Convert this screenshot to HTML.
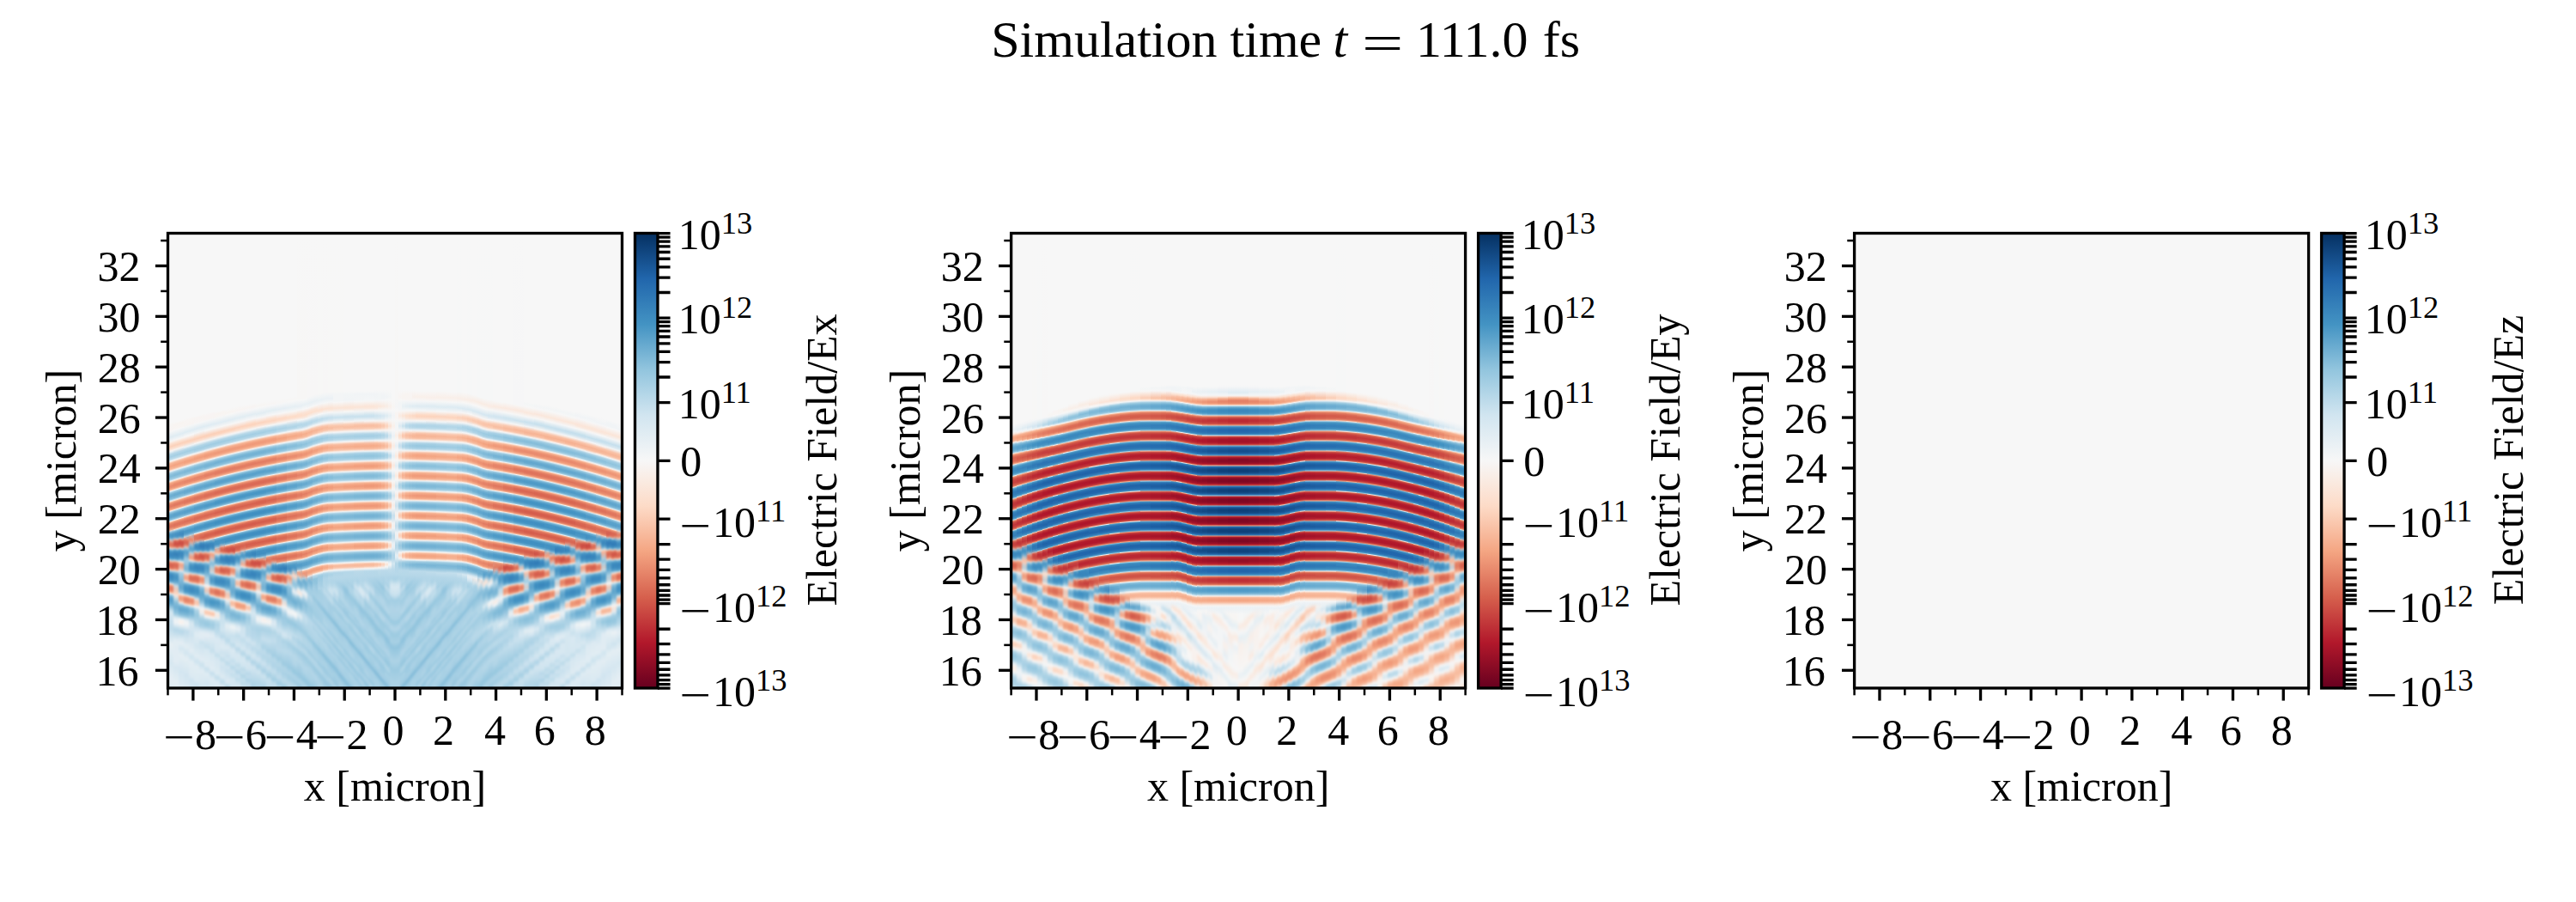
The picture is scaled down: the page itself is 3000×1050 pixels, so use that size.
<!DOCTYPE html>
<html lang="en"><head><meta charset="utf-8"><title>Simulation time t = 111.0 fs</title>
<style>
html,body{margin:0;padding:0;background:#fff;overflow:hidden}
#fig{position:relative;width:3000px;height:1050px;background:#fff;overflow:hidden;font-family:"Liberation Serif","Times New Roman",Times,serif}
.hm{position:absolute;top:271px;height:531px;width:530px;background:#f7f7f7;overflow:hidden}
.hm i{position:absolute;top:-8px;height:546px;display:block}
.lo{position:absolute;left:0;top:0;width:530px;height:531px;filter:blur(1.2px)}
.hm b{position:absolute;display:block}
svg{position:absolute;left:0;top:0}
text{font-family:"Liberation Serif","Times New Roman",Times,serif;fill:#000}
</style></head><body>
<div id="fig">
<div class="hm" style="left:195px"><div class="lo"><b style="left:-6px;top:332px;width:7px;height:206px;transform:skewY(11.31deg);background:linear-gradient(#3580b9,#3a87bd 3px,#519cc8 5px,#72b1d3 6px,#b3d6e7 7px,#f9c2a7 8px,#ec9374 9px,#e37e64 10px,#de735b 12px,#e68469 14px,#f19d7c 15px,#fcd7c2 16px,#b2d5e7 17px,#7cb7d7 18px,#529cc8 20px,#4997c5 22px,#559ec9 24px,#79b5d5 26px,#9ccae1 27px,#e2edf3 28px,#fbcfb8 29px,#f5ad8d 30px,#f09c7b 32px,#f6b394 34px,#fbe2d4 35px,#c6dfed 36px,#8ec2dc 37px,#6dadd1 38px,#4a98c5 40px,#3f8ec1 43px,#4393c3 45px,#5ea4cc 47px,#7ab6d6 48px,#aed3e6 49px,#fcdecb 50px,#f19f7d 51px,#e58368 52px,#db6d57 54px,#db6b56 56px,#e37f64 58px,#ee9777 59px,#fac7ad 60px,#bad9e9 61px,#7cb7d6 62px,#5ca3cb 63px,#408fc1 65px,#3986bc 68px,#3f8ec0 71px,#58a0ca 73px,#74b2d4 74px,#a5cee3 75px,#fae7dc 76px,#f4a683 77px,#e17960 79px,#dc6d57 81px,#de725b 83px,#e98c6f 85px,#f5a886 86px,#fbe4d7 87px,#b2d5e7 88px,#83bcd9 89px,#68aad0 90px,#4d99c6 92px,#4494c3 94px,#4c98c6 97px,#6bacd1 100px,#a6cfe4 103px,#e7eff4 105px,#f9ece4 107px,#faeae1 109px,#f7f7f7 111px,#b8d8e9 116px,#add3e6 120px,#d1e5f0 132px,#d4e6f1 139px,#e6eff4 145px,#d7e8f1 166px,#e4eef3 177px,#dbeaf2 193px,#e5eef4 205px)"></b><b style="left:1px;top:333px;width:6px;height:205px;transform:skewY(11.31deg);background:linear-gradient(#4893c3,#569dc9 1px,#8fb5cb 3px,#e3b1a0 6px,#ee9d81 7px,#ea8d70 8px,#e98c6f 9px,#ed9a7d 10px,#e4ad9c 11px,#b2b7be 13px,#78b1d2 15px,#4b95c4 17px,#408ec0 19px,#4695c4 21px,#579fca 22px,#76b3d4 23px,#adc5d2 24px,#cfb9b4 25px,#e0a697 26px,#e17b63 28px,#dc6f59 30px,#e37e64 32px,#ed9576 33px,#f9cbb4 34px,#bad9e9 35px,#78b4d5 36px,#57a0ca 37px,#3e8cbf 39px,#3884bc 42px,#4190c2 45px,#509bc7 46px,#6dadd1 47px,#a6cfe4 48px,#f6d4c3 49px,#ee9778 50px,#db6b56 52px,#d6604d 54px,#d86651 56px,#e58368 58px,#f4a684 59px,#f3efed 60px,#93c5de 61px,#68aacf 62px,#4291c2 64px,#3a87bd 67px,#4392c2 71px,#63a7ce 73px,#82bbd9 74px,#b8d8e9 75px,#fbdece 76px,#f4aa89 77px,#eb9173 78px,#e27b62 81px,#e58368 83px,#f2a180 85px,#f8bea1 86px,#f7f5f3 87px,#b5d7e8 88px,#78b4d5 90px,#5fa5cd 92px,#579fca 95px,#68abd0 99px,#c7e0ec 107px,#d4e6f0 110px,#c0dceb 128px,#e6eff4 146px,#d7e8f1 168px,#e5eef4 186px,#ddebf2 204px)"></b><b style="left:7px;top:334px;width:6px;height:204px;transform:skewY(11.31deg);background:linear-gradient(#d5a499,#e07a64 2px,#d86552 4px,#dc6d57 6px,#e37e64 7px,#f1a78b 8px,#cfc8c6 9px,#90bfd9 10px,#5ca2cb 11px,#3a86bd 13px,#317bb7 16px,#4391c2 20px,#64a8ce 21px,#b5cad6 22px,#e9b09d 23px,#e27b62 24px,#d66150 25px,#cb4b43 28px,#d7634f 31px,#e17a61 32px,#f4b093 33px,#bfd9e6 34px,#6cadd1 35px,#4a97c5 36px,#337eb8 40px,#4594c3 45px,#5ca3cc 46px,#87beda 47px,#e4ebef 48px,#f5ab89 49px,#e6866a 50px,#df745c 51px,#d86652 54px,#e48166 57px,#ee997a 58px,#f9c7af 59px,#d3e6f0 60px,#8fc3dd 61px,#6eaed2 62px,#4f9ac7 64px,#4592c3 67px,#4b98c6 70px,#69abd0 73px,#abd1e5 76px,#c9dce4 77px,#d7d4d3 78px,#e9c7b8 81px,#fbd6c2 86px,#f5e6de 88px,#c0d8e3 92px,#82bbd8 97px,#70b0d3 102px,#8cc1dc 108px,#abd2e5 111px,#dbeaf2 114px,#eff3f5 117px,#eaf1f5 121px,#bcdaea 127px,#b8d8e9 129px,#e2edf3 141px,#e1ecf3 166px,#d6e7f1 172px,#e4eef3 189px,#ddebf2 203px)"></b><b style="left:13px;top:335px;width:6px;height:203px;transform:skewY(11.31deg);background:linear-gradient(#cc4c43,#c94641 3px,#d55e4c 5px,#e17a61 6px,#e9bbaa 7px,#9cc6dc 8px,#549dc9 9px,#3480b9 11px,#2c74b3 14px,#327db8 17px,#4894c4 19px,#78b4d5 20px,#d6c9c4 21px,#e98d71 22px,#d96853 23px,#d15648 24px,#ca4942 27px,#d96753 30px,#e58368 31px,#f0baa4 32px,#bcd6e3 33px,#71b0d3 34px,#509bc8 35px,#4190c2 36px,#3986bc 39px,#4592c3 43px,#63a7ce 45px,#a6cfe4 47px,#eff3f5 48px,#f8ccb6 49px,#f4b398 50px,#f0a78c 51px,#eea58c 53px,#eebdaa 56px,#dbe8ee 59px,#bad9e9 60px,#9fcbe2 62px,#63a7ce 77px,#6bacd1 80px,#8dc1dc 83px,#a6cfe4 84px,#f8f1ec 86px,#fac9b0 87px,#f6b292 88px,#f3a585 89px,#ef9d7e 91px,#f3aa8b 93px,#f7d2bf 95px,#ebe8e6 96px,#c3deec 97px,#9ccae1 98px,#86bdda 99px,#6cadd1 101px,#62a6cd 104px,#81bad8 109px,#add3e6 112px,#deebf2 114px,#f7f6f5 116px,#f9f0ea 118px,#f7f5f4 120px,#bfdceb 127px,#b8d8e9 130px,#d8e8f1 137px,#e4eef4 143px,#d5e7f1 149px,#e4eef3 157px,#d4e6f1 176px,#e3edf3 202px)"></b><b style="left:19px;top:337px;width:6px;height:201px;transform:skewY(11.31deg);background:linear-gradient(#c53f3d,#d86652 3px,#e99278 4px,#cfc5c2 5px,#75b2d4 6px,#4895c4 7px,#347fb9 9px,#2f78b5 12px,#4793c3 16px,#66a9cf 17px,#aecad9 18px,#ecbeab 19px,#e7886c 20px,#dd7059 21px,#d66150 24px,#de745d 26px,#e68a71 27px,#e7a591 28px,#c1ccd2 30px,#92c3dd 31px,#70afd2 32px,#549ec9 35px,#63a7ce 38px,#95c4dd 42px,#a1cce2 44px,#98c6df 48px,#7cb6d6 52px,#7cb7d6 55px,#a9d1e5 58px,#d7e8f1 59px,#f1dfd6 60px,#f3b59c 62px,#efa286 64px,#f0a78b 66px,#f4c9b5 68px,#e7e3e0 69px,#b1d5e7 70px,#87beda 71px,#6cadd1 72px,#4d99c6 74px,#408fc1 77px,#4594c4 80px,#5ca3cc 82px,#96c7df 84px,#dfecf3 85px,#f9c6ac 86px,#f3a280 87px,#ea8e70 88px,#e48065 90px,#e6856a 92px,#f2a17f 94px,#f8bc9f 95px,#f9efe9 96px,#c0dceb 97px,#97c8e0 98px,#80bad8 99px,#68abd0 101px,#62a7ce 103px,#7fb9d7 108px,#a9d1e5 111px,#d7e8f1 113px,#f2f4f5 116px,#ebf1f5 120px,#c0dceb 127px,#e2edf3 144px,#d3e6f0 152px,#e3eef3 159px,#d2e5f0 179px,#e1ecf3 200px)"></b><b style="left:25px;top:338px;width:6px;height:200px;transform:skewY(11.31deg);background:linear-gradient(#d76352,#e17b64 1px,#e2a18f 2px,#cabcb9 3px,#94c2da 4px,#5da3cc 5px,#4594c3 6px,#3a87bd 9px,#4994c4 12px,#5ba0ca 13px,#7db4d5 14px,#c7c0bf 16px,#e8b8a6 17px,#ee9a7b 18px,#e8896d 19px,#e88a6d 20px,#e5aa97 22px,#91b9d0 26px,#65a8ce 28px,#5aa2cb 30px,#69abd0 32px,#7db7d7 33px,#a3cbe0 34px,#d5bfb8 36px,#e7a995 38px,#ec9d84 40px,#f3ad91 42px,#f9cab3 43px,#e8f0f4 44px,#9dcbe1 45px,#5fa5cd 47px,#4694c3 49px,#3f8dc0 52px,#4392c2 54px,#5ca3cc 56px,#77b4d5 57px,#a6cfe4 58px,#f8e5da 59px,#f3a686 60px,#e17860 62px,#db6c56 64px,#dd715a 66px,#ea8e71 68px,#f6b191 69px,#f0f4f6 70px,#96c7df 71px,#6dadd1 72px,#559ec9 73px,#408fc1 75px,#3c89be 78px,#4393c3 81px,#62a7ce 83px,#7fb9d8 84px,#add3e6 85px,#f7ebe4 86px,#f7b698 87px,#f09d7c 88px,#e8896d 90px,#e98c6f 92px,#f3a483 94px,#f7ba9c 95px,#fbe4d7 96px,#dfecf3 97px,#add3e6 98px,#96c7df 99px,#7cb7d6 101px,#74b2d4 103px,#82bbd8 107px,#c9e1ee 114px,#d8e8f1 117px,#cee3ef 129px,#e2edf3 149px,#d0e5f0 156px,#e2edf3 162px,#dceaf2 178px,#d0e4f0 183px,#dae9f2 199px)"></b><b style="left:31px;top:339px;width:6px;height:199px;transform:skewY(11.31deg);background:linear-gradient(#a0b7c6,#80b6d5 1px,#5fa4cc 2px,#4f9ac7 3px,#4896c4 6px,#67a9cf 8px,#8eb9d1 9px,#aeb7bf 10px,#e49480 13px,#df755d 15px,#e17a61 17px,#e98d6f 18px,#f1b8a1 19px,#c5c9cd 20px,#8cbeda 21px,#5fa4cc 22px,#3f8cbf 24px,#3985bc 27px,#4996c5 30px,#63a7ce 31px,#99c7df 32px,#e3cfc6 33px,#eea084 34px,#e27c62 35px,#d45c4c 38px,#d7634f 40px,#e58368 42px,#f5ad8d 43px,#d5e7f0 44px,#7eb8d7 45px,#58a0ca 46px,#3d8bbf 48px,#3783bb 51px,#4393c3 55px,#579fca 56px,#76b3d5 57px,#b1d5e7 58px,#fbcdb6 59px,#ee9878 60px,#e37f65 61px,#db6b55 63px,#dd7059 66px,#ea8d70 68px,#f5ad8d 69px,#f8f1ed 70px,#a3cee3 71px,#7ab6d6 72px,#61a6cd 73px,#4896c5 75px,#4190c1 78px,#4997c5 81px,#60a5cd 83px,#88bfdb 85px,#d1e2ea 87px,#e6dbd5 88px,#f4c9b5 90px,#f7c5ad 92px,#f9d1bd 94px,#f8efea 96px,#ecf2f5 97px,#c2ddeb 99px,#aad1e5 101px,#99c9e0 106px,#b4d6e8 117px,#d0e4f0 122px,#dfecf3 128px,#d3e6f0 142px,#e1edf3 154px,#cee3ef 160px,#e1edf3 166px,#dbeaf2 182px,#cde3ef 187px,#d3e6f0 198px)"></b><b style="left:37px;top:341px;width:6px;height:197px;transform:skewY(11.31deg);background:linear-gradient(#3884bb,#4291c2 3px,#57a0ca 4px,#8cbfdb 5px,#ccc0bd 6px,#e6a08c 7px,#df765f 8px,#d55f4f 9px,#cc4c44 11px,#d25749 14px,#da6954 15px,#e98c70 16px,#dbcac3 17px,#82b9d8 18px,#4e98c6 19px,#3c89be 20px,#2f78b5 24px,#408fc1 28px,#59a1cb 29px,#97c6df 30px,#f2ccba 31px,#e8886c 32px,#d45c4b 34px,#ce5146 36px,#d25849 38px,#df745c 40px,#ec9375 41px,#f5d6c7 42px,#9ccae1 43px,#68aad0 44px,#4190c1 46px,#3986bc 49px,#3e8cc0 52px,#4f9bc7 54px,#7fb9d7 56px,#abd2e5 57px,#f3ebe6 58px,#f7bea3 59px,#f1a384 60px,#ec9577 61px,#e98c70 63px,#ec9678 65px,#f6b395 67px,#faceb8 68px,#f7f4f2 69px,#a6cfe4 71px,#82bad8 73px,#6aacd0 76px,#61a6cd 80px,#6aacd0 84px,#85bcd9 88px,#e4eef4 95px,#f5f3f1 97px,#f4ece7 99px,#eaedee 102px,#a9d1e4 108px,#9ccae1 112px,#a9d1e5 117px,#d6e7f1 122px,#e2edf3 125px,#dfebf3 131px,#cbe2ee 136px,#e1ecf3 156px,#cbe2ee 162px,#e0ecf3 169px,#cfe4ef 196px)"></b><b style="left:43px;top:342px;width:6px;height:196px;transform:skewY(11.31deg);background:linear-gradient(#327cb7,#418fc1 2px,#62a6cd 3px,#bbccd5 4px,#eda48c 5px,#db6c57 6px,#d05448 7px,#c43d3c 10px,#cf5246 13px,#d96853 14px,#ec997e 15px,#c5ccd0 16px,#67aacf 17px,#4290c2 18px,#2e77b5 22px,#4491c2 27px,#5da4cc 28px,#96c6df 29px,#f0d7cb 30px,#ee9777 31px,#db6b55 33px,#d7624f 35px,#db6c56 37px,#e88c70 39px,#f2af95 40px,#e9d5cb 41px,#b4d6e7 42px,#82bbd9 43px,#6aabd0 44px,#539dc9 46px,#4f9ac7 48px,#65a9cf 53px,#add0e2 60px,#c7dbe5 66px,#f7f6f6 69px,#f8e8de 70px,#f0caba 73px,#e7c8bb 75px,#dad3d0 77px,#afd3e6 79px,#8fc2dd 80px,#6bacd1 82px,#529cc8 86px,#59a1ca 89px,#78b4d5 92px,#a0cce2 94px,#eaf1f5 96px,#fcdac6 98px,#facbb3 99px,#fac9b0 101px,#f9ece4 104px,#f2f5f6 105px,#a8d0e4 109px,#97c8e0 113px,#9fcce2 116px,#d6e7f1 122px,#e5eef4 126px,#c7e0ed 140px,#d7e8f1 144px,#dfecf3 157px,#deebf2 162px,#c9e1ee 166px,#dfecf3 172px,#d4e6f1 183px,#d9e9f2 195px)"></b><b style="left:49px;top:344px;width:6px;height:194px;transform:skewY(11.31deg);background:linear-gradient(#4794c3,#72b0d3 1px,#d2cdcb 2px,#ea9074 3px,#da6853 4px,#d05548 5px,#c94641 8px,#d86653 11px,#e68970 12px,#ddb9ae 13px,#a1c7dc 14px,#5ca3cc 15px,#4291c2 16px,#3580b9 19px,#3c89be 22px,#529bc7 24px,#69abd0 25px,#c3d8e2 27px,#f3dbce 28px,#f7b596 29px,#f2a585 30px,#f0a386 31px,#dfb3a5 34px,#afccdb 38px,#8cc0dc 40px,#87beda 41px,#91c3dd 43px,#a1cce1 44px,#c4c9cc 47px,#cfcac8 49px,#cfd6da 51px,#c3dce9 52px,#8cc1dc 54px,#6aabd0 56px,#569fc9 58px,#4e99c6 61px,#5fa4cc 64px,#85bdda 66px,#abd1e5 67px,#f6f5f5 68px,#f8bca0 69px,#f19e7e 70px,#e58267 72px,#e37e64 74px,#ea8d70 76px,#f1a181 77px,#f9c8b0 78px,#e1ecf1 79px,#9ac9e0 80px,#77b4d5 81px,#549ec9 83px,#4494c3 86px,#4f9bc7 89px,#65a8cf 91px,#a7d0e4 94px,#f6f3f1 96px,#fce0d0 97px,#fbceb6 98px,#fac6ac 100px,#fbcdb5 101px,#f7f5f3 104px,#afd4e6 108px,#a0cce2 112px,#a8d0e4 116px,#d4e6f0 121px,#e0ecf3 125px,#c7e0ed 143px,#d7e8f1 147px,#dfebf3 162px,#ddebf2 165px,#c6dfed 169px,#deebf2 175px,#d4e6f1 193px)"></b><b style="left:55px;top:346px;width:6px;height:192px;transform:skewY(11.31deg);background:linear-gradient(#e8c5b6,#eb9173 1px,#e0765e 2px,#d86652 4px,#dd715b 6px,#df9d8c 8px,#b4bcc3 10px,#8bbdd8 11px,#61a6cd 12px,#4d99c6 13px,#4291c2 15px,#4b97c5 17px,#76b1d3 19px,#c8b7b4 22px,#f2ae93 25px,#f6af8f 26px,#f9c4a9 27px,#e8dcd6 28px,#bfd5e0 29px,#78b4d5 31px,#63a7ce 32px,#509ac7 34px,#4c98c6 36px,#69abd0 39px,#86bdda 40px,#bfdbea 41px,#edd2c5 42px,#f2ae93 43px,#ea9174 44px,#e17a61 46px,#e68469 49px,#ed9677 50px,#f8ba9d 51px,#e6eff4 52px,#92c5de 53px,#6bacd1 54px,#4594c4 56px,#3b89be 59px,#3f8ec0 62px,#549ec9 64px,#6cadd1 65px,#94c6df 66px,#ecf2f5 67px,#f6b394 68px,#eb9172 69px,#e37e64 70px,#dc6e58 72px,#dd715a 74px,#e7886c 76px,#f3a380 77px,#fcd7c2 78px,#c4dfec 79px,#8cc1dc 80px,#6fafd2 81px,#539dc8 83px,#4a97c5 85px,#64a8ce 90px,#97c8df 93px,#e8eff2 96px,#f8eae1 99px,#e7f0f4 103px,#c1ddeb 106px,#b1d5e7 110px,#bedceb 119px,#dae9f2 127px,#d6e7f1 141px,#c4dfec 146px,#d6e7f1 150px,#ddebf2 167px,#c3deec 172px,#dceaf2 177px,#dceaf2 191px)"></b><b style="left:61px;top:347px;width:6px;height:191px;transform:skewY(11.31deg);background:linear-gradient(#e98b6e,#ed9a7d 2px,#e6b1a0 3px,#8eb6ce 6px,#549cc8 8px,#3e8cc0 11px,#4f9bc7 14px,#6bacd1 15px,#a4c3d4 16px,#ccb8b4 17px,#e0a190 18px,#e3826b 19px,#db6c57 20px,#d55f4e 22px,#db6d57 24px,#e48066 25px,#f4aa8a 26px,#d3dee4 27px,#7eb8d7 28px,#579fca 29px,#3c89be 31px,#3682ba 34px,#4c99c6 38px,#69abd0 39px,#a4cee3 40px,#f8d0bd 41px,#ec9273 42px,#d96753 44px,#d45c4b 46px,#d86450 48px,#e58267 50px,#f4a684 51px,#f2f2f2 52px,#8fc3dd 53px,#65a8cf 54px,#4190c2 56px,#3a87bd 59px,#4392c3 63px,#65a8cf 65px,#85bdd9 66px,#bedbeb 67px,#fadbcb 68px,#f4aa8a 69px,#ec9274 70px,#e37d63 73px,#e7876b 75px,#f4a886 77px,#fac9b0 78px,#eff3f6 79px,#b2d5e7 80px,#91c4dd 81px,#71b0d3 83px,#63a7ce 86px,#70b0d3 90px,#bcdaea 98px,#c9e1ed 101px,#d1e5f0 115px,#bcdaea 123px,#d6e7f1 128px,#dceaf2 135px,#cee3ef 142px,#d3e6f0 145px,#c1ddeb 150px,#d4e6f0 154px,#cee3ef 159px,#dceaf2 170px,#bfdceb 176px,#dae9f2 181px,#dbeaf2 190px)"></b><b style="left:67px;top:349px;width:6px;height:189px;transform:skewY(11.31deg);background:linear-gradient(#e1cac0,#9fc6dc 1px,#63a7ce 2px,#4994c4 3px,#317cb7 7px,#3f8ec0 11px,#569fc9 12px,#9ac7df 13px,#e3bbad 14px,#e48167 15px,#ce4f45 17px,#c7433f 20px,#d05548 22px,#da6954 23px,#eb9173 24px,#dbd8d6 25px,#76b3d4 26px,#4b98c6 27px,#3d8abf 28px,#317cb7 31px,#3a87bd 35px,#569fc9 37px,#7fb9d8 38px,#dfeaf0 39px,#f5a987 40px,#e58368 41px,#dd7059 42px,#d6614f 45px,#e27b62 48px,#ec9374 49px,#f8bea2 50px,#ddeaf2 51px,#90c4dd 52px,#6daed1 53px,#4d99c6 55px,#4391c2 58px,#4997c5 61px,#67aacf 64px,#8dc2dc 66px,#cbdde6 68px,#dbd6d3 69px,#e9c9ba 71px,#f2c6b2 73px,#f8ccb7 75px,#fbdfce 77px,#f0eeed 79px,#97c7df 86px,#84bcd9 91px,#94c6de 98px,#dae9f2 106px,#e4eef3 109px,#bbdaea 126px,#dceaf2 133px,#cae1ee 144px,#d0e5f0 148px,#bddbea 152px,#d1e5f0 157px,#c9e1ee 161px,#dae9f2 172px,#d7e8f1 175px,#bbdaea 179px,#c2ddec 188px)"></b><b style="left:73px;top:350px;width:6px;height:188px;transform:skewY(11.31deg);background:linear-gradient(#6cadd1,#4592c3 1px,#327cb7 3px,#2c74b3 6px,#3581ba 9px,#3e8cbf 10px,#58a0ca 11px,#adcedf 12px,#f0ac93 13px,#dd6f59 14px,#ca4842 16px,#c53e3d 18px,#c94741 20px,#da6a55 22px,#eb9579 23px,#d7d0cd 24px,#7bb6d6 25px,#4f9bc7 26px,#3a86bd 28px,#3783bb 32px,#3e8cc0 34px,#59a1cb 36px,#77b4d5 37px,#a4cee3 38px,#f7f3f0 39px,#f7b79a 40px,#f09e7f 41px,#e98d70 43px,#eb9377 45px,#f1ad94 47px,#efd4c7 49px,#e2e7e9 50px,#a0cce2 52px,#88beda 54px,#69abd0 67px,#6eaed2 70px,#86bcd9 73px,#aad1e5 75px,#ebf1f3 77px,#fae7dc 78px,#fbcfb8 79px,#f9c1a5 80px,#f7ba9d 82px,#f8c8b0 84px,#f2e4dc 86px,#e2eaef 87px,#a7d0e4 89px,#97c7df 90px,#82bbd8 92px,#79b5d5 95px,#99c9e0 101px,#ddebf2 106px,#eef3f5 109px,#c9e1ee 119px,#cce3ef 126px,#bddbea 130px,#dae9f2 136px,#d5e7f1 144px,#c5dfed 148px,#cde3ef 152px,#b9d9e9 156px,#cee3ef 161px,#c4dfec 165px,#d5e7f1 170px,#d1e5f0 187px)"></b><b style="left:79px;top:352px;width:6px;height:186px;transform:skewY(11.31deg);background:linear-gradient(#3784bb,#2e77b4 4px,#4693c3 8px,#68aad0 9px,#bdd1db 10px,#f2ab8f 11px,#e0775e 12px,#d6614e 13px,#ce5146 15px,#d15649 17px,#df765f 19px,#e89d88 20px,#d7beb6 21px,#aacbdc 22px,#6fafd2 23px,#559ec9 24px,#4290c2 27px,#5aa1cb 31px,#b6d7e8 36px,#cee3ee 38px,#b5cfdc 41px,#90c1dc 45px,#8bbfdb 47px,#9bc9e0 49px,#add3e6 50px,#d3e6ef 51px,#e8e0dc 52px,#f0c2ae 54px,#f0b8a1 57px,#eecbbc 59px,#e3dcd8 60px,#c2ddeb 61px,#94c5de 62px,#64a8ce 64px,#4c99c6 66px,#4392c3 69px,#519cc8 72px,#70b0d2 74px,#b5d7e8 76px,#f7f3f1 77px,#f9c3a8 78px,#f5ab89 79px,#f19e7d 80px,#f09c7b 83px,#f7b495 85px,#fbd0ba 86px,#f6f2ef 87px,#a9d1e4 89px,#96c7df 90px,#78b5d5 94px,#87beda 98px,#d4e6f1 105px,#e6eff4 109px,#c3deec 117px,#d4e6f0 128px,#bad9e9 133px,#d7e8f1 139px,#d3e6f0 147px,#c1ddeb 151px,#c8e1ed 155px,#b6d7e8 159px,#cae1ee 164px,#c0ddeb 168px,#d3e6f0 173px,#d6e7f1 185px)"></b><b style="left:85px;top:354px;width:6px;height:184px;transform:skewY(11.31deg);background:linear-gradient(#3682ba,#3c89be 3px,#589fc9 5px,#b0c7d4 7px,#e2c6ba 8px,#f0a082 9px,#e6856a 10px,#e17a61 12px,#e48167 13px,#dea799 15px,#92bad0 18px,#6babd0 19px,#579fca 20px,#4c99c6 22px,#5aa1cb 24px,#8ec0db 26px,#c5bfbf 28px,#f0ad95 32px,#f3b399 33px,#f8c7af 34px,#f6f2ef 35px,#b2d5e7 36px,#6cadd1 38px,#4e99c6 40px,#4391c2 43px,#4896c5 45px,#63a7ce 47px,#7fb9d7 48px,#b0d4e7 49px,#f9e0d2 50px,#f3a787 51px,#e98b6e 52px,#df745c 54px,#de725b 56px,#e6856a 58px,#f09d7c 59px,#faccb5 60px,#c5dfed 61px,#85bcd9 62px,#64a8ce 63px,#4393c3 65px,#3c8abf 68px,#4292c2 71px,#5ca3cc 73px,#95c6df 75px,#cfe4ef 76px,#fbe2d4 77px,#f7b799 78px,#f3a684 79px,#ef9a79 81px,#f6b191 84px,#f9c5ab 85px,#fae8de 86px,#e6eff4 87px,#bcdaea 88px,#a4cee3 89px,#85bdda 93px,#91c4de 97px,#d0e4ef 106px,#d0e4f0 115px,#c2deec 120px,#d5e7f1 130px,#b6d7e8 136px,#d4e7f1 141px,#d5e7f1 145px,#d0e5f0 150px,#bddbea 154px,#c4deec 158px,#b3d6e7 162px,#c6e0ed 167px,#bddbea 171px,#cfe4ef 175px,#cfe4ef 183px)"></b><b style="left:91px;top:356px;width:6px;height:182px;transform:skewY(11.31deg);background:linear-gradient(#73b0d3,#b4b9c0 2px,#e1a999 4px,#e6866b 6px,#e7886b 8px,#ef9b7c 9px,#eabfad 10px,#97bfd5 12px,#6babd0 13px,#4490c1 15px,#3a87bd 19px,#4a97c5 21px,#68abd0 22px,#accee0 23px,#e2c1b4 24px,#eb987e 25px,#e0785f 26px,#d55f4d 29px,#db6b55 31px,#e27c63 32px,#f19e7d 33px,#f3ede9 34px,#8cc1dc 35px,#5fa5cd 36px,#4895c4 37px,#3783bb 42px,#4392c3 45px,#569fca 46px,#77b4d5 47px,#b7d8e9 48px,#f9c3a9 49px,#ec9273 50px,#e17a61 51px,#d86450 54px,#db6c57 56px,#e98b6e 58px,#f6ae8e 59px,#f3f5f6 60px,#98c8e0 61px,#6fafd2 62px,#4a97c5 64px,#3f8dc0 67px,#4594c3 70px,#5aa1cb 72px,#80bad8 74px,#c9e0ed 76px,#ede9e6 77px,#f8ccb6 79px,#f8c5ac 80px,#f9c9b1 82px,#f5f1ef 85px,#b9d9e9 88px,#9ecbe1 92px,#b9d9e9 103px,#bcdaea 112px,#d1e5f0 118px,#c2ddec 123px,#d3e6f0 133px,#b3d6e7 139px,#d4e6f0 145px,#cfe4ef 152px,#bad9ea 157px,#c0dceb 161px,#b0d4e7 165px,#c3deec 170px,#bcdaea 181px)"></b><b style="left:97px;top:358px;width:6px;height:180px;transform:skewY(11.31deg);background:linear-gradient(#dd705a,#d3594b 2px,#d45b4b 4px,#e17960 6px,#f2a789 7px,#c7d2d8 8px,#73b1d3 9px,#4c97c5 10px,#3581ba 12px,#2f78b5 15px,#4190c1 19px,#63a7ce 20px,#c1d4de 21px,#f0a589 22px,#de725b 23px,#d45c4c 24px,#cb4942 27px,#d7634f 30px,#e27b62 31px,#f4ac8d 32px,#c1ddeb 33px,#6fafd2 34px,#4d99c6 35px,#3f8ec0 36px,#3681ba 39px,#3e8cbf 43px,#5aa1cb 45px,#7ab6d6 46px,#b3d6e7 47px,#fbd6c2 48px,#f2a180 49px,#e27c62 51px,#df745c 53px,#e37d63 55px,#ef9b7b 57px,#f7b89a 58px,#f9f0eb 59px,#b6d7e8 60px,#77b4d5 62px,#5da4cc 64px,#549dc9 67px,#6bacd1 72px,#c7dfec 80px,#d7e8f1 85px,#b0d4e7 102px,#bad9ea 114px,#cfe4ef 120px,#bcdaea 126px,#d2e6f0 134px,#cee3ef 137px,#b0d4e7 142px,#d2e5f0 148px,#aed3e6 168px,#b9d9e9 179px)"></b><b style="left:103px;top:360px;width:6px;height:178px;transform:skewY(11.31deg);background:linear-gradient(#c6403e,#ca4842 2px,#db6b55 4px,#ee9b7e 5px,#c0d4de 6px,#61a6cd 7px,#408ec1 8px,#317bb7 10px,#2c74b3 13px,#408ec0 17px,#5fa5cd 18px,#bdd5e0 19px,#f1a386 20px,#de715a 21px,#ce5146 23px,#cc4b43 25px,#d15749 27px,#e17a61 29px,#f0a285 30px,#e3ddda 31px,#8bc0dc 32px,#62a7ce 33px,#4291c2 35px,#3c8abf 38px,#4593c3 41px,#5aa2cb 43px,#83bbd9 45px,#a0cce2 46px,#cfe4ee 47px,#e7ddd8 48px,#eccec0 49px,#edbfac 52px,#f1cebd 55px,#f5f4f3 58px,#cbdfe9 61px,#87beda 68px,#6eaed2 74px,#8abfdb 80px,#acd2e5 83px,#e0ecf3 86px,#f0f3f4 89px,#eaf1f5 92px,#b6d7e8 98px,#abd2e5 102px,#c4dfec 123px,#b8d8e9 129px,#d0e4f0 137px,#add3e6 145px,#cfe4ef 151px,#b5d7e8 163px,#b0d4e7 177px)"></b><b style="left:109px;top:361px;width:6px;height:177px;transform:skewY(11.31deg);background:linear-gradient(#c6403e,#d05448 2px,#db6c56 3px,#ee9f84 4px,#c2d2da 5px,#64a8ce 6px,#4291c2 7px,#2f78b5 11px,#3581ba 14px,#4b97c5 16px,#70afd2 17px,#c4d3da 18px,#f3ac8e 19px,#e27d63 20px,#db6b56 21px,#d86451 24px,#e17b62 26px,#eab09d 28px,#dbc8c0 29px,#bcd5e1 30px,#8bc0db 31px,#72b1d3 32px,#5da4cc 35px,#8ec1dc 43px,#74b2d4 51px,#7db7d7 54px,#97c7df 56px,#b0d4e6 57px,#dceaf2 58px,#faeae1 59px,#f9c8af 60px,#f6b496 61px,#f1a485 63px,#f3ad90 65px,#f5cfbd 67px,#e9e3df 68px,#c6dfec 69px,#9dcbe1 70px,#74b2d4 72px,#5da3cc 76px,#7bb6d6 81px,#a9d1e5 84px,#eff3f6 87px,#f9efe9 89px,#f7f5f4 92px,#b6d7e8 98px,#acd2e5 101px,#c6dfed 112px,#add3e6 121px,#bedbeb 127px,#b5d7e8 133px,#cce2ef 141px,#aad1e5 149px,#cbe2ee 155px,#b2d5e7 167px,#b4d6e8 176px)"></b><b style="left:115px;top:363px;width:6px;height:175px;transform:skewY(11.31deg);background:linear-gradient(#dc6e59,#e9947b 1px,#dcbdb3 2px,#a4cade 3px,#63a7ce 4px,#4795c4 5px,#3986bc 8px,#4f98c6 12px,#66a8ce 13px,#91bed7 14px,#e8c2b2 16px,#f09e80 17px,#e8896d 18px,#e7876b 20px,#e4b2a2 22px,#9dbfd2 25px,#6cadd1 27px,#60a5cd 29px,#6cadd1 31px,#9dc9e1 33px,#c2d2da 34px,#d7cac4 35px,#eab4a1 37px,#f0ae96 39px,#f5c3ad 41px,#f1dfd6 42px,#c4dfec 43px,#91c4de 44px,#72b1d3 45px,#509bc8 47px,#4290c2 50px,#4997c5 53px,#65a9cf 55px,#81bad8 56px,#b0d4e6 57px,#fae8dd 58px,#f5ad8c 59px,#e68469 61px,#e27b62 63px,#e7866a 65px,#f5ac8b 67px,#fbd9c7 68px,#d7e7f1 69px,#9dcbe1 70px,#81bad8 71px,#64a8ce 73px,#5ba2cb 75px,#74b2d4 80px,#9fcce2 83px,#e1edf3 86px,#f7f3f0 89px,#eef3f5 92px,#b7d8e8 97px,#add3e6 101px,#c5dfed 112px,#a8d0e4 124px,#bad9e9 129px,#b3d6e7 136px,#c8e0ed 144px,#a7d0e4 152px,#c7e0ed 158px,#bbdaea 174px)"></b><b style="left:121px;top:365px;width:6px;height:173px;transform:skewY(11.31deg);background:linear-gradient(#83b9d8,#5fa5cd 1px,#4e9ac7 2px,#4694c4 5px,#5fa4cc 7px,#81b8d7 8px,#a6bdcb 9px,#daaca0 11px,#e89d88 12px,#e6866c 13px,#e27c62 14px,#e48166 16px,#ed9576 17px,#f1c0ac 18px,#c3ccd1 19px,#8abdda 20px,#5ea4cc 21px,#418ec0 23px,#3c8abe 26px,#4594c4 28px,#58a0ca 29px,#7ab6d6 30px,#c3ddea 31px,#f4c4ae 32px,#eb9375 33px,#dc6e58 35px,#d96752 37px,#df755d 39px,#e7876b 40px,#f5aa88 41px,#f4f5f6 42px,#91c4de 43px,#66a9cf 44px,#4291c2 46px,#3a87bd 49px,#4493c3 53px,#539dc9 54px,#6cadd1 55px,#94c6df 56px,#eaf1f5 57px,#f7b99b 58px,#ee9878 59px,#e7866a 60px,#e17a61 62px,#e58267 64px,#f2a07e 66px,#f8bc9f 67px,#f8f0ec 68px,#bfdceb 69px,#98c8e0 70px,#82bbd9 71px,#6cadd1 73px,#66a9cf 75px,#79b5d5 79px,#d1e5f0 86px,#ddeaf2 89px,#d5e7f1 93px,#b3d6e7 100px,#c2ddec 110px,#a4cee3 127px,#b7d8e9 132px,#b0d4e7 139px,#c3deec 146px,#a5cfe3 155px,#c2ddec 160px,#bfdceb 172px)"></b><b style="left:127px;top:368px;width:6px;height:170px;transform:skewY(11.57deg);background:linear-gradient(#3d8cbf,#529cc8 2px,#74b2d4 3px,#b9cad3 4px,#e1b4a5 5px,#e88e75 6px,#dc6e59 7px,#d55e4e 8px,#d05448 11px,#db6b56 13px,#e88a6d 14px,#e9cfc2 15px,#8cc0db 16px,#539dc8 17px,#3e8cbf 18px,#307ab6 21px,#3580b9 24px,#4291c2 26px,#5ea4cc 27px,#98c8e0 28px,#f8d0bc 29px,#e98c6e 30px,#dd7059 31px,#d35a4a 33px,#d65f4d 36px,#e37d63 38px,#f19f7e 39px,#f9eee8 40px,#96c7df 41px,#69abd0 42px,#4392c3 44px,#3b88bd 47px,#4393c3 51px,#61a6cd 53px,#a3cee3 55px,#e4e9eb 56px,#f8cfba 57px,#f5b193 58px,#f1a081 59px,#ee9879 61px,#f6b090 64px,#f9c4aa 65px,#fbe6db 66px,#e8f0f4 67px,#c0dceb 68px,#97c7df 70px,#81bad8 74px,#b4d6e8 85px,#cde3ef 95px,#b5d7e8 102px,#bad9ea 118px,#a2cde2 128px,#b5d7e8 134px,#add3e6 141px,#c0dceb 149px,#a2cde3 157px,#bbdaea 161px,#bcdaea 169px)"></b><b style="left:133px;top:370px;width:6px;height:168px;transform:skewY(19.32deg);background:linear-gradient(#509bc7,#89bdd9 1px,#d0beb8 2px,#e9947c 3px,#da6955 4px,#c8433f 7px,#cd4f45 10px,#e38066 12px,#ddb8ac 13px,#98c2d8 14px,#539cc8 15px,#3d8abe 16px,#2e77b5 19px,#3783bb 23px,#519bc8 25px,#79b5d5 26px,#c9d8df 27px,#f5b79b 28px,#e7886c 29px,#df745c 30px,#d86652 33px,#e48066 36px,#ec9679 37px,#f5bea5 38px,#e4e1df 39px,#a3cee3 40px,#7db8d7 41px,#67aacf 42px,#4a97c5 46px,#4e9ac7 49px,#63a7ce 52px,#8dc2dc 55px,#bad9e9 57px,#dadfe1 59px,#e8ded9 61px,#f3eae5 64px,#f1f4f5 66px,#add2e6 73px,#9bc9e1 78px,#a5cfe4 86px,#d4e6f1 97px,#cfe4ef 100px,#add3e6 105px,#bbdaea 117px,#9ecbe1 132px,#b2d5e7 137px,#aad1e5 144px,#bddbea 152px,#9fcce2 159px,#a1cde2 167px)"></b><b style="left:139px;top:372px;width:6px;height:166px;transform:skewY(26.4deg);background:linear-gradient(#c0b6b5,#e49c88 1px,#dd7059 2px,#cd4e45 4px,#ca4942 6px,#d2584b 8px,#db6c58 9px,#e1927f 10px,#cbafaa 11px,#9fb9c9 12px,#62a6cd 13px,#4591c2 14px,#337eb8 18px,#3884bc 20px,#4e97c5 22px,#63a7ce 23px,#b9d1de 25px,#e3d4cd 26px,#f7bfa4 27px,#f3a684 28px,#ee9a7d 30px,#ebbdac 34px,#c0dbe9 38px,#9ac9e0 40px,#8cc1dc 42px,#72b1d3 53px,#89bfdb 59px,#a6cfe4 62px,#e6eff4 66px,#f4f5f5 69px,#e6eff4 72px,#a1cce2 78px,#96c7df 81px,#c3deec 93px,#cce2ee 99px,#a7d0e4 107px,#bad9ea 117px,#9bcae1 134px,#b0d4e7 140px,#a5cfe3 146px,#bad9e9 153px,#b6d7e8 165px)"></b><b style="left:145px;top:374px;width:6px;height:164px;transform:skewY(32.71deg);background:linear-gradient(#e6876e,#d86551 2px,#d86552 4px,#dc6f5a 5px,#d99b8e 7px,#8bb2ca 10px,#62a6cd 11px,#4b97c5 12px,#3e8cc0 14px,#418ec1 16px,#569dc9 18px,#8eb9d1 20px,#dacbc4 23px,#fad8c6 25px,#f6d8c8 26px,#a1cbe1 32px,#90c3dd 35px,#a2cde2 38px,#dbe7ed 42px,#e3edf3 45px,#86bdda 51px,#6daed1 56px,#8cc1dc 61px,#b1d5e7 64px,#e9f0f4 67px,#f5f6f6 69px,#ecf2f5 72px,#aed3e6 77px,#95c7df 82px,#c1ddeb 95px,#b4d6e8 98px,#bddbea 105px,#a3cee3 110px,#b7d8e8 119px,#b2d5e7 128px,#97c8df 137px,#aed3e6 143px,#a3cde3 149px,#b5d7e8 153px,#b8d8e9 163px)"></b><b style="left:151px;top:377px;width:6px;height:161px;transform:skewY(38.24deg);background:linear-gradient(#e99177,#c6aeab 3px,#80b2ce 6px,#529dc8 8px,#4896c4 10px,#539dc8 12px,#7fb4d3 14px,#c8b2ae 17px,#f1a485 20px,#f3a888 21px,#f5bca2 22px,#bad2dd 25px,#7ab6d6 28px,#6dadd1 31px,#8ec2dc 35px,#e4ecf0 39px,#fae9df 42px,#ebeeef 45px,#a9d0e4 48px,#8dc2dc 50px,#79b5d5 54px,#87beda 59px,#d2e6f0 66px,#e1edf3 69px,#acd2e6 77px,#9bcae1 84px,#b5d7e8 90px,#bbdaea 95px,#abd2e5 100px,#b8d8e9 107px,#a0cce2 112px,#b6d7e8 122px,#97c7df 139px,#add3e6 145px,#a0cce2 151px,#a5cee3 160px)"></b><b style="left:157px;top:381px;width:6px;height:157px;transform:skewY(43.04deg);background:linear-gradient(#80b2cf,#4e9ac7 3px,#529dc8 6px,#7bb3d3 8px,#94b6cb 9px,#d0a9a0 12px,#ea9981 14px,#e88a6e 15px,#e88b6f 16px,#eb9c84 17px,#d4b6ad 19px,#98c4db 22px,#74b2d4 24px,#6daed1 26px,#8cc1dc 32px,#a5cfe3 34px,#e0ecf3 37px,#ecf1f4 39px,#d9e7ef 42px,#9fcbe2 47px,#8bc0db 51px,#9ccae1 59px,#c2ddec 65px,#c3deec 70px,#9ecbe1 85px,#b3d6e7 92px,#b3d6e7 98px,#a6cfe4 101px,#bad9e9 107px,#9ecbe1 113px,#b4d6e8 125px,#add3e6 132px,#94c6df 140px,#abd2e5 146px,#add3e6 156px)"></b><b style="left:163px;top:385px;width:6px;height:153px;transform:skewY(47.19deg);background:linear-gradient(#549ec9,#77b2d3 2px,#8db4cc 3px,#c9b3ae 6px,#ee9f83 9px,#ec9678 10px,#e29f8b 12px,#90c1dc 18px,#78b4d5 20px,#a6cfe4 31px,#a3cee3 35px,#b6d7e8 39px,#9ac9e0 52px,#a5cfe4 62px,#bad9ea 67px,#afd4e6 83px,#99c9e0 88px,#b1d5e7 94px,#b0d4e7 100px,#a2cde2 104px,#b5d7e8 110px,#9ecbe1 116px,#b2d5e7 124px,#abd2e5 134px,#96c7df 142px,#9ccae1 152px)"></b><b style="left:169px;top:389px;width:6px;height:149px;transform:skewY(50.19deg);background:linear-gradient(#bfc5c9,#f7bea4 4px,#deb8a9 7px,#92c4dd 13px,#84bcd9 15px,#a4cee3 27px,#a8d0e4 34px,#97c7df 38px,#a8d0e4 43px,#a1cde2 56px,#b1d5e7 61px,#a6cfe4 65px,#b8d8e9 69px,#acd2e5 73px,#b5d7e8 76px,#b0d4e7 86px,#92c5de 91px,#aad1e5 97px,#aed3e6 104px,#a2cde2 107px,#b4d6e8 111px,#b0d4e6 115px,#9ac9e0 119px,#b4d6e8 128px,#9ccae1 141px,#9dcbe1 148px)"></b><b style="left:175px;top:391px;width:6px;height:147px;transform:skewY(50.19deg);background:linear-gradient(#e7eaec,#dcd7d4 3px,#95c5de 9px,#89bfdb 11px,#aed3e6 23px,#a5cfe3 27px,#aad1e5 38px,#91c4de 44px,#a8d0e4 48px,#a3cee3 61px,#b4d6e8 65px,#a4cee3 70px,#b8d8e9 75px,#a9d1e5 78px,#b3d6e7 82px,#abd2e5 91px,#8fc3dd 96px,#a8d0e4 102px,#aad1e5 109px,#9dcbe1 112px,#b5d7e8 118px,#9bc9e0 124px,#afd4e6 133px,#add3e6 146px)"></b><b style="left:181px;top:391px;width:6px;height:147px;transform:skewY(50.19deg);background:linear-gradient(#bfdceb,#8ec2dd 9px,#bbdaea 20px,#b3d6e7 23px,#c0dceb 28px,#aad1e5 34px,#acd2e6 45px,#8bc1dc 51px,#a5cfe4 55px,#b1d5e7 65px,#a5cfe4 68px,#b4d6e8 72px,#9ecbe1 77px,#b2d5e7 82px,#a4cee3 85px,#b2d5e7 88px,#b1d5e7 92px,#a5cfe3 99px,#89bfdb 103px,#a7d0e4 109px,#acd2e5 113px,#9ccae1 119px,#afd4e6 126px,#99c8e0 131px,#acd2e6 146px)"></b><b style="left:187px;top:390px;width:6px;height:148px;transform:skewY(50.19deg);background:linear-gradient(#a5cfe4,#92c4de 10px,#cbe2ee 22px,#cfe4ef 28px,#b6d7e8 32px,#c1ddeb 38px,#a5cee3 43px,#a6cfe4 54px,#8ac0db 59px,#aad1e5 64px,#acd2e6 73px,#a0cce2 76px,#b4d6e8 81px,#9ecbe1 85px,#afd4e6 90px,#a0cce2 93px,#add2e6 97px,#aad1e5 106px,#89c0db 111px,#a2cde3 117px,#a8d0e4 124px,#9ecbe1 127px,#b2d5e7 132px,#98c8e0 139px,#99c9e0 147px)"></b><b style="left:193px;top:389px;width:6px;height:149px;transform:skewY(50.19deg);background:linear-gradient(#9ac9e0,#9ac9e0 16px,#c0ddeb 23px,#cfe4ef 29px,#b8d8e9 34px,#bcdaea 36px,#a2cde3 40px,#b3d6e8 45px,#a1cde2 51px,#afd4e6 56px,#a2cde2 63px,#85bdda 67px,#a3cee3 71px,#afd4e6 79px,#9ecbe1 85px,#afd4e6 89px,#98c8e0 94px,#b1d5e7 98px,#a2cde2 102px,#add3e6 105px,#a5cee3 114px,#89bfdb 119px,#a7d0e4 126px,#9bc9e0 136px,#aad1e5 139px,#b0d4e7 148px)"></b><b style="left:199px;top:389px;width:6px;height:149px;transform:skewY(50.19deg);background:linear-gradient(#97c8e0,#a1cde2 16px,#98c8e0 20px,#b4d6e8 28px,#b3d6e7 37px,#a3cee3 41px,#acd2e5 44px,#9ecbe1 47px,#b3d6e8 52px,#9dcbe1 58px,#aad1e5 61px,#a9d1e5 69px,#87beda 75px,#a4cee3 79px,#acd2e5 89px,#a1cde2 92px,#b3d6e7 96px,#97c7df 101px,#abd2e5 105px,#9dcae1 109px,#aed3e6 113px,#abd1e5 119px,#a1cce2 123px,#86bdda 127px,#a0cce2 132px,#aad1e5 137px,#a4cee3 148px)"></b><b style="left:205px;top:388px;width:6px;height:150px;transform:skewY(50.19deg);background:linear-gradient(#97c8e0,#9ccae1 15px,#abd2e5 21px,#91c4de 28px,#b3d6e7 44px,#99c8e0 55px,#b5d7e8 62px,#a1cde2 66px,#abd2e5 69px,#a2cde3 78px,#86bdda 82px,#a4cee3 86px,#abd2e5 89px,#a9d1e5 97px,#9ccae1 100px,#add3e6 105px,#9bc9e0 109px,#afd4e6 113px,#9dcae1 117px,#a9d1e5 120px,#a7d0e4 130px,#89bfdb 135px,#a0cce2 141px,#a3cde3 149px)"></b><b style="left:211px;top:388px;width:6px;height:150px;transform:skewY(50.19deg);background:linear-gradient(#97c8e0,#99c8e0 10px,#add3e6 19px,#a3cde3 22px,#b1d5e7 26px,#b0d4e6 31px,#99c9e0 36px,#b0d4e7 53px,#a4cee3 56px,#add3e6 59px,#9ac9e0 62px,#afd4e6 67px,#9dcbe1 73px,#aed3e6 79px,#a4cee3 85px,#83bcd9 90px,#a2cde3 94px,#aed3e6 101px,#afd4e6 104px,#9fcbe2 107px,#acd2e6 112px,#96c7df 116px,#add3e6 121px,#a0cce2 124px,#afd4e6 128px,#a1cde2 138px,#8dc1dc 142px,#8ec2dc 149px)"></b><b style="left:217px;top:387px;width:6px;height:151px;transform:skewY(50.19deg);background:linear-gradient(#97c8e0,#9ccae1 16px,#bfdceb 21px,#d0e4ef 26px,#bcdaea 30px,#c2deec 33px,#b5d7e8 38px,#96c7df 44px,#afd4e6 53px,#add3e6 61px,#9fcce2 64px,#a8d0e4 67px,#9ccae1 71px,#b6d7e8 76px,#9dcbe1 81px,#a8d0e4 85px,#a6cfe4 93px,#86beda 98px,#a4cee3 102px,#a9d1e5 112px,#9dcbe1 115px,#b3d6e7 119px,#98c8e0 125px,#abd1e5 129px,#9ccae1 132px,#a9d1e5 136px,#aed3e6 150px)"></b><b style="left:223px;top:387px;width:6px;height:151px;transform:skewY(50.19deg);background:linear-gradient(#97c8e0,#9dcbe1 12px,#b9d9e9 18px,#b9d9e9 23px,#dbeaf2 29px,#d4e7f1 34px,#b4d6e8 38px,#bcdaea 41px,#afd4e6 46px,#91c4de 51px,#b3d6e8 67px,#98c8e0 78px,#afd4e6 83px,#a1cce2 89px,#add3e6 93px,#a0cce2 101px,#83bbd9 105px,#a4cee3 109px,#abd2e5 112px,#9ccae1 123px,#acd2e6 127px,#98c8e0 131px,#b1d4e7 136px,#9fcce2 140px,#a5cee3 150px)"></b><b style="left:229px;top:386px;width:6px;height:152px;transform:skewY(50.19deg);background:linear-gradient(#97c8e0,#99c9e0 12px,#cde3ef 25px,#bad9e9 31px,#d2e5f0 37px,#a2cde2 46px,#a8d0e4 53px,#93c5de 59px,#a7d0e4 66px,#add2e6 75px,#a1cde2 80px,#abd2e5 83px,#9bcae1 86px,#afd4e6 91px,#9ccae1 97px,#abd2e5 105px,#a5cfe3 109px,#83bbd9 113px,#a3cde3 118px,#aed3e6 127px,#a0cce2 131px,#aed3e6 135px,#95c6df 140px,#a3cee3 144px,#a0cce2 151px)"></b><b style="left:235px;top:386px;width:6px;height:152px;transform:skewY(50.19deg);background:linear-gradient(#97c8e0,#9dcbe1 19px,#c6dfed 31px,#a1cde2 38px,#b5d7e8 44px,#b3d6e7 49px,#a1cce2 53px,#acd2e6 56px,#a5cfe3 61px,#8fc3dd 66px,#afd4e6 77px,#acd2e5 84px,#9ecbe1 87px,#a6cfe4 90px,#97c7df 93px,#b1d5e7 97px,#b5d7e8 100px,#9dcbe1 104px,#a8d0e4 108px,#a1cde2 116px,#86bdda 121px,#a6cfe4 125px,#a8d0e4 134px,#9bc9e1 138px,#b0d4e6 142px,#a8d0e4 151px)"></b><b style="left:241px;top:386px;width:6px;height:152px;transform:skewY(50.19deg);background:linear-gradient(#97c8e0,#a0cce2 15px,#95c6df 19px,#a7d0e4 23px,#9ecbe1 26px,#b2d5e7 39px,#9ccae1 46px,#b2d5e7 51px,#acd2e5 57px,#9bcae1 60px,#abd1e5 68px,#91c4dd 74px,#b2d5e7 90px,#a2cde3 94px,#a8d0e4 97px,#97c7df 100px,#add3e6 105px,#9ecbe1 111px,#acd2e6 117px,#a1cde2 123px,#81bad8 128px,#9dcae1 131px,#a9d1e5 135px,#aad1e5 151px)"></b><b style="left:247px;top:385px;width:6px;height:153px;transform:skewY(50.19deg);background:linear-gradient(#97c8e0,#9ecbe1 17px,#abd2e5 21px,#96c7df 28px,#a5cfe3 31px,#9ecbe1 34px,#b4d6e8 42px,#b0d4e6 48px,#97c8df 54px,#b6d7e8 61px,#b2d5e7 65px,#9dcbe1 68px,#a4cee3 77px,#90c4dd 81px,#aad1e5 89px,#acd2e5 99px,#9ecbe1 102px,#aad1e5 105px,#9bcae1 109px,#b0d4e7 113px,#9bcae1 119px,#a7cfe4 131px,#83bbd9 136px,#a3cee3 141px,#9ecbe1 152px)"></b><b style="left:253px;top:385px;width:6px;height:153px;transform:skewY(50.19deg);background:linear-gradient(#97c8e0,#99c9e0 10px,#b4d6e8 21px,#abd2e5 25px,#c0dceb 29px,#a8d0e4 34px,#aed3e6 39px,#a1cde2 42px,#b6d7e8 55px,#98c8e0 61px,#b0d4e7 67px,#9fcbe2 76px,#add3e6 80px,#8ec2dd 89px,#b1d4e7 103px,#96c7df 116px,#b3d6e7 122px,#9fcce2 127px,#a9d1e5 130px,#a2cde3 138px,#86bdda 143px,#93c5de 146px,#95c6df 152px)"></b><b style="left:259px;top:386px;width:6px;height:152px;transform:skewY(26.1deg);background:linear-gradient(#97c8e0,#99c9e0 15px,#cfe4ef 21px,#d7e8f1 26px,#c9e1ee 35px,#a3cee3 41px,#b1d4e7 52px,#abd2e5 62px,#9bcae1 67px,#b4d6e8 74px,#9dcbe1 81px,#a8d0e4 90px,#93c5de 96px,#aed3e6 112px,#9dcbe1 122px,#acd2e5 137px,#a4cee3 151px)"></b><b style="left:265px;top:386px;width:6px;height:152px;transform:skewY(-26.1deg);background:linear-gradient(#97c8e0,#99c9e0 15px,#cfe4ef 21px,#d7e8f1 26px,#c9e1ee 35px,#a3cee3 41px,#b1d4e7 52px,#abd2e5 62px,#9bcae1 67px,#b4d6e8 74px,#9dcbe1 81px,#a8d0e4 90px,#93c5de 96px,#aed3e6 112px,#9dcbe1 122px,#acd2e5 137px,#a4cee3 151px)"></b><b style="left:271px;top:385px;width:6px;height:153px;transform:skewY(-50.19deg);background:linear-gradient(#97c8e0,#99c9e0 10px,#b4d6e8 21px,#abd2e5 25px,#c0dceb 29px,#a8d0e4 34px,#aed3e6 39px,#a1cde2 42px,#b6d7e8 55px,#98c8e0 61px,#b0d4e7 67px,#9fcbe2 76px,#add3e6 80px,#8ec2dd 89px,#b1d4e7 103px,#96c7df 116px,#b3d6e7 122px,#9fcce2 127px,#a9d1e5 130px,#a2cde3 138px,#86bdda 143px,#93c5de 146px,#95c6df 152px)"></b><b style="left:277px;top:385px;width:6px;height:153px;transform:skewY(-50.19deg);background:linear-gradient(#97c8e0,#9ecbe1 17px,#abd2e5 21px,#96c7df 28px,#a5cfe3 31px,#9ecbe1 34px,#b4d6e8 42px,#b0d4e6 48px,#97c8df 54px,#b6d7e8 61px,#b2d5e7 65px,#9dcbe1 68px,#a4cee3 77px,#90c4dd 81px,#aad1e5 89px,#acd2e5 99px,#9ecbe1 102px,#aad1e5 105px,#9bcae1 109px,#b0d4e7 113px,#9bcae1 119px,#a7cfe4 131px,#83bbd9 136px,#a3cee3 141px,#9ecbe1 152px)"></b><b style="left:283px;top:386px;width:6px;height:152px;transform:skewY(-50.19deg);background:linear-gradient(#97c8e0,#a0cce2 15px,#95c6df 19px,#a7d0e4 23px,#9ecbe1 26px,#b2d5e7 39px,#9ccae1 46px,#b2d5e7 51px,#acd2e5 57px,#9bcae1 60px,#abd1e5 68px,#91c4dd 74px,#b2d5e7 90px,#a2cde3 94px,#a8d0e4 97px,#97c7df 100px,#add3e6 105px,#9ecbe1 111px,#acd2e6 117px,#a1cde2 123px,#81bad8 128px,#9dcae1 131px,#a9d1e5 135px,#aad1e5 151px)"></b><b style="left:289px;top:386px;width:6px;height:152px;transform:skewY(-50.19deg);background:linear-gradient(#97c8e0,#9dcbe1 19px,#c6dfed 31px,#a1cde2 38px,#b5d7e8 44px,#b3d6e7 49px,#a1cce2 53px,#acd2e6 56px,#a5cfe3 61px,#8fc3dd 66px,#afd4e6 77px,#acd2e5 84px,#9ecbe1 87px,#a6cfe4 90px,#97c7df 93px,#b1d5e7 97px,#b5d7e8 100px,#9dcbe1 104px,#a8d0e4 108px,#a1cde2 116px,#86bdda 121px,#a6cfe4 125px,#a8d0e4 134px,#9bc9e1 138px,#b0d4e6 142px,#a8d0e4 151px)"></b><b style="left:295px;top:386px;width:6px;height:152px;transform:skewY(-50.19deg);background:linear-gradient(#97c8e0,#99c9e0 12px,#cde3ef 25px,#bad9e9 31px,#d2e5f0 37px,#a2cde2 46px,#a8d0e4 53px,#93c5de 59px,#a7d0e4 66px,#add2e6 75px,#a1cde2 80px,#abd2e5 83px,#9bcae1 86px,#afd4e6 91px,#9ccae1 97px,#abd2e5 105px,#a5cfe3 109px,#83bbd9 113px,#a3cde3 118px,#aed3e6 127px,#a0cce2 131px,#aed3e6 135px,#95c6df 140px,#a3cee3 144px,#a0cce2 151px)"></b><b style="left:301px;top:387px;width:6px;height:151px;transform:skewY(-50.19deg);background:linear-gradient(#97c8e0,#9dcbe1 12px,#b9d9e9 18px,#b9d9e9 23px,#dbeaf2 29px,#d4e7f1 34px,#b4d6e8 38px,#bcdaea 41px,#afd4e6 46px,#91c4de 51px,#b3d6e8 67px,#98c8e0 78px,#afd4e6 83px,#a1cce2 89px,#add3e6 93px,#a0cce2 101px,#83bbd9 105px,#a4cee3 109px,#abd2e5 112px,#9ccae1 123px,#acd2e6 127px,#98c8e0 131px,#b1d4e7 136px,#9fcce2 140px,#a5cee3 150px)"></b><b style="left:307px;top:387px;width:6px;height:151px;transform:skewY(-50.19deg);background:linear-gradient(#97c8e0,#9ccae1 16px,#bfdceb 21px,#d0e4ef 26px,#bcdaea 30px,#c2deec 33px,#b5d7e8 38px,#96c7df 44px,#afd4e6 53px,#add3e6 61px,#9fcce2 64px,#a8d0e4 67px,#9ccae1 71px,#b6d7e8 76px,#9dcbe1 81px,#a8d0e4 85px,#a6cfe4 93px,#86beda 98px,#a4cee3 102px,#a9d1e5 112px,#9dcbe1 115px,#b3d6e7 119px,#98c8e0 125px,#abd1e5 129px,#9ccae1 132px,#a9d1e5 136px,#aed3e6 150px)"></b><b style="left:313px;top:388px;width:6px;height:150px;transform:skewY(-50.19deg);background:linear-gradient(#97c8e0,#99c8e0 10px,#add3e6 19px,#a3cde3 22px,#b1d5e7 26px,#b0d4e6 31px,#99c9e0 36px,#b0d4e7 53px,#a4cee3 56px,#add3e6 59px,#9ac9e0 62px,#afd4e6 67px,#9dcbe1 73px,#aed3e6 79px,#a4cee3 85px,#83bcd9 90px,#a2cde3 94px,#aed3e6 101px,#afd4e6 104px,#9fcbe2 107px,#acd2e6 112px,#96c7df 116px,#add3e6 121px,#a0cce2 124px,#afd4e6 128px,#a1cde2 138px,#8dc1dc 142px,#8ec2dc 149px)"></b><b style="left:319px;top:388px;width:6px;height:150px;transform:skewY(-50.19deg);background:linear-gradient(#97c8e0,#9ccae1 15px,#abd2e5 21px,#91c4de 28px,#b3d6e7 44px,#99c8e0 55px,#b5d7e8 62px,#a1cde2 66px,#abd2e5 69px,#a2cde3 78px,#86bdda 82px,#a4cee3 86px,#abd2e5 89px,#a9d1e5 97px,#9ccae1 100px,#add3e6 105px,#9bc9e0 109px,#afd4e6 113px,#9dcae1 117px,#a9d1e5 120px,#a7d0e4 130px,#89bfdb 135px,#a0cce2 141px,#a3cde3 149px)"></b><b style="left:325px;top:389px;width:6px;height:149px;transform:skewY(-50.19deg);background:linear-gradient(#97c8e0,#a1cde2 16px,#98c8e0 20px,#b4d6e8 28px,#b3d6e7 37px,#a3cee3 41px,#acd2e5 44px,#9ecbe1 47px,#b3d6e8 52px,#9dcbe1 58px,#aad1e5 61px,#a9d1e5 69px,#87beda 75px,#a4cee3 79px,#acd2e5 89px,#a1cde2 92px,#b3d6e7 96px,#97c7df 101px,#abd2e5 105px,#9dcae1 109px,#aed3e6 113px,#abd1e5 119px,#a1cce2 123px,#86bdda 127px,#a0cce2 132px,#aad1e5 137px,#a4cee3 148px)"></b><b style="left:331px;top:389px;width:6px;height:149px;transform:skewY(-50.19deg);background:linear-gradient(#95c6df,#9bc9e0 16px,#c0dceb 23px,#cfe4ef 29px,#b8d8e9 34px,#bcdaea 36px,#a2cde3 40px,#b3d6e8 45px,#a1cde2 51px,#afd4e6 56px,#a2cde2 63px,#85bdda 67px,#a3cee3 71px,#afd4e6 79px,#9ecbe1 85px,#afd4e6 89px,#98c8e0 94px,#b1d5e7 98px,#a2cde2 102px,#add3e6 105px,#a5cee3 114px,#89bfdb 119px,#a7d0e4 126px,#9bc9e0 136px,#aad1e5 139px,#b0d4e7 148px)"></b><b style="left:337px;top:390px;width:6px;height:148px;transform:skewY(-50.19deg);background:linear-gradient(#8bc1dc,#a5cfe3 14px,#cae1ee 22px,#cfe4ef 28px,#b7d8e9 32px,#c5dfec 37px,#a4cee3 43px,#a5cfe4 54px,#8ac0db 59px,#aad1e5 64px,#acd2e6 73px,#a0cce2 76px,#b4d6e8 81px,#9ecbe1 85px,#afd4e6 90px,#a0cce2 93px,#add3e6 97px,#aad1e5 106px,#89c0db 111px,#a2cde3 117px,#a8d0e4 124px,#9ecbe1 127px,#b2d5e7 132px,#98c8e0 139px,#99c9e0 147px)"></b><b style="left:343px;top:391px;width:6px;height:147px;transform:skewY(-50.19deg);background:linear-gradient(#7fb9d8,#a6cfe4 9px,#a7d0e4 17px,#b8d9e9 20px,#b3d6e8 23px,#c5dfec 28px,#acd2e5 34px,#a8d0e4 46px,#8bc1dc 51px,#a7cfe4 55px,#b1d5e7 64px,#a5cfe3 68px,#b3d6e7 72px,#9ecbe1 77px,#b0d4e7 81px,#a5cfe3 85px,#b4d6e8 90px,#a5cfe3 99px,#89bfdb 103px,#a7d0e4 109px,#acd2e5 113px,#9ccae1 119px,#afd4e6 126px,#99c8e0 131px,#acd2e6 146px)"></b><b style="left:349px;top:391px;width:6px;height:147px;transform:skewY(-50.19deg);background:linear-gradient(#70b0d2,#72b1d3 3px,#a6cfe3 9px,#b2d5e7 12px,#a2cde3 16px,#b5d7e8 23px,#aad1e5 27px,#b0d4e7 31px,#8ec2dd 44px,#a8d0e4 48px,#b1d5e7 55px,#a4cee3 61px,#b2d5e7 65px,#a1cde2 70px,#b5d7e8 74px,#a9d1e5 78px,#b4d6e8 84px,#a9d0e4 92px,#8fc3dd 96px,#a8d0e4 102px,#aad1e5 109px,#9dcbe1 112px,#b5d7e8 118px,#9bc9e0 124px,#afd4e6 133px,#add3e6 146px)"></b><b style="left:355px;top:389px;width:6px;height:149px;transform:skewY(-50.19deg);background:linear-gradient(#8fbad1,#5ea4cc 3px,#5ca3cb 6px,#bbdaea 14px,#cae1ed 17px,#acd2e5 22px,#9ecbe2 34px,#8dc2dc 38px,#b1d5e7 52px,#a9d1e5 56px,#b4d6e8 60px,#a1cde2 65px,#b9d9e9 80px,#b2d5e7 86px,#92c5de 91px,#aad1e5 97px,#aed3e6 104px,#a2cde2 107px,#b4d6e8 111px,#b0d4e6 115px,#9ac9e0 119px,#b4d6e8 128px,#9ccae1 141px,#9dcbe1 148px)"></b><b style="left:361px;top:385px;width:6px;height:153px;transform:skewY(-47.19deg);background:linear-gradient(#e5a590,#cbb1ab 2px,#7cb1d0 6px,#549ec9 8px,#4a97c5 10px,#5ea3cc 13px,#c6deeb 18px,#eceded 21px,#e5e7e7 23px,#a3cee3 30px,#85bcd9 35px,#b4d7e8 50px,#b3d6e7 57px,#a1cde2 62px,#b9d9e9 80px,#b3d6e7 84px,#9bcae1 88px,#b0d4e7 94px,#a2cde2 104px,#b5d7e8 110px,#9ecbe1 116px,#b2d5e7 124px,#abd2e5 134px,#96c7df 142px,#9ccae1 152px)"></b><b style="left:367px;top:381px;width:6px;height:157px;transform:skewY(-43.04deg);background:linear-gradient(#c3b2af,#eea289 3px,#ed9879 4px,#e7a58f 6px,#cab3af 8px,#84b2cd 11px,#559ec9 13px,#4593c3 15px,#589fca 18px,#a1c8de 21px,#d5dbdd 23px,#fbe4d7 26px,#e6e4e3 29px,#c2ddea 31px,#91c4dd 34px,#7eb8d7 39px,#8ac0db 43px,#d5e7f0 53px,#a5cfe3 60px,#9ac9e0 67px,#bedceb 80px,#a5cfe3 86px,#b2d5e7 93px,#a5cfe3 101px,#b9d9e9 108px,#9ecbe1 113px,#b4d6e8 122px,#b3d6e7 127px,#94c6df 140px,#abd2e5 146px,#add3e6 156px)"></b><b style="left:373px;top:377px;width:6px;height:161px;transform:skewY(-38.24deg);background:linear-gradient(#4894c4,#5fa3cc 2px,#95b8cc 4px,#d9aea1 7px,#ed987a 9px,#ec9273 10px,#e6a590 12px,#aeb6be 15px,#7bb2d2 17px,#60a4cc 18px,#4f9bc7 20px,#68aad0 23px,#b0d1e2 26px,#dbdedf 28px,#f3f1ef 31px,#deebf2 33px,#85bdda 38px,#70afd2 42px,#8cc1dc 47px,#a5cfe4 49px,#e6eff4 52px,#f5f3f1 54px,#e7eef1 57px,#a0cce2 63px,#8dc2dc 67px,#99c9e0 72px,#c9e1ee 80px,#b0d4e6 85px,#b4d6e8 97px,#a7d0e4 100px,#b9d9e9 106px,#a0cce2 112px,#b7d8e9 121px,#97c7df 139px,#add3e6 145px,#a0cce2 151px,#a5cee3 160px)"></b><b style="left:379px;top:374px;width:6px;height:164px;transform:skewY(-32.71deg);background:linear-gradient(#4592c2,#3884bc 3px,#4590c2 6px,#559cc8 7px,#76b0d2 8px,#99b7c9 9px,#d9ada0 11px,#eb9c84 12px,#e48065 13px,#df755d 15px,#e27d64 16px,#db9f91 18px,#8bbad4 22px,#72b0d3 23px,#64a8ce 25px,#74b2d4 28px,#a6cee3 32px,#b2d5e7 34px,#7bb6d6 42px,#7cb7d6 46px,#9ac9e0 49px,#dfecf3 52px,#f1f2f3 53px,#f9ebe3 55px,#eff3f6 59px,#a1cce2 63px,#88bfda 66px,#81bad8 69px,#95c6df 74px,#cae2ee 80px,#cbe2ee 86px,#a9d0e4 98px,#bcdbea 104px,#a4cee3 111px,#b7d8e8 119px,#b2d5e7 128px,#97c8df 137px,#aed3e6 143px,#a3cde3 149px,#b5d7e8 153px,#b8d8e9 163px)"></b><b style="left:385px;top:372px;width:6px;height:166px;transform:skewY(-26.4deg);background:linear-gradient(#84b6d2,#4f99c6 1px,#3c8abe 2px,#307ab6 5px,#3580b9 8px,#4b95c4 10px,#73afd2 11px,#acbac4 12px,#d8ada1 13px,#e5866d 14px,#d96853 15px,#cf5246 18px,#d76352 20px,#e07862 21px,#e49985 22px,#bdc1c6 24px,#96c3db 25px,#6daed1 26px,#5aa2cb 27px,#4e99c7 31px,#66a9cf 35px,#bad9e9 43px,#cbdce4 47px,#edf2f5 53px,#dbe9f1 57px,#90c4dd 63px,#7db8d7 68px,#87beda 72px,#cfe4f0 81px,#ddebf2 84px,#a9d1e5 95px,#badaea 102px,#aad1e5 108px,#bbdaea 117px,#9bcae1 135px,#b0d4e7 140px,#a5cfe3 146px,#bad9e9 153px,#b6d7e8 165px)"></b><b style="left:391px;top:370px;width:6px;height:168px;transform:skewY(-19.32deg);background:linear-gradient(#eea78f,#c1c7cb 1px,#71b0d3 2px,#4995c4 3px,#3a87bd 4px,#2e77b5 7px,#327cb7 10px,#428fc1 12px,#63a7ce 13px,#b4c5ce 14px,#e9a995 15px,#dd715a 16px,#cb4942 18px,#c7433f 20px,#d55f4e 23px,#e0775f 24px,#efaa92 25px,#cdcfd0 26px,#7fb9d7 27px,#57a0ca 28px,#4393c3 29px,#3986bc 32px,#4290c1 36px,#59a1cb 38px,#8fc3dd 40px,#c4deec 41px,#fae6db 42px,#f7bc9f 43px,#f2a687 44px,#ec9678 46px,#ed997b 48px,#f3ac8e 50px,#f7bea3 51px,#f2f2f2 53px,#a8d0e4 55px,#95c6df 56px,#78b5d5 59px,#70b0d2 62px,#7cb7d7 67px,#d3e6f0 83px,#aed3e6 93px,#b8d8e9 100px,#aed3e6 105px,#bfdceb 114px,#9ecbe1 132px,#b2d5e7 137px,#aad1e5 144px,#bddbea 152px,#9fcce2 159px,#a1cde2 167px)"></b><b style="left:397px;top:368px;width:6px;height:170px;transform:skewY(-11.57deg);background:linear-gradient(#df745c,#e68469 1px,#f3aa8c 2px,#d5d0cf 3px,#91c1dc 4px,#5ea4cc 5px,#4793c3 6px,#337eb8 10px,#4593c3 14px,#66a9cf 15px,#bbd1dd 16px,#eeae98 17px,#e0765e 18px,#d45d4d 19px,#cb4a43 21px,#cd4e44 23px,#d96753 25px,#e68469 26px,#f9c9b2 27px,#99c8e0 28px,#60a5cd 29px,#4594c3 30px,#3c8abf 31px,#3580b9 34px,#3b88bd 37px,#4e9ac7 39px,#69abd0 40px,#99c9e0 41px,#f9eee7 42px,#f4a583 43px,#e0775f 45px,#db6b55 47px,#dd7059 49px,#e8886c 51px,#f3a381 52px,#fcd6c1 53px,#c8e1ed 54px,#8fc3dd 55px,#72b1d3 56px,#569fc9 58px,#4d99c6 60px,#62a6cd 65px,#8ac0db 68px,#d7e7ef 72px,#e8ecee 75px,#e5eef3 77px,#b7d8e9 83px,#afd4e6 89px,#b8d9e9 97px,#b1d5e7 102px,#c6dfed 111px,#a1cde2 129px,#b5d7e8 134px,#add3e6 141px,#c0dceb 149px,#a2cde3 157px,#bbdaea 161px,#bcdaea 169px)"></b><b style="left:403px;top:365px;width:6px;height:173px;transform:skewY(-11.31deg);background:linear-gradient(#c4c1c2,#e4bbab 1px,#f0a285 2px,#ea8e70 3px,#ea8e71 5px,#efa489 6px,#c4bdbc 8px,#82b7d6 10px,#5fa4cc 11px,#4e98c6 12px,#3f8ec0 15px,#4997c5 17px,#5ca3cc 18px,#85bbd9 19px,#bfc5c9 20px,#dfb2a4 21px,#e99781 22px,#e27c63 23px,#db6c57 25px,#e17960 27px,#ea8d70 28px,#f7b799 29px,#cfe3ee 30px,#80bad8 31px,#5ca3cc 32px,#408ec0 34px,#3a87bd 37px,#4392c3 40px,#6daed2 42px,#9ecbe1 43px,#fae7dc 44px,#f2a180 45px,#de735c 47px,#d96752 49px,#dc6d57 51px,#e88a6d 53px,#f5ab8a 54px,#f6f2ef 55px,#9bcae1 56px,#71b0d3 57px,#4b98c6 59px,#408fc1 62px,#4796c5 65px,#5ea4cc 67px,#87beda 69px,#a5cfe3 70px,#d5e7f0 71px,#f4ece6 72px,#fad8c6 73px,#f9c9b1 74px,#f9c4aa 76px,#fbd8c5 78px,#f4f4f5 80px,#b3d6e8 83px,#9bc9e0 87px,#b8d8e9 96px,#c9e1ee 109px,#a4cee3 127px,#b7d8e9 132px,#b0d4e7 139px,#c3deec 146px,#a5cfe3 155px,#c2ddec 160px,#bfdceb 172px)"></b><b style="left:409px;top:363px;width:6px;height:175px;transform:skewY(-11.31deg);background:linear-gradient(#3c89be,#66a9cf 2px,#a7cbdf 3px,#eccabb 4px,#eb9173 5px,#e0765e 6px,#d86551 8px,#dc6e59 10px,#e38068 11px,#e59c88 12px,#b9c0c6 14px,#8bbeda 15px,#61a6cd 16px,#4d99c6 17px,#4291c2 19px,#5aa1cb 22px,#94bed5 24px,#c4c1c2 26px,#e6c4b6 28px,#f9dac9 30px,#f4f3f3 31px,#a0cbe1 33px,#6fafd2 35px,#59a0ca 37px,#539dc8 39px,#5ca3cc 41px,#7db8d7 43px,#9ecbe1 44px,#e2ecf1 45px,#f8cbb5 46px,#f2a687 47px,#e7866a 49px,#e58267 51px,#ed9576 53px,#f5ae8f 54px,#f7ddd0 55px,#bad9e9 56px,#84bcd9 57px,#67aacf 58px,#4896c5 60px,#408fc1 62px,#4493c3 65px,#66a9cf 68px,#9ccae1 70px,#d2e5f0 71px,#faeae1 72px,#f9c4a9 73px,#f6b293 74px,#f5a987 76px,#f9c3a9 79px,#f7f6f5 81px,#b8d8e9 83px,#a5cfe3 84px,#8dc2dc 88px,#9ecbe1 93px,#cde3ef 100px,#d5e7f1 105px,#a7d0e4 124px,#bad9e9 129px,#b3d6e7 136px,#c8e0ed 144px,#a7d0e4 152px,#c7e0ed 158px,#bbdaea 174px)"></b><b style="left:415px;top:361px;width:6px;height:177px;transform:skewY(-11.31deg);background:linear-gradient(#2d75b4,#3b88be 3px,#4d99c6 4px,#83bbd9 5px,#eacbbd 6px,#e58267 7px,#cf5246 9px,#c94641 11px,#cd4d44 13px,#dc6e58 15px,#eb9980 16px,#d5c8c3 17px,#83bad8 18px,#529dc8 19px,#408fc1 20px,#3884bb 23px,#408dc0 26px,#569fc9 28px,#88beda 30px,#e5eef3 32px,#fbe4d7 33px,#f7ccb8 34px,#f2c4b0 35px,#d9c4bc 38px,#b7d3e2 42px,#a5cfe3 44px,#acd2e5 46px,#bcdae9 47px,#cdd5d9 49px,#d3cecc 51px,#d1d2d3 53px,#bad7e6 55px,#87beda 57px,#68aacf 59px,#509bc7 63px,#5aa1cb 66px,#70b0d2 68px,#9bc9e0 70px,#f2f5f6 72px,#fcdecd 73px,#f9c1a6 74px,#f6b192 76px,#f7b89a 78px,#f9c5ab 79px,#f6efeb 81px,#e1edf3 82px,#bfdceb 83px,#9bcae1 85px,#87beda 89px,#99c8e0 94px,#d5e7f1 100px,#e2edf3 103px,#b3d6e7 115px,#abd2e5 121px,#bddbea 126px,#b5d7e8 133px,#cce2ef 141px,#aad1e5 149px,#cbe2ee 155px,#b2d5e7 167px,#b4d6e8 176px)"></b><b style="left:421px;top:360px;width:6px;height:178px;transform:skewY(-11.31deg);background:linear-gradient(#2d76b4,#347fb9 3px,#4c98c6 5px,#86bcd9 6px,#e9c4b4 7px,#e27c63 8px,#cc4b43 10px,#c43d3c 12px,#c7413e 14px,#d45c4c 16px,#e27b62 17px,#ebc2b2 18px,#89beda 19px,#4f9ac7 20px,#3d8bbf 21px,#317bb7 24px,#3985bc 28px,#4f9ac7 30px,#6fafd2 31px,#aad1e5 32px,#fbd7c4 33px,#f09c7b 34px,#e0775f 36px,#dd715a 38px,#e37d63 40px,#ef9f81 42px,#f7c1a9 43px,#eee6e2 44px,#b4d6e8 45px,#7ab6d6 47px,#64a8ce 49px,#5ca3cc 52px,#83bbd9 62px,#bedae8 68px,#eef2f4 71px,#f9ece5 73px,#f6e3d8 75px,#e9e7e5 78px,#d3e5ef 80px,#a3cde3 83px,#8bc1dc 88px,#9ecbe2 94px,#d4e6f1 99px,#e3eef3 103px,#d4e6f1 108px,#b6d7e8 112px,#acd2e6 117px,#c2ddec 123px,#b9d9e9 129px,#d0e4f0 137px,#add3e6 145px,#cfe4ef 151px,#b5d7e8 163px,#b0d4e7 177px)"></b><b style="left:427px;top:358px;width:6px;height:180px;transform:skewY(-11.31deg);background:linear-gradient(#3d89be,#3580b9 3px,#3f8dc0 6px,#509bc8 7px,#80b9d7 8px,#d2c7c4 9px,#eb9b83 10px,#dc6f59 11px,#d2594b 12px,#c94741 14px,#ca4842 16px,#d6614e 18px,#e48065 19px,#ecccbd 20px,#84bbd9 21px,#4f9ac7 22px,#3682ba 24px,#307ab6 27px,#3f8ec1 31px,#539dc9 32px,#80b9d8 33px,#e8e8e8 34px,#f19e7d 35px,#e17a61 36px,#d96853 37px,#d35a4a 40px,#df755d 43px,#ea8e70 44px,#f8bda0 45px,#cce2ee 46px,#82bbd9 47px,#62a6cd 48px,#4493c3 50px,#3d8cbf 53px,#4493c3 56px,#59a1ca 58px,#81bbd8 60px,#a3cee3 61px,#d6e4eb 62px,#edd7cc 63px,#f4c5b0 64px,#f3b095 66px,#f4af92 68px,#f8c0a6 70px,#faeae1 72px,#edf2f5 73px,#b9d9e9 75px,#9dcae1 77px,#8ac0db 82px,#a2cde3 92px,#dae9f2 103px,#b1d5e7 114px,#c4deec 122px,#bddbea 126px,#d2e6f0 134px,#cee3ef 137px,#b0d4e7 142px,#d2e5f0 148px,#aed3e6 168px,#b9d9e9 179px)"></b><b style="left:433px;top:356px;width:6px;height:182px;transform:skewY(-11.31deg);background:linear-gradient(#ceb5b0,#95b9ce 2px,#589fca 4px,#4492c2 6px,#4393c3 8px,#5ea4cc 10px,#86bbd9 11px,#b4bfc7 12px,#e19e8c 14px,#dd705a 16px,#d86451 18px,#e0785f 20px,#ee9777 21px,#e9d4ca 22px,#9ac7df 23px,#63a7ce 24px,#3f8cc0 26px,#3783bb 29px,#408fc1 32px,#4d9ac7 33px,#6badd1 34px,#a9d1e5 35px,#f7cdb9 36px,#eb9173 37px,#d96853 39px,#d55d4c 41px,#d86651 43px,#e7876b 45px,#f6b192 46px,#d7e8f1 47px,#81bad8 48px,#5da3cc 49px,#3f8ec0 51px,#3986bc 54px,#3f8dc0 57px,#559ec9 59px,#6eaed2 60px,#97c8df 61px,#edf1f3 62px,#f7b799 63px,#ee9677 64px,#e68569 65px,#e17860 67px,#e37f65 69px,#f09b7a 71px,#f7b597 72px,#fae9df 73px,#c8e0ed 74px,#9ac9e0 75px,#83bbd9 76px,#6aacd0 78px,#63a7ce 80px,#72b1d3 84px,#cbe2ee 92px,#d4e6f0 94px,#b7d8e9 111px,#c5dfed 118px,#bfdceb 123px,#d5e7f1 131px,#d1e5f0 134px,#b3d6e7 139px,#d4e6f0 145px,#cfe4ef 152px,#bad9ea 157px,#c0dceb 161px,#b0d4e7 165px,#c3deec 170px,#bcdaea 181px)"></b><b style="left:439px;top:354px;width:6px;height:184px;transform:skewY(-11.31deg);background:linear-gradient(#d45c4c,#dc6f5a 3px,#e0a899 5px,#c8bdbb 6px,#9cc4d9 7px,#67aacf 8px,#4e9ac7 9px,#3f8dc0 12px,#599fca 15px,#97bace 17px,#d4b8b0 19px,#f0a386 21px,#f09c7c 22px,#f3a483 23px,#f6c0a7 24px,#bdc9d0 26px,#68aacf 29px,#529dc8 32px,#6bacd1 35px,#84bcd9 36px,#b5d7e8 37px,#e2d5ce 38px,#f0bba6 39px,#e98f73 41px,#e58469 43px,#ec9375 45px,#f3a98a 46px,#fadac9 47px,#bcdaea 48px,#84bcd9 49px,#65a8cf 50px,#4594c3 52px,#3c8abf 55px,#4392c2 58px,#5fa5cd 60px,#7cb7d6 61px,#afd4e6 62px,#fce0d0 63px,#f3a381 64px,#e17a61 66px,#dd7059 68px,#e17960 70px,#ef9a7a 72px,#f8bda1 73px,#ebf1f5 74px,#a0cce2 75px,#7eb8d7 76px,#5ca3cc 78px,#509bc7 81px,#74b2d4 86px,#a9d1e5 89px,#e1edf3 91px,#f8eee8 94px,#f2f3f4 97px,#b4d6e8 103px,#acd2e5 107px,#cbe2ee 116px,#c6dfed 120px,#d5e7f1 126px,#d4e6f0 131px,#b6d7e8 136px,#d5e7f1 142px,#d0e5f0 150px,#bddbea 154px,#c4deec 158px,#b3d6e7 162px,#c6e0ed 167px,#bddbea 171px,#cfe4ef 175px,#cfe4ef 183px)"></b><b style="left:445px;top:352px;width:6px;height:186px;transform:skewY(-11.31deg);background:linear-gradient(#d6604d,#c94640 2px,#ca4842 5px,#d86552 7px,#e78a70 8px,#dcc2b9 9px,#8bbfdb 10px,#529cc8 11px,#3e8dc0 12px,#327db8 15px,#3884bb 18px,#4e98c6 20px,#6aabd0 21px,#a1c9df 22px,#ddd4cf 23px,#f5b091 24px,#ec9273 25px,#e6856a 26px,#e6866b 28px,#e9a28c 30px,#d8bcb3 32px,#b7cfdc 34px,#9bc8e0 35px,#85bdda 36px,#7ab6d6 38px,#85bcd9 40px,#acc9d8 43px,#bcd2dd 46px,#a8d0e4 48px,#6cadd1 52px,#579fca 56px,#62a7ce 59px,#80bad8 61px,#9ccae1 62px,#d5e7f1 63px,#fcdfcf 64px,#f6b292 65px,#ef9c7c 66px,#e7886b 68px,#ec9475 71px,#f2a586 72px,#f8c6ae 73px,#ebeae9 74px,#abd2e5 75px,#6fafd2 77px,#569fca 79px,#4e9ac7 81px,#569fca 84px,#69abd0 86px,#a0cce2 89px,#e3eef3 91px,#f8f3f0 92px,#fcdfce 94px,#fcdfce 96px,#f4f5f6 99px,#b3d6e7 103px,#a2cde3 107px,#dae9f2 122px,#d6e8f1 128px,#b9d9e9 133px,#d7e8f1 140px,#d3e6f0 147px,#c1ddeb 151px,#c8e1ed 155px,#b6d7e8 159px,#cae1ee 164px,#c0ddeb 168px,#d3e6f0 173px,#d6e7f1 185px)"></b><b style="left:451px;top:350px;width:6px;height:188px;transform:skewY(-11.31deg);background:linear-gradient(#dbc7bf,#e7886d 1px,#d76250 2px,#c53e3d 5px,#c6413e 7px,#d2594a 9px,#df755d 10px,#efb8a3 11px,#9bc8df 12px,#529cc8 13px,#347fb9 15px,#2c74b3 18px,#347fb9 21px,#4a96c5 23px,#72b0d3 24px,#cdd9df 25px,#f2a484 26px,#e17961 27px,#d96752 28px,#d2594a 31px,#e0765e 34px,#ea9073 35px,#f4bea7 36px,#d5e0e4 37px,#8ec2dc 38px,#6bacd1 39px,#4d99c6 41px,#4694c4 43px,#5ba2cb 48px,#80b9d8 51px,#b8d8e8 54px,#c4d8e2 55px,#ccd1d3 59px,#f1f3f4 64px,#f5f1ee 65px,#e8d5cc 68px,#ddd0cb 70px,#c0d8e5 73px,#8fc3dd 75px,#72b1d3 77px,#5ca3cc 81px,#63a7ce 84px,#7eb8d7 87px,#b4d6e8 90px,#eef3f5 92px,#fae8dd 94px,#fbe4d6 96px,#f5f3f2 99px,#b8d8e9 103px,#a1cde2 108px,#aed3e6 113px,#d6e8f1 118px,#e0ecf3 122px,#dae9f2 126px,#bedbea 130px,#d8e8f1 137px,#d5e7f1 144px,#c5dfed 148px,#cde3ef 152px,#b9d9e9 156px,#cee3ef 161px,#c4dfec 165px,#d5e7f1 170px,#d1e5f0 187px)"></b><b style="left:457px;top:349px;width:6px;height:189px;transform:skewY(-11.31deg);background:linear-gradient(#69abd0,#adc8d7 1px,#dab6ab 2px,#e7927b 3px,#dc6e59 4px,#cf5247 6px,#cd4f45 8px,#d7614e 10px,#e17961 11px,#f3b69e 12px,#afcede 13px,#60a5cd 14px,#4390c1 15px,#2f78b5 18px,#347fb9 22px,#4895c4 24px,#72b1d3 25px,#d5d8da 26px,#ee9a7c 27px,#dd715a 28px,#cf5347 30px,#cd4d44 32px,#d35a4a 34px,#e48166 36px,#f6b497 37px,#c2ddeb 38px,#73b2d4 39px,#529dc8 40px,#4191c2 41px,#3884bb 45px,#408ec1 48px,#5aa1cb 50px,#9fcce2 52px,#f1f1f0 53px,#f8bda1 54px,#f09e7f 55px,#ea8e71 56px,#e68468 58px,#e98b6e 60px,#f2a585 62px,#f8bea2 63px,#fae9de 64px,#d5e7f0 65px,#a5cfe4 66px,#8dc1dc 67px,#69abd0 70px,#5ea4cc 73px,#76b4d5 80px,#dae9f1 90px,#e9f0f4 93px,#deebf2 97px,#b2d5e7 103px,#a5cfe3 108px,#a9d1e5 111px,#d5e7f1 117px,#e0ecf3 121px,#cae1ee 127px,#d8e8f1 131px,#d7e8f1 140px,#cae1ee 144px,#d0e5f0 148px,#bddbea 152px,#d1e5f0 157px,#c9e1ee 161px,#dae9f2 172px,#d7e8f1 175px,#bbdaea 179px,#c2ddec 188px)"></b><b style="left:463px;top:347px;width:6px;height:191px;transform:skewY(-11.31deg);background:linear-gradient(#4494c3,#59a1ca 3px,#9cbbce 5px,#dfa08f 8px,#e27d63 10px,#e0775f 11px,#e6866a 13px,#f1a587 14px,#dcc7bf 15px,#a9c6d5 16px,#75b1d3 17px,#539cc8 18px,#3b88bd 20px,#3783bb 22px,#4190c1 25px,#529dc8 26px,#78b5d5 27px,#c7d4da 28px,#efb59f 29px,#e6866b 30px,#d76250 32px,#d35b4b 34px,#da6854 36px,#e17a61 37px,#f09b7a 38px,#f5eae3 39px,#8fc2dd 40px,#60a6cd 41px,#3e8cc0 43px,#3682ba 46px,#4191c2 50px,#519cc8 51px,#6daed1 52px,#a0cce2 53px,#fbe3d4 54px,#f19e7d 55px,#de725b 57px,#d96752 59px,#dc6d57 61px,#e7876b 63px,#f3a482 64px,#fbe3d4 65px,#afd4e6 66px,#7fb9d7 67px,#63a7ce 68px,#4896c5 70px,#408fc1 73px,#4996c5 76px,#5fa5cd 78px,#88bfdb 80px,#d0e3ec 82px,#f2d6c8 84px,#f7cab4 86px,#f9cfba 88px,#f4f3f2 91px,#afd4e6 95px,#9ecbe1 99px,#b2d5e7 109px,#d7e8f1 119px,#d3e6f0 145px,#c1ddeb 150px,#d4e6f0 154px,#cee3ef 159px,#dceaf2 170px,#bfdceb 176px,#dae9f2 181px,#dbeaf2 190px)"></b><b style="left:469px;top:346px;width:6px;height:192px;transform:skewY(-11.31deg);background:linear-gradient(#63a7ce,#4795c4 1px,#3e8dc0 2px,#3a87bd 5px,#4590c2 7px,#6dacd1 9px,#bfc3c7 11px,#e4beaf 12px,#ef9f81 13px,#e88a6d 14px,#e7876c 16px,#dfa99a 18px,#b3b8bf 20px,#7cb5d5 22px,#63a7ce 23px,#539dc8 25px,#6cadd1 28px,#b2cad7 30px,#dbb7ac 32px,#eaa38c 34px,#ed9c81 36px,#f1a588 37px,#f7bb9f 38px,#f8eee8 39px,#aed3e6 40px,#81bad8 41px,#65a9cf 42px,#4895c4 44px,#3f8dc0 47px,#4a97c5 50px,#72b0d3 52px,#9dcae1 53px,#f4ede9 54px,#f5ad8d 55px,#e98c6f 56px,#dd715a 58px,#db6c56 60px,#e17a61 62px,#f5ad8c 64px,#f6f2f0 65px,#9bcae1 66px,#70afd2 67px,#57a0ca 68px,#408fc1 70px,#3c89be 73px,#4393c3 76px,#62a7ce 78px,#a8d0e4 80px,#f1efee 81px,#f9c1a7 82px,#f3a685 83px,#ee9878 84px,#ed9676 87px,#f5ae8d 89px,#f9c5ab 90px,#f9ece4 91px,#dbeaf2 92px,#afd4e6 93px,#9ac9e0 94px,#7db8d7 98px,#8bc1dc 102px,#cee4ef 109px,#dbeaf2 112px,#cbe2ee 120px,#d9e9f2 126px,#d5e7f1 141px,#c5dfec 146px,#d6e7f1 150px,#deebf2 166px,#c3deec 172px,#dceaf2 177px,#dceaf2 191px)"></b><b style="left:475px;top:344px;width:6px;height:194px;transform:skewY(-11.31deg);background:linear-gradient(#e88d72,#d3c7c3 1px,#76b3d4 2px,#4895c4 3px,#2f78b5 7px,#347fb9 10px,#4692c3 12px,#63a7ce 13px,#abcbdc 14px,#efbeab 15px,#e58368 16px,#da6a54 17px,#d35a4b 20px,#dc6d58 22px,#e4846c 23px,#e6a390 24px,#b8cbd5 26px,#84bbd9 27px,#66a9cf 28px,#4e9ac7 31px,#5fa4cc 34px,#add3e6 40px,#a7cfe4 43px,#7cb6d6 48px,#7ab5d6 51px,#a5cee3 54px,#d0e4ef 55px,#f0e2db 56px,#f4b69d 58px,#efa286 60px,#f0a68b 62px,#f4c8b4 64px,#e7e2df 65px,#b3d6e7 66px,#88beda 67px,#6cadd1 68px,#4d9ac7 70px,#408fc1 73px,#4694c4 76px,#5ea4cc 78px,#96c7df 80px,#dae9f2 81px,#fbd1ba 82px,#f5a987 83px,#ed9677 84px,#e8896d 87px,#f5ac8b 90px,#facab1 91px,#f5f4f3 92px,#bedbeb 93px,#87beda 95px,#72b1d3 97px,#6cadd1 99px,#7fb9d8 103px,#b0d4e7 107px,#d7e8f1 109px,#eef3f5 112px,#cfe4f0 123px,#d7e8f1 138px,#c8e0ed 143px,#d7e8f1 147px,#dfebf3 162px,#ddebf2 165px,#c6dfed 169px,#deebf2 175px,#d4e6f1 193px)"></b><b style="left:481px;top:342px;width:6px;height:196px;transform:skewY(-11.31deg);background:linear-gradient(#ce4f45,#e37e64 2px,#e6c2b3 3px,#8dc0db 4px,#4f9ac7 5px,#3b88be 6px,#2b74b3 10px,#3a87bd 14px,#4b97c5 15px,#81b9d8 16px,#e1c5b9 17px,#e58167 18px,#d65f4e 19px,#cd4f45 20px,#c84340 22px,#cb4b43 24px,#d96753 26px,#e6866b 27px,#edc1af 28px,#abd1e4 29px,#66a9cf 30px,#4a97c5 31px,#3884bc 35px,#3f8dc0 38px,#539dc8 40px,#87beda 42px,#b4d6e8 43px,#f7ede7 44px,#f8c3aa 45px,#f0a68a 47px,#eea78e 49px,#edc2b0 52px,#e4dfdd 54px,#d3e6ef 55px,#b4d6e8 56px,#9fcbe1 58px,#61a6cd 73px,#69abd0 76px,#7cb7d6 78px,#a7d0e4 80px,#f8f1ed 82px,#fbcdb5 83px,#f7b597 84px,#f4aa89 85px,#f2a384 87px,#f6b395 89px,#f7dbcc 91px,#e7ebed 92px,#9ecbe2 94px,#8bc1dc 95px,#6cadd1 99px,#80bad8 104px,#a4cee3 107px,#dceaf2 110px,#f4f6f6 114px,#c2deec 126px,#d7e8f1 135px,#cee4ef 140px,#dfecf3 157px,#deebf2 162px,#c9e1ee 166px,#dfecf3 172px,#d4e6f1 183px,#d9e9f2 195px)"></b><b style="left:487px;top:341px;width:6px;height:197px;transform:skewY(-11.31deg);background:linear-gradient(#d6614f,#dc6e58 2px,#e58368 3px,#f2b79f 4px,#becbd3 5px,#78b3d4 6px,#509ac7 7px,#3783bb 9px,#307ab6 12px,#4694c3 16px,#6daed1 17px,#c5c9cb 18px,#eca089 19px,#dc6e58 20px,#d2584a 21px,#c94641 23px,#cb4942 25px,#d7624f 27px,#e37d63 28px,#f6bea6 29px,#a8cfe4 30px,#61a6cd 31px,#4493c3 32px,#337db8 36px,#4896c5 41px,#63a8ce 42px,#95c6df 43px,#f8e8df 44px,#f19f7d 45px,#dd715a 47px,#d86651 49px,#db6c56 51px,#e7866b 53px,#f1a282 54px,#f9d8c7 55px,#bddbea 56px,#87beda 57px,#5aa1cb 59px,#4694c4 63px,#4e9ac7 66px,#6badd1 69px,#a8d0e4 72px,#d2d7d8 74px,#ebcbbd 78px,#fcddcb 82px,#f5e7df 84px,#b8d7e6 89px,#88bfdb 93px,#78b4d5 97px,#8bc0dc 103px,#add3e6 107px,#e0ecf3 111px,#eff3f6 114px,#bbdaea 127px,#dceaf2 140px,#e0ecf3 154px,#dfecf3 158px,#cbe2ee 162px,#e0ecf3 169px,#cfe4ef 196px)"></b><b style="left:493px;top:339px;width:6px;height:199px;transform:skewY(-11.31deg);background:linear-gradient(#a7b6c1,#ddb0a2 2px,#eda38b 3px,#ea8e71 4px,#eb9274 6px,#eeab93 7px,#9bbacc 10px,#7bb3d3 11px,#5ba0ca 12px,#428fc1 14px,#3f8ec0 17px,#58a0ca 19px,#85bbd9 20px,#bdc1c6 21px,#dbaea0 22px,#e79580 23px,#e07760 24px,#d86451 27px,#e17860 29px,#ed9475 30px,#f6d4c3 31px,#a4cde3 32px,#69abd0 33px,#4d99c6 34px,#3a88bd 36px,#3783bb 39px,#4291c2 42px,#549ec9 43px,#77b4d5 44px,#c6dfec 45px,#f7ba9e 46px,#e8896d 47px,#d96651 49px,#d55d4c 51px,#d96752 53px,#e8896d 55px,#f6b394 56px,#d7e8f1 57px,#84bcd9 58px,#5fa5cd 59px,#4090c1 61px,#3a87bd 64px,#3f8ec1 67px,#549ec9 69px,#8dc2dc 71px,#cde3ee 72px,#fad3c0 73px,#f3a888 74px,#ec9274 75px,#e47f65 78px,#e8896d 80px,#f5aa89 82px,#fbcdb5 83px,#ebf1f5 84px,#afd4e6 85px,#8fc2dd 86px,#6eaed2 88px,#5fa5cd 91px,#71b0d3 96px,#bedbea 104px,#d0e5f0 111px,#d0e5ef 119px,#bedceb 125px,#c7e0ed 133px,#dceaf2 138px,#e1edf3 152px,#cee4ef 159px,#e1edf3 166px,#dbeaf2 182px,#cde3ef 187px,#d3e6f0 198px)"></b><b style="left:499px;top:338px;width:6px;height:200px;transform:skewY(-11.31deg);background:linear-gradient(#3885bc,#529bc7 2px,#79b4d5 3px,#b8c9d2 4px,#ecbeab 5px,#e98c6f 6px,#df755d 7px,#d96854 9px,#e07962 11px,#d8a396 13px,#a8bbc7 15px,#80b8d7 16px,#5ba2cb 17px,#4393c3 19px,#559ec9 22px,#87b7d2 24px,#b8bbc1 26px,#f5c0a8 30px,#f9cab3 31px,#f6e9e1 32px,#ccdee8 33px,#6cadd1 36px,#549dc8 38px,#4c98c6 40px,#539dc8 42px,#71b0d3 44px,#93c5de 45px,#d3e1e8 46px,#f3cab7 47px,#f0a588 48px,#e98c70 49px,#e17860 51px,#e7866a 54px,#ef9a7b 55px,#f9c3a8 56px,#d7e8f1 57px,#8bc0dc 58px,#67aacf 59px,#4493c3 61px,#3b88be 64px,#408ec1 67px,#569fc9 69px,#6fafd2 70px,#99c9e0 71px,#f6f6f6 72px,#f6af8e 73px,#ea8e70 74px,#e27c63 75px,#dc6e58 77px,#dd715a 79px,#e7886c 81px,#f3a380 82px,#fcdac6 83px,#bddbea 84px,#87beda 85px,#6aacd0 86px,#4e9ac7 88px,#4594c3 90px,#4c99c6 93px,#6cadd1 96px,#add3e6 99px,#d3e6f0 100px,#eceded 101px,#f8e1d4 103px,#f9e1d4 105px,#eff2f4 108px,#b7d8e8 112px,#abd2e5 115px,#cae2ee 126px,#e0ecf3 143px,#e1edf3 151px,#d0e5f0 156px,#e2edf3 162px,#dceaf2 178px,#d0e4f0 183px,#dae9f2 199px)"></b><b style="left:505px;top:337px;width:6px;height:201px;transform:skewY(-11.31deg);background:linear-gradient(#2c75b4,#3986bc 3px,#4894c4 4px,#75b2d4 5px,#d1c9c7 6px,#ea9074 7px,#d96853 8px,#d05548 9px,#c94641 11px,#d05549 14px,#d96854 15px,#e78e76 16px,#d8b8ae 17px,#9fc5da 18px,#5da3cc 19px,#4492c3 20px,#3884bb 23px,#3e8bbf 26px,#529bc8 28px,#86bcd9 30px,#e6e7e7 32px,#fbceb7 33px,#f7b89b 34px,#f3b299 35px,#dcb7ab 38px,#a4cde2 43px,#8fc3dd 45px,#abd0e3 48px,#cac7c7 52px,#cbd6db 55px,#bedbe9 56px,#89bfdb 58px,#68abd0 60px,#559fc9 62px,#4e99c6 65px,#5fa5cc 68px,#86bdda 70px,#abd2e5 71px,#f6f4f2 72px,#f8bca0 73px,#f09e7e 74px,#e58267 76px,#e37d63 78px,#e98c6f 80px,#f19f80 81px,#f8c4ab 82px,#e4edf2 83px,#99c9e0 84px,#75b2d4 85px,#509bc7 87px,#4190c2 90px,#4996c5 93px,#6fafd2 96px,#a5cfe4 98px,#dbeaf2 99px,#faebe2 100px,#faccb4 101px,#f8bb9e 102px,#f7b596 104px,#f9c4aa 106px,#f9ede6 108px,#ecf2f5 109px,#b7d8e9 111px,#a9d1e5 112px,#97c8df 116px,#e0ecf3 130px,#e1ecf3 147px,#d2e6f0 152px,#e3edf3 161px,#d2e5f0 179px,#e1ecf3 200px)"></b><b style="left:511px;top:335px;width:6px;height:203px;transform:skewY(-11.31deg);background:linear-gradient(#317bb7,#2f78b5 3px,#408ec0 6px,#5ca3cc 7px,#b0c9d7 8px,#eaac97 9px,#de715b 10px,#ca4842 12px,#c53d3d 14px,#ce5045 17px,#d86552 18px,#e99075 19px,#cdc8c7 20px,#71afd2 21px,#4794c4 22px,#3079b6 26px,#3a86bd 30px,#58a1ca 32px,#86bdda 33px,#e0e0df 34px,#f3a584 35px,#e48166 36px,#dd7059 37px,#d86652 40px,#e7886d 43px,#f0a78c 44px,#efcfc0 45px,#c5deea 46px,#8bc0dc 47px,#6fafd2 48px,#559ec9 50px,#4f9ac7 52px,#62a7ce 57px,#b0d1e1 64px,#baced8 67px,#c9dae2 70px,#f6f6f6 73px,#f7e9e2 74px,#eccbbc 77px,#e5c9bd 79px,#d8d2d0 81px,#b0d4e6 83px,#8fc3dd 84px,#6aacd0 86px,#569fca 88px,#4e9ac7 91px,#5ba2cb 94px,#72b1d3 96px,#9dcbe1 98px,#f2f4f6 100px,#fce1d1 101px,#fac6ad 102px,#f7b799 104px,#f8bea2 106px,#f6f2ef 109px,#aed3e6 112px,#a1cde2 113px,#90c4dd 117px,#a2cde3 122px,#dae9f2 127px,#e6eff4 130px,#d3e6f0 148px,#e4eef3 155px,#d4e6f1 176px,#e3edf3 202px)"></b><b style="left:517px;top:334px;width:6px;height:204px;transform:skewY(-11.31deg);background:linear-gradient(#5fa3cc,#418dc0 2px,#3b89be 6px,#509bc7 8px,#78b3d5 9px,#bac1c7 10px,#ddab9d 11px,#e58871 12px,#d96855 13px,#cc4d44 16px,#d86551 19px,#e68469 20px,#e5c5b7 21px,#95c4dd 22px,#579fca 23px,#408ec0 24px,#317bb7 27px,#347fb9 30px,#3f8ec0 32px,#549ec9 33px,#84bcd9 34px,#e3d6d0 35px,#ed9779 36px,#de745c 37px,#d25849 39px,#d05447 41px,#d6614e 43px,#e98c6e 45px,#f8c6ae 46px,#b4d6e7 47px,#71b0d3 48px,#4292c2 50px,#3986bc 53px,#3d8bbf 56px,#4b98c6 58px,#77b4d5 60px,#a1cce2 61px,#eff0f1 62px,#f8c1a7 63px,#f1a283 64px,#e7886c 67px,#ea9073 69px,#f3ab8c 71px,#f9c5ac 72px,#f9eee7 73px,#cfe4ef 74px,#a5cfe3 75px,#7eb8d7 77px,#66a9cf 80px,#5fa5cc 84px,#7eb8d7 91px,#ecf1f3 99px,#f9eee8 101px,#f6e5dc 103px,#ebe8e7 106px,#d7e7f0 108px,#a2cde3 112px,#94c6de 117px,#a0cce2 121px,#d8e8f1 127px,#ebf1f5 131px,#cfe4ef 145px,#e4eef4 153px,#d6e7f1 172px,#e4eef3 189px,#ddebf2 203px)"></b><b style="left:523px;top:333px;width:6px;height:205px;transform:skewY(-11.31deg);background:linear-gradient(#e6917d,#b5b2b7 3px,#7ab3d4 5px,#5aa1cb 6px,#4c98c6 7px,#4594c4 9px,#58a0ca 11px,#74b0d3 12px,#97b8cc 13px,#d9a295 16px,#e48269 18px,#e27b62 19px,#ea8f71 21px,#f5b79d 22px,#d2ccca 23px,#9fc5d9 24px,#70afd2 25px,#569ec9 26px,#418dc0 28px,#3c89be 30px,#408fc1 32px,#5fa4cc 34px,#86bdda 35px,#d0d6d8 36px,#f0b7a0 37px,#e88b70 38px,#df755d 39px,#d76350 41px,#d96652 43px,#e48166 45px,#f3a482 46px,#f0ecea 47px,#8ec2dd 48px,#62a7ce 49px,#3f8ec0 51px,#3784bb 54px,#4191c2 58px,#519cc8 59px,#6cadd1 60px,#9ccae1 61px,#f9eae0 62px,#f3a381 63px,#df745c 65px,#d96853 67px,#dc6d57 69px,#e6866a 71px,#f2a280 72px,#fbddcb 73px,#b3d6e7 74px,#80bad8 75px,#64a8ce 76px,#4796c4 78px,#408ec1 81px,#4695c4 84px,#5ba2cb 86px,#83bcd9 88px,#d6e3e9 90px,#ebd7cd 91px,#f5bda4 93px,#f4b296 95px,#f7bca0 97px,#f9c9b1 98px,#f8f3f1 100px,#c4deec 102px,#a4cee3 104px,#8fc2dd 109px,#b7d8e8 122px,#d8e8f1 127px,#e5eef4 132px,#d2e6f0 141px,#e4eef3 152px,#d7e8f1 168px,#e5eef4 186px,#ddebf2 204px)"></b><b style="left:529px;top:332px;width:7px;height:206px;transform:skewY(-11.31deg);background:linear-gradient(#d25749,#d55d4c 2px,#e37d63 4px,#f4a683 5px,#e5eef4 6px,#82bbd9 7px,#5ca3cc 8px,#408fc1 10px,#3d8bbf 12px,#4291c2 14px,#61a6cd 16px,#83bbd9 17px,#c2ddec 18px,#fbd0b8 19px,#f5a886 20px,#ed9576 22px,#f5ae8d 24px,#fdddca 25px,#d1e5f0 26px,#93c5de 27px,#73b1d3 28px,#549ec9 30px,#4d99c6 32px,#57a0ca 34px,#7bb7d6 36px,#a2cde3 37px,#f6f6f7 38px,#f7b698 39px,#ee9777 40px,#e7866a 41px,#e27b62 43px,#e8896c 45px,#f19e7d 46px,#fac8af 47px,#cae2ee 48px,#85bdda 49px,#63a7ce 50px,#4291c2 52px,#3a88bd 55px,#4090c1 58px,#5ea4cc 60px,#7fb9d8 61px,#c3deec 62px,#f9c0a5 63px,#ec9374 64px,#e27c62 65px,#d96652 68px,#e17a61 71px,#eb8f71 72px,#f7b698 73px,#deebf2 74px,#8bc1dc 75px,#66a9cf 76px,#4393c3 78px,#3c89be 81px,#4594c4 85px,#65a9cf 87px,#83bbd9 88px,#b2d5e7 89px,#faebe2 90px,#f6b394 91px,#f09c7b 92px,#e8896d 94px,#ea8d70 96px,#f4a683 98px,#f8bb9e 99px,#fbe5d9 100px,#dfecf3 101px,#aed3e6 102px,#96c7df 103px,#7db8d7 105px,#74b2d4 107px,#80bad8 111px,#c5dfed 120px,#dceaf2 131px,#d3e6f0 139px,#e3edf3 151px,#d7e8f1 166px,#e4eef3 177px,#dbeaf2 193px,#e5eef4 205px)"></b></div><i style="left:0px;width:7px;transform:skewY(-17.93deg);background:linear-gradient(#f7f7f7,#f7f7f7 229px,#f7f5f3 232px,#f8f4f3 238px,#f7f7f7 239px,#dfebf2 246px,#f1f4f6 250px,#f7f5f3 251px,#fce0cf 254px,#fbd1ba 257px,#fce1d1 260px,#f8f3f1 262px,#ecf2f5 263px,#b5d7e8 266px,#a6cfe4 269px,#bfdceb 272px,#f7f6f6 274px,#f9c5aa 276px,#f7b596 277px,#f4a482 280px,#f7b596 283px,#fac6ad 284px,#fae7db 285px,#e9f0f4 286px,#bddbea 287px,#a3cde3 288px,#89bfdb 290px,#82bbd8 292px,#9dcbe1 295px,#b8d8e9 296px,#ebf1f5 297px,#fcddcb 298px,#f7b697 299px,#f3a380 300px,#e98b6e 303px,#eb9173 305px,#f5ad8c 307px,#facbb3 308px,#f2f5f6 309px,#b5d7e8 310px,#95c6df 311px,#73b2d3 313px,#6bacd1 315px,#85bdd9 318px,#9dcbe1 319px,#d4e6f0 320px,#fbe2d4 321px,#f6b191 322px,#ef9878 323px,#e48065 325px,#e27b62 327px,#ef9a79 330px,#f7b596 331px,#f9eee7 332px,#b6d7e8 333px,#8ec2dd 334px,#67aacf 336px,#5ca3cb 338px,#64a8ce 340px,#87beda 342px,#acd2e6 343px,#f8f4f1 344px,#f7b698 345px,#ee9878 346px,#e6856a 347px,#df755d 349px,#e0775ff6 351px,#f4a886cc 354px,#fcdfceb8 355px,#bedbeba2 356px,#8cc1dc8b 357px,#5fa5cd5d 359px,#569fca13 363px,#94c6df01 366px,#0000 545px)"></i><i style="left:7px;width:12px;transform:skewY(-17.39deg);background:linear-gradient(#f7f7f7,#f7f7f7 227px,#f8f4f1 230px,#f8f5f3 235px,#f7f7f7 236px,#dfecf3 243px,#f1f4f6 247px,#f8f5f3 248px,#fce0cf 251px,#fbd1ba 254px,#fce0d0 257px,#f8f4f1 259px,#b4d6e8 263px,#a4cee3 266px,#bedceb 269px,#f7f6f5 271px,#f9c2a8 273px,#f6b394 274px,#f3a280 277px,#f6b394 280px,#f9c5ab 281px,#fae7db 282px,#e7f0f4 283px,#bad9e9 284px,#a0cce2 285px,#86bdda 287px,#7fb9d7 289px,#9ccae1 292px,#b6d7e8 293px,#ebf1f5 294px,#fddbc8 295px,#f6b394 296px,#f2a07e 297px,#e98b6e 299px,#e8896c 301px,#ef9979 303px,#f5ab8a 304px,#facab1 305px,#f1f4f6 306px,#b1d5e7 307px,#92c5de 308px,#70afd2 310px,#67aacf 312px,#82bbd8 315px,#9bcae1 316px,#d3e6f0 317px,#fce0d0 318px,#f5ae8d 319px,#ed9576 320px,#e27c63 322px,#e0785f 324px,#ee9777 327px,#f6b394 328px,#f9eee8 329px,#b2d5e7 330px,#89c0db 331px,#63a7ce 333px,#58a0ca 335px,#61a6cd 337px,#84bcd9 339px,#abd2e5 340px,#f8f2ef 341px,#f6b394 342px,#ed9475 343px,#e58267 344px,#de725b 346px,#df745c 348px,#e98b6e 350px,#f4a683fc 351px,#fcdecdf8 352px,#bad9e9f2 353px,#88bedae8 354px,#6badd1db 355px,#529cc8b7 357px,#539dc875 360px,#dceaf225 364px,#ee96770e 366px,#db6c5701 369px,#0000 545px)"></i><i style="left:19px;width:12px;transform:skewY(-16.71deg);background:linear-gradient(#f7f7f7,#f7f7f7 223px,#f8f5f3 226px,#f8f4f2 231px,#f4f6f6 233px,#dfecf3 239px,#f7f7f7 244px,#fbd1ba 250px,#fcd7c2 252px,#f0f4f6 256px,#b6d8e8 259px,#a3cee3 262px,#b7d8e8 265px,#eff3f6 267px,#fbe6da 268px,#fac7ae 269px,#f7b597 270px,#f2a07e 273px,#f4a582 275px,#f8bc9f 277px,#f3f5f6 279px,#a4cee3 281px,#85bdda 283px,#7bb6d6 285px,#93c6de 288px,#a9d0e4 289px,#dae9f2 290px,#fbe6da 291px,#f7b99b 292px,#f3a280 293px,#e68569 296px,#e8886c 298px,#f3a27f 300px,#f8ba9d 301px,#f9ede6 302px,#bfdceb 303px,#96c7df 304px,#6fafd2 306px,#63a7ce 308px,#6bacd1 310px,#8ec3dd 312px,#b4d6e8 313px,#f9f0ea 314px,#f7b596 315px,#ee9878 316px,#e27b61 318px,#de745c 320px,#e37e64 322px,#f4a683 324px,#fddac5 325px,#cae1ee 326px,#90c4dd 327px,#73b1d3 328px,#549ec9 331px,#59a1cb 333px,#77b4d5 335px,#98c8e0 336px,#e3edf3 337px,#f8bea2 338px,#ee9878 339px,#e58267 340px,#db6c56 343px,#e48166 346px,#ee9777 347px,#f8bea3 348px,#dceaf2 349px,#91c4de 350px,#6eaed2 351px,#4a97c5fb 354px,#4c99c6ef 356px,#65a8cfd6 358px,#b5d7e8b1 360px,#fcd7c29c 361px,#f19d7c85 362px,#de735c59 364px,#dc6d5715 368px,#0000 372px,#0000 545px)"></i><i style="left:31px;width:12px;transform:skewY(-16.02deg);background:linear-gradient(#f7f7f7,#f7f7f7 220px,#f8f4f2 223px,#f7f5f4 228px,#f6f7f7 229px,#dfecf3 235px,#f3f5f6 240px,#fcd8c3 245px,#fbd0b9 247px,#fce1d2 250px,#f7f6f5 252px,#afd4e6 256px,#a2cde2 259px,#aed3e6 261px,#c0dceb 262px,#e1ecf3 263px,#f8f1ec 264px,#f8ba9d 266px,#f4a481 268px,#f09d7c 270px,#f6b192 273px,#fac6ac 274px,#faebe2 275px,#ddebf2 276px,#aed3e6 277px,#97c7df 278px,#7db8d7 280px,#78b5d5 282px,#9ac9e0 285px,#b9d9e9 286px,#f5f6f7 287px,#fac8ae 288px,#f5a987 289px,#e58368 292px,#e8896c 295px,#f5aa88 297px,#fbd1ba 298px,#e2edf3 299px,#a2cde3 300px,#84bcd9 301px,#65a9cf 303px,#5fa4cc 305px,#6cadd1 307px,#7db8d7 308px,#9bcae1 309px,#ddebf2 310px,#fac9b1 311px,#f2a17f 312px,#e27b62 314px,#dd7059 316px,#df765e 318px,#ec9475 320px,#f7b596 321px,#f3f5f6 322px,#a0cce2 323px,#7ab6d6 324px,#57a0ca 326px,#4f9ac7 328px,#59a1cb 330px,#82bbd8 332px,#b0d4e7 333px,#fbe2d4 334px,#f4a482 335px,#e7876b 336px,#dc6d57 338px,#da6853 340px,#df765e 342px,#e7866a 343px,#f4a582 344px,#fae8de 345px,#a5cee3 346px,#77b4d5 347px,#4f9bc7 349px,#4493c3 351px,#4b98c6 353px,#6dadd1 355px,#94c6dffe 356px,#f1f4f6fb 357px,#f5ad8cf6 358px,#e8886cee 359px,#df755de3 360px,#d9665299 364px,#ee977756 367px,#fbceb641 368px,#7cb7d620 370px,#4e9ac70b 372px,#0000 375px,#0000 545px)"></i><i style="left:43px;width:12px;transform:skewY(-15.33deg);background:linear-gradient(#f7f7f7,#f7f7f7 217px,#f8f4f3 220px,#f8f4f2 224px,#f5f6f7 226px,#dfecf3 232px,#f6f7f7 237px,#fbd0b9 243px,#fcd5bf 245px,#f2f5f6 249px,#b6d7e8 252px,#a0cce2 255px,#b2d5e7 258px,#ebf1f5 260px,#fae7dc 261px,#fac6ac 262px,#f6b293 263px,#f19f7d 265px,#ef9a7a 267px,#f4a785 269px,#f7b597 270px,#fcd3bc 271px,#f7f6f6 272px,#a1cde2 274px,#7fb9d8 276px,#74b2d4 278px,#7cb7d7 280px,#a0cce2 282px,#d0e5f0 283px,#fae9de 284px,#f7b799 285px,#f19e7d 286px,#e58368 288px,#e37d63 290px,#ee9878 293px,#f6b191 294px,#fbe6da 295px,#c0dceb 296px,#92c5de 297px,#77b4d5 298px,#5aa2cb 301px,#61a6cd 303px,#82bbd9 305px,#a7d0e4 306px,#f7f5f4 307px,#f6b394 308px,#ec9374 309px,#e47f65 310px,#dc6d57 312px,#dc6e57 314px,#e58267 316px,#ef9a7a 317px,#fac6ac 318px,#d0e5f0 319px,#8cc1dc 320px,#6cadd1 321px,#4b98c6 324px,#4f9bc7 326px,#6bacd1 328px,#8cc1dc 329px,#d6e7f1 330px,#f8bea1 331px,#ec9374 332px,#e27b62 333px,#d86450 336px,#e0765e 339px,#e98b6e 340px,#f6b191 341px,#e5eef4 342px,#8dc2dc 343px,#68aad0 344px,#539dc8 345px,#4292c2 347px,#4a97c5 350px,#74b2d4 352px,#a6cfe4 353px,#fddcc9 354px,#ee9878 355px,#e27b62 356px,#d7634f 358px,#d6604dfb 360px,#dc6f58ee 362px,#f3a380d5 364px,#f8f0ebc3 365px,#97c8dfaf 366px,#6bacd199 367px,#549ec983 368px,#4190c256 370px,#4494c320 373px,#66a9cf0b 375px,#0000 378px,#0000 545px)"></i><i style="left:55px;width:12px;transform:skewY(-14.63deg);background:linear-gradient(#f7f7f7,#f7f7f7 215px,#f8f4f1 218px,#f8f5f3 221px,#f4f6f6 223px,#e0ecf3 229px,#f7f6f5 234px,#fbd0b9 240px,#fcd6c1 242px,#f8f1ec 245px,#eef3f5 246px,#b2d5e7 249px,#9fcce2 252px,#b4d6e8 255px,#f2f4f6 257px,#fce1d2 258px,#f8bfa4 259px,#f5ae8d 260px,#ee9878 263px,#f19e7d 265px,#f7b89a 267px,#fddcc9 268px,#eef3f5 269px,#b8d8e9 270px,#9ac9e0 271px,#7ab6d6 273px,#71b0d3 275px,#8bc1dc 278px,#a3cee3 279px,#dbeaf2 280px,#fcdecd 281px,#f6af8e 282px,#e7876b 284px,#e27b61 286px,#e37f65 288px,#ef9a79 290px,#f7b698 291px,#f8f1ed 292px,#afd4e6 293px,#88bfdb 294px,#62a6cd 296px,#579fca 298px,#5fa5cd 300px,#85bdda 302px,#b0d4e7 303px,#fae7dc 304px,#f5a987 305px,#e88b6e 306px,#dc6f58 308px,#da6853 310px,#df745c 312px,#f19e7d 314px,#fddac6 315px,#b3d6e8 316px,#7fb9d8 317px,#539dc9 319px,#4695c4 321px,#4d99c6 323px,#6cadd1 325px,#92c5de 326px,#eaf1f5 327px,#f6af8f 328px,#e8896d 329px,#df745d 330px,#d6604d 333px,#e0765e 336px,#ea8d70 337px,#f8ba9d 338px,#c8e0ed 339px,#7fb9d8 340px,#5fa4cc 341px,#4292c2 343px,#408fc1 345px,#4997c5 347px,#78b5d5 349px,#b7d8e8 350px,#f8bfa3 351px,#e98d6f 352px,#df745c 353px,#d55e4c 355px,#d45c4b 357px,#dc6e58 359px,#e58267 360px,#f5a987 361px,#e8f0f4 362px,#88bfdbfc 363px,#62a6cdf7 364px,#4292c2e5 366px,#4493c39e 370px,#9ac9e05a 373px,#fae7db46 374px,#f09b7a33 375px,#d6614d0c 378px,#d6614e01 381px,#0000 545px)"></i><i style="left:67px;width:12px;transform:skewY(-13.93deg);background:linear-gradient(#f7f7f7,#f7f7f7 212px,#f8f4f1 217px,#f7f7f6 219px,#e0ecf3 226px,#f7f6f5 231px,#fbd1ba 237px,#fcd8c3 239px,#f8f1ee 242px,#eef3f5 243px,#b2d5e7 246px,#a0cce2 249px,#b6d7e8 252px,#f3f5f6 254px,#f8bea2 256px,#f5ad8d 257px,#ee9878 260px,#f19f7d 262px,#f7b99c 264px,#fcdecc 265px,#ecf2f5 266px,#b6d7e8 267px,#99c9e0 268px,#7ab6d6 270px,#71b0d3 272px,#8cc1dc 275px,#a5cfe3 276px,#deebf2 277px,#fddcc9 278px,#f5ad8c 279px,#e7876b 281px,#e17a61 283px,#e47f65 285px,#f09b7a 287px,#f7b89a 288px,#f8f4f2 289px,#acd2e6 290px,#86beda 291px,#61a6cd 293px,#569fca 295px,#60a5cd 297px,#87beda 299px,#b4d6e8 300px,#fbe4d6 301px,#f4a784 302px,#e8896d 303px,#dc6e58 305px,#da6853 307px,#df745d 309px,#f2a07e 311px,#fcdfcd 312px,#afd4e6 313px,#7db8d7 314px,#539dc8 316px,#4695c4 318px,#4d99c6 320px,#6eaed2 322px,#95c6df 323px,#f0f4f6 324px,#f5ac8b 325px,#e7876b 326px,#d96853 328px,#d6604d 330px,#da6954 332px,#ea8f71 334px,#f8bea2 335px,#bedbeb 336px,#7db7d7 337px,#5da3cc 338px,#4292c2 340px,#408ec1 342px,#4997c5 344px,#5ba2cb 345px,#7ab6d6 346px,#bddbea 347px,#f8ba9d 348px,#e98b6e 349px,#de735b 350px,#d35b4b 353px,#dc6e58 356px,#e58368 357px,#f5ac8b 358px,#e1edf3 359px,#85bdda 360px,#60a5cd 361px,#4291c2 363px,#408fc1fd 366px,#4494c3f9 367px,#6cadd1e9 369px,#9dcbe1dd 370px,#fce2d3cd 371px,#ee9878ba 372px,#da69548f 374px,#db6b5628 379px,#f2a07e0f 381px,#67aacf01 384px,#0000 545px)"></i><i style="left:79px;width:12px;transform:skewY(-13.22deg);background:linear-gradient(#f7f7f7,#f7f7f7 209px,#f8f4f2 214px,#f7f6f6 216px,#e1edf3 223px,#f7f6f6 228px,#fcd2bc 234px,#fcdfcd 237px,#f8f0ec 239px,#f0f3f6 240px,#b4d7e8 243px,#a1cde2 246px,#b5d7e8 249px,#f0f4f6 251px,#fbe3d5 252px,#f9c1a6 253px,#f6af8f 254px,#ef9979 257px,#f19e7d 259px,#f7b799 261px,#fddac6 262px,#f1f4f6 263px,#bbdaea 264px,#9ccae1 265px,#7bb7d6 267px,#72b0d3 269px,#8bc0db 272px,#a2cde3 273px,#d8e8f1 274px,#fce1d1 275px,#f6b090 276px,#ee9878 277px,#e27b61 280px,#e37f65 282px,#ef9979 284px,#f7b495 285px,#f9eee8 286px,#b2d5e7 287px,#8ac0db 288px,#62a7ce 290px,#579fca 292px,#5fa5cc 294px,#83bcd9 296px,#add3e6 297px,#faebe2 298px,#f5aa89 299px,#e98c6e 300px,#dd6f59 302px,#da6853 304px,#de735c 306px,#f09c7b 308px,#fcd3bd 309px,#b7d8e9 310px,#81bad8 311px,#549ec9 313px,#4695c4 315px,#4c99c6 317px,#6bacd1 319px,#90c3dd 320px,#e5eff4 321px,#f6b192 322px,#e88a6d 323px,#df755d 324px,#d6604d 327px,#df755d 330px,#e98b6e 331px,#f7b799 332px,#d1e5f0 333px,#81bad8 334px,#5fa5cd 335px,#4292c3 337px,#3f8ec1 339px,#4896c5 341px,#76b3d4 343px,#b1d5e7 344px,#f9c3a8 345px,#ea8e70 346px,#d96652 348px,#d35b4b 350px,#d7624e 352px,#e48166 354px,#f4a784 355px,#eef3f5 356px,#8bc0db 357px,#63a7ce 358px,#4292c2 360px,#3f8dc0 362px,#4393c3 364px,#69abd0 366px,#97c7df 367px,#faebe3 368px,#f09d7cfe 369px,#e27c63fb 370px,#db6b55f6 371px,#d45c4be4 373px,#da6a55b0 376px,#f09b7a84 378px,#fae7dc6d 379px,#99c9e057 380px,#6aacd043 381px,#3f8ec114 384px,#0000 388px,#0000 545px)"></i><i style="left:91px;width:12px;transform:skewY(-12.51deg);background:linear-gradient(#f7f7f7,#f7f7f7 207px,#f8f4f2 211px,#f6f6f7 214px,#e2edf3 220px,#f6f6f7 225px,#fdd9c4 230px,#fcd3bd 232px,#fcdecc 234px,#f4f6f6 237px,#b9d9e9 240px,#a2cde3 243px,#b2d5e7 246px,#e8f0f4 248px,#faeae1 249px,#fac9b0 250px,#f6b394 251px,#f19e7d 253px,#ef9979 255px,#f4a683 257px,#f6b293 258px,#faccb3 259px,#f8f3f0 260px,#a2cde3 262px,#7eb9d7 264px,#72b1d3 266px,#79b5d6 268px,#9bcae1 270px,#c5dfec 271px,#f9ede5 272px,#f7b99b 273px,#f19e7d 274px,#e48166 276px,#e17a61 278px,#ec9375 281px,#f5ac8b 282px,#fce0d0 283px,#c8e0ed 284px,#93c5de 285px,#76b3d4 286px,#57a0ca 289px,#5da3cc 291px,#7cb7d6 293px,#9fcce2 294px,#f1f4f6 295px,#f7b597 296px,#ec9274 297px,#de715a 299px,#da6853 301px,#dd705a 303px,#ec9475 305px,#f8bda0 306px,#d8e8f1 307px,#8cc1dc 308px,#6aacd0 309px,#4c99c6 311px,#4695c4 313px,#65a8cf 316px,#83bcd9 317px,#c4deec 318px,#f9c1a6 319px,#ec9274 320px,#e17960 321px,#d6604d 324px,#dd715a 327px,#e68469 328px,#f5a987 329px,#f0f4f6 330px,#8fc3dd 331px,#66a9cf 332px,#4493c3 334px,#3f8ec1 336px,#4594c4 338px,#6cadd1 340px,#9dcae1 341px,#fbe2d4 342px,#ee9878 343px,#e17a61 344px,#da6954 345px,#d45b4b 347px,#d6604d 349px,#e17a61 351px,#ef9a79 352px,#fbe6da 353px,#9ac9e0 354px,#6bacd1 355px,#4493c3 357px,#3f8dc0 359px,#4292c2 361px,#61a6cd 363px,#88beda 364px,#e7eff4 365px,#f5aa88 366px,#e58368 367px,#dc6e58 368px,#d55d4c 370px,#d96752fd 373px,#eb9072f4 375px,#fac8afeb 376px,#acd2e5df 377px,#73b1d3cf 378px,#4695c4a8 380px,#3e8dc065 383px,#75b3d41c 387px,#f9c4a909 389px,#0000 392px,#0000 545px)"></i><i style="left:103px;width:12px;transform:skewY(-11.79deg);background:linear-gradient(#f7f7f7,#f7f7f7 205px,#f7f5f3 209px,#f7f7f7 211px,#e2edf3 218px,#f2f5f6 222px,#f8f4f3 223px,#fcd4be 229px,#fce2d3 232px,#f8f4f2 234px,#b2d6e7 238px,#a3cee3 241px,#bddbea 244px,#f8f4f2 246px,#f8bb9e 248px,#f5ac8a 249px,#f09b7b 251px,#f09b7a 253px,#f5ac8b 255px,#f8bfa3 256px,#fbe5d9 257px,#e2edf3 258px,#afd4e6 259px,#96c7df 260px,#79b5d5 262px,#72b1d3 264px,#80bad8 266px,#92c5de 267px,#aed3e6 268px,#ecf2f5 269px,#facbb2 270px,#f5a886 271px,#ec9374 272px,#e27a61 275px,#e98d6f 278px,#f2a17f 279px,#f9c2a7 280px,#ebf1f5 281px,#a2cde3 282px,#80bad8 283px,#5fa5cd 285px,#57a0ca 287px,#72b1d3 290px,#8fc3dd 291px,#cae1ee 292px,#fbd1ba 293px,#f19f7d 294px,#e68569 295px,#dc6d57 297px,#da6954 299px,#e0775f 301px,#e8896c 302px,#f5a987 303px,#f9efe9 304px,#a1cce2 305px,#76b3d4 306px,#509bc7 308px,#4695c4 310px,#4f9bc7 312px,#74b2d4 314px,#a0cce2 315px,#faeae1 316px,#f3a380 317px,#e58267 318px,#d96652 320px,#d6604d 322px,#db6c56 324px,#ee9677 326px,#fcd6c1 327px,#a9d0e4 328px,#74b2d4 329px,#4896c5 331px,#408ec1 333px,#4292c2 335px,#60a5cd 337px,#85bdd9 338px,#dfecf3 339px,#f5ad8c 340px,#e68469 341px,#dc6f58 342px,#d35b4b 345px,#de725b 348px,#e88a6d 349px,#f7b99c 350px,#bedceb 351px,#7ab6d6 352px,#5ba2cb 353px,#4190c2 355px,#3f8dc0 357px,#4795c4 359px,#74b2d4 361px,#aed3e6 362px,#f9c6ac 363px,#eb9071 364px,#df755d 365px,#d45c4b 368px,#dc6f58 371px,#e58368 372px,#f5ab89 373px,#e4eef3 374px,#86bdda 375px,#60a6cd 376px,#4291c2f9 378px,#4392c3cc 382px,#67aacfa4 384px,#93c6de8e 385px,#f8f1ed78 386px,#f2a07f61 387px,#e37e644c 388px,#d55e4c19 391px,#e37f6501 395px,#0000 545px)"></i><i style="left:115px;width:12px;transform:skewY(-11.07deg);background:linear-gradient(#f7f7f7,#f7f7f7 203px,#f7f5f4 207px,#f6f6f7 209px,#e3eef3 215px,#f6f6f7 220px,#fce0cf 224px,#fcd6c1 227px,#fcdfce 229px,#f4f6f6 232px,#bcdaea 235px,#a5cfe4 238px,#b5d7e8 241px,#eaf1f5 243px,#faebe2 244px,#facbb3 245px,#f7b596 246px,#f2a07f 248px,#f09b7b 250px,#f4a785 252px,#f7b496 253px,#fbcfb7 254px,#f8f3f1 255px,#a4cee3 257px,#81bad8 259px,#75b3d4 261px,#7cb7d7 263px,#9ecbe1 265px,#c9e1ee 266px,#f9ede5 267px,#f8ba9d 268px,#f2a07e 269px,#e58368 271px,#e27d63 273px,#ed9676 276px,#f5ae8d 277px,#fce2d2 278px,#c9e1ee 279px,#94c6df 280px,#78b5d5 281px,#5aa1cb 284px,#5fa5cd 286px,#7fb9d7 288px,#a2cde3 289px,#f2f5f6 290px,#f7b698 291px,#ed9475 292px,#de735c 294px,#db6a55 296px,#de735b 298px,#ed9677 300px,#f8bfa3 301px,#d8e8f1 302px,#8ec3dd 303px,#6dadd1 304px,#4f9ac7 306px,#4997c5 308px,#67aacf 311px,#86beda 312px,#c8e1ee 313px,#f9c2a8 314px,#ed9475 315px,#e27b62 316px,#d7624f 319px,#de735c 322px,#e7876b 323px,#f5ab8a 324px,#eef3f5 325px,#90c4dd 326px,#68abd0 327px,#4695c4 329px,#4090c1 331px,#4796c5 333px,#6fafd2 335px,#9fcce2 336px,#fbe3d4 337px,#ef9a7a 338px,#e27c62 339px,#d7624f 341px,#d55e4c 343px,#db6c56 345px,#e37d63 346px,#f09d7c 347px,#fae8dd 348px,#9bcae1 349px,#6dadd1 350px,#4695c4 352px,#408fc1 354px,#4493c3 356px,#64a8ce 358px,#8ac0db 359px,#e8f0f4 360px,#f5ab8a 361px,#e68569 362px,#dd715a 363px,#d65f4d 365px,#d7614e 367px,#e17860 369px,#ec9374 370px,#faccb4 371px,#acd2e6 372px,#75b3d4 373px,#4896c5 375px,#3f8ec0 377px,#4191c2 379px,#5aa2cbfd 381px,#78b5d5f9 382px,#b3d6e7f2 383px,#f9c5abe9 384px,#ec9273dc 385px,#e17860cc 386px,#d7634fa4 388px,#f8bea227 394px,#7eb8d70f 396px,#4393c301 399px,#0000 545px)"></i><i style="left:127px;width:12px;transform:skewY(-10.35deg);background:linear-gradient(#f7f7f7,#f7f7f7 201px,#f7f6f5 205px,#f5f6f7 207px,#e5eef4 213px,#f7f6f6 218px,#fdd9c5 224px,#fdddca 226px,#f8f2ee 229px,#f0f4f6 230px,#bddbea 233px,#aad1e5 236px,#bfdceb 239px,#f2f5f6 241px,#fbe6da 242px,#fac9b0 243px,#f7b697 244px,#f2a17f 247px,#f4a784 249px,#f8bea2 251px,#fcdfcf 252px,#f1f4f6 253px,#a3cee3 255px,#85bdda 257px,#7cb7d6 259px,#95c6df 262px,#abd2e5 263px,#deebf2 264px,#fbe3d5 265px,#f7b799 266px,#f2a17f 267px,#e68468 270px,#e7886c 272px,#f3a280 274px,#f8bc9f 275px,#f8f1ec 276px,#b9d9e9 277px,#93c6de 278px,#6cadd1 280px,#61a6cd 282px,#6aacd0 284px,#8fc3dd 286px,#b7d8e9 287px,#f9ebe3 288px,#f6b192 289px,#ed9575 290px,#e17860 292px,#de725b 294px,#e37d63 296px,#f4a684 298px,#fcdecb 299px,#bedbeb 300px,#8bc1dc 301px,#5fa4cc 303px,#519cc8 305px,#57a0ca 307px,#76b3d5 309px,#99c9e0 310px,#e9f0f4 311px,#f7b89b 312px,#ed9475 313px,#e37f65 314px,#da6a55 317px,#e48065 320px,#ee9777 321px,#f9c1a6 322px,#d4e6f0 323px,#8bc0dc 324px,#6aacd0 325px,#4c99c6 327px,#4695c4 329px,#539dc9 331px,#81bad8 333px,#bbdaea 334px,#facbb3 335px,#ef9878 336px,#e37f65 337px,#d86651 340px,#e0785f 343px,#e98c6f 344px,#f6b191 345px,#eaf1f5 346px,#93c6de 347px,#6daed1 348px,#4c99c6 350px,#4494c3 352px,#4e9ac7 354px,#74b2d4 356px,#9fcce2 357px,#f9eee8 358px,#f4a785 359px,#e7876b 360px,#df755d 361px,#d96752 363px,#db6b56 365px,#e7876b 367px,#f4a785 368px,#f9eee8 369px,#9fcbe2 370px,#73b2d4 371px,#4d9ac7 373px,#4393c3 375px,#4a97c5 377px,#69abd0 379px,#8bc1dc 380px,#d9e9f1 381px,#f8bb9e 382px,#ec9273 383px,#e27c63 384px,#da6954f3 387px,#e68469ce 390px,#f3a280bb 391px,#fbe3d5a6 392px,#a9d1e490 393px,#79b5d67a 394px,#5fa5cd63 395px,#4594c31b 399px,#7db8d701 403px,#0000 545px)"></i><i style="left:139px;width:12px;transform:skewY(-9.63deg);background:linear-gradient(#f7f7f7,#f7f7f7 199px,#f7f6f5 202px,#f7f7f7 204px,#e6eff4 211px,#f2f5f6 215px,#f7f6f5 216px,#fddcc8 222px,#fcdfce 224px,#f8f3f0 227px,#c1ddeb 231px,#afd4e6 234px,#b8d8e9 236px,#f5f6f7 239px,#facbb3 241px,#f7b99b 242px,#f4a784 245px,#f7b597 248px,#f9c6ac 249px,#fbe5d8 250px,#edf2f5 251px,#a7d0e4 253px,#8cc1dc 255px,#84bcd9 257px,#9dcae1 260px,#b5d7e8 261px,#e6eff4 262px,#fce2d3 263px,#f7b99c 264px,#f4a683 265px,#e88b6e 268px,#eb9072 270px,#f5ab89 272px,#fac6ac 273px,#f7f6f5 274px,#bad9e9 275px,#97c8df 276px,#74b2d4 278px,#6aabd0 280px,#73b2d4 282px,#99c9e0 284px,#c8e1ee 285px,#fae7dc 286px,#f6b394 287px,#ef9a79 288px,#e47f65 290px,#e17a61 292px,#ed9676 295px,#f6b090 296px,#fae7dc 297px,#bcdaea 298px,#90c3dd 299px,#66a9cf 301px,#5aa1cb 303px,#61a6cd 305px,#82bbd9 307px,#a5cfe3 308px,#f3f5f6 309px,#f7ba9c 310px,#ef9979 311px,#e17a61 313px,#de725b 315px,#e27c63 317px,#f3a380 319px,#fcd3bd 320px,#cbe2ee 321px,#8ec3dd 322px,#70b0d2 323px,#549ec9 325px,#4f9bc7 327px,#5ea4cc 329px,#6fafd2 330px,#8fc3dd 331px,#d1e5f0 332px,#facab1 333px,#f19d7c 334px,#e6856a 335px,#dc6e58 338px,#e58267 341px,#ee9878 342px,#f8bfa3 343px,#e0ecf3 344px,#95c6df 345px,#73b1d3 346px,#549ec9 348px,#4d99c6 350px,#58a0ca 352px,#80bad8 354px,#acd2e5 355px,#faeae1 356px,#f5ab89 357px,#ea8d70 358px,#de745c 360px,#dd7059 362px,#e48065 364px,#ec9374 365px,#f6b495 366px,#f4f5f6 367px,#9ecbe2 368px,#78b5d5 369px,#62a7ce 370px,#4e9ac7 372px,#539dc9 375px,#74b2d4 377px,#97c7df 378px,#e3eef3 379px,#f8bda1 380px,#ef9978 381px,#e68468 382px,#de735b 384px,#df765e 386px,#eb9072 388px,#f6af8efe 389px,#f8f1edfb 390px,#a5cfe3f5 391px,#7cb7d7ed 392px,#64a8cee2 393px,#4e9ac7c1 395px,#519cc881 398px,#fae9de1f 403px,#ed96760b 405px,#0000 408px,#0000 545px)"></i><i style="left:151px;width:6px;transform:skewY(-9.08deg);background:linear-gradient(#f7f7f7,#f7f6f5 201px,#f6f7f7 203px,#f1f4f6 205px,#e7eff4 210px,#f5f6f7 214px,#fce0cf 219px,#fdddca 221px,#fce2d3 223px,#f6f7f7 226px,#bedceb 230px,#b3d6e7 232px,#c3deec 235px,#eaf1f5 237px,#f8f0eb 238px,#f9c5ab 240px,#f7b798 241px,#f5ab8a 243px,#f5ad8c 245px,#f8c0a4 247px,#f8f1ed 249px,#deebf2 250px,#b7d8e9 251px,#a2cde3 252px,#89c0db 255px,#90c4dd 257px,#abd2e5 259px,#f8f4f1 261px,#fbcfb7 262px,#f6b293 263px,#f3a380 264px,#eb9173 266px,#ec9273 268px,#f4a684 270px,#f7b99c 271px,#fbe3d5 272px,#e0ecf3 273px,#aad1e5 274px,#92c5de 275px,#76b3d4 277px,#70b0d3 279px,#80b9d8 281px,#92c5de 282px,#afd4e6 283px,#ecf2f5 284px,#fbcdb5 285px,#f5ab89 286px,#ee9677 287px,#e47f65 290px,#ec9274 293px,#f4a784 294px,#fac9af 295px,#eaf1f5 296px,#a7cfe4 297px,#87beda 298px,#68aacf 300px,#60a6cd 302px,#7cb7d7 305px,#97c8df 306px,#cde3ef 307px,#fce1d1 308px,#f5ad8c 309px,#ed9475 310px,#e27c63 312px,#e17960 314px,#e7886c 316px,#ef9a7a 317px,#f7b99b 318px,#f7f6f6 319px,#a9d1e5 320px,#84bcd9 321px,#60a5cd 323px,#569fc9 325px,#5ea4cc 327px,#83bbd9 329px,#a9d1e4 330px,#f8f4f2 331px,#f7b596 332px,#ee9677 333px,#e68469 334px,#df755d 336px,#e17960 338px,#ec9273 340px,#f5ae8d 341px,#fae9df 342px,#b3d6e7 343px,#88bfdb 344px,#6eaed2 345px,#57a0ca 347px,#549ec9 349px,#78b4d5 352px,#98c8e0 353px,#dceaf2 354px,#fac9b0 355px,#f2a17f 356px,#e37e64 358px,#df765e 360px,#e48066 362px,#f4a885 364px,#fdddca 365px,#c6dfed 366px,#8fc3dd 367px,#72b1d3 368px,#57a0ca 370px,#529cc8 372px,#5fa5cc 374px,#88bfdb 376px,#b3d6e7 377px,#faeae1 378px,#f6af8f 379px,#ed9475 380px,#e27c62 382px,#e17a61 384px,#ea8d70 386px,#f4a582 387px,#fcd2bc 388px,#d3e6f0 389px,#93c6de 390px,#74b2d4 391px,#529cc8fd 394px,#539dc9f3 396px,#68aad0da 398px,#9ccae1b4 400px,#dfebf39e 401px,#fbd2bb88 402px,#f5aa8970 403px,#e98c6f44 405px,#eb907213 408px,#fce2d201 411px,#0000 545px)"></i><i style="left:157px;width:6px;transform:skewY(-15.26deg);background:linear-gradient(#f7f7f7,#f7f6f5 200px,#f6f7f7 202px,#e8f0f4 208px,#f7f7f7 213px,#fbe3d6 217px,#fcdecc 220px,#fbe4d6 222px,#f4f5f6 225px,#bfdceb 229px,#b5d7e8 231px,#bcdaea 233px,#eff3f6 236px,#f9ede6 237px,#f9c4a9 239px,#f5ad8c 242px,#f7b89a 245px,#f9c6ac 246px,#f7f6f6 248px,#b5d7e8 250px,#a2cde3 251px,#8dc2dc 254px,#a0cce2 257px,#b4d6e8 258px,#ddebf2 259px,#f9eee7 260px,#fac9b0 261px,#f6b192 262px,#f3a381 263px,#ed9475 265px,#ee9777 267px,#f5ac8b 269px,#f9c2a8 270px,#f9ece4 271px,#d7e8f1 272px,#a7d0e4 273px,#81bad8 275px,#74b2d4 277px,#7bb6d6 279px,#9ac9e0 281px,#bcdaea 282px,#f7f6f5 283px,#f9c6ac 284px,#f5a987 285px,#e98b6e 287px,#e58368 289px,#e98c6f 291px,#f6af8f 293px,#fddcca 294px,#ddebf2 295px,#a2cde3 296px,#86beda 297px,#6aacd0 299px,#65a9cf 301px,#85bdda 304px,#a1cde2 305px,#dfecf3 306px,#fcd6c0 307px,#f5aa89 308px,#ed9475 309px,#e27c63 312px,#eb8f71 315px,#f4a482 316px,#fac6ad 317px,#e8f0f4 318px,#a3cde3 319px,#82bbd9 320px,#62a7ce 322px,#5aa2cb 324px,#65a9cf 326px,#8ec2dd 328px,#b8d9e9 329px,#fae9e0 330px,#f6b191 331px,#ee9677 332px,#e37d63 334px,#e17a61 336px,#e8896c 338px,#f09c7b 339px,#f7ba9d 340px,#f6f6f5 341px,#aad1e5 342px,#85bdda 343px,#61a6cd 345px,#58a0ca 347px,#60a5cd 349px,#81bad8 351px,#a3cee3 352px,#ecf2f5 353px,#f9c1a6 354px,#f2a07e 355px,#e98c6f 356px,#e27b62 358px,#e37e64 360px,#ee9777 362px,#f6b293 363px,#f9ece3 364px,#b5d7e8 365px,#8bc1dc 366px,#63a7ce 368px,#569fca 370px,#5ba2cb 372px,#76b3d5 374px,#93c5de 375px,#c7e0ed 376px,#fce1d1 377px,#f5ad8c 378px,#ed9576 379px,#e37d63 382px,#ee9677 385px,#f6af8f 386px,#fbe6da 387px,#bcdaea 388px,#8ec3dd 389px,#73b2d3 390px,#5aa1cb 392px,#58a0ca 395px,#85bddafd 398px,#a7d0e4f9 399px,#eaf1f5f2 400px,#fbcfb8e8 401px,#f6ae8edb 402px,#ee9777b6 404px,#f2a17f73 407px,#f6f4f234 410px,#c0dceb23 411px,#86beda0c 413px,#0000 416px,#0000 545px)"></i><i style="left:163px;width:6px;transform:skewY(-21.45deg);background:linear-gradient(#f7f7f7,#f7f6f6 198px,#f1f4f6 202px,#e8f0f4 206px,#f1f4f6 210px,#f7f7f7 211px,#fbe4d7 215px,#fcdfcd 218px,#f4f5f6 223px,#c2deec 227px,#b8d8e9 229px,#bfdceb 231px,#f0f4f6 234px,#f9ede6 235px,#fac6ad 237px,#f6b090 240px,#f8bb9e 243px,#fac9b0 244px,#f7f7f7 246px,#b8d8e9 248px,#a5cfe4 249px,#92c5de 252px,#a4cee3 255px,#b8d8e9 256px,#e0ecf3 257px,#f9eee7 258px,#faccb3 259px,#f7b496 260px,#f4a785 261px,#ee9878 263px,#f09b7b 265px,#f6b090 267px,#fac6ad 268px,#f9ede6 269px,#d9e9f1 270px,#abd2e5 271px,#95c7df 272px,#7ab6d6 275px,#81bad8 277px,#9fcce2 279px,#c2ddec 280px,#f7f5f4 281px,#fac9af 282px,#f5ac8b 283px,#eb9072 285px,#e7886c 287px,#f19f7d 290px,#f6b394 291px,#fce0cf 292px,#deebf2 293px,#a6cfe4 294px,#8cc1dc 295px,#70afd2 297px,#6bacd1 299px,#79b5d6 301px,#8bc1dc 302px,#a6cfe4 303px,#e2edf3 304px,#fddac6 305px,#f6ae8e 306px,#ef9979 307px,#e58167 310px,#ed9576 313px,#f5a987 314px,#fbccb4 315px,#e7f0f4 316px,#a6cfe4 317px,#87beda 318px,#67aacf 320px,#60a5cd 322px,#6bacd1 324px,#93c6de 326px,#bddbea 327px,#faebe2 328px,#f7b596 329px,#f09b7b 330px,#e58267 332px,#e47f65 334px,#ea8f71 336px,#f3a280 337px,#f8c0a4 338px,#f4f6f7 339px,#acd2e6 340px,#8ac0db 341px,#67aacf 343px,#5da4cc 345px,#66a9cf 347px,#87beda 349px,#a7d0e4 350px,#edf2f5 351px,#f9c6ac 352px,#f4a583 353px,#ec9173 354px,#e48166 356px,#e68469 358px,#f19e7c 360px,#f7b89a 361px,#f9efe9 362px,#b7d8e9 363px,#90c3dd 364px,#68aad0 366px,#5ba2cb 368px,#61a6cd 370px,#7cb7d6 372px,#97c7df 373px,#cbe2ee 374px,#fbe4d7 375px,#f6b292 376px,#f09b7a 377px,#e58368 380px,#f19d7c 383px,#f7b698 384px,#faebe3 385px,#bcdaea 386px,#92c5de 387px,#78b4d5 388px,#5ea4cc 390px,#59a1cb 392px,#65a8cf 394px,#89bfdb 396px,#a9d1e5 397px,#e9f0f4 398px,#fcd6c1 399px,#f6b394 400px,#f19f7efc 402px,#f4a582f2 404px,#f9c2a7da 406px,#fbe4d7ca 407px,#eaf1f5b6 408px,#bddbeaa1 409px,#a2cde38b 410px,#86bdda5e 412px,#7cb7d617 416px,#a4cee301 420px,#0000 545px)"></i><i style="left:169px;width:6px;transform:skewY(-16.28deg);background:linear-gradient(#f7f7f7,#f7f6f6 196px,#f1f4f6 200px,#e9f0f4 204px,#f2f4f6 208px,#f7f7f7 209px,#fbe5d8 213px,#fce0cf 216px,#f3f5f6 221px,#c6dfed 225px,#bbdaea 227px,#c4dfec 229px,#f2f4f6 232px,#f9ede6 233px,#fac9b0 235px,#f6b394 238px,#f8bfa3 241px,#fbceb7 242px,#f6f6f7 244px,#bbdaea 246px,#a9d1e4 247px,#96c7df 250px,#a9d1e5 253px,#bedbeb 254px,#e3eef3 255px,#f9ede6 256px,#fbceb7 257px,#f7b799 258px,#f19d7c 261px,#f2a17f 263px,#f7b596 265px,#fbcdb5 266px,#f9f0ea 267px,#d9e9f1 268px,#aed3e6 269px,#99c9e0 270px,#80b9d8 273px,#87beda 275px,#a5cfe3 277px,#f8f4f1 279px,#facab2 280px,#f6af8f 281px,#f2a07e 282px,#ea8f71 284px,#eb9072 286px,#f4a583 288px,#f7b99c 289px,#fbe4d7 290px,#ddebf2 291px,#a9d0e4 292px,#90c4dd 293px,#75b3d4 295px,#71b0d3 297px,#92c5de 300px,#add3e6 301px,#e6eff4 302px,#fddbc8 303px,#f6b192 304px,#eb9173 306px,#e7876b 308px,#f09c7b 311px,#f6af8f 312px,#fdd9c4 313px,#e5eef4 314px,#a8d0e4 315px,#8cc1dc 316px,#6daed1 318px,#66a9cf 320px,#72b1d3 322px,#9ac9e0 324px,#c8e0ed 325px,#faeae1 326px,#f7b89b 327px,#f2a17f 328px,#e7886c 330px,#e6856a 332px,#ed9676 334px,#f5a987 335px,#fac8af 336px,#f0f3f6 337px,#aed3e6 338px,#8ec2dd 339px,#6cadd1 341px,#63a7ce 343px,#6cadd1 345px,#8ec3dd 347px,#aed3e6 348px,#eff3f6 349px,#fac9b0 350px,#f5aa88 351px,#e98c6f 353px,#e7876b 355px,#f4a683 358px,#f9c0a5 359px,#f8f4f2 360px,#b7d8e9 361px,#93c5de 362px,#6daed1 364px,#61a6cd 366px,#67aacf 368px,#82bbd9 370px,#9ccae1 371px,#d2e5f0 372px,#fbe6da 373px,#f7b798 374px,#f2a17f 375px,#e88a6d 378px,#f4a683 381px,#f8bfa3 382px,#f8f2ee 383px,#bad9e9 384px,#94c6df 385px,#6dadd1 387px,#5fa5cd 389px,#63a7ce 391px,#78b5d5 393px,#add3e6 395px,#ebf1f5 396px,#fcd6c1 397px,#f6b394 398px,#f4a684 399px,#f2a17f 401px,#f7b495 403px,#facbb2 404px,#f9ede6 405px,#e1edf3fd 406px,#bbdaeaf9 407px,#90c4ddcc 411px,#b7d8e827 419px,#d8e9f10e 421px,#e8f0f401 424px,#0000 545px)"></i><i style="left:175px;width:6px;transform:skewY(-14.43deg);background:linear-gradient(#f7f7f7,#f7f7f6 195px,#eaf1f5 203px,#f5f6f7 207px,#fce1d1 214px,#fbe5d8 216px,#f7f7f7 219px,#bfdceb 225px,#c6dfed 227px,#ecf2f5 230px,#f8f2ef 231px,#f9c3a9 234px,#f7b698 237px,#facbb3 240px,#f8f2ee 242px,#e5eff4 243px,#b2d5e7 245px,#9ac9e0 248px,#a9d1e4 251px,#bad9e9 252px,#f7f5f4 254px,#f9c1a6 256px,#f5a987 258px,#f2a17f 260px,#f6b495 263px,#fac7ad 264px,#fae8dd 265px,#e8f0f4 266px,#bddbea 267px,#a3cee3 268px,#8bc1dc 270px,#86bdda 272px,#a3cee3 275px,#bedceb 276px,#edf2f5 277px,#fcdfce 278px,#f8bb9e 279px,#f5a987 280px,#ec9374 283px,#f4a583 286px,#f7b697 287px,#fddbc7 288px,#eff3f5 289px,#bad9e9 290px,#9ccae1 291px,#7eb8d7 293px,#77b4d5 295px,#82bbd9 297px,#a7d0e4 299px,#d7e8f1 300px,#faeae1 301px,#f8bfa4 302px,#f5a987 303px,#ea8e70 306px,#ec9374 308px,#f5ad8c 310px,#fac9b0 311px,#f7f7f6 312px,#bbdaea 313px,#99c9e0 314px,#77b4d5 316px,#6cadd1 318px,#75b2d4 320px,#96c7df 322px,#b6d7e8 323px,#f3f5f6 324px,#facbb2 325px,#f5ad8c 326px,#f09b7b 327px,#e98c6e 329px,#ea8f71 331px,#f4a886 333px,#f9c0a5 334px,#f9f0ea 335px,#9bcae1 337px,#76b3d4 339px,#6aacd0 341px,#70afd2 343px,#8cc1dc 345px,#a5cfe3 346px,#dceaf2 347px,#fbe3d5 348px,#f7b799 349px,#f3a381 350px,#e98d6f 353px,#f4a683 356px,#f8bb9e 357px,#fae9df 358px,#d3e6f0 359px,#a0cce2 360px,#87beda 361px,#6dadd1 363px,#67aacf 365px,#73b1d3 367px,#97c8df 369px,#bad9e9 370px,#f7f6f6 371px,#fac9b0 372px,#f5ad8c 373px,#f19e7c 374px,#eb9173 376px,#f4a684 379px,#f8bb9e 380px,#fae8dd 381px,#d5e7f1 382px,#a0cce2 383px,#87beda 384px,#66a9cf 387px,#6dadd1 390px,#8ac0db 392px,#a3cee3 393px,#d6e8f1 394px,#faeae0 395px,#f9c0a5 396px,#f5ac8b 397px,#f2a07e 399px,#f6ae8e 401px,#f9c1a6 402px,#fbe4d7 403px,#ebf2f5 404px,#add3e6 406px,#9dcbe1 408px,#9fcbe2fa 411px,#a2cde3e6 413px,#a8d0e4c3 415px,#cde3ef29 422px,#c7e0ed0d 424px,#b9d9e901 426px,#0000 545px)"></i><i style="left:181px;width:6px;transform:skewY(-8.1deg);background:linear-gradient(#f7f7f7,#f7f6f6 193px,#f2f5f6 197px,#ebf1f5 201px,#f2f5f6 205px,#f6f7f7 206px,#fce2d2 213px,#f4f6f7 218px,#c2ddec 224px,#cde3ef 226px,#f1f4f6 229px,#f9f0eb 230px,#f9c4aa 233px,#f7ba9c 235px,#f9c5aa 238px,#f7f6f6 241px,#b2d5e7 244px,#9ecbe2 247px,#b0d4e7 250px,#e4eef3 252px,#f8f1ec 253px,#f9c1a5 255px,#f5ab8a 257px,#f4a684 259px,#f8bb9e 262px,#f9eee8 264px,#e1edf3 265px,#bad9e9 266px,#a4cee3 267px,#8cc1dc 270px,#92c5de 272px,#acd2e6 274px,#f7f7f7 276px,#f7ba9d 278px,#f2a07e 280px,#ee9878 282px,#f5ad8c 285px,#f8c0a4 286px,#fbe5d8 287px,#e6eff4 288px,#b6d7e8 289px,#9ccae1 290px,#83bbd9 292px,#7db8d7 294px,#9ac9e0 297px,#b3d6e7 298px,#e4eef3 299px,#fbe5d7 300px,#f8bea1 301px,#f5aa89 302px,#ec9374 305px,#f4a684 308px,#f7b799 309px,#fcddca 310px,#ebf1f5 311px,#b5d7e8 312px,#99c8e0 313px,#7bb6d6 315px,#73b1d3 317px,#7db8d7 319px,#a0cce2 321px,#f8f2ef 323px,#fac7ad 324px,#f5ae8d 325px,#eb9173 328px,#ee9777 330px,#f6b192 332px,#fbd1bb 333px,#f3f5f6 334px,#bad9e9 335px,#9ac9e0 336px,#79b5d6 338px,#70afd2 340px,#78b4d5 342px,#96c7df 344px,#b1d5e7 345px,#e8f0f4 346px,#fcdecd 347px,#f7b799 348px,#f4a683 349px,#ec9475 352px,#f2a17f 354px,#f6af8f 355px,#fac9b0 356px,#f8f4f2 357px,#c3deec 358px,#9ecbe1 359px,#7ab6d6 361px,#6daed1 363px,#72b1d3 365px,#8bc0dc 367px,#a1cce2 368px,#cce3ef 369px,#f8f1ed 370px,#fac7ae 371px,#f6af8f 372px,#f3a280 373px,#ee9878 375px,#f3a381 377px,#f6b090 378px,#facab1 379px,#f8f4f2 380px,#c3deec 381px,#9dcbe1 382px,#87beda 383px,#6fafd2 385px,#6aacd0 387px,#74b2d4 389px,#93c6de 391px,#add2e6 392px,#e0ecf3 393px,#fae7dc 394px,#f9c2a7 395px,#f6b091 396px,#f5a987 398px,#f8bda0 400px,#f8f4f2 402px,#bcdbea 404px,#aed3e6 405px,#a7d0e4 407px,#b0d4e7fe 411px,#b1d5e7ee 413px,#b3d6e7b8 416px,#b4d6e831 422px,#b2d5e710 424px,#aed3e601 426px,#0000 545px)"></i><i style="left:187px;width:6px;transform:skewY(-3.34deg);background:linear-gradient(#f7f7f7,#f7f7f6 193px,#f1f4f6 197px,#ebf1f5 201px,#f5f6f7 205px,#fbe3d4 212px,#fbe6d9 214px,#f7f6f6 217px,#c6dfed 223px,#cde3ef 225px,#f8f4f3 229px,#faccb3 232px,#f8bca0 235px,#f9c5aa 237px,#f8f1ec 240px,#ebf1f5 241px,#bcdaea 243px,#a3cee3 246px,#b0d4e6 249px,#c0dceb 250px,#f5f6f7 252px,#faccb3 254px,#f8bb9e 255px,#f5aa88 258px,#f7ba9d 261px,#facbb3 262px,#fae7dc 263px,#eef3f5 264px,#afd4e6 266px,#97c7df 268px,#91c5de 270px,#aad1e5 273px,#eaf1f5 275px,#fae7dc 276px,#fac6ad 277px,#f6b394 278px,#f19e7d 281px,#f3a481 283px,#f8bc9f 285px,#f5f6f7 287px,#a9d1e5 289px,#8cc1dc 291px,#83bcd9 293px,#8dc2dc 295px,#add3e6 297px,#d6e7f1 298px,#f8f2ee 299px,#fbcfb7 300px,#f7b596 301px,#f19e7d 303px,#ef9a79 305px,#f4a784 307px,#f7b496 308px,#fbd0b8 309px,#f8f4f2 310px,#a6cfe4 312px,#84bcd9 314px,#79b5d5 316px,#80bad8 318px,#9ccae1 320px,#b8d8e9 321px,#ebf1f5 322px,#fcdfce 323px,#f8ba9d 324px,#f5a988 325px,#ef9979 327px,#f09b7a 329px,#f6b090 331px,#fac7ae 332px,#f9efe9 333px,#d5e7f1 334px,#a8d0e4 335px,#83bcd9 337px,#76b3d4 339px,#7bb6d6 341px,#93c6de 343px,#a9d1e5 344px,#d7e8f1 345px,#f9eee8 346px,#fac7ae 347px,#f6b191 348px,#f4a582 349px,#ef9a7a 351px,#f6af8e 354px,#f9c3a9 355px,#faeae1 356px,#dceaf2 357px,#acd2e5 358px,#94c6df 359px,#79b5d6 361px,#73b1d3 363px,#7db8d7 365px,#9ccae1 367px,#b8d8e9 368px,#ebf1f5 369px,#fce0d0 370px,#f8bda0 371px,#f5ad8c 372px,#f2a07e 375px,#f6b191 377px,#f9c5ab 378px,#f9ebe3 379px,#dae9f2 380px,#aad1e5 381px,#93c6de 382px,#77b4d5 384px,#6fafd2 386px,#76b3d4 388px,#90c3dd 390px,#a4cee3 391px,#f7f6f6 393px,#f8bda1 395px,#f6b191 397px,#f9c1a6 399px,#f8f3f0 401px,#b3d6e8 404px,#abd2e5 406px,#b5d7e8 410px,#b4d6e8f5 412px,#b3d6e7c6 415px,#afd4e62a 422px,#aed3e60c 424px,#0000 426px,#0000 545px)"></i><i style="left:193px;width:12px;transform:skewY(-2.94deg);background:linear-gradient(#f7f7f7,#f7f7f6 192px,#f3f5f6 196px,#f3f5f6 204px,#f7f7f7 205px,#fbe4d6 212px,#f3f5f6 217px,#c8e1ee 223px,#f3f5f6 228px,#facab1 232px,#f8c0a4 234px,#fbcdb5 237px,#f6f6f7 240px,#b9d9e9 243px,#a6cfe4 246px,#badaea 249px,#eaf1f5 251px,#f9f0ea 252px,#f9c6ac 254px,#f7b99c 255px,#f5ae8d 258px,#f9c5ab 261px,#f8f2ef 263px,#e1edf3 264px,#abd2e5 266px,#96c7df 269px,#a7cfe4 272px,#b9d9e9 273px,#f8f4f2 275px,#f8c0a4 277px,#f4a482 280px,#f4a683 282px,#f7b799 284px,#faccb3 285px,#f9ebe3 286px,#e4eef3 287px,#bbdaea 288px,#a4cee3 289px,#89c0db 292px,#8fc3dd 294px,#a6cfe4 296px,#c1ddeb 297px,#ebf1f5 298px,#fbe5d9 299px,#f9c4aa 300px,#f6b292 301px,#f19f7d 304px,#f6b192 307px,#f9c4a9 308px,#fbe6db 309px,#e7eff4 310px,#b9d9e9 311px,#9fcce2 312px,#86bdda 314px,#7fb9d8 316px,#8bc0db 318px,#acd2e5 320px,#d7e8f1 321px,#f8f1ed 322px,#fbcfb7 323px,#f7b697 324px,#f5a987 325px,#f19e7c 327px,#f5ae8d 330px,#f8bfa3 331px,#fce2d3 332px,#ebf2f5 333px,#bcdaea 334px,#a0cce2 335px,#84bcd9 337px,#7bb7d6 339px,#84bcd9 341px,#a1cce2 343px,#bddbea 344px,#ecf2f5 345px,#fbe2d3 346px,#f8c0a4 347px,#f6af8f 348px,#f2a17f 351px,#f5ae8d 353px,#f8bda1 354px,#fcdfcd 355px,#f1f4f6 356px,#c2ddec 357px,#a2cde3 358px,#83bcd9 360px,#78b5d5 362px,#7eb8d7 364px,#96c7df 366px,#aad1e5 367px,#f8f3f0 369px,#fcd5bf 370px,#f7ba9c 371px,#f5ae8d 372px,#f4a684 374px,#f6b191 376px,#f8c0a4 377px,#fce1d1 378px,#eef3f5 379px,#bedbeb 380px,#a0cce2 381px,#81bad8 383px,#74b2d4 385px,#7fb9d7 388px,#9bcae1 390px,#b4d6e8 391px,#e0ecf3 392px,#f9ede6 393px,#fcd2bc 394px,#f8bfa3 395px,#f7b99c 396px,#f9c5ab 398px,#f9efea 400px,#e8f0f4 401px,#bad9e9 403px,#b1d5e7 404px,#b6d7e8 409px,#b5d7e8f6 411px,#b4d6e8db 413px,#afd4e62b 421px,#aed3e60d 423px,#0000 425px,#0000 545px)"></i><i style="left:205px;width:12px;transform:skewY(-2.41deg);background:linear-gradient(#f7f7f7,#f7f7f7 192px,#f2f5f6 196px,#f1f4f6 203px,#f5f6f7 204px,#fbe4d6 211px,#fae7db 213px,#f7f7f6 216px,#c8e0ed 222px,#d7e8f1 225px,#f8f4f2 228px,#fbceb6 231px,#f8bea2 234px,#fac7ad 236px,#f8f2ee 239px,#eaf1f5 240px,#bedbea 242px,#a5cfe3 245px,#b2d5e7 248px,#f7f7f7 251px,#fbcdb5 253px,#f8bca0 254px,#f5ac8b 257px,#f8bda0 260px,#fbd0b8 261px,#fae9df 262px,#edf2f5 263px,#b1d5e7 265px,#a2cde2 266px,#94c6df 269px,#add3e6 272px,#edf2f5 274px,#fbe6db 275px,#fac7ad 276px,#f7b596 277px,#f2a07f 280px,#f4a784 282px,#f8bfa3 284px,#f3f5f6 286px,#aad1e5 288px,#8ec3dd 290px,#86bdda 292px,#9ccae1 295px,#b0d4e7 296px,#dae9f2 297px,#f8f1ec 298px,#fbcfb8 299px,#f7b698 300px,#f5a987 301px,#f09c7b 303px,#f2a17f 305px,#f7b89a 307px,#f7f6f5 309px,#a7cfe4 311px,#87beda 313px,#7cb7d6 315px,#83bcd9 317px,#a0cce2 319px,#bcdbea 320px,#edf2f5 321px,#fcdfce 322px,#f8bc9f 323px,#f5ab8a 324px,#f09b7b 326px,#f19e7d 328px,#f6b394 330px,#fbccb4 331px,#f8f1ed 332px,#d4e6f0 333px,#a8d0e4 334px,#85bdda 336px,#79b5d5 338px,#7eb8d7 340px,#96c7df 342px,#acd2e5 343px,#dae9f2 344px,#f9eee7 345px,#fac8af 346px,#f6b293 347px,#f4a784 348px,#f19d7c 350px,#f4a784 352px,#f6b293 353px,#fac8af 354px,#f9ede6 355px,#d9e9f2 356px,#acd2e5 357px,#95c7df 358px,#7cb7d6 360px,#76b3d4 362px,#80bad8 364px,#9ecbe2 366px,#bbdaea 367px,#ecf2f5 368px,#fce1d1 369px,#f8bfa3 370px,#f6af8f 371px,#f4a481 374px,#f7b596 376px,#facbb2 377px,#f9efe9 378px,#d7e8f1 379px,#aad1e5 380px,#94c6de 381px,#79b5d5 383px,#71b0d3 385px,#79b5d5 387px,#92c5de 389px,#a6cfe4 390px,#f7f6f6 392px,#f9c2a7 394px,#f7b99c 395px,#f8c0a4 397px,#f0f4f6 400px,#c0dceb 402px,#b5d7e8 403px,#b6d7e8 408px,#b5d7e8f5 410px,#b3d6e7c6 413px,#b0d4e62a 420px,#afd4e60c 422px,#0000 424px,#0000 545px)"></i><i style="left:217px;width:12px;transform:skewY(-1.87deg);background:linear-gradient(#f7f7f7,#f7f7f7 192px,#f1f4f6 196px,#f3f5f6 203px,#f7f7f7 204px,#fbe4d6 211px,#f3f5f6 216px,#c7e0ed 222px,#f3f5f6 227px,#fac7ae 231px,#f8bda0 233px,#fac9b1 236px,#f5f6f7 239px,#b5d7e8 242px,#a2cde3 245px,#b6d7e8 248px,#e9f0f4 250px,#f9efe9 251px,#f9c2a7 253px,#f7b597 254px,#f5aa88 257px,#f9c1a6 260px,#f8f2ef 262px,#dfecf3 263px,#bad9ea 264px,#a6cfe4 265px,#91c4de 268px,#a2cde2 271px,#b4d6e8 272px,#f8f4f1 274px,#f8bb9e 276px,#f4a481 278px,#f19d7c 280px,#f6b293 283px,#fac7ad 284px,#faeae1 285px,#e2edf3 286px,#b5d7e8 287px,#9ecbe1 288px,#87beda 290px,#83bbd9 292px,#a1cde2 295px,#bbdaea 296px,#eaf1f5 297px,#fbe2d4 298px,#f8bea2 299px,#f5ac8b 300px,#ee9878 303px,#f5ac8b 306px,#f8bea2 307px,#fbe4d6 308px,#e5eff4 309px,#b4d6e8 310px,#9ac9e0 311px,#7fb9d7 313px,#78b5d5 315px,#84bcd9 317px,#a7d0e4 319px,#d5e7f1 320px,#f9efe9 321px,#fac7ad 322px,#f6b090 323px,#f3a380 324px,#ee9677 326px,#f5a886 329px,#f7b99b 330px,#fcdecc 331px,#ecf2f5 332px,#b7d8e9 333px,#9bcae1 334px,#7db8d7 336px,#75b2d4 338px,#7eb8d7 340px,#9ccae1 342px,#b9d9e9 343px,#edf2f5 344px,#fcddcb 345px,#f7b99c 346px,#f19f7d 348px,#ef9979 350px,#f4a785 352px,#f7b698 353px,#fdd8c4 354px,#f2f5f6 355px,#bedbea 356px,#9ecbe1 357px,#7db8d7 359px,#72b1d3 361px,#78b4d5 363px,#92c5de 365px,#a7d0e4 366px,#d5e7f1 367px,#f9efea 368px,#fac9b0 369px,#f6b293 370px,#f4a784 371px,#f19e7d 373px,#f5aa88 375px,#f7b89b 376px,#fddbc7 377px,#f1f4f6 378px,#bcdaea 379px,#9ccae1 380px,#7bb6d6 382px,#6fafd2 384px,#72b1d3 386px,#86bdda 388px,#b2d5e7 390px,#e3eef3 391px,#fae8dd 392px,#fac9af 393px,#f7b698 395px,#f9c5ab 397px,#f8f3f0 399px,#bad9e9 402px,#b6d7e8fd 408px,#b5d7e8e9 410px,#b4d6e8c6 412px,#b0d4e72a 419px,#afd4e60c 421px,#0000 423px,#0000 545px)"></i><i style="left:229px;width:12px;transform:skewY(-1.34deg);background:linear-gradient(#f7f7f7,#f7f7f7 192px,#f1f4f6 196px,#f4f6f7 203px,#f7f6f5 204px,#fbe4d7 210px,#fbe7db 212px,#f7f5f4 215px,#cee4ef 220px,#c9e1ee 222px,#f7f6f6 227px,#f9c4aa 231px,#f8bca0 233px,#fbceb6 236px,#f9eee8 238px,#eef3f5 239px,#b0d4e6 242px,#a2cde3 245px,#bbdaea 248px,#f1f4f6 250px,#f8bca0 253px,#f5a987 256px,#f7b799 259px,#fac6ac 260px,#f3f5f6 262px,#b1d5e7 264px,#a0cce2 265px,#8fc3dd 268px,#a5cfe3 271px,#bcdaea 272px,#e4eef4 273px,#faebe2 274px,#fac9b0 275px,#f6b495 276px,#f09c7b 279px,#f2a07e 281px,#f7b798 283px,#fcd3bc 284px,#f8f4f1 285px,#aad1e5 287px,#8bc0db 289px,#80bad8 291px,#89bfdb 293px,#a6cfe4 295px,#f7f6f6 297px,#fcd4be 298px,#f7b597 299px,#f4a784 300px,#ee9777 302px,#ef9a79 304px,#f6af8f 306px,#fac6ac 307px,#f9eee8 308px,#d6e7f1 309px,#a8d0e4 310px,#83bcd9 312px,#76b3d4 314px,#7cb7d6 316px,#97c7df 318px,#b0d4e7 319px,#e4eef3 320px,#fbe3d4 321px,#f8bb9f 322px,#f5a987 323px,#ed9475 326px,#f5ab89 329px,#f8bfa4 330px,#fae8dd 331px,#dceaf2 332px,#aad1e5 333px,#93c6de 334px,#78b5d5 336px,#73b1d3 338px,#7fb9d8 340px,#a2cde3 342px,#f8f2ef 344px,#fac9b1 345px,#f6b091 346px,#f3a381 347px,#ee9777 349px,#f5aa88 352px,#f8bc9f 353px,#fbe3d5 354px,#e3eef3 355px,#afd4e6 356px,#95c7df 357px,#78b4d5 359px,#70afd2 361px,#79b5d5 363px,#96c7df 365px,#b1d5e7 366px,#e5eef4 367px,#fbe3d5 368px,#f8bda1 369px,#f5ab8a 370px,#f09c7b 373px,#f5ac8a 375px,#f8bda1 376px,#fbe4d6 377px,#e2edf3 378px,#aed3e6 379px,#94c6df 380px,#76b3d4 382px,#6cadd1 384px,#72b1d3 386px,#8ac0db 388px,#c0dceb 390px,#f3f5f6 391px,#f9c2a7 393px,#f7b99b 394px,#f8bfa3 396px,#fae9df 398px,#f0f4f6 399px,#c2deec 401px,#b7d8e9 402px,#b6d7e8f6 408px,#b4d6e8c8 411px,#b0d4e72c 418px,#afd4e60d 420px,#0000 422px,#0000 545px)"></i><i style="left:241px;width:4px;transform:skewY(-0.98deg);background:linear-gradient(#f7f7f7,#f7f7f7 191px,#f1f4f6 196px,#f2f5f6 202px,#f5f6f7 203px,#fbe6d9 210px,#fae8dd 212px,#f7f6f6 215px,#cde3ef 221px,#d9e9f1 224px,#f8f5f3 227px,#f9c6ac 231px,#f8bfa3 233px,#fac7ad 235px,#f8f1ed 238px,#ebf1f5 239px,#bedbeb 241px,#a5cee3 244px,#b1d5e7 247px,#f5f6f7 250px,#fbcdb5 252px,#f8bc9f 253px,#f5ab89 256px,#f8bb9e 259px,#faccb4 260px,#fae7dc 261px,#eef3f5 262px,#b0d4e6 264px,#a0cce2 265px,#92c5de 268px,#aad1e5 271px,#ebf1f5 273px,#fae7db 274px,#fac6ad 275px,#f6b394 276px,#f19e7d 279px,#f3a481 281px,#f8bc9f 283px,#f5f6f7 285px,#a8d0e4 287px,#8bc1dc 289px,#83bbd9 291px,#8dc2dc 293px,#acd2e6 295px,#d6e7f1 296px,#f8f1ed 297px,#fbceb6 298px,#f7b496 299px,#f19e7c 301px,#ef9979 303px,#f4a684 305px,#f6b495 306px,#fbcfb8 307px,#f8f4f2 308px,#a5cfe3 310px,#84bcd9 312px,#78b5d5 314px,#7fb9d8 316px,#9ccae1 318px,#b8d8e9 319px,#ebf2f5 320px,#fcdfcd 321px,#f7b99c 322px,#f5a987 323px,#ee9878 325px,#ef9a7a 327px,#f6af8f 329px,#fac7ad 330px,#f9efe9 331px,#d5e7f1 332px,#a7d0e4 333px,#83bbd9 335px,#75b3d4 337px,#7ab6d6 339px,#93c6de 341px,#a9d0e4 342px,#d7e8f1 343px,#f9eee7 344px,#fac6ac 345px,#f6b090 346px,#f3a481 347px,#ef9979 349px,#f6ae8e 352px,#f9c3a8 353px,#faeae1 354px,#dbeaf2 355px,#abd2e5 356px,#94c6df 357px,#79b5d5 359px,#72b1d3 361px,#7cb7d7 363px,#9bcae1 365px,#b8d8e9 366px,#ebf2f5 367px,#fce0cf 368px,#f8bc9f 369px,#f5ac8b 370px,#f29f7e 373px,#f6b090 375px,#f9c5aa 376px,#faebe3 377px,#dae9f2 378px,#aad1e5 379px,#92c5de 380px,#76b3d5 382px,#6eaed2 384px,#75b3d4 386px,#8fc3dd 388px,#a4cee3 389px,#f7f7f7 391px,#f9c5aa 393px,#f8bda1 394px,#fac8af 396px,#f8f1ed 398px,#e7f0f4 399px,#bedbeb 401px,#b7d8e8 402px,#b6d7e8fa 407px,#b4d6e8d1 410px,#b0d4e722 418px,#afd4e601 421px,#0000 545px)"></i><i style="left:245px;width:4px;transform:skewY(-0.8deg);background:linear-gradient(#f7f7f7,#f7f7f7 191px,#f2f5f6 196px,#f2f5f6 202px,#f6f6f7 203px,#fae7db 210px,#f7f7f6 215px,#d1e5f0 221px,#dbeaf2 224px,#f8f4f2 227px,#fac8af 231px,#f9c2a7 233px,#facab1 235px,#f8f2ef 238px,#ebf1f5 239px,#b3d6e8 242px,#a8d0e4 244px,#b5d7e8 247px,#f7f7f7 250px,#f8bea2 253px,#f5ae8d 256px,#f8bea2 259px,#faeae0 261px,#edf2f5 262px,#b2d5e7 264px,#a3cee3 265px,#95c7df 268px,#afd4e6 271px,#edf2f5 273px,#fbe6db 274px,#fac8ae 275px,#f7b597 276px,#f3a27f 279px,#f6b090 282px,#f8c0a4 283px,#f3f5f6 285px,#aad1e5 287px,#8fc3dd 289px,#87beda 291px,#9dcbe1 294px,#b1d5e7 295px,#dae9f2 296px,#f8f0ec 297px,#fbcfb8 298px,#f7b698 299px,#f5a988 300px,#f09d7c 302px,#f3a27f 304px,#f7b89b 306px,#f7f6f6 308px,#a6cfe4 310px,#87beda 312px,#7cb7d7 314px,#84bcd9 316px,#a0cce2 318px,#bddbea 319px,#eef3f5 320px,#fcdfce 321px,#f8bb9f 322px,#f5ab8a 323px,#f09c7b 325px,#f19e7d 327px,#f6b495 329px,#fbcdb5 330px,#f8f2ee 331px,#d3e6f0 332px,#a8d0e4 333px,#85bdda 335px,#79b5d5 337px,#7eb8d7 339px,#97c7df 341px,#add3e6 342px,#dae9f2 343px,#f9ede6 344px,#fac8af 345px,#f6b293 346px,#f4a784 347px,#f19d7c 349px,#f4a784 351px,#f6b393 352px,#fac9b0 353px,#f9eee7 354px,#d9e9f1 355px,#abd2e5 356px,#95c7df 357px,#7cb7d6 359px,#76b3d4 361px,#80bad8 363px,#9fcce2 365px,#bcdaea 366px,#edf2f5 367px,#fce1d1 368px,#f8bfa3 369px,#f4a784 371px,#f5aa88 374px,#f7b597 375px,#faccb4 376px,#f9f0ea 377px,#d7e8f1 378px,#a9d1e5 379px,#94c6de 380px,#79b5d5 382px,#72b0d3 384px,#79b5d5 386px,#93c5de 388px,#a7d0e4 389px,#f6f6f7 391px,#facbb2 393px,#f9c4a9 394px,#fac6ac 395px,#fcd4bf 396px,#f7f6f5 398px,#bddbea 401px,#b7d8e8 406px,#b5d7e8ee 408px,#b4d6e8b8 411px,#b1d5e730 417px,#b0d4e610 419px,#afd4e601 421px,#0000 545px)"></i><i style="left:249px;width:4px;transform:skewY(-0.62deg);background:linear-gradient(#f7f7f7,#f7f7f7 191px,#f1f4f6 197px,#f1f4f6 201px,#f6f6f7 203px,#fae9df 210px,#f7f7f7 215px,#d6e7f1 221px,#dfecf3 224px,#f8f4f2 227px,#fbcfb7 231px,#fac7ae 233px,#fcd2bc 235px,#f8f3f1 238px,#b9d9e9 242px,#aed3e6 244px,#bcdbea 247px,#f7f6f6 250px,#f9c3a8 253px,#f6b394 256px,#f9c4aa 259px,#f9ece4 261px,#edf2f5 262px,#b7d8e9 264px,#a9d1e4 265px,#9ccae1 268px,#b6d7e8 271px,#f0f4f6 273px,#fae7dc 274px,#fbccb4 275px,#f7ba9d 276px,#f4a885 279px,#f7b698 282px,#fac6ad 283px,#f1f4f6 285px,#afd4e6 287px,#95c7df 289px,#8ec3dd 291px,#a4cee3 294px,#b8d8e9 295px,#dfebf2 296px,#f8f0ec 297px,#f8bb9e 299px,#f3a481 302px,#f5a886 304px,#f8bfa4 306px,#f5f6f7 308px,#abd2e5 310px,#8dc2dc 312px,#83bcd9 314px,#8bc1dc 316px,#a6cfe4 318px,#eff3f6 320px,#fce1d2 321px,#f9c1a5 322px,#f6b191 323px,#f3a280 326px,#f5ad8d 328px,#f8bb9e 329px,#f7f5f4 331px,#abd2e5 333px,#8cc1dc 335px,#80b9d8 337px,#85bdda 339px,#9dcae1 341px,#b3d6e7 342px,#ddebf2 343px,#f9efe9 344px,#fbd0b8 345px,#f7b89b 346px,#f4a583 349px,#f5ae8d 351px,#f8ba9d 352px,#f8f2ef 354px,#aed3e6 356px,#99c9e0 357px,#82bbd8 359px,#7cb7d7 361px,#87beda 363px,#a4cee3 365px,#c1ddeb 366px,#ecf2f5 367px,#fbe5d8 368px,#f9c6ac 369px,#f7b697 370px,#f5ac8b 373px,#f8bea2 375px,#f7f5f3 377px,#abd2e5 379px,#97c7df 380px,#7fb9d7 382px,#78b4d5 384px,#7fb9d8 386px,#97c8df 388px,#aad1e5 389px,#f2f5f6 391px,#fcd9c5 393px,#fbd1bb 394px,#fcd6c1 395px,#eff3f6 398px,#bcdaea 401px,#b6d7e8f6 407px,#b4d6e8c8 410px,#b1d5e72c 417px,#b0d4e60d 419px,#0000 421px,#0000 545px)"></i><i style="left:253px;width:4px;transform:skewY(-0.45deg);background:linear-gradient(#f7f7f7,#f7f7f7 191px,#f1f4f6 199px,#f6f7f7 203px,#f9ece4 210px,#f7f7f7 215px,#ddebf2 221px,#f2f5f6 226px,#f8f4f3 227px,#fcdac7 231px,#fcd3bd 233px,#fcddca 235px,#f8f4f3 238px,#c7e0ed 242px,#bad9e9 244px,#c0dceb 246px,#f7f6f5 250px,#fbcdb6 253px,#f8bda0 256px,#f9c4aa 258px,#fce1d1 260px,#eef3f5 262px,#b4d6e8 265px,#a7d0e4 267px,#b3d6e7 270px,#f2f5f6 273px,#f9c3a9 276px,#f6b192 279px,#f9c1a5 282px,#f1f4f6 285px,#b9d9e9 287px,#a9d1e5 288px,#9ac9e0 291px,#afd4e6 294px,#e3eef3 296px,#f8f2ee 297px,#f9c5ab 299px,#f6af8e 302px,#f8bc9f 305px,#fbccb4 306px,#f2f5f6 308px,#b3d6e8 310px,#a2cde3 311px,#90c4dd 314px,#a0cce2 317px,#b0d4e7 318px,#eff3f6 320px,#fae7db 321px,#fbcdb5 322px,#f8bc9f 323px,#f5ae8d 326px,#f7b99c 328px,#fac8af 329px,#f5f6f7 331px,#b3d6e7 333px,#a1cde2 334px,#8cc1dc 337px,#91c4de 339px,#a6cfe4 341px,#bbdaea 342px,#dfecf3 343px,#f8f2ef 344px,#f9c5aa 346px,#f6b191 349px,#f8ba9d 351px,#fac9af 352px,#f6f6f6 354px,#b4d6e8 356px,#a1cde2 357px,#8dc2dc 359px,#88bfdb 361px,#92c5de 363px,#acd2e5 365px,#e9f1f4 367px,#f9ece5 368px,#f9c4a9 370px,#f7b89a 372px,#f9c0a5 374px,#fae7db 376px,#f1f4f6 377px,#afd4e6 379px,#9dcbe1 380px,#88bfdb 382px,#82bbd9 384px,#9ecbe1 388px,#afd4e6 389px,#eaf1f5 391px,#f8f1ed 392px,#fbe5d7 394px,#f3f5f5 397px,#bbdaea 401px,#b7d8e9 405px,#b6d7e8f4 407px,#b4d6e8c4 410px,#b1d5e728 417px,#b0d4e60b 419px,#0000 421px,#0000 545px)"></i><i style="left:257px;width:4px;transform:skewY(-0.27deg);background:linear-gradient(#f7f7f7,#f7f7f7 191px,#f3f5f6 199px,#f7f7f7 203px,#f9f0eb 210px,#f8f5f3 214px,#f7f7f7 215px,#e6eff4 221px,#f4f5f6 226px,#f7f5f4 227px,#fbe2d3 233px,#f7f5f4 238px,#d2e5f0 244px,#dceaf2 247px,#f7f6f5 250px,#fcd8c4 254px,#fbd1bb 256px,#fcd9c5 258px,#f1f4f6 262px,#bedceb 267px,#c3deec 269px,#f4f6f6 273px,#fbcdb5 277px,#f9c5ab 279px,#faccb4 281px,#f2f5f6 285px,#bfdceb 288px,#afd4e6 291px,#b8d8e9 293px,#f7f5f3 297px,#fbcfb8 300px,#f9c4a9 302px,#fac9b0 304px,#f0f4f6 308px,#b5d7e8 311px,#a4cee3 314px,#b3d6e7 317px,#eef3f5 320px,#f9efea 321px,#fbd4bf 323px,#f9c6ac 325px,#facab1 327px,#fce1d2 329px,#eff3f6 331px,#b1d5e7 334px,#9fcce2 337px,#a3cee3 339px,#b6d7e8 341px,#f4f5f6 344px,#fbd4be 347px,#facbb3 349px,#fbd6c2 351px,#eef3f5 354px,#afd4e6 357px,#9bc9e0 361px,#aad1e5 364px,#f5f4f4 368px,#fbe2d3 370px,#fbd7c4 372px,#fbe0d1 374px,#f5f3f2 376px,#a8d0e4 380px,#93c5de 384px,#a8d0e4 388px,#deebf2 391px,#f2f3f4 393px,#f1f3f4 395px,#c0dceb 400px,#b7d8e9 405px,#b6d7e8f2 407px,#b4d6e8bf 410px,#b1d5e724 417px,#b0d4e609 419px,#0000 421px,#0000 545px)"></i><i style="left:261px;width:4px;transform:skewY(-0.09deg);background:linear-gradient(#f7f7f7,#f7f7f7 203px,#f8f5f3 211px,#f7f7f7 215px,#f1f4f6 221px,#f6f6f7 226px,#f7f5f3 228px,#f9f0ea 233px,#f8f4f3 237px,#f7f6f6 238px,#f2f4f6 240px,#ebf1f5 245px,#f7f7f6 250px,#faebe3 256px,#f5f6f7 262px,#e5eef4 268px,#f6f7f7 273px,#fae8de 279px,#f7f5f3 284px,#f3f5f6 285px,#dbeaf2 291px,#f4f6f6 297px,#f7f4f2 298px,#f9ebe2 302px,#f4f5f5 307px,#cfe4ef 314px,#f2f4f6 321px,#f4f2f1 322px,#f7ece6 325px,#f4f2f1 329px,#c7e0ed 337px,#cee3ef 340px,#f2f2f2 346px,#f4efec 349px,#f0f2f3 352px,#bfdceb 360px,#c2ddeb 363px,#e7eff4 369px,#ecf0f2 372px,#e5eff4 375px,#bcdaea 380px,#b0d4e7 383px,#b4d6e8 387px,#d4e7f0 393px,#bcdaea 400px,#b7d8e9 405px,#b5d7e8e1 408px,#b1d5e733 416px,#b0d4e712 418px,#afd4e601 420px,#0000 545px)"></i><i style="left:265px;width:4px;transform:skewY(0.09deg);background:linear-gradient(#f7f7f7,#f7f6f5 200px,#f4f5f6 210px,#f7f7f7 215px,#f8f4f2 218px,#f8f4f2 224px,#f6f7f7 227px,#f2f5f6 229px,#f3f5f6 237px,#f7f5f4 239px,#f9eee7 244px,#f8f5f3 249px,#f7f7f7 250px,#e7eff4 256px,#f5f6f7 261px,#faeae0 268px,#f7f6f6 273px,#e1edf3 279px,#f5f6f7 285px,#f7f4f2 286px,#faeae0 291px,#f7f4f2 295px,#f4f6f6 296px,#d5e7f0 303px,#f3f5f6 309px,#f6f3f2 310px,#f8ebe3 314px,#f4f3f3 318px,#d3e6f0 323px,#cbe2ee 326px,#f3f2f1 334px,#f6eee9 337px,#f0f3f4 341px,#cde3ee 346px,#c3deec 349px,#cce2ee 352px,#edf2f5 357px,#f1efee 360px,#e9f0f4 364px,#c1ddeb 369px,#b6d8e8 372px,#bad9e9 375px,#e5eef3 383px,#e0ecf3 386px,#b1d5e7 393px,#b7d8e9 405px,#b5d7e8e1 408px,#b1d5e733 416px,#b0d4e712 418px,#afd4e601 420px,#0000 545px)"></i><i style="left:269px;width:4px;transform:skewY(0.27deg);background:linear-gradient(#f7f7f7,#f7f7f7 191px,#f8f4f2 199px,#f7f7f6 203px,#f2f5f6 206px,#f4f5f6 214px,#f7f7f7 215px,#faeae1 221px,#f8f5f3 226px,#f5f6f7 227px,#dbeaf2 233px,#f5f6f7 238px,#fcdcc9 244px,#fbe3d5 247px,#f6f6f7 250px,#cee3ef 254px,#c6dfed 256px,#cfe4ef 258px,#f0f4f6 261px,#fbcfb8 266px,#facbb3 268px,#fcd6c1 270px,#f7f5f3 273px,#c0ddeb 277px,#b6d7e8 279px,#bcdaea 281px,#f7f7f7 285px,#fbd2bc 288px,#f9c4aa 291px,#fbcfb8 293px,#f7f5f3 296px,#b4d6e8 300px,#a9d1e5 302px,#b5d7e8 305px,#ebf1f5 308px,#f8f2ef 309px,#facbb3 312px,#f9c3a8 314px,#faccb4 316px,#f7f5f3 319px,#add3e6 323px,#a1cde2 326px,#b4d6e8 329px,#f1f4f6 332px,#fbd4be 335px,#fac8af 337px,#fbd0b9 339px,#f7f5f4 342px,#b7d8e9 345px,#a3cee3 347px,#9dcbe1 349px,#a3cee3 351px,#b8d8e9 353px,#f6f5f4 356px,#fbdfce 358px,#fbd0ba 360px,#fbd6c2 362px,#f3f5f5 365px,#b2d5e7 368px,#97c7df 372px,#a9d1e4 376px,#f3f4f5 380px,#fae7db 382px,#fbe0d1 384px,#f5f2f1 387px,#acd2e6 391px,#9ecbe1 393px,#a0cce2 396px,#b9d9e9 401px,#b6d8e8fb 406px,#b5d7e8d3 409px,#b1d5e724 417px,#b0d4e609 419px,#0000 421px,#0000 545px)"></i><i style="left:273px;width:4px;transform:skewY(0.45deg);background:linear-gradient(#f7f7f7,#f7f7f7 191px,#f8f4f1 197px,#f8f4f1 201px,#f7f6f6 203px,#f2f5f6 205px,#e8f0f4 210px,#f2f5f6 214px,#f7f7f7 215px,#fbe4d6 221px,#f4f5f6 227px,#c8e1ed 233px,#f4f5f6 238px,#fcd2bc 242px,#fac7ae 244px,#fbccb4 246px,#f6f6f7 250px,#c1ddeb 253px,#aed3e6 256px,#b6d7e8 258px,#ecf2f5 261px,#f8f1ec 262px,#f9c2a7 265px,#f7b799 268px,#f9c1a6 270px,#f8f3f1 273px,#b5d7e8 276px,#a0cce2 279px,#afd4e6 282px,#f7f6f6 285px,#fbcdb5 287px,#f8bda1 288px,#f6b091 290px,#f7b99c 293px,#f9c5ab 294px,#f8f1ed 296px,#e4eef3 297px,#add3e6 299px,#95c7df 302px,#99c9e0 304px,#afd4e6 306px,#e9f0f4 308px,#f9ece5 309px,#f8bfa4 311px,#f5ad8c 314px,#f8bfa4 317px,#f9eee8 319px,#e4eef4 320px,#a9d0e4 322px,#93c5de 324px,#8ec2dc 326px,#a3cee3 329px,#b5d7e8 330px,#f6f6f6 332px,#fac8af 334px,#f7ba9d 335px,#f6af8f 337px,#f8c0a4 340px,#f9ede6 342px,#e6eff4 343px,#a9d1e5 345px,#92c5de 347px,#8ac0db 349px,#92c5de 351px,#aad1e5 353px,#e6eff4 355px,#f9eee7 356px,#f9c2a8 358px,#f7b495 361px,#f9c2a8 363px,#f9eee8 365px,#e5eef4 366px,#a7d0e4 368px,#8ec3dd 370px,#84bcd9 372px,#89bfdb 374px,#9ccae1 376px,#add3e6 377px,#ebf1f5 379px,#f9ece4 380px,#fac8ae 382px,#f8bea2 384px,#fbcfb8 386px,#f7f4f3 388px,#a4cee3 391px,#92c5de 393px,#94c6df 396px,#b8d8e9 401px,#b6d8e8fc 406px,#b5d7e8d7 409px,#b1d5e728 417px,#b0d4e60b 419px,#0000 421px,#0000 545px)"></i><i style="left:277px;width:4px;transform:skewY(0.62deg);background:linear-gradient(#f7f7f7,#f7f7f7 191px,#f8f4f1 196px,#f8f4f2 202px,#f7f6f6 203px,#f1f4f6 205px,#e4eef3 210px,#f7f7f7 215px,#fcdfcd 221px,#fbe5d9 224px,#f3f5f6 227px,#c2deec 231px,#bad9e9 233px,#c7e0ed 235px,#f2f5f6 238px,#fac7ad 242px,#f8bda1 244px,#fac9b0 247px,#f6f7f7 250px,#b5d7e8 253px,#a2cde3 256px,#b7d8e8 259px,#e8f0f4 261px,#f9f0ea 262px,#f9c5ab 264px,#f7b89b 265px,#f5ad8d 268px,#f9c4a9 271px,#f8f2ee 273px,#e2edf3 274px,#aad1e5 276px,#94c6df 279px,#a4cee3 282px,#b5d7e8 283px,#f7f7f6 285px,#f9c2a7 287px,#f5ab89 289px,#f4a583 291px,#f8ba9d 294px,#fbd1ba 295px,#f9eee7 296px,#e2edf3 297px,#b9d9e9 298px,#a3cee3 299px,#8ec2dc 301px,#89bfdb 303px,#a4cee3 306px,#bcdbea 307px,#e6eff4 308px,#fae9df 309px,#fac8af 310px,#f7b596 311px,#f2a17f 314px,#f6b495 317px,#fac7ad 318px,#fae9df 319px,#e4eef4 320px,#b8d8e9 321px,#a0cce2 322px,#87beda 324px,#81bad8 326px,#8dc2dc 328px,#acd2e5 330px,#f7f6f5 332px,#f8bca0 334px,#f6ae8e 335px,#f3a481 337px,#f6b394 340px,#f9c5ab 341px,#fbe6da 342px,#e9f0f4 343px,#bcdaea 344px,#a1cde2 345px,#87beda 347px,#7eb8d7 349px,#86beda 351px,#a1cde2 353px,#bbdaea 354px,#e7eff4 355px,#fae8dd 356px,#fac8ae 357px,#f7b697 358px,#f4a886 360px,#f7b496 363px,#f9c5ab 364px,#fbe6d9 365px,#e9f1f4 366px,#bcdaea 367px,#a1cce2 368px,#84bcd9 370px,#79b5d6 372px,#7eb9d7 374px,#95c6df 376px,#a7cfe4 377px,#f1f4f6 379px,#fbe3d4 380px,#f9c6ac 381px,#f7b79a 382px,#f6af8f 384px,#f8bc9f 386px,#fbcfb8 387px,#f9ebe3 388px,#e4eef3 389px,#b8d8e9 390px,#a0cce2 391px,#85bdda 394px,#8cc1dc 396px,#b7d8e9 401px,#b7d8e8fd 406px,#b5d7e8ea 408px,#b4d6e8c8 410px,#b0d4e71b 418px,#0000 421px,#0000 545px)"></i><i style="left:281px;width:4px;transform:skewY(0.8deg);background:linear-gradient(#f7f7f7,#f7f7f7 191px,#f8f4f3 195px,#f8f4f1 202px,#f5f6f7 204px,#e1edf3 210px,#f7f7f7 215px,#fddbc8 221px,#fbe3d4 224px,#f3f5f6 227px,#bbdaea 231px,#b3d6e8 233px,#bddbea 235px,#f1f4f6 238px,#f9eee8 239px,#fbcdb6 241px,#f7b89a 244px,#f9c3a9 247px,#f7f7f7 250px,#afd4e6 253px,#9ccae1 256px,#b0d4e6 259px,#e5eef4 261px,#f9f0eb 262px,#f9c0a5 264px,#f6b495 265px,#f4a886 268px,#f8bea2 271px,#f9f0eb 273px,#e1ecf3 274px,#badaea 275px,#a5cfe3 276px,#8dc2dc 279px,#94c6de 281px,#aed3e6 283px,#f6f7f7 285px,#f8bea1 287px,#f4a683 289px,#f19f7d 291px,#f6b495 294px,#fac8af 295px,#faebe2 296px,#e2edf3 297px,#b6d7e8 298px,#9ecbe1 299px,#87beda 301px,#82bbd8 303px,#9ecbe1 306px,#b6d7e8 307px,#e3eef3 308px,#fae8dd 309px,#f9c3a9 310px,#f6b090 311px,#ef9a7a 314px,#f5ad8c 317px,#f8bfa4 318px,#fbe4d7 319px,#e6eff4 320px,#b5d7e8 321px,#9bcae1 322px,#81bad8 324px,#7ab6d6 326px,#85bdda 328px,#a6cfe4 330px,#f7f5f4 332px,#fcd4be 333px,#f7b698 334px,#f5a987 335px,#f09c7b 337px,#f5ac8b 340px,#f8bda0 341px,#fce1d1 342px,#ebf2f5 343px,#bad9e9 344px,#9ecbe1 345px,#80bad8 347px,#77b4d5 349px,#7fb9d8 351px,#9bcae1 353px,#b5d7e8 354px,#e6eff4 355px,#fbe5d9 356px,#f9c1a6 357px,#f6af8f 358px,#f2a07e 361px,#f5ad8c 363px,#f8bca0 364px,#fcdfce 365px,#eef3f5 366px,#bbdaea 367px,#9ecbe1 368px,#7eb9d7 370px,#73b2d3 372px,#78b5d5 374px,#8fc3dd 376px,#a2cde3 377px,#f3f5f6 379px,#f8bea2 381px,#f6b090 382px,#f4a886 384px,#f6b393 386px,#f9c3a8 387px,#fbe4d7 388px,#e9f1f4 389px,#b9d9e9 390px,#9ecbe1 391px,#80b9d8 394px,#85bdda 396px,#bbdaea 402px,#b6d7e8f8 407px,#b4d6e8cd 410px,#b0d4e71e 418px,#afd4e601 421px,#0000 545px)"></i><i style="left:285px;width:4px;transform:skewY(0.98deg);background:linear-gradient(#f7f7f7,#f7f7f7 191px,#f8f0eb 199px,#f7f6f5 203px,#f5f6f7 204px,#dfecf3 210px,#f6f7f7 215px,#fcd8c3 221px,#fce1d1 224px,#f4f5f6 227px,#b8d8e9 231px,#b0d4e7 233px,#b9d9e9 235px,#eff3f5 238px,#fce0cf 240px,#f8bfa3 242px,#f7b596 245px,#f8c0a4 247px,#fbceb6 248px,#f7f6f5 250px,#add3e6 253px,#99c8e0 256px,#abd2e5 259px,#bfdceb 260px,#e2edf3 261px,#f8f1ec 262px,#f8bea3 264px,#f5a988 266px,#f4a582 268px,#f7ba9d 271px,#fbd1ba 272px,#f9eee7 273px,#e1edf3 274px,#b9d9e9 275px,#a3cde3 276px,#89bfdb 279px,#8fc3dd 281px,#aad1e5 283px,#f4f6f6 285px,#f8bc9f 287px,#f5ac8b 288px,#f09c7b 290px,#f19d7c 292px,#f6b090 294px,#f9c3a8 295px,#fae8dc 296px,#e3eef3 297px,#b5d7e8 298px,#9ccae1 299px,#83bcd9 301px,#7eb8d7 303px,#9ac9e0 306px,#b1d5e7 307px,#e0ecf3 308px,#fae8de 309px,#f9c2a7 310px,#f5ad8d 311px,#ee9677 314px,#f5a987 317px,#f8ba9d 318px,#fce1d0 319px,#e8f0f4 320px,#b5d7e8 321px,#9ac9e0 322px,#7db8d7 324px,#76b3d4 326px,#81bad8 328px,#a2cde2 330px,#f7f6f6 332px,#fbd2bb 333px,#f7b495 334px,#f4a683 335px,#ee9878 337px,#f19e7c 339px,#f7b89a 341px,#fddcc9 342px,#eff3f6 343px,#bad9ea 344px,#9ccae1 345px,#7db8d7 347px,#74b2d4 349px,#7bb7d6 351px,#98c8e0 353px,#b1d5e7 354px,#e3eef3 355px,#fbe5d8 356px,#f8bfa3 357px,#f5ad8c 358px,#f09b7b 361px,#f5a886 363px,#f7b799 364px,#fdd9c5 365px,#f2f5f6 366px,#bddbea 367px,#9dcbe1 368px,#7cb7d6 370px,#70afd2 372px,#74b2d4 374px,#8bc1dc 376px,#c0dceb 378px,#f3f5f6 379px,#fddcc8 380px,#f8ba9d 381px,#f5ac8c 382px,#f3a381 384px,#f5ae8d 386px,#f8bda0 387px,#fcdfce 388px,#eef3f5 389px,#bbdaea 390px,#9dcbe1 391px,#7cb7d6 394px,#81bad8 396px,#bcdaea 402px,#b6d7e8fa 407px,#b4d6e8d1 410px,#b0d4e722 418px,#afd4e601 421px,#0000 545px)"></i><i style="left:289px;width:12px;transform:skewY(1.34deg);background:linear-gradient(#f7f7f7,#f7f7f7 192px,#f8f4f2 195px,#f9f0ea 199px,#f7f5f4 203px,#f5f6f7 204px,#deebf2 210px,#f4f6f7 215px,#fdd9c4 220px,#fcd4be 222px,#fbe5d8 225px,#f6f7f7 227px,#b7d8e8 231px,#add3e6 233px,#b5d7e8 235px,#ebf1f5 238px,#f8f0ec 239px,#facbb3 241px,#f8bea3 242px,#f6b394 244px,#f8bc9f 247px,#fac8af 248px,#f8f3ef 250px,#e3edf3 251px,#add3e6 253px,#96c7df 256px,#a7cfe4 259px,#b9d9e9 260px,#f8f4f2 262px,#f8bfa4 264px,#f5a886 266px,#f3a280 268px,#f7b597 271px,#fac9b0 272px,#fae9df 273px,#e6eff4 274px,#bcdaea 275px,#a3cee3 276px,#8cc1dc 278px,#87beda 280px,#a4cee3 283px,#c0dceb 284px,#edf2f5 285px,#fce1d1 286px,#f8bea1 287px,#f5ac8b 288px,#ef9878 291px,#f5ac8a 294px,#f8bda1 295px,#fce2d2 296px,#eaf1f5 297px,#b9d9e9 298px,#9dcbe1 299px,#82bbd8 301px,#7bb6d6 303px,#87beda 305px,#aad1e5 307px,#d8e8f1 308px,#f9ede6 309px,#f9c5ab 310px,#f5ae8d 311px,#ed9475 314px,#f4a582 317px,#f7b596 318px,#fdd8c4 319px,#f0f4f6 320px,#bad9e9 321px,#9bcae1 322px,#7db7d7 324px,#74b2d4 326px,#7db8d7 328px,#9ccae1 330px,#bbdaea 331px,#f1f4f6 332px,#fdd9c4 333px,#f7b597 334px,#f09b7a 336px,#ed9676 338px,#f4a481 340px,#f6b293 341px,#fbcfb8 342px,#f7f7f7 343px,#c2ddec 344px,#9ecbe2 345px,#7db8d7 347px,#72b0d3 349px,#78b4d5 351px,#93c5de 353px,#aad1e5 354px,#dbeaf2 355px,#fae9df 356px,#f9c1a6 357px,#f5ad8c 358px,#ef9978 361px,#f4a482 363px,#f6b292 364px,#facbb3 365px,#f8f4f2 366px,#a0cce2 368px,#8ac0db 369px,#73b1d3 371px,#6eaed2 373px,#79b5d5 375px,#9ac9e0 377px,#b8d8e9 378px,#edf2f5 379px,#fcdecd 380px,#f8bb9e 381px,#f3a481 383px,#f3a380 385px,#f7b798 387px,#fcd4be 388px,#f7f7f7 389px,#a0cce2 391px,#79b5d6 394px,#84bcd9 397px,#bbdaea 402px,#b6d7e8f6 408px,#b4d6e8c8 411px,#b0d4e72c 418px,#afd4e60d 420px,#0000 422px,#0000 545px)"></i><i style="left:301px;width:12px;transform:skewY(1.87deg);background:linear-gradient(#f7f7f7,#f7f7f7 192px,#f8f4f2 195px,#f9efea 200px,#f8f4f2 203px,#f7f7f7 204px,#ddebf2 210px,#f1f4f6 215px,#f8f4f2 216px,#fce0cf 219px,#fcd3bc 222px,#fbe2d4 225px,#f8f4f2 227px,#bad9e9 231px,#aed3e6 233px,#bcdbea 236px,#f7f6f5 239px,#f9c3a8 242px,#f6b394 245px,#f9c4aa 248px,#f9ece5 250px,#ecf2f5 251px,#b4d6e8 253px,#a5cfe3 254px,#98c8e0 257px,#b3d6e7 260px,#f0f4f6 262px,#fbe5d9 263px,#fac8ae 264px,#f7b698 265px,#f3a481 268px,#f6b293 271px,#f9c2a7 272px,#f2f5f6 274px,#abd2e5 276px,#90c4dd 278px,#88bfdb 280px,#a0cce2 283px,#b6d7e8 284px,#e1ecf3 285px,#faebe3 286px,#fac8af 287px,#f6b393 288px,#ef9b7a 291px,#f2a07e 293px,#f7b79a 295px,#f7f6f6 297px,#a6cfe4 299px,#87beda 301px,#7db8d7 303px,#85bdda 305px,#a3cee3 307px,#f5f6f7 309px,#f7b697 311px,#f4a784 312px,#ee9777 314px,#ef9a79 316px,#f6b090 318px,#fac9af 319px,#f8f1ed 320px,#d1e5f0 321px,#a5cfe3 322px,#82bbd9 324px,#76b3d4 326px,#7cb7d7 328px,#97c8df 330px,#afd4e6 331px,#e1edf3 332px,#fbe6da 333px,#f8bfa3 334px,#f5ac8b 335px,#ee9878 338px,#f6ae8e 341px,#f9c4aa 342px,#f9ece4 343px,#d8e8f1 344px,#a9d1e4 345px,#93c5de 346px,#79b5d5 348px,#74b2d4 350px,#80bad8 352px,#a2cde3 354px,#f7f5f4 356px,#fbd0b9 357px,#f7b495 358px,#f4a784 359px,#f09b7a 361px,#f6ae8e 364px,#f9c3a8 365px,#faeae1 366px,#dbeaf2 367px,#aad1e5 368px,#93c5de 369px,#77b4d5 371px,#6fafd2 373px,#78b4d5 375px,#94c6df 377px,#acd2e5 378px,#ddebf2 379px,#faeae1 380px,#f9c6ac 381px,#f6b293 382px,#f3a481 384px,#f5a987 386px,#f6b495 387px,#fac9b0 388px,#f9ede7 389px,#d8e9f1 390px,#a9d1e5 391px,#93c6de 392px,#78b4d5 395px,#7fb9d8 397px,#bfdceb 403px,#b6d7e8fd 408px,#b5d7e8e9 410px,#b4d6e8c6 412px,#b0d4e72a 419px,#afd4e60c 421px,#0000 423px,#0000 545px)"></i><i style="left:313px;width:12px;transform:skewY(2.41deg);background:linear-gradient(#f7f7f7,#f7f7f7 192px,#f9efe9 200px,#f7f6f5 204px,#f4f6f6 205px,#ddebf2 211px,#f6f7f7 216px,#fcd3bd 222px,#fce0cf 225px,#f3f5f6 228px,#b6d7e8 232px,#b0d4e6 234px,#b9d9e9 236px,#f0f4f6 239px,#f9eee7 240px,#facab2 242px,#f7b597 245px,#f9c1a6 248px,#fbd0b9 249px,#f7f7f7 251px,#add3e6 254px,#9ac9e0 257px,#aed3e6 260px,#e4eef3 262px,#f9f0eb 263px,#f8bfa3 265px,#f6b293 266px,#f4a784 269px,#f8bca0 272px,#f9efea 274px,#e0ecf3 275px,#bad9e9 276px,#a4cee3 277px,#8cc1dc 280px,#93c5de 282px,#add3e6 284px,#f6f6f7 286px,#f8bda1 288px,#f4a582 290px,#f19e7d 292px,#f6b394 295px,#fac7ad 296px,#faeae1 297px,#e2edf3 298px,#b5d7e8 299px,#9ecbe1 300px,#86bdda 302px,#81bad8 304px,#9dcbe1 307px,#b5d7e8 308px,#e3edf3 309px,#fae8dd 310px,#f9c3a9 311px,#f6b08f 312px,#ef9a79 315px,#f5ac8c 318px,#f8bfa3 319px,#fbe4d6 320px,#e6eff4 321px,#b5d7e8 322px,#9ccae1 323px,#81bad8 325px,#7ab6d6 327px,#85bdda 329px,#a5cfe4 331px,#f7f6f5 333px,#fcd4be 334px,#f7b798 335px,#f5a987 336px,#f09c7b 338px,#f5ac8b 341px,#f8bca0 342px,#fce0d0 343px,#ecf2f5 344px,#bad9ea 345px,#9ecbe1 346px,#80bad8 348px,#77b4d5 350px,#7fb9d8 352px,#9bcae1 354px,#b5d7e8 355px,#e5eef4 356px,#fbe6d9 357px,#f9c1a6 358px,#f6af8f 359px,#f2a07e 362px,#f5ac8b 364px,#f8bc9f 365px,#fcdfcd 366px,#eef3f5 367px,#bcdaea 368px,#9ecbe1 369px,#7eb9d7 371px,#73b1d3 373px,#78b4d5 375px,#8fc3dd 377px,#a2cde2 378px,#f3f5f6 380px,#fcdecc 381px,#f8bea1 382px,#f6b090 383px,#f4a785 385px,#f6b293 387px,#f9c2a7 388px,#fbe3d6 389px,#eaf1f5 390px,#bad9e9 391px,#9dcbe1 392px,#7ab6d6 395px,#84bcd9 398px,#c3deec 404px,#b5d7e8fd 409px,#b4d6e8e9 411px,#b3d6e7c6 413px,#b0d4e62a 420px,#afd4e60c 422px,#0000 424px,#0000 545px)"></i><i style="left:325px;width:12px;transform:skewY(2.94deg);background:linear-gradient(#f7f7f7,#f7f7f7 193px,#f8f4f2 196px,#f9efe9 200px,#f8f4f2 204px,#f7f7f7 205px,#ddebf2 211px,#f1f4f6 216px,#f8f4f3 217px,#fce0cf 220px,#fcd4be 223px,#fdddca 225px,#f8f4f2 228px,#bddbea 232px,#b1d5e7 234px,#c0ddeb 237px,#f7f6f5 240px,#fac6ac 243px,#f7b798 246px,#fac8ae 249px,#f9ede6 251px,#edf2f5 252px,#b8d9e9 254px,#aad1e5 255px,#9ccae1 258px,#b7d8e9 261px,#f1f4f6 263px,#fae7dc 264px,#fbccb4 265px,#f8bb9e 266px,#f5a886 269px,#f7b799 272px,#fac6ad 273px,#f3f5f6 275px,#b1d5e7 277px,#a0cce2 278px,#8fc3dd 281px,#a5cfe3 284px,#bbdaea 285px,#e2edf3 286px,#f9ede6 287px,#fbceb6 288px,#f7b89a 289px,#f2a17f 292px,#f4a683 294px,#f8bda0 296px,#f7f7f6 298px,#acd2e5 300px,#8ec2dd 302px,#84bcd9 304px,#8cc1dc 306px,#a8d0e4 308px,#f4f6f6 310px,#f8bc9f 312px,#f5ac8b 313px,#f19e7d 315px,#f2a17f 317px,#f7b697 319px,#fbd0b9 320px,#f8f2ef 321px,#aad1e5 323px,#89bfdb 325px,#7db8d7 327px,#83bbd9 329px,#9ccae1 331px,#b4d6e8 332px,#e1edf3 333px,#faeae0 334px,#fac6ac 335px,#f6b293 336px,#f19f7d 339px,#f5a987 341px,#f7b596 342px,#facbb3 343px,#f9efe9 344px,#dae9f2 345px,#add3e6 346px,#98c8e0 347px,#80b9d8 349px,#7ab6d6 351px,#86bdda 353px,#a6cfe4 355px,#f6f7f7 357px,#f8bb9e 359px,#f5ad8d 360px,#f3a380 362px,#f7b596 365px,#facab2 366px,#f9eee7 367px,#dbeaf2 368px,#aed3e6 369px,#97c8e0 370px,#7db8d7 372px,#75b3d4 374px,#7eb8d7 376px,#98c8e0 378px,#afd4e6 379px,#dbeaf2 380px,#f9efea 381px,#fbd1ba 382px,#f7ba9d 383px,#f6af8f 384px,#f6b090 387px,#f8bb9f 388px,#f8f2ee 390px,#d7e8f1 391px,#acd2e5 392px,#96c7df 393px,#79b5d6 396px,#87beda 399px,#c3deec 404px,#b5d7e8fd 410px,#b4d6e8ea 412px,#b3d6e7c8 414px,#afd4e61a 422px,#0000 425px,#0000 545px)"></i><i style="left:337px;width:6px;transform:skewY(3.34deg);background:linear-gradient(#f7f7f7,#f6f7f7 193px,#f9eee8 201px,#f7f5f4 205px,#f4f6f6 206px,#dbeaf2 212px,#f6f6f7 217px,#fbd1ba 223px,#fcd7c2 225px,#f4f5f6 229px,#bfdceb 232px,#add3e6 235px,#b7d8e9 237px,#eef3f5 240px,#f9eee8 241px,#fac9b0 243px,#f6b394 246px,#f8bea2 249px,#fbccb4 250px,#f7f6f5 252px,#acd2e5 255px,#98c8e0 258px,#aad1e5 261px,#bfdceb 262px,#e1edf3 263px,#f8f1ec 264px,#f8bea2 266px,#f5a987 268px,#f4a482 270px,#f7b99c 273px,#fbd0b9 274px,#f9eee7 275px,#e1edf3 276px,#b9d9e9 277px,#a3cde3 278px,#89bfdb 281px,#8fc3dd 283px,#aad1e5 285px,#f4f5f6 287px,#f8bca0 289px,#f5ac8c 290px,#f09d7c 292px,#f19e7c 294px,#f6b090 296px,#f9c3a9 297px,#fae7dc 298px,#e3eef3 299px,#b5d7e8 300px,#9dcae1 301px,#84bcd9 303px,#7eb8d7 305px,#9ac9e0 308px,#b1d5e7 309px,#e0ecf3 310px,#fae9df 311px,#f9c3a8 312px,#f6ae8e 313px,#ee9777 316px,#f5a988 319px,#f8bb9e 320px,#fce1d1 321px,#e9f0f4 322px,#b5d7e8 323px,#9ac9e0 324px,#7eb8d7 326px,#77b4d5 328px,#82bbd8 330px,#a2cde3 332px,#f7f7f7 334px,#fcd3bd 335px,#f7b596 336px,#f4a784 337px,#ef9979 339px,#f19f7d 341px,#f7b89b 343px,#fddcc9 344px,#eff3f6 345px,#bbdaea 346px,#9dcbe1 347px,#7eb8d7 349px,#74b2d4 351px,#7cb7d6 353px,#98c8e0 355px,#b1d5e7 356px,#e3edf3 357px,#fbe6d9 358px,#f8c0a4 359px,#f5ad8d 360px,#f09c7b 363px,#f5a987 365px,#f7b89a 366px,#fddac6 367px,#f2f5f6 368px,#bddbea 369px,#9ecbe1 370px,#7cb7d7 372px,#71b0d3 374px,#75b3d4 376px,#8cc1dc 378px,#c0dceb 380px,#f2f5f6 381px,#fddcc9 382px,#f8bb9f 383px,#f5ad8d 384px,#f4a482 386px,#f6ae8e 388px,#f8bda1 389px,#fcdfce 390px,#eef3f5 391px,#bbdaea 392px,#9dcbe1 393px,#75b3d4 396px,#7db7d7 399px,#cbe2ee 405px,#b5d7e8fd 411px,#b4d6e8e9 413px,#b3d6e7c6 415px,#afd4e62a 422px,#aed3e60c 424px,#0000 426px,#0000 545px)"></i><i style="left:343px;width:6px;transform:skewY(8.1deg);background:linear-gradient(#f7f7f7,#f7f7f7 194px,#f8f4f1 197px,#f9eee7 202px,#f7f7f6 206px,#dae9f2 213px,#f7f5f4 218px,#fcd7c2 222px,#fbceb7 224px,#fcd7c2 226px,#f8f2ef 229px,#edf2f5 230px,#b6d7e8 233px,#aad1e5 235px,#b7d8e9 238px,#f6f6f7 241px,#f9c1a5 244px,#f6b08f 247px,#f8bfa3 250px,#fae9df 252px,#eff3f5 253px,#b2d5e7 255px,#a2cde3 256px,#93c6de 259px,#acd2e5 262px,#ebf1f5 264px,#fae7dc 265px,#fac7ae 266px,#f7b496 267px,#f29f7e 270px,#f4a582 272px,#f8bc9f 274px,#f7f7f6 276px,#aad1e5 278px,#8cc1dc 280px,#83bbd9 282px,#99c9e0 285px,#aed3e6 286px,#d9e9f2 287px,#f9eee8 288px,#fac8af 289px,#f6b191 290px,#f3a481 291px,#ed9677 293px,#ef9a7a 295px,#f6b191 297px,#facab1 298px,#f8f1ee 299px,#d1e5f0 300px,#a6cfe4 301px,#83bcd9 303px,#78b4d5 305px,#7fb9d8 307px,#9ccae1 309px,#bad9e9 310px,#f0f4f6 311px,#fdd9c4 312px,#f7b496 313px,#ee9878 315px,#eb9172 317px,#f5aa88 320px,#f8bfa4 321px,#faebe2 322px,#d6e7f1 323px,#a5cfe3 324px,#7fb9d7 326px,#71b0d3 328px,#76b3d4 330px,#90c4dd 332px,#a8d0e4 333px,#dae9f2 334px,#fae8dd 335px,#f8bea2 336px,#f5a988 337px,#ec9274 340px,#f4a886 343px,#f8bb9f 344px,#fbe5d8 345px,#deebf2 346px,#aad1e5 347px,#91c4de 348px,#75b3d4 350px,#6fafd2 352px,#7ab6d6 354px,#9ccae1 356px,#bddbea 357px,#f5f6f7 358px,#fbcfb8 359px,#f6b292 360px,#f3a381 361px,#ed9576 363px,#f4a885 366px,#f7ba9c 367px,#fce2d3 368px,#e2edf3 369px,#acd2e5 370px,#92c5de 371px,#73b2d4 373px,#6bacd1 375px,#72b1d3 377px,#8ec3dd 379px,#a6cfe4 380px,#d7e8f1 381px,#faebe3 382px,#f9c3a8 383px,#f6ae8e 384px,#f19e7c 386px,#f5ac8b 389px,#f8bea2 390px,#fbe5d8 391px,#e0ecf3 392px,#acd2e5 393px,#93c5de 394px,#6eafd2 397px,#7ab6d6 400px,#d4e7f1 406px,#bbdaeafe 411px,#b8d8e9ee 413px,#b4d6e8cd 415px,#abd2e51f 423px,#add3e601 426px,#0000 545px)"></i><i style="left:349px;width:6px;transform:skewY(14.43deg);background:linear-gradient(#f7f7f7,#f6f7f7 195px,#f9ede6 203px,#f7f6f5 207px,#f3f5f6 208px,#d9e9f1 214px,#f7f7f7 219px,#fcd7c2 223px,#faccb3 225px,#fbd1bb 227px,#f0f4f6 231px,#b5d7e8 234px,#a6cfe4 237px,#bedceb 240px,#f0f4f6 242px,#faeae1 243px,#f9c0a5 245px,#f5ac8b 248px,#f7b89b 251px,#fac7ae 252px,#f5f6f7 254px,#b3d6e7 256px,#a1cde2 257px,#8ec2dd 260px,#a3cee3 263px,#b9d9e9 264px,#e2edf3 265px,#f9ece4 266px,#facab1 267px,#f6b495 268px,#ef9b7a 271px,#f19e7d 273px,#f6b394 275px,#facbb3 276px,#f9f0eb 277px,#d7e8f1 278px,#abd2e5 279px,#89bfdb 281px,#7db8d7 283px,#84bcd9 285px,#a3cee3 287px,#f7f5f3 289px,#fbccb4 290px,#f6b091 291px,#f2a17f 292px,#eb9173 294px,#ec9374 296px,#f5a987 298px,#f8bea2 299px,#fae8de 300px,#dae9f2 301px,#a7d0e4 302px,#90c4dd 303px,#76b3d5 305px,#72b1d3 307px,#93c5de 310px,#add3e6 311px,#e4eef3 312px,#fcdecd 313px,#f7b596 314px,#f2a17f 315px,#e88a6e 318px,#f2a07e 321px,#f6b495 322px,#fcdfce 323px,#e0ecf3 324px,#a8d0e4 325px,#8ec2dc 326px,#71b0d3 328px,#6bacd1 330px,#77b4d5 332px,#9dcae1 334px,#c9e1ee 335px,#f9eee8 336px,#f8bfa4 337px,#f4a885 338px,#eb8f71 340px,#e98d6f 342px,#f19e7d 344px,#f6b090 345px,#fcd6c0 346px,#eaf1f5 347px,#aed3e6 348px,#91c4de 349px,#71b0d3 351px,#69abd0 353px,#71b0d3 355px,#92c5de 357px,#b0d4e6 358px,#ebf1f5 359px,#fcd5bf 360px,#f6b191 361px,#f29f7e 362px,#ea8f71 364px,#f19e7c 367px,#f6ae8e 368px,#fbceb7 369px,#f0f4f6 370px,#b2d5e7 371px,#93c5de 372px,#70b0d2 374px,#65a9cf 376px,#6bacd1 378px,#84bcd9 380px,#9ccae1 381px,#c8e1ee 382px,#f9efea 383px,#f9c3a8 384px,#f5ab8a 385px,#ee9777 387px,#ef9979 389px,#f6b293 391px,#fcd3bd 392px,#eff3f6 393px,#b4d6e8 394px,#94c6df 395px,#71b0d3 397px,#68aad0 399px,#7cb7d6 402px,#deebf2 407px,#e6eff4 409px,#dfebf3fa 411px,#d5e7f1e6 413px,#badaeaae 416px,#a3cee351 420px,#9fcce219 423px,#a5cfe401 426px,#0000 545px)"></i><i style="left:355px;width:6px;transform:skewY(16.28deg);background:linear-gradient(#f7f7f7,#f7f7f7 197px,#f9ede5 204px,#f7f7f7 209px,#d7e8f1 216px,#f8f4f2 221px,#fbd2bb 225px,#fac8af 227px,#fbd0b9 229px,#f8f3f0 232px,#eaf1f5 233px,#add3e6 236px,#a2cde3 238px,#b0d4e7 241px,#f7f6f5 244px,#fac8af 246px,#f7b89b 247px,#f5a886 250px,#f7b99b 253px,#facbb2 254px,#fae9de 255px,#eaf1f5 256px,#a7d0e4 258px,#8fc3dd 260px,#89bfdb 262px,#a5cee3 265px,#c0dceb 266px,#edf2f5 267px,#fce1d1 268px,#f8bda0 269px,#f5ab8a 270px,#ed9576 273px,#f09b7b 275px,#f7b597 277px,#fcd8c3 278px,#f2f5f6 279px,#bedbea 280px,#9ecbe1 281px,#7fb9d8 283px,#76b4d5 285px,#91c4de 288px,#a7d0e4 289px,#d9e9f1 290px,#fae8dd 291px,#f8bc9f 292px,#f4a684 293px,#e88a6e 296px,#eb8f71 298px,#f5aa88 300px,#f9c4aa 301px,#f8f3f1 302px,#bedbeb 303px,#9ac9e0 304px,#76b3d4 306px,#6bacd1 308px,#73b2d4 310px,#95c7df 312px,#b6d7e8 313px,#f6f7f7 314px,#f9c5ab 315px,#f5a886 316px,#e6856a 319px,#e7886c 321px,#f2a07e 323px,#f7b89a 324px,#faeae1 325px,#c7e0ed 326px,#99c9e0 327px,#80bad8 328px,#68abd0 330px,#65a9cf 332px,#87beda 335px,#a2cde3 336px,#ddebf2 337px,#fdddcb 338px,#f6b090 339px,#ea8e71 341px,#e6856a 343px,#f19d7c 346px,#f6b394 347px,#fce2d3 348px,#d6e8f1 349px,#9ecbe2 350px,#84bcd9 351px,#68abd0 353px,#63a7ce 355px,#6fafd2 357px,#96c7df 359px,#bddbea 360px,#f9f0eb 361px,#f8bda1 362px,#f4a482 363px,#e7886c 366px,#f09c7b 369px,#f6b090 370px,#fddcc9 371px,#deebf2 372px,#a2cde3 373px,#86bdda 374px,#67aacf 376px,#5fa5cd 378px,#68aad0 380px,#87beda 382px,#a4cee3 383px,#dfecf3 384px,#fcddcb 385px,#f6b293 386px,#ec9475 388px,#ea8f71 390px,#f2a07e 392px,#f6b293 393px,#fcddcb 394px,#e0ecf3 395px,#a5cee3 396px,#89bfdb 397px,#77b4d5 398px,#68aad0 400px,#6cadd1 402px,#81bad8 404px,#d7e8f1f3 408px,#f4f3f3dd 410px,#f8ede7b9 412px,#afd4e627 419px,#9ccae10e 421px,#93c5de01 424px,#0000 545px)"></i><i style="left:361px;width:6px;transform:skewY(21.45deg);background:linear-gradient(#f7f7f7,#f6f7f7 199px,#f9ece4 206px,#f7f7f7 211px,#d6e7f1 218px,#f8f4f3 223px,#fbceb7 227px,#f9c6ac 229px,#faccb3 231px,#f8f2ee 234px,#eaf1f5 235px,#b9d9e9 237px,#9fcbe2 240px,#acd2e5 243px,#bcdaea 244px,#f7f7f7 246px,#f9c6ac 248px,#f7b697 249px,#f4a582 252px,#f7b496 255px,#f9c6ac 256px,#fbe6d9 257px,#eaf1f5 258px,#bfdceb 259px,#a4cee3 260px,#89c0db 262px,#83bbd9 264px,#9fcce2 267px,#b9d9e9 268px,#eaf1f5 269px,#fce1d1 270px,#f8ba9d 271px,#f4a886 272px,#eb9072 275px,#ed9676 277px,#f6b090 279px,#fbceb6 280px,#f5f6f7 281px,#bbdaea 282px,#9bc9e0 283px,#79b5d6 285px,#70b0d2 287px,#7bb6d6 289px,#a0cce2 291px,#d3e6f0 292px,#fae9de 293px,#f7b99c 294px,#f3a280 295px,#e68569 298px,#e8896d 300px,#f3a481 302px,#f8bda1 303px,#f9f0eb 304px,#bddbea 305px,#96c7df 306px,#70b0d2 308px,#65a9cf 310px,#6dadd1 312px,#8ec3dd 314px,#afd4e6 315px,#f3f5f6 316px,#f9c2a8 317px,#f4a482 318px,#eb9172 319px,#e48065 321px,#e58167 323px,#ef9878 325px,#f6b191 326px,#fbe5d8 327px,#c8e0ed 328px,#96c7df 329px,#7cb7d6 330px,#62a7ce 332px,#5fa5cd 334px,#80b9d8 337px,#9ccae1 338px,#d8e8f1 339px,#fddcc8 340px,#f5ac8b 341px,#ed9676 342px,#e37f65 345px,#ed9576 348px,#f5ac8b 349px,#fddbc7 350px,#d9e9f1 351px,#9ccae1 352px,#7fb9d8 353px,#63a7ce 355px,#5da3cc 357px,#68abd0 359px,#90c3dd 361px,#b6d7e8 362px,#f9f0eb 363px,#f7b99c 364px,#f19f7d 365px,#e68569 367px,#e58267 369px,#ed9475 371px,#f5a987 372px,#fbceb6 373px,#e3edf3 374px,#a1cde2 375px,#82bbd8 376px,#62a7ce 378px,#59a1cb 380px,#62a6ce 382px,#80bad8 384px,#9ecbe2 385px,#ddebf2 386px,#fdd9c4 387px,#f5ad8c 388px,#ea8d70 390px,#e7876b 392px,#ee9777 394px,#f5ab89 395px,#fbd0b9 396px,#e5eff4 397px,#a6cfe4 398px,#89bfdb 399px,#6cadd1 401px,#71b0d3e8 405px,#8bc1dcca 407px,#deebf28b 410px,#f7f2ef74 411px,#fbdfcf5e 412px,#f9c6ac35 414px,#fcddcb0d 417px,#cbe2ee01 420px,#0000 545px)"></i><i style="left:367px;width:6px;transform:skewY(15.26deg);background:linear-gradient(#f7f7f7,#f6f7f7 201px,#f9ece4 208px,#f7f7f6 213px,#d5e7f1 220px,#f8f5f3 225px,#facbb3 229px,#f9c3a9 231px,#fac9b0 233px,#f8f1ed 236px,#e9f1f4 237px,#b6d7e8 239px,#9bcae1 242px,#a8d0e4 245px,#b8d8e9 246px,#f6f6f7 248px,#f9c3a8 250px,#f6b394 251px,#f2a17f 254px,#f6b191 257px,#f9c2a7 258px,#fbe4d6 259px,#eaf1f5 260px,#bcdaea 261px,#a0cce2 262px,#84bcd9 264px,#7eb8d7 266px,#9bc9e0 269px,#b4d6e8 270px,#e8f0f4 271px,#fcdfce 272px,#f7b799 273px,#f4a481 274px,#e98b6e 277px,#eb9173 279px,#f5ac8b 281px,#fac9b0 282px,#f5f6f6 283px,#b8d8e9 284px,#97c7df 285px,#74b2d4 287px,#6bacd1 289px,#75b3d4 291px,#9ccae1 293px,#cde3ef 294px,#fae8dd 295px,#f7b697 296px,#f19e7c 297px,#e68469 299px,#e48065 301px,#f19e7d 304px,#f7b89b 305px,#f9eee8 306px,#bad9e9 307px,#92c5de 308px,#6bacd1 310px,#5fa5cd 312px,#67aacf 314px,#88bfdb 316px,#aad1e5 317px,#f3f5f6 318px,#f8bfa3 319px,#f29f7e 320px,#e98b6e 321px,#e17a61 323px,#e27c62 325px,#ec9374 327px,#f5ac8b 328px,#fce1d1 329px,#c5dfed 330px,#92c5de 331px,#76b4d5 332px,#5da3cc 334px,#59a1cb 336px,#7ab6d6 339px,#98c8e0 340px,#d6e7f1 341px,#fcd7c2 342px,#f5a886 343px,#eb9172 344px,#e17961 347px,#eb8f71 350px,#f4a684 351px,#fbd1ba 352px,#d9e9f2 353px,#99c9e0 354px,#7bb6d6 355px,#5da4cc 357px,#57a0ca 359px,#63a7ce 361px,#8ac0db 363px,#b2d5e7 364px,#f9eee8 365px,#f7b496 366px,#ef9979 367px,#e47f65 369px,#e27c63 371px,#ea8e70 373px,#f3a280 374px,#f9c6ac 375px,#e5eff4 376px,#9fcbe2 377px,#7eb8d7 378px,#5da4cc 380px,#549ec9 382px,#5ca3cc 384px,#7bb7d6 386px,#9bcae1 387px,#ddebf2 388px,#fbd0b9 389px,#f4a886 390px,#ec9374 391px,#e58267 393px,#ec9273 396px,#f4a684 397px,#fac8affd 398px,#e8f0f4f9 399px,#a5cfe3f2 400px,#86bedae8 401px,#68aad0ca 403px,#62a7ce8a 406px,#b4d6e823 411px,#fce1d10c 413px,#0000 416px,#0000 545px)"></i><i style="left:373px;width:6px;transform:skewY(9.08deg);background:linear-gradient(#f7f7f7,#f6f7f7 202px,#faebe3 210px,#f7f6f5 214px,#f2f5f6 215px,#d3e6f0 221px,#dae9f2 223px,#f7f6f6 226px,#facbb3 230px,#f9c1a6 232px,#fbcfb7 235px,#f9eee7 237px,#eef3f5 238px,#b7d8e9 240px,#a6cfe4 241px,#98c8e0 244px,#b1d5e7 247px,#eff3f6 249px,#fbe5d8 250px,#f9c5ab 251px,#f6b394 252px,#f19d7c 255px,#f3a380 257px,#f8bb9e 259px,#fdddca 260px,#f2f5f6 261px,#c2deec 262px,#a2cde2 263px,#82bbd9 265px,#79b5d6 267px,#94c6de 270px,#aad1e5 271px,#dceaf2 272px,#fbe6d9 273px,#f7ba9d 274px,#f4a582 275px,#e7886c 278px,#e98c6f 280px,#f4a582 282px,#f8bea1 283px,#f9efe9 284px,#c1ddeb 285px,#98c8e0 286px,#72b1d3 288px,#66a9cf 290px,#6eaed2 292px,#92c5de 294px,#b7d8e9 295px,#f8f1ed 296px,#f7ba9d 297px,#f19e7d 298px,#e58267 300px,#e27c62 302px,#ed9676 305px,#f6ae8e 306px,#fce2d3 307px,#c9e1ee 308px,#95c6df 309px,#79b5d6 310px,#5ba2cb 313px,#61a6cd 315px,#7eb9d7 317px,#9ecbe1 318px,#e3edf3 319px,#f9c6ac 320px,#f2a17f 321px,#e88b6e 322px,#df755d 325px,#e88a6d 328px,#f3a27f 329px,#facbb2 330px,#d9e9f1 331px,#96c7df 332px,#77b4d5 333px,#5aa2cb 335px,#549ec9 337px,#61a6cd 339px,#8dc2dc 341px,#bcdaea 342px,#fbe2d3 343px,#f5aa89 344px,#eb9072 345px,#e17960 347px,#e0765e 349px,#e7876b 351px,#f09c7b 352px,#f8bea2 353px,#eaf1f5 354px,#9ecbe2 355px,#7cb7d6 356px,#5ba2cb 358px,#539dc8 360px,#5ca3cc 362px,#80b9d8 364px,#a4cee3 365px,#f4f6f6 366px,#f7b99b 367px,#ef9979 368px,#e27c63 370px,#e0775f 372px,#e6866a 374px,#ee9878 375px,#f7b799 376px,#f7f7f6 377px,#a6cfe4 378px,#80b9d8 379px,#5ba2cb 381px,#509bc7 383px,#579fca 385px,#73b1d3 387px,#91c4de 388px,#cae2ee 389px,#fddcc9 390px,#f5a987 391px,#eb9173 392px,#e37e64fd 394px,#e48066f3 396px,#f09c7bda 398px,#f7b99bc8 399px,#f8f4f2b4 400px,#add3e69e 401px,#70afd270 403px,#57a0ca20 407px,#89bfdb01 411px,#0000 545px)"></i><i style="left:379px;width:12px;transform:skewY(9.63deg);background:linear-gradient(#f7f7f7,#f7f7f7 204px,#f7f6f5 205px,#faeae1 211px,#f5f6f7 216px,#d2e5f0 222px,#d6e7f1 224px,#f2f4f6 227px,#f8f1ed 228px,#fbcdb5 231px,#f8bea2 234px,#f9c5ab 236px,#f7f6f5 239px,#a9d1e5 242px,#94c6df 245px,#a5cfe3 248px,#b8d8e9 249px,#deebf2 250px,#f9f0eb 251px,#fbd1ba 252px,#f7b799 253px,#f29f7e 255px,#ee9878 257px,#f6ae8e 260px,#f9c3a8 261px,#faeae2 262px,#dae9f2 263px,#aad1e5 264px,#93c5de 265px,#74b2d4 268px,#7ab6d6 270px,#98c8e0 272px,#b9d9e9 273px,#f6f6f7 274px,#fac7ae 275px,#f5a987 276px,#e88a6e 278px,#e58267 280px,#e88a6d 282px,#f5ab8a 284px,#fcd4be 285px,#e2edf3 286px,#a3cde3 287px,#85bdda 288px,#67aacf 290px,#60a5cd 292px,#6eaed2 294px,#7fb9d8 295px,#9ccae1 296px,#ddebf2 297px,#fbcfb7 298px,#f4a583 299px,#ea8e70 300px,#df765e 303px,#e7876b 306px,#f09b7a 307px,#f8bc9f 308px,#eff3f6 309px,#a2cde3 310px,#7fb9d7 311px,#5da3cc 313px,#549ec9 315px,#5fa5cd 317px,#87beda 319px,#b3d6e7 320px,#fbe7db 321px,#f5aa89 322px,#ea8d70 323px,#de735c 325px,#dc6f58 327px,#e27c63 329px,#ea8e70 330px,#f5ad8c 331px,#f9eee8 332px,#a7d0e4 333px,#7eb8d7 334px,#58a0ca 336px,#4d9ac7 338px,#569fc9 340px,#77b4d5 342px,#9bcae1 343px,#edf2f5 344px,#f7b799 345px,#ed9475 346px,#df755d 348px,#dc6f58 350px,#e17a61 352px,#f4a583 354px,#fce0cf 355px,#b6d7e8 356px,#85bdda 357px,#5aa1cb 359px,#4c99c6 361px,#529cc8 363px,#6daed1 365px,#8bc1dc 366px,#c7e0ed 367px,#fbd1ba 368px,#f2a07e 369px,#e17a61 371px,#dd7059 373px,#e7876b 376px,#f19f7e 377px,#fbceb6 378px,#cae1ee 379px,#8cc1dc 380px,#6dadd1 381px,#509bc8 383px,#4a97c5 385px,#559ec9 387px,#7bb6d6fe 389px,#a3cde3fb 390px,#f7f5f3f5 391px,#f6b293ed 392px,#ed9475e2 393px,#e58267d3 394px,#e37d6381 398px,#d7e8f12e 402px,#94c6df1f 403px,#519cc802 407px,#0000 545px)"></i><i style="left:391px;width:12px;transform:skewY(10.35deg);background:linear-gradient(#f7f7f7,#f7f7f7 206px,#fae9e0 213px,#f6f7f7 218px,#cfe4ef 224px,#d4e6f0 226px,#f0f4f6 229px,#f8f2ef 230px,#facab1 233px,#f7ba9c 236px,#f9c0a5 238px,#facbb3 239px,#fce1d1 240px,#f8f3f1 241px,#e0ecf3 242px,#bcdaea 243px,#a5cfe4 244px,#8ec2dd 247px,#9ecbe1 250px,#b0d4e6 251px,#f8f2ef 253px,#fbcfb8 254px,#f6b495 255px,#ef9a79 257px,#ec9273 259px,#f4a785 262px,#f8bb9e 263px,#fbe5d8 264px,#dceaf2 265px,#a7d0e4 266px,#8ec2dc 267px,#71b0d3 269px,#6cadd1 271px,#7cb7d6 273px,#8fc3dd 274px,#add3e6 275px,#eef3f5 276px,#fac7ad 277px,#f4a683 278px,#eb9173 279px,#e27b61 282px,#ea8d70 285px,#f3a280 286px,#f9c5aa 287px,#e7f0f4 288px,#a0cce2 289px,#7fb9d8 290px,#5fa5cd 292px,#57a0ca 294px,#74b2d4 297px,#91c5de 298px,#cfe4ef 299px,#fbd2bb 300px,#f3a27f 301px,#e7886c 302px,#de715a 304px,#dc6f58 306px,#e37e64 308px,#eb9072 309px,#f6b191 310px,#f7f5f4 311px,#a1cce2 312px,#79b5d6 313px,#559ec9 315px,#4b98c6 317px,#559ec9 319px,#7ab6d6 321px,#a5cfe4 322px,#faebe3 323px,#f4a785 324px,#e7876b 325px,#df765e 326px,#d96752 328px,#da6a55 330px,#e58368 332px,#f2a17f 333px,#fbe3d4 334px,#a8d0e4 335px,#79b5d5 336px,#509bc7 338px,#4594c4 340px,#4c98c6 342px,#6bacd1 344px,#90c4dd 345px,#e2edf3 346px,#f7b597 347px,#ea8f71 348px,#e17a61 349px,#d96652 352px,#e37f64 355px,#ee9878 356px,#facab1 357px,#bbdaea 358px,#81bad8 359px,#63a8ce 360px,#4896c5 362px,#4493c3 364px,#529cc8 366px,#7fb9d8 368px,#b6d7e8 369px,#fbd2bb 370px,#f09b7a 371px,#de725b 373px,#d96753 375px,#e27c62 378px,#ec9273 379px,#f8bb9e 380px,#d7e8f1 381px,#89c0db 382px,#67aacf 383px,#4997c5fd 385px,#4392c3f3 387px,#70b0d2bb 391px,#99c8e0a6 392px,#f5f6f790 393px,#f6af8e7a 394px,#ea8d7063 395px,#de725b3a 397px,#dc6f581b 399px,#f8ba9d01 403px,#0000 545px)"></i><i style="left:403px;width:12px;transform:skewY(11.07deg);background:linear-gradient(#f7f7f7,#f6f6f7 208px,#f7f6f5 209px,#fae8de 215px,#f7f6f5 220px,#cbe2ee 227px,#f7f5f3 232px,#fac9b0 235px,#f7b697 238px,#f9c3a8 241px,#f9ede6 243px,#e6eff4 244px,#a5cee3 246px,#8dc2dc 248px,#87beda 250px,#a4cee3 253px,#c3deec 254px,#f2f5f6 255px,#fdd9c4 256px,#f7b596 257px,#ee9677 259px,#e98b6e 261px,#ec9273 263px,#f6af8f 265px,#fcd4be 266px,#e9f0f4 267px,#abd2e5 268px,#8cc1dc 269px,#6bacd1 271px,#64a8ce 273px,#81bad8 276px,#9ccae1 277px,#dae9f2 278px,#fcd4bf 279px,#f4a785 280px,#ea8f71 281px,#e0785f 283px,#df745c 285px,#ed9475 288px,#f6b393 289px,#f8f3f1 290px,#a6cfe4 291px,#7fb9d7 292px,#59a1cb 294px,#4f9ac7 296px,#58a0ca 298px,#7fb9d8 300px,#add3e6 301px,#fbe4d7 302px,#f4a482 303px,#e7866a 304px,#db6b56 306px,#d96652 308px,#de735b 310px,#f29f7e 312px,#fce0cf 313px,#abd2e5 314px,#7ab6d6 315px,#4f9bc7 317px,#4493c3 319px,#4a97c5 321px,#6aacd0 323px,#91c4de 324px,#ecf2f5 325px,#f5ac8b 326px,#e6866a 327px,#d96651 329px,#d55e4c 331px,#d96753 333px,#ea8e70 335px,#f8bfa3 336px,#bad9e9 337px,#7bb6d6 338px,#5ca3cc 339px,#4292c2 341px,#408fc1 343px,#4b98c6 345px,#5ca3cc 346px,#7bb6d6 347px,#badaea 348px,#f8bfa3 349px,#ea8e71 350px,#df765e 351px,#d55e4c 354px,#de715a 357px,#e7876b 358px,#f6af8f 359px,#deebf2 360px,#86bdda 361px,#62a6cd 362px,#4392c3 364px,#3f8ec1 366px,#4695c4 368px,#6eaed2 370px,#9dcae1 371px,#fbe6da 372px,#f09c7b 373px,#e37d63 374px,#d76350 376px,#d6604d 378px,#dc6f58 380px,#e58167fd 381px,#f4a583f9 382px,#f7f6f6f2 383px,#91c5dee9 384px,#67aacfdc 385px,#4493c3b9 387px,#4392c361 391px,#86bdda27 394px,#f7b5960f 396px,#dc6d5701 399px,#0000 545px)"></i><i style="left:415px;width:12px;transform:skewY(11.79deg);background:linear-gradient(#f7f7f7,#f7f7f7 205px,#f4f6f6 208px,#f7f7f7 211px,#fae8dd 218px,#f8f4f1 222px,#f4f5f6 223px,#c9e1ee 229px,#dae9f2 232px,#f3f5f6 234px,#f9c1a6 238px,#f6b395 241px,#f8bca0 243px,#facab1 244px,#f3f5f6 246px,#acd2e5 248px,#8ec3dd 250px,#84bcd9 252px,#9bc9e0 255px,#b0d4e7 256px,#dfecf3 257px,#fae7dc 258px,#f8bea2 259px,#f5a886 260px,#eb8f71 262px,#e8896d 264px,#f4a582 267px,#f8bda1 268px,#f9efe9 269px,#bedbeb 270px,#96c7df 271px,#6daed1 273px,#61a6cd 275px,#69abd0 277px,#8dc2dc 279px,#b4d6e8 280px,#f9eee8 281px,#f6b394 282px,#ed9576 283px,#e17860 285px,#de715a 287px,#e27b62 289px,#f3a280 291px,#fcd5bf 292px,#c5dfed 293px,#8bc1dc 294px,#6daed1 295px,#529cc8 297px,#4d99c6 299px,#5da3cc 301px,#70b0d2 302px,#94c6df 303px,#e7eff4 304px,#f7b496 305px,#ea8e71 306px,#e17960 307px,#d86450 310px,#e17860 313px,#ea8e71 314px,#f7b799 315px,#dae9f2 316px,#89bfdb 317px,#66a9cf 318px,#4796c4 320px,#4292c2 322px,#4d99c6 324px,#7ab6d6 326px,#b4d6e8 327px,#f9c5ab 328px,#eb9172 329px,#d96853 331px,#d45c4b 333px,#d7614e 335px,#e47f65 337px,#f4a481 338px,#f5f6f7 339px,#8ec2dd 340px,#64a8ce 341px,#4f9ac7 342px,#408ec1 344px,#4393c3 347px,#69abd0 349px,#97c8df 350px,#faebe3 351px,#f09d7c 352px,#e27c62 353px,#db6a55 354px,#d45c4b 356px,#d6604d 358px,#e17a61 360px,#ee9878 361px,#fbe2d4 362px,#9ccae1 363px,#6cadd1 364px,#4493c3 366px,#408fc1 367px,#4191c2 370px,#5fa5cc 372px,#83bbd9 373px,#dbeaf2 374px,#f6af8e 375px,#e6856a 376px,#d86450f9 378px,#d45c4be9 380px,#df765eb9 383px,#eb9072a4 384px,#fac7ad8e 385px,#add3e678 386px,#73b1d361 387px,#4595c438 389px,#3e8cbf0f 392px,#559ec901 395px,#0000 545px)"></i><i style="left:427px;width:12px;transform:skewY(12.51deg);background:linear-gradient(#f7f7f7,#f7f7f7 207px,#f3f5f6 211px,#f6f6f7 213px,#f7f6f5 214px,#fae7dc 220px,#f7f6f5 225px,#cee4ef 230px,#c8e0ed 232px,#f7f5f3 237px,#fac7ad 240px,#f6b394 243px,#f9c0a5 246px,#f9ece5 248px,#e5eff4 249px,#bcdaea 250px,#a3cde3 251px,#8ac0db 253px,#84bcd9 255px,#a2cde2 258px,#bfdceb 259px,#f2f4f6 260px,#fcd7c2 261px,#f6b394 262px,#ed9475 264px,#e8896d 266px,#eb8f71 268px,#f5ad8c 270px,#fbd0b9 271px,#e9f0f4 272px,#a9d1e5 273px,#8ac0db 274px,#69abd0 276px,#61a6cd 278px,#7eb8d7 281px,#9ac9e0 282px,#d8e8f1 283px,#fcd3bd 284px,#f4a683 285px,#e37e64 287px,#de725a 289px,#e0765e 291px,#ec9273 293px,#f6b091 294px,#f8f3ef 295px,#a5cfe3 296px,#7cb7d7 297px,#579fca 299px,#4c99c6 301px,#559fc9 303px,#7cb7d7 305px,#aad1e5 306px,#fbe4d7 307px,#f3a380 308px,#e68469 309px,#da6954 311px,#d86450 313px,#dd705a 315px,#f09d7c 317px,#fcdecc 318px,#aad1e5 319px,#78b4d5 320px,#4d99c6 322px,#4292c2 324px,#4796c4 326px,#67aacf 328px,#8ec2dd 329px,#ebf1f5 330px,#f5aa89 331px,#e68469 332px,#d86450 334px,#d45b4b 336px,#d86551 338px,#e98b6e 340px,#f8bc9f 341px,#bad9e9 342px,#79b5d5 343px,#5aa1cb 344px,#4190c2 346px,#3f8ec0 348px,#4896c5 350px,#5aa1cb 351px,#78b5d5 352px,#b8d8e9 353px,#f8bea1 354px,#e98c6f 355px,#de735c 356px,#d45b4b 359px,#dc6f58 362px,#e68469 363px,#f5ad8c 364px,#dfecf3 365px,#84bcd9 366px,#5fa5cd 367px,#4b98c6 368px,#3f8ec0 370px,#4393c3fd 373px,#6bacd1f4 375px,#9ac9e0eb 376px,#fbe6d9df 377px,#ef9a7acf 378px,#da6a55a8 380px,#d55d4c65 383px,#f3a2801c 387px,#90c4dd09 389px,#0000 392px,#0000 545px)"></i><i style="left:439px;width:12px;transform:skewY(13.22deg);background:linear-gradient(#f7f7f7,#f7f7f7 209px,#f3f5f6 213px,#f6f7f7 216px,#fae7db 223px,#f6f7f7 228px,#c7e0ed 234px,#cee4ef 236px,#eef3f5 239px,#f8f1ee 240px,#f9c3a8 243px,#f6b292 246px,#f7b89a 248px,#f9c3a8 249px,#fddcc9 250px,#f8f2ee 251px,#dceaf2 252px,#b3d6e7 253px,#9ecbe1 254px,#84bcd9 257px,#8ac0db 259px,#a7d0e4 261px,#f8f2ef 263px,#fac8af 264px,#f5ad8d 265px,#eb9173 267px,#e8896c 269px,#f19e7d 272px,#f6b394 273px,#fce0d0 274px,#d9e9f1 275px,#9fcce2 276px,#83bcd9 277px,#71b0d3 278px,#62a6cd 280px,#66a9cf 282px,#84bcd9 284px,#a4cee3 285px,#ebf1f5 286px,#f9c1a5 287px,#f19e7c 288px,#e27b62 290px,#dd715a 292px,#e17860 294px,#ee9878 296px,#f8bca0 297px,#e6eff4 298px,#98c8e0 299px,#75b3d4 300px,#60a6cd 301px,#4e9ac7 303px,#4f9bc7 305px,#69abd0 307px,#86bdda 308px,#c0dceb 309px,#fac9b1 310px,#ef9878 311px,#dd7059 313px,#d86450 315px,#da6954 317px,#e6866a 319px,#f4a885 320px,#f8f3f0 321px,#99c9e0 322px,#6fafd2 323px,#58a0ca 324px,#4393c3 326px,#4a97c5 329px,#6fafd2 331px,#9ccae1 332px,#fae9df 333px,#f19e7d 334px,#e37d64 335px,#d7614e 337px,#d45c4b 339px,#d96853 341px,#ed9575 343px,#fddbc7 344px,#a2cde3 345px,#6fafd2 346px,#4594c4 348px,#4291c2 352px,#60a5cd 354px,#84bcd9 355px,#dfecf3 356px,#f5ad8c 357px,#e68469 358px,#d7634f 360px,#d45b4b 362px,#de735c 365px,#e98c6f 366px,#f8bda1 367px,#b8d8e9 368px,#78b5d5fe 369px,#59a1cbfb 370px,#4190c1ee 372px,#4795c4b0 376px,#aed3e66d 379px,#fac6ac57 380px,#eb907243 381px,#df765e30 382px,#d45c4b0b 385px,#0000 388px,#0000 545px)"></i><i style="left:451px;width:12px;transform:skewY(13.93deg);background:linear-gradient(#f7f7f7,#f7f7f7 212px,#f2f5f6 216px,#f7f7f7 219px,#fbe6da 226px,#f5f6f7 231px,#c5dfed 237px,#cde3ef 239px,#f0f3f6 242px,#f8f0eb 243px,#f9c1a5 246px,#f6b191 249px,#f9c4a9 252px,#f8f4f3 254px,#b0d4e6 256px,#9ccae1 257px,#83bcd9 260px,#8bc0db 262px,#a9d1e5 264px,#d5e7f1 265px,#f9efe9 266px,#f9c4aa 267px,#f5ab8a 268px,#eb9072 270px,#e8886c 272px,#f2a07e 275px,#f7b597 276px,#fbe5d8 277px,#d2e6f0 278px,#9ccae1 279px,#81bad8 280px,#61a6cd 283px,#67aacf 285px,#86beda 287px,#a8d0e4 288px,#f3f5f6 289px,#f8bc9f 290px,#f09b7a 291px,#e7866a 292px,#de735c 294px,#e17960 297px,#f09b7a 299px,#f9c2a7 300px,#ddebf2 301px,#94c6df 302px,#72b1d3 303px,#539dc9 305px,#4c99c6 307px,#59a1cb 309px,#6bacd1 310px,#8ac0db 311px,#d1e5f0 312px,#f9c2a6 313px,#ed9576 314px,#dc6f58 316px,#d86450 318px,#da6a55 320px,#e7886c 322px,#f5ac8b 323px,#f2f4f6 324px,#94c6df 325px,#6cadd1 326px,#4997c5 328px,#4291c2 330px,#4b98c6 332px,#72b1d3 334px,#a2cde3 335px,#fce0d0 336px,#ef9979 337px,#da6a55 339px,#d45c4b 341px,#d6604d 343px,#e17a61 345px,#ef9979 346px,#fbe4d7 347px,#9bcae1 348px,#6bacd1 349px,#4494c3 351px,#408fc1 352px,#4292c2 355px,#63a7ce 357px,#8ac0db 358px,#ecf2f5 359px,#f4a885 360px,#e48167 361px,#dc6e57 362px,#d45c4b 364px,#d96752f9 367px,#eb8f71e9 369px,#fac6addd 370px,#add3e6cd 371px,#74b2d4ba 372px,#4695c48f 374px,#4896c528 379px,#78b5d50f 381px,#e98c6f01 384px,#0000 545px)"></i><i style="left:463px;width:12px;transform:skewY(14.63deg);background:linear-gradient(#f7f7f7,#f7f7f7 215px,#f2f5f6 219px,#f6f7f7 222px,#fbe6d9 229px,#f6f6f7 234px,#c4deec 240px,#cbe2ee 242px,#eef3f5 245px,#f8f1ec 246px,#f9c0a5 249px,#f6b090 252px,#f7b799 254px,#f9c2a7 255px,#fddcc9 256px,#f8f3f0 257px,#b1d5e7 259px,#9ccae1 260px,#83bcd9 263px,#8ac0db 265px,#a8d0e4 267px,#d2e6f0 268px,#f8f0ec 269px,#f9c6ac 270px,#f5ac8b 271px,#eb9072 273px,#e8886c 275px,#f19f7d 278px,#f6b495 279px,#fbe2d4 280px,#d6e7f1 281px,#9dcbe1 282px,#82bbd8 283px,#61a6cd 286px,#67a9cf 288px,#85bdda 290px,#a6cfe4 291px,#eff3f5 292px,#f8bea2 293px,#f09c7b 294px,#e7876b 295px,#dd715a 298px,#e68569 301px,#ef9a79 302px,#f8bfa3 303px,#e2edf3 304px,#96c7df 305px,#74b2d4 306px,#549ec9 308px,#4c99c6 310px,#6aacd0 313px,#88bfdb 314px,#c8e1ee 315px,#f9c6ac 316px,#ee9777 317px,#e37e64 318px,#d96853 320px,#d86551 322px,#df755d 324px,#e7876b 325px,#f5aa88 326px,#f7f7f6 327px,#97c8df 328px,#6eaed2 329px,#4a97c5 331px,#4292c2 333px,#4a98c6 335px,#71b0d3 337px,#9fcce2 338px,#fbe5d8 339px,#f09c7b 340px,#e27d63 341px,#db6b56 342px,#d45c4b 344px,#d6604d 346px,#e17960 348px,#ee9777 349px,#fce0cf 350px,#9fcbe2 351px,#6daed1 352px,#4594c4 354px,#3f8ec0 356px,#4292c2 358px,#61a6cd 360px,#87beda 361px,#e5eef4 362px,#f5ab89fc 363px,#e58368f7 364px,#d7634fe5 366px,#d45b4bc6 368px,#df745d87 371px,#f9c1a65a 373px,#b3d6e746 374px,#76b3d433 375px,#4190c10c 378px,#4190c101 381px,#0000 545px)"></i><i style="left:475px;width:12px;transform:skewY(15.33deg);background:linear-gradient(#f7f7f7,#f7f7f7 217px,#f1f4f6 222px,#f6f6f7 225px,#fbe5d9 232px,#fae8dd 234px,#f7f7f6 237px,#c4dfec 243px,#cae1ee 245px,#f8f3f1 249px,#f9c3a9 252px,#f6b192 255px,#f9c0a5 258px,#f9eee8 260px,#e2edf3 261px,#b9d9e9 262px,#a2cde2 263px,#8bc0dc 265px,#86bdda 267px,#a5cfe3 270px,#f6f7f7 272px,#fcd2bc 273px,#f6b293 274px,#f2a17f 275px,#ea8d70 277px,#e98c6f 279px,#f19e7d 281px,#f6b191 282px,#fddac6 283px,#e4eef3 284px,#a7d0e4 285px,#8ac0db 286px,#6bacd1 288px,#64a8ce 290px,#72b1d3 292px,#83bcd9 293px,#a0cce2 294px,#e0ecf3 295px,#fbccb4 296px,#f4a582 297px,#e48065 299px,#df745d 301px,#e17a61 303px,#ee9777 305px,#f7b799 306px,#f5f6f7 307px,#a3cde3 308px,#7db8d7 309px,#59a1cb 311px,#509bc7 313px,#5aa2cb 315px,#84bcd9 317px,#b4d6e8 318px,#fcdfcd 319px,#f3a280 320px,#e6856a 321px,#db6c56 323px,#d96853 325px,#df755d 327px,#e6866a 328px,#f4a482 329px,#fae7dc 330px,#a6cfe4 331px,#78b5d5 332px,#509bc7 334px,#4594c4 336px,#4c99c6 338px,#6eaed2 340px,#96c7df 341px,#f6f7f7 342px,#f5a987 343px,#e6856a 344px,#d96752 346px,#d7624f 349px,#e17860 351px,#ec9374 352px,#fac8af 353px,#b2d5e7 354px,#79b5d5 355px,#5ca3cb 356px,#4392c3 358px,#4e9ac7ee 362px,#80bad8d5 364px,#cae1eec3 365px,#f7ba9caf 366px,#e98d6f99 367px,#df755d83 368px,#d6614e56 370px,#de735c14 374px,#0000 378px,#0000 545px)"></i><i style="left:487px;width:12px;transform:skewY(16.02deg);background:linear-gradient(#f7f7f7,#f7f7f7 220px,#f1f4f6 225px,#f4f6f7 228px,#f7f6f6 229px,#fbe6d9 235px,#fae7db 237px,#f8f4f2 240px,#f2f4f6 241px,#c4dfec 247px,#dae9f2 250px,#f6f6f7 252px,#fac9b0 255px,#f6b394 258px,#f8bda1 261px,#fbccb4 262px,#eff3f5 264px,#abd2e5 266px,#91c4de 268px,#88bfdb 270px,#a1cce2 273px,#b9d9e9 274px,#e7eff4 275px,#fbe4d6 276px,#f8bda1 277px,#f5a987 278px,#ec9374 280px,#ea8e71 282px,#f5ac8a 285px,#fac6ad 286px,#f7f5f4 287px,#bad9ea 288px,#97c7df 289px,#72b1d3 291px,#68abd0 293px,#72b1d3 295px,#98c8e0 297px,#c5dfed 298px,#fae8dd 299px,#f6b393 300px,#ef9978 301px,#e37e64 303px,#e0785f 305px,#e68468 307px,#f5ad8c 309px,#fbe4d6 310px,#bddbea 311px,#8ec2dc 312px,#62a7ce 314px,#559ec9 316px,#5ba2cb 318px,#7db8d7 320px,#a2cde2 321px,#f6f6f7 322px,#f6b394 323px,#ec9273 324px,#e37e64 325px,#dc6d57 327px,#dc6e58 329px,#e58368 331px,#f09b7a 332px,#fac8ae 333px,#cde3ef 334px,#8bc0db 335px,#6bacd1 336px,#4a97c5 339px,#4e9ac7 341px,#69abd0 343px,#89bfdb 344px,#d0e4f0 345px,#f9c1a6 346px,#ed9475 347px,#dc6e58 349px,#d86551 352px,#e0775e 354px,#e98c6e 355px,#f6b293fe 356px,#e3eef3fb 357px,#8ec2ddf6 358px,#69abd0ee 359px,#4997c5d4 361px,#4d9ac782 365px,#fbe2d32f 369px,#f19e7d20 370px,#dd70590b 372px,#0000 375px,#0000 545px)"></i><i style="left:499px;width:12px;transform:skewY(16.71deg);background:linear-gradient(#f7f7f7,#f7f7f7 223px,#f1f4f6 230px,#f6f6f7 232px,#fbe5d9 239px,#fae8dd 241px,#f7f7f7 244px,#c5dfed 250px,#cce3ef 252px,#edf2f5 255px,#f8f2ef 256px,#f9c4aa 259px,#f6b495 262px,#f7ba9d 264px,#f9c4aa 265px,#fdddca 266px,#f8f1ed 267px,#e0ecf3 268px,#bad9e9 269px,#a5cfe3 270px,#8cc1dc 273px,#92c5de 275px,#add3e6 277px,#f8f4f3 279px,#fcd2bc 280px,#f7b496 281px,#f4a582 282px,#ec9374 284px,#ec9374 286px,#f4a683 288px,#f7b89b 289px,#fce2d3 290px,#e0ecf3 291px,#a9d1e5 292px,#8fc3dd 293px,#72b1d3 295px,#6dadd1 297px,#7cb7d6 299px,#8ec3dd 300px,#abd2e5 301px,#eaf1f5 302px,#faccb3 303px,#f5a986 304px,#ec9374 305px,#e27c62 308px,#ea8e70 311px,#f3a27f 312px,#f9c2a7 313px,#edf2f5 314px,#a5cfe3 315px,#83bbd9 316px,#61a6cd 318px,#59a1cb 320px,#75b2d4 323px,#91c4de 324px,#c7e0ed 325px,#fddcc8 326px,#f4a683 327px,#e98c6e 328px,#df745c 330px,#dd705a 332px,#e47f65 334px,#eb9172 335px,#f6af8f 336px,#f8f1ed 337px,#a7cfe4 338px,#7eb8d7 339px,#58a0ca 341px,#4e9ac7 343px,#579fca 345px,#7bb6d6 347px,#a3cee3 348px,#f8f1ed 349px,#f5ac8b 350px,#e98c6e 351px,#e17960 352px,#da6954fb 354px,#df745ce4 357px,#f2a07ec5 359px,#fcdfcdb1 360px,#afd4e69c 361px,#7db8d785 362px,#539dc859 364px,#4c99c615 368px,#0000 372px,#0000 545px)"></i><i style="left:511px;width:12px;transform:skewY(17.39deg);background:linear-gradient(#f7f7f7,#f7f7f7 227px,#f1f4f6 231px,#f1f4f6 234px,#f7f7f7 236px,#f8f4f2 237px,#fbe5d8 243px,#f4f5f6 248px,#c5dfed 254px,#d8e8f1 257px,#f2f5f6 259px,#f9c2a7 263px,#f7b596 266px,#f8bea2 268px,#facbb3 269px,#f5f6f7 271px,#b4d6e8 273px,#a2cde3 274px,#8fc3dd 277px,#a2cde3 280px,#b8d8e9 281px,#e1edf3 282px,#f9ebe3 283px,#fac7ae 284px,#f6b191 285px,#ef9a7a 287px,#ed9475 289px,#f5ad8c 292px,#f9c4aa 293px,#f9eee8 294px,#d1e5f0 295px,#a2cde3 296px,#7db7d7 298px,#70b0d3 300px,#78b5d5 302px,#99c9e0 304px,#bddbea 305px,#f8f2ef 306px,#f8c0a4 307px,#f4a582 308px,#e7876b 310px,#e48065 312px,#e8896d 314px,#f5ad8c 316px,#fddcc9 317px,#d8e8f1 318px,#9ccae1 319px,#7fb9d8 320px,#63a7ce 322px,#5ea4cc 324px,#6eaed2 326px,#81bad8 327px,#a0cce2 328px,#e6eff4 329px,#f9c4aa 330px,#f2a07e 331px,#e37d64 333px,#df745c 335px,#e27c62 337px,#f19d7c 339px,#f9c2a7 340px,#e4eef4 341px,#9bcae1 342px,#7ab5d6 343px,#5aa2cb 345px,#569fca 348px,#6eaed2 350px,#8ac0dbfc 351px,#bcdaeaf8 352px,#fcddcbf2 353px,#f4a482e8 354px,#e8896cdb 355px,#dd715ab7 357px,#ea8f714a 362px,#f7f7f625 364px,#77b4d50e 366px,#4c99c601 369px,#0000 545px)"></i><i style="left:523px;width:7px;transform:skewY(17.93deg);background:linear-gradient(#f7f7f7,#f7f7f7 229px,#f1f4f6 237px,#f7f7f7 239px,#f8f4f2 240px,#fbe5d8 246px,#f4f6f6 251px,#c5dfed 257px,#d9e9f1 260px,#f2f5f6 262px,#f9c3a8 266px,#f7b698 269px,#f8bfa3 271px,#faccb4 272px,#f6f6f7 274px,#b7d8e9 276px,#a5cee3 277px,#91c5de 280px,#a4cee3 283px,#b9d9e9 284px,#e1edf3 285px,#f9ede5 286px,#facab1 287px,#f6b394 288px,#f4a684 289px,#ee9878 291px,#ef9a7a 293px,#f6af8f 295px,#f9c5ab 296px,#f9eee8 297px,#d4e7f1 298px,#a5cfe4 299px,#80bad8 301px,#74b2d4 303px,#7bb6d6 305px,#9bcae1 307px,#bfdceb 308px,#f8f3f1 309px,#f9c3a8 310px,#f4a785 311px,#e88a6d 313px,#e58368 315px,#ef9979 318px,#f6af8e 319px,#fdddca 320px,#dbeaf2 321px,#a0cce2 322px,#84bcd9 323px,#67aacf 325px,#62a6cd 327px,#71b0d3 329px,#84bcd9 330px,#a2cde3 331px,#e5eff4 332px,#fac8af 333px,#f4a481 334px,#ea8e70 335px,#e0775f 338px,#e98b6e 341px,#f2a07e 342px,#f9c3a9 343px,#e6eff4 344px,#9fcbe2 345px,#7eb8d7 346px,#5ea4cc 348px,#579fcafc 350px,#72b0d3de 353px,#bddbeab8 355px,#fce1d1a2 356px,#f5a8868b 357px,#e37d635d 359px,#df755d13 363px,#f6b29201 366px,#0000 545px)"></i></div>
<div class="hm" style="left:1177px"><div class="lo"><b style="left:-6px;top:336px;width:7px;height:202px;transform:skewY(11.31deg);background:linear-gradient(#edf2f5,#f6f7f7 1px,#f9c1a6 5px,#f7b596 7px,#f9c2a7 9px,#fbe3d5 10px,#ddebf2 11px,#9ccae1 12px,#77b4d5 13px,#4c99c6 15px,#408fc1 17px,#4695c4 19px,#59a1cb 20px,#86beda 21px,#fce0cf 22px,#e68469 23px,#d15749 25px,#cd4d44 27px,#d25849 29px,#e27c62 31px,#f4a785 32px,#ddebf2 33px,#80bad8 34px,#5da3cc 35px,#4a97c5 36px,#3f8ec1 38px,#4795c4 41px,#6cadd1 43px,#94c6df 44px,#f0f4f6 45px,#f6ae8e 46px,#e98b6e 47px,#db6c56 49px,#d86450 51px,#de725b 54px,#ed9576 56px,#f7b89b 57px,#eff3f5 58px,#a0cce2 59px,#7db8d7 60px,#5ba2cb 62px,#509bc8 64px,#5aa2cb 67px,#74b2d4 69px,#a9d1e5 71px,#e5eef4 72px,#fdddca 73px,#f7b596 74px,#f3a381 75px,#eb9172 77px,#ea8f71 79px,#ef9979 81px,#f6b192 83px,#f9c6ac 84px,#fae8dd 85px,#e9f1f5 86px,#aad1e5 88px,#9bcae1 89px,#86bdda 93px,#a8d0e4 99px,#f6f7f7 104px,#fbe4d7 107px,#fcdfcd 111px,#f8f4f1 116px,#aad1e5 123px,#99c9e0 128px,#b0d4e7 133px,#f2f4f6 137px,#fdddca 141px,#fce0d0 144px,#f4f5f6 147px,#add3e6 151px,#94c6df 156px,#abd2e5 161px,#ecf2f5 165px,#f9eee8 167px,#fbe5d8 170px,#f7f7f6 174px,#b5d7e8 179px,#a2cde2 183px,#acd2e5 188px,#dae9f2 193px,#dceaf2 201px)"></b><b style="left:1px;top:337px;width:6px;height:201px;transform:skewY(11.31deg);background:linear-gradient(#fbe2d4,#fbcfb8 3px,#fbcfb7 4px,#f7ddd0 6px,#e8e0dc 7px,#afd2e3 9px,#5ba2cb 12px,#4292c2 15px,#4f9ac7 17px,#6bacd1 18px,#a9bcc7 19px,#d0a69d 20px,#e1826f 21px,#d2594c 22px,#c43c3c 24px,#c7423f 27px,#d55f4d 29px,#e37e64 30px,#e9bcaa 31px,#abccdd 32px,#67aacf 33px,#4b97c5 34px,#408ec0 35px,#3a87bd 37px,#4190c1 40px,#62a7ce 42px,#89bfdb 43px,#d9e5ea 44px,#f7b799 45px,#ea8d70 46px,#e17960 47px,#d96652 49px,#d86450 51px,#dd7059 53px,#e98c6f 55px,#f4a785 56px,#fcd9c6 57px,#d3e6f0 58px,#99c8e0 59px,#7eb8d7 60px,#63a7ce 62px,#5ba2cb 64px,#67aacf 67px,#7fb9d8 69px,#abd2e5 71px,#d6e7f0 72px,#f2e8e2 73px,#f8d3c1 74px,#f4ac8d 77px,#f3a787 80px,#f7b89a 83px,#fbd7c4 85px,#ebe8e5 87px,#a9d0e4 92px,#96c7df 96px,#a2cde3 101px,#ebeef0 107px,#fcdfce 110px,#facdb5 112px,#fac9b1 114px,#fad2bd 116px,#f4eeea 119px,#e9f0f3 120px,#abd2e5 123px,#8ec2dc 128px,#a6cfe4 133px,#f4f5f6 137px,#fcd9c4 140px,#fbcfb7 143px,#f6f5f4 147px,#add3e6 151px,#95c7df 155px,#a3cee3 160px,#e7eff4 165px,#f9efe9 168px,#f9ede5 171px,#f4f6f6 174px,#b8d8e9 180px,#abd2e5 183px,#add3e6 188px,#c5dfec 193px,#c5dfec 200px)"></b><b style="left:7px;top:340px;width:6px;height:198px;transform:skewY(11.31deg);background:linear-gradient(#fcd5c0,#f8ede6 2px,#e9eff2 3px,#88bfdb 6px,#63a7ce 8px,#519cc8 10px,#529dc8 12px,#5fa5cd 13px,#7fb8d7 14px,#c1cacf 15px,#eaac97 16px,#de725b 17px,#d05448 18px,#c13639 20px,#be2f36 22px,#c53e3d 24px,#dc6f59 26px,#e3a492 27px,#bbc3c9 28px,#71afd2 29px,#4d99c6 30px,#3a87bd 33px,#418fc1 36px,#5aa1cb 38px,#74b2d4 39px,#9fcae1 40px,#dbe1e4 41px,#f9c5ac 42px,#f2a17f 43px,#ea8e70 44px,#e48066 48px,#f5ad8e 53px,#f8bfa3 54px,#f3ede9 56px,#c8dce6 58px,#b1d2e3 60px,#92c4de 64px,#8dc2dc 67px,#99c8e0 71px,#e2e3e3 77px,#fadbca 79px,#f8ba9d 81px,#f5ac8b 84px,#f7b799 87px,#f9cfbb 89px,#ececeb 91px,#d3e6f0 92px,#b3d6e7 93px,#93c6de 95px,#7cb7d7 99px,#88bfdb 102px,#9fcce2 104px,#b2d5e7 105px,#f2f4f5 107px,#fbe5d8 108px,#facbb2 109px,#f8bb9f 110px,#f5ad8c 113px,#f8bca0 116px,#f4f4f4 119px,#a6cfe4 122px,#87beda 126px,#9bcae1 131px,#b5d7e8 133px,#f4f4f3 136px,#fbe3d5 138px,#fcd6c2 141px,#f8f1ec 145px,#f2f5f6 146px,#b6d7e8 150px,#a1cde2 154px,#a9d1e5 159px,#e5eef4 167px,#f1f4f6 172px,#e5eef4 177px,#aed3e6 186px,#aad1e5 197px)"></b><b style="left:13px;top:343px;width:6px;height:195px;transform:skewY(11.31deg);background:linear-gradient(#e9f0f4,#9dcbe1 3px,#82bbd8 5px,#77b4d5 7px,#84bbd9 9px,#9fcae1 10px,#ccd9df 11px,#f2c6b2 12px,#ec9375 13px,#de735c 14px,#d05447 16px,#cc4b43 18px,#d35a4d 20px,#dd7361 21px,#d8988b 22px,#93b7cc 24px,#61a6cd 25px,#4c98c6 26px,#4392c2 28px,#5fa4cc 31px,#79b3d4 32px,#c1c2c5 35px,#f7c6ae 38px,#f8bea1 39px,#f3cdbc 41px,#cbcacb 44px,#bdced6 47px,#cad8df 49px,#f5ece6 51px,#f8bea2 53px,#f2a586 55px,#ee9c7e 57px,#f2ad91 60px,#f5d2c1 62px,#e8e8e7 63px,#9bc9e0 65px,#86bdda 66px,#6eaed2 68px,#66a9cf 70px,#71b0d3 73px,#8ec2dd 75px,#a7d0e4 76px,#d6e7f0 77px,#faebe2 78px,#f9c1a5 79px,#f5ab89 80px,#ec9375 82px,#ea8d70 84px,#ed9576 86px,#f5ac8b 88px,#f9c2a7 89px,#fae8dd 90px,#e1ecf3 91px,#b1d5e7 92px,#89bfdb 94px,#72b0d3 98px,#81bad8 101px,#9ccae1 103px,#b1d5e7 104px,#f4f3f2 106px,#fbe1d1 107px,#f8ba9d 109px,#f6b090 112px,#f9c3a9 115px,#f1f4f5 118px,#aed3e6 121px,#95c6df 125px,#a3cee3 130px,#ebeff1 137px,#f7f2ef 142px,#ebf1f4 147px,#b2d5e7 155px,#a6cfe4 160px,#b6d7e8 165px,#f7f6f5 172px,#f7f2ef 177px,#eef3f5 179px,#bddbea 183px,#a6cfe4 186px,#a5cfe4 194px)"></b><b style="left:19px;top:346px;width:6px;height:192px;transform:skewY(11.31deg);background:linear-gradient(#d0e4ef,#bfdbea 3px,#dbe3e7 6px,#f8d3c0 8px,#f7b597 9px,#f2a280 10px,#e98d70 12px,#ea9880 14px,#d0aea7 16px,#98b7ca 18px,#70aed1 19px,#509ac7 20px,#3e8cc0 22px,#4795c4 24px,#62a7ce 25px,#9abbce 26px,#beb3b3 27px,#e2917f 29px,#e17c66 30px,#db6c57 32px,#e7876b 35px,#f3a685 36px,#edd8cd 37px,#b5d4e5 38px,#83bad8 39px,#5aa1cb 41px,#4f9ac7 43px,#569fc9 45px,#75b3d4 47px,#97c7df 48px,#dfecf3 49px,#f9c4aa 50px,#f09c7c 51px,#e17860 53px,#dc6d57 55px,#e17860 58px,#ef9979 60px,#f8ba9d 61px,#f3f5f5 62px,#a7d0e4 63px,#83bcd9 64px,#60a6cd 66px,#549ec9 69px,#75b3d4 73px,#a8d0e4 75px,#e3eef3 76px,#fcdccb 77px,#f7b597 78px,#f3a381 79px,#eb9072 81px,#ea8d70 83px,#ee9778 85px,#f6b191 87px,#fac8af 88px,#f9ece4 89px,#e0ecf3 90px,#a1cde2 92px,#80b9d8 96px,#96c7df 101px,#b0d4e6 103px,#ddeaf2 105px,#f3e8e2 107px,#fad4c0 111px,#fcddcb 114px,#eaedef 119px,#b1d5e7 125px,#a2cde3 129px,#afd4e6 135px,#f1f4f6 141px,#fbe6da 145px,#fbe7db 147px,#f3f2f1 150px,#aed3e6 155px,#99c8e0 159px,#a6cfe4 164px,#f7f6f6 170px,#faeae1 172px,#fae7dc 175px,#f6f6f6 178px,#b4d6e8 183px,#b1d5e7 191px)"></b><b style="left:25px;top:349px;width:6px;height:189px;transform:skewY(11.31deg);background:linear-gradient(#f8e9df,#f9c3a8 4px,#f7b799 6px,#f7b99c 7px,#f4d5c6 9px,#b7d2df 11px,#69abd0 13px,#529cc8 14px,#3b89be 17px,#4c98c6 20px,#7ab4d5 21px,#bbb7b9 22px,#de9786 23px,#d86755 24px,#ce5046 25px,#c53f3d 28px,#d2594a 31px,#dc6f58 32px,#ed987a 33px,#dbd3d0 34px,#86bdda 35px,#5ba2cb 36px,#4795c4 37px,#3c89be 40px,#4594c4 43px,#6fafd2 45px,#9dcae1 46px,#f4ebe6 47px,#f5aa89 48px,#e88a6d 49px,#dc6e58 51px,#d96752 53px,#df755d 56px,#ed9475 58px,#f6b191 59px,#fae8dd 60px,#c3deec 61px,#96c7df 62px,#7eb8d7 63px,#66a9cf 65px,#60a5cd 67px,#6dadd1 70px,#86bdda 72px,#b1d5e7 74px,#dae9f1 75px,#f1e7e1 76px,#f7d5c4 77px,#f5b293 80px,#f5ac8c 83px,#f8bda1 86px,#fadbc9 88px,#ebe8e6 90px,#a2cde3 96px,#97c7df 100px,#a9d1e5 105px,#ebeff2 110px,#fcdfcf 113px,#fbcdb5 115px,#facab2 117px,#fad3bf 119px,#f9e8de 121px,#e6eff4 123px,#a9d1e5 126px,#8ec2dd 131px,#a8d0e4 136px,#f6f6f6 140px,#fce1d2 142px,#fbcfb7 145px,#fddbc8 147px,#f4f5f6 150px,#abd2e5 154px,#96c7df 158px,#a6cfe4 163px,#e8f0f4 168px,#f8f0eb 171px,#f9ede6 173px,#f7f6f5 176px,#d2e5f0 181px,#d2e5f0 188px)"></b><b style="left:31px;top:352px;width:6px;height:186px;transform:skewY(11.31deg);background:linear-gradient(#f8bea1,#f9c2a7 3px,#f8e7dd 5px,#dfeaef 6px,#aed3e6 7px,#6daed2 9px,#4b98c6 11px,#408ec1 13px,#529cc8 16px,#78b3d5 17px,#c4c3c4 18px,#e99982 19px,#d66250 20px,#ca4842 21px,#bd2f36 24px,#c33a3b 26px,#d2594a 28px,#e0775f 29px,#ebb09b 30px,#bdcfd8 31px,#71b0d3 32px,#519cc8 33px,#3d8bbf 36px,#4492c3 39px,#5ea4cc 41px,#9cc9e0 43px,#dae7ee 44px,#faceb7 45px,#f5a886 46px,#ed9576 47px,#e68469 51px,#f5ac8c 56px,#f8bb9e 57px,#f6e9e2 59px,#cddee7 61px,#a9d0e4 64px,#92c4de 67px,#8dc2dc 70px,#99c8e0 74px,#e6e5e5 80px,#fadac9 82px,#f8bb9e 84px,#f5ae8e 87px,#f7ba9d 90px,#f9d4c2 92px,#e9edee 94px,#9fcbe2 97px,#83bbd9 100px,#7eb8d7 102px,#8bc0db 105px,#a2cde3 107px,#f4f4f5 110px,#fbe5d7 111px,#faccb3 112px,#f8bda0 113px,#f6af8f 116px,#f9c1a6 119px,#f0f4f5 122px,#a4cee3 125px,#88bfdb 130px,#a8d0e4 135px,#e5eff4 138px,#f9ede5 140px,#fcdecc 142px,#fcdac7 144px,#f8f3f0 148px,#b6d7e8 153px,#a1cde2 158px,#afd4e6 163px,#ecf2f5 172px,#edf2f5 185px)"></b><b style="left:37px;top:355px;width:6px;height:183px;transform:skewY(11.31deg);background:linear-gradient(#fbd2bc,#f7f0ec 2px,#e1edf3 3px,#b7d8e8 4px,#85bdd9 6px,#67aacf 8px,#5da3cc 10px,#6cadd1 12px,#8abedb 13px,#c2d1d8 14px,#efbaa5 15px,#e48166 16px,#d7634f 17px,#c94641 19px,#c6403e 21px,#cf5247 23px,#da6a57 24px,#de9180 25px,#ceb1aa 26px,#acc1cd 27px,#77b3d5 28px,#5ca3cb 29px,#4c99c6 31px,#61a6cd 34px,#8bbdd9 36px,#f3dcd0 41px,#fcdfce 42px,#c7cfd3 49px,#cdd5d9 51px,#eae2de 53px,#fae1d4 54px,#f7b89a 56px,#f0a082 60px,#f4b69b 63px,#f2dace 65px,#e1e8ec 66px,#9ac9e0 68px,#87beda 69px,#69abd0 73px,#76b3d4 76px,#93c5de 78px,#add3e6 79px,#dae9f1 80px,#faeae1 81px,#f9c3a8 82px,#f5ad8d 83px,#ee9777 85px,#eb9173 87px,#ef9979 89px,#f6b091 91px,#fac8af 92px,#f9ebe3 93px,#deebf2 94px,#b1d5e7 95px,#8ac0db 97px,#73b2d4 101px,#83bbd9 104px,#9ecbe1 106px,#f4f3f2 109px,#fbe2d3 110px,#f8bca0 112px,#f6b292 115px,#fac7ad 118px,#f9ede6 120px,#eef3f5 121px,#add3e6 124px,#95c6df 129px,#a4cee3 133px,#e6eef3 139px,#f5f0ee 143px,#f3f5f6 148px,#b7d8e8 157px,#a7d0e4 162px,#b2d5e7 167px,#f0f4f6 174px,#f2f4f6 182px)"></b><b style="left:43px;top:358px;width:6px;height:180px;transform:skewY(11.31deg);background:linear-gradient(#eef3f5,#b5d7e8 3px,#a2cde3 5px,#a5cee3 7px,#c8dbe5 9px,#e0d8d5 10px,#f5c9b4 11px,#f2a484 12px,#e98b6e 13px,#de735c 15px,#e0775f 17px,#da9f92 19px,#7db0ce 22px,#569dc9 23px,#4391c2 25px,#509bc7 27px,#67aacf 28px,#95c2da 29px,#bec0c4 30px,#e2a391 32px,#e4836a 34px,#e37d64 35px,#e6866a 37px,#f6b192 39px,#f3e7df 40px,#b7d8e8 41px,#8abfdb 42px,#71b0d3 43px,#57a0ca 46px,#5ea4cc 48px,#7db8d7 50px,#9ccae1 51px,#e0ecf3 52px,#fac9b0 53px,#f2a280 54px,#e98b6e 55px,#e0765e 57px,#df755d 60px,#f09d7c 63px,#f8bda0 64px,#f3f2f1 65px,#add2e6 66px,#73b1d3 68px,#5da3cc 70px,#58a0ca 72px,#76b3d4 76px,#a7d0e4 78px,#deebf2 79px,#fbe3d4 80px,#f7ba9d 81px,#f4a785 82px,#ec9274 84px,#ea8f71 86px,#ef9979 88px,#f6b292 90px,#fac9b0 91px,#f9ece4 92px,#e0ecf3 93px,#b9d9e9 94px,#93c5de 96px,#7fb9d7 100px,#a1cde2 105px,#e0ecf2 108px,#f9e0d3 111px,#fbd4bf 115px,#f6f0ed 120px,#afd4e6 128px,#a4cee3 132px,#b3d6e7 138px,#f7f6f5 145px,#fae9df 149px,#f1f2f2 153px,#afd4e6 158px,#9ac9e0 163px,#a7d0e4 167px,#dceaf2 171px,#e0ecf3 179px)"></b><b style="left:49px;top:361px;width:6px;height:177px;transform:skewY(11.31deg);background:linear-gradient(#eef2f4,#f2e9e5 3px,#f7b798 7px,#f2a27f 9px,#f1a080 11px,#f3ae92 12px,#edc4b4 13px,#a4c3d5 15px,#539cc8 17px,#3a87bd 19px,#3682ba 21px,#3e8cbf 23px,#539dc9 24px,#9dc2d6 25px,#dcb4a8 26px,#e4836b 27px,#d76352 28px,#cb4942 31px,#cf5146 33px,#dc6e58 35px,#ea8d6f 36px,#f6d0be 37px,#a6cfe3 38px,#6eaed2 39px,#4694c4 41px,#3e8dc0 43px,#4695c4 46px,#69abd0 48px,#8dc2dc 49px,#d9e9f1 50px,#f8bea2 51px,#ee9677 52px,#e48066 53px,#dc6d57 55px,#da6a54 57px,#de735c 59px,#ea8e71 61px,#f5a886 62px,#fcd7c2 63px,#d9e9f1 64px,#9ecbe1 65px,#82bbd9 66px,#67aacf 68px,#5fa5cd 70px,#6aacd0 73px,#82bbd8 75px,#add3e6 77px,#d7e8f1 78px,#f3eae4 79px,#f9d5c3 80px,#f6b596 82px,#f3a787 85px,#f8bda0 89px,#fbe0d1 91px,#e6eaec 93px,#acd2e5 97px,#99c8e0 101px,#a9d1e5 107px,#eceff1 113px,#fcdecc 117px,#fbd4c0 120px,#f6ebe5 124px,#e3edf3 126px,#acd2e5 129px,#92c5de 134px,#a9d0e4 139px,#f1f4f6 143px,#fcdecc 146px,#fcd7c2 149px,#f4f5f5 153px,#aed3e6 157px,#97c7df 161px,#9fcbe2 165px,#bedbeb 169px,#bedbeb 176px)"></b><b style="left:55px;top:365px;width:6px;height:173px;transform:skewY(11.31deg);background:linear-gradient(#f9c3a8,#f5ab89 3px,#f4a886 5px,#f8bfa4 7px,#f5ded2 8px,#c9dee9 9px,#8fc2dd 10px,#4f9ac7 12px,#408fc1 13px,#3682ba 16px,#4894c4 19px,#78b3d4 20px,#cebbb6 21px,#e38068 22px,#d1574a 23px,#c2373a 26px,#c84440 29px,#d76350 31px,#e58368 32px,#f2c3ad 33px,#aed2e5 34px,#6cadd1 35px,#4393c3 37px,#3e8cc0 39px,#4594c3 42px,#60a6cd 44px,#a1cce2 46px,#edf1f4 47px,#f8c0a4 48px,#f2a17f 49px,#ea8f71 50px,#e37e64 54px,#eb9072 57px,#f5ac8b 59px,#f9c2a7 60px,#fae6da 61px,#e3e9ec 62px,#a0cbe2 65px,#86bdda 69px,#9ac9e0 75px,#cbdfe9 79px,#efe3dd 82px,#fad6c3 84px,#f8c0a4 86px,#f7b89a 89px,#f9c8b0 92px,#f1e8e3 95px,#e3ebef 96px,#a3cee3 99px,#85bdd9 104px,#8fc3dd 107px,#a3cee3 109px,#ecf2f5 112px,#fddcc9 114px,#f8bc9f 116px,#f7b698 119px,#f9c4a9 121px,#fae8dd 123px,#f3f4f4 124px,#a9d1e5 127px,#8bc0db 131px,#8ec3dd 134px,#a5cfe3 137px,#f2f4f5 141px,#fcdecd 144px,#fcdbc8 147px,#f3f5f6 151px,#b5d7e8 155px,#a2cde3 158px,#abd2e5 172px)"></b><b style="left:61px;top:368px;width:6px;height:170px;transform:skewY(11.31deg);background:linear-gradient(#f6b393,#f8bea2 3px,#f4ede9 5px,#96c7df 7px,#75b3d4 8px,#4e9ac7 10px,#418fc1 12px,#4491c2 14px,#4f99c7 15px,#6bacd1 16px,#b4c9d5 17px,#ecad97 18px,#dc6e58 19px,#c7413f 21px,#c13639 23px,#c7423f 25px,#d6604f 27px,#e27c64 28px,#eaaa95 29px,#d2cbc8 30px,#97c6df 31px,#6daed1 32px,#5ba2cb 33px,#4f9bc7 35px,#6aacd0 39px,#a7cfe3 42px,#f7f4f2 45px,#f9e4d9 46px,#ebcbbd 49px,#e7cabd 52px,#f5d1bf 55px,#f7b799 59px,#f5b89d 62px,#f2ccba 65px,#d5e4ec 68px,#a0cce2 70px,#91c4de 71px,#75b3d4 75px,#8ac0db 79px,#b0d4e6 81px,#d2e5ef 82px,#f4efed 83px,#fcd6c2 84px,#f7b99c 85px,#f5ab8a 86px,#ef9b7a 90px,#f6b393 93px,#f9c7ae 94px,#fae6da 95px,#e9f0f4 96px,#a2cde3 98px,#85bdda 100px,#76b3d4 103px,#82bbd8 106px,#99c9e0 108px,#abd2e5 109px,#ecf2f5 111px,#fbd3bd 113px,#f7b799 115px,#f6b394 118px,#f9c2a7 120px,#fae8dd 122px,#f3f4f5 123px,#add3e6 126px,#92c5de 130px,#a0cce2 135px,#ebf1f4 141px,#f8ede7 145px,#f7f6f5 149px,#b2d5e7 159px,#add3e6 169px)"></b><b style="left:67px;top:371px;width:6px;height:167px;transform:skewY(11.31deg);background:linear-gradient(#fbd4bf,#f6f2ef 2px,#dfecf3 3px,#b6d7e8 4px,#89bfdb 6px,#6daed1 9px,#7ab5d6 11px,#c0d0d9 13px,#e9c5b6 14px,#ec9577 15px,#df745c 16px,#cf5246 19px,#d35b4d 21px,#db6e5b 22px,#dc8f7e 23px,#b3b8be 25px,#94bcd2 26px,#70afd2 27px,#5da3cc 29px,#6cadd1 31px,#a7c9da 33px,#deb8ac 36px,#f1ad94 39px,#f8bfa3 41px,#fcdfce 42px,#e8f0f4 43px,#b8d8e8 44px,#99c7df 45px,#79b5d5 47px,#70b0d2 49px,#88beda 52px,#9fcbe2 53px,#c9e1ed 54px,#f9ece4 55px,#f7ba9d 56px,#f2a17f 57px,#e68569 59px,#e37d63 61px,#e58468 63px,#f09d7d 65px,#f7b698 66px,#f9e2d5 67px,#d1e5ef 68px,#9dcbe1 69px,#83bcd9 70px,#67aacf 72px,#5ea4cc 74px,#68abd0 77px,#83bcd9 79px,#9ac9e0 80px,#f3f1f0 82px,#fbcfb7 83px,#f6b192 84px,#f3a280 85px,#ec9173 89px,#f5ac8a 92px,#f8bea2 93px,#fbe0d1 94px,#edf2f4 95px,#a5cfe3 97px,#94c6df 98px,#7bb6d6 102px,#80b9d8 104px,#9ccae1 107px,#e1ecf3 110px,#f9e7dc 112px,#fad0ba 114px,#fac8af 116px,#fbceb6 118px,#f5f3f2 122px,#b7d8e9 127px,#a5cfe3 131px,#b2d5e7 138px,#f7f6f5 148px,#f1f1f1 154px,#cae1ee 159px,#cae1ee 166px)"></b><b style="left:73px;top:374px;width:6px;height:164px;transform:skewY(11.31deg);background:linear-gradient(#eef3f5,#c1ddeb 4px,#d4dfe4 7px,#efcfc0 9px,#f6baa0 10px,#f09e7f 11px,#e47f65 13px,#e27b62 15px,#e6866c 16px,#e9a38d 17px,#d0b4ae 18px,#7eb2d1 20px,#549cc8 21px,#428ec1 22px,#3a87bd 24px,#4392c3 26px,#58a0ca 27px,#83bbd9 28px,#cfcdce 29px,#ecae99 30px,#e5856b 31px,#dc6f59 32px,#d55f4e 35px,#db6c57 37px,#ef9979 39px,#fbd7c3 40px,#b2d5e7 41px,#7cb7d7 42px,#61a6cd 43px,#4996c5 45px,#4594c3 47px,#509bc7 49px,#72b1d3 51px,#96c7df 52px,#e3eef3 53px,#f8bea2 54px,#ef9979 55px,#e0775f 57px,#dd7059 61px,#ed9576 64px,#f6b192 65px,#fae9df 66px,#c0ddeb 67px,#94c6de 68px,#7bb6d6 69px,#63a7ce 71px,#5ca3cc 73px,#6aacd0 76px,#87beda 78px,#9dcae1 79px,#eeeff0 81px,#fadac8 82px,#f8bea2 83px,#f5ae8e 84px,#f19f7e 88px,#f7b496 91px,#f9c4a9 92px,#f5efeb 94px,#e0ebf1 95px,#a4cee3 98px,#92c4de 102px,#a4cee3 107px,#e5ebef 113px,#faebe2 117px,#fbe6d9 121px,#f2edea 125px,#dae9f1 128px,#a9d1e5 132px,#99c9e0 136px,#aad1e5 141px,#f5f6f7 146px,#f9efe9 147px,#fce2d3 149px,#fcdecc 151px,#f6f3f1 155px,#f2f1f1 163px)"></b><b style="left:79px;top:377px;width:6px;height:161px;transform:skewY(11.31deg);background:linear-gradient(#f3f3f3,#f9e8de 2px,#f7b596 5px,#eb9072 8px,#eb9173 11px,#f1a384 12px,#f0cbba 13px,#bed1db 14px,#7bb6d6 15px,#529cc8 16px,#3f8dc0 17px,#317bb6 20px,#337eb8 22px,#4b97c5 24px,#8ec1dc 25px,#e7bdad 26px,#e27c62 27px,#d55e4d 28px,#c94641 30px,#c84440 32px,#cf5246 34px,#e0765e 36px,#f19f7f 37px,#e7e9e9 38px,#89bfdb 39px,#61a6cd 40px,#4292c3 42px,#3f8dc0 44px,#4997c5 47px,#6cadd1 49px,#8ec2dd 50px,#d1e5f0 51px,#fbceb6 52px,#f3a280 53px,#e98b6e 54px,#e0775f 56px,#de735c 58px,#e68469 61px,#f4a583 63px,#f9c1a6 64px,#f6eee9 65px,#a3cde3 67px,#8ec2dc 68px,#72b1d3 72px,#90c4dd 77px,#add3e6 79px,#dae6ed 81px,#f9d2bf 85px,#f9c1a6 88px,#f8bfa4 90px,#f7e1d5 95px,#d2e5ef 99px,#a7d0e4 102px,#92c5de 107px,#aad1e5 112px,#f3f4f4 116px,#fbd0ba 119px,#f9c2a7 122px,#faccb5 124px,#fbe6da 126px,#e7eff4 128px,#a7d0e4 131px,#8cc1dc 136px,#aad1e5 141px,#f6f5f4 145px,#fcd6c1 149px,#fbe3d5 153px,#fbe3d5 160px)"></b><b style="left:85px;top:380px;width:6px;height:158px;transform:skewY(11.31deg);background:linear-gradient(#facab1,#f4a582 3px,#ed9676 5px,#f2a281 8px,#f8bc9f 9px,#ece4e0 10px,#a1cde2 11px,#6daed1 12px,#4e9ac7 13px,#3e8dc0 14px,#327db8 17px,#3c89be 20px,#529bc8 21px,#a3c6d9 22px,#eca993 23px,#da6955 24px,#ce5146 25px,#c53e3d 27px,#c53e3d 29px,#cd4d44 31px,#dd705a 33px,#ec9375 34px,#f3d3c4 35px,#a6cfe4 36px,#73b1d3 37px,#4f9ac7 39px,#4795c4 41px,#539dc8 44px,#6eaed2 46px,#9fcce2 48px,#d0e5f0 49px,#f9ede6 50px,#f9c9b1 51px,#f6b497 52px,#ee9c7e 56px,#f6ae8e 61px,#fad2be 64px,#e9ded8 66px,#c9dde7 69px,#9bc9e0 73px,#8bc1dc 77px,#a2cde2 82px,#edecec 86px,#fae7db 87px,#f8bea2 89px,#f5ab8a 92px,#f6b393 95px,#f9ccb5 97px,#fae0d2 98px,#f0eeed 99px,#d7e8f1 100px,#a1cde2 102px,#8ac0db 104px,#7db8d7 107px,#89c0db 110px,#a0cce2 112px,#b3d6e7 113px,#f0f3f5 115px,#fae8de 116px,#f9c1a6 118px,#f6b394 121px,#fac6ad 124px,#f9ede5 126px,#edf2f5 127px,#a7d0e4 130px,#8dc2dc 135px,#aad1e5 140px,#eef2f5 144px,#f6f1ee 145px,#fbe4d7 148px,#fbe5d7 157px)"></b><b style="left:91px;top:383px;width:6px;height:155px;transform:skewY(11.31deg);background:linear-gradient(#f6b394,#f4a786 3px,#f6b394 5px,#fac9b1 6px,#f4ede8 7px,#89bfdb 9px,#69abd0 10px,#4594c4 12px,#3e8cbf 14px,#519bc7 17px,#78b3d5 18px,#c8c8ca 19px,#eb967a 20px,#d96652 21px,#ce5045 22px,#c6403e 24px,#cf5247 27px,#e0765e 29px,#e6bcac 31px,#cdd3d6 32px,#9dcae1 33px,#7db8d7 34px,#6bacd1 36px,#7bb6d6 39px,#dae8f0 46px,#bad5e2 53px,#cddce3 56px,#f0e4dd 58px,#fad7c4 59px,#f8bda1 60px,#f6ae8e 61px,#ee9a7b 65px,#f5b093 68px,#f6d9ca 70px,#e8eaeb 71px,#9fcce2 73px,#8cc1dc 74px,#6badd1 78px,#76b3d4 81px,#90c4dd 83px,#a6cfe4 84px,#f4f0ee 86px,#fbd3bd 87px,#f7b698 88px,#f4a886 89px,#ee9878 93px,#f6b192 96px,#fac6ad 97px,#fae7dc 98px,#e7eff4 99px,#a1cde2 101px,#85bdda 103px,#78b4d5 106px,#85bdd9 109px,#9ccae1 111px,#aed3e6 112px,#ebf1f4 114px,#f9ece4 115px,#fac9b0 117px,#f7ba9d 120px,#fbceb6 123px,#f0f3f5 126px,#a9d1e5 130px,#9ac9e0 134px,#aad1e5 139px,#eaf0f3 146px,#eaf0f3 154px)"></b><b style="left:97px;top:386px;width:6px;height:152px;transform:skewY(11.31deg);background:linear-gradient(#f9c3a8,#faceb7 2px,#f6efeb 4px,#deebf2 5px,#b1d5e7 6px,#83bcd9 8px,#6bacd1 11px,#7fb8d7 13px,#a3c9dd 14px,#cdcbcb 15px,#eeb6a0 16px,#e6856a 17px,#db6b56 18px,#d05548 21px,#d96855 23px,#e58b74 24px,#d8a89c 25px,#a0bfd0 27px,#69abd0 29px,#62a7ce 30px,#6eaed2 32px,#82bbd9 33px,#aad1e4 34px,#d2d4d4 35px,#e4c3b6 36px,#eb957a 39px,#eb9376 41px,#f4ac8d 43px,#facdb5 44px,#edf2f5 45px,#abd2e5 46px,#8ac0db 47px,#68abd0 49px,#5ea4cc 51px,#64a8ce 53px,#80b9d8 55px,#9bc9e1 56px,#d0e4ef 57px,#fbdece 58px,#f5ae8d 59px,#ed9576 60px,#e37d63 62px,#e0775f 64px,#e48065 66px,#ef9b7b 68px,#f7b596 69px,#fae4d7 70px,#cde3ee 71px,#9ccae1 72px,#71b0d3 74px,#5fa5cc 78px,#6aabd0 80px,#85bdda 82px,#9bcae1 83px,#f1f1f0 85px,#f7b698 87px,#f19d7c 89px,#ed9676 91px,#f6b090 95px,#f9c2a8 96px,#fbe3d5 97px,#eef1f3 98px,#acd2e5 100px,#9bcae1 101px,#82bbd9 105px,#9ecbe2 110px,#e8eff2 114px,#fae3d6 117px,#fbdbc8 120px,#f6f2f0 125px,#b9d9e9 132px,#a7d0e4 136px,#b2d5e7 151px)"></b><b style="left:103px;top:389px;width:6px;height:149px;transform:skewY(11.31deg);background:linear-gradient(#f6f0ec,#e7eff4 2px,#bddbea 5px,#c9dee9 8px,#d8dddf 9px,#f2c0aa 11px,#e8896d 13px,#dc6f58 15px,#db6c56 17px,#e0765e 18px,#ea9378 19px,#d8b6ac 20px,#a8bdc9 21px,#70aed2 22px,#4c96c5 23px,#3a87bd 25px,#4191c2 28px,#529cc8 29px,#75b2d4 30px,#c6dce7 31px,#f4baa2 32px,#e7876b 33px,#d76350 35px,#d35b4b 37px,#d86451 39px,#e68469 41px,#f5a987 42px,#f5f4f4 43px,#97c8e0 44px,#6fafd2 45px,#4d99c6 47px,#4493c3 49px,#519cc8 52px,#75b3d4 54px,#9ac9e0 55px,#e7eff4 56px,#f8bda1 57px,#ef9a79 58px,#e17960 60px,#de735b 64px,#ee9878 67px,#f6b293 68px,#fae6da 69px,#cce2ee 70px,#9ccae1 71px,#83bcd9 72px,#6aacd0 74px,#63a7ce 76px,#6fafd2 79px,#88bfdb 81px,#b8d8e9 83px,#e1ecf2 84px,#f6e7df 85px,#fad1bc 86px,#f6b293 88px,#f4a988 91px,#f7b99c 94px,#f8ece4 97px,#ebeeef 98px,#abd2e5 102px,#9ac9e0 107px,#acd2e5 112px,#f6f1ee 120px,#fbe3d5 124px,#fae6db 127px,#e6eff3 131px,#b6d7e8 134px,#9dcbe1 137px,#96c7df 148px)"></b><b style="left:109px;top:392px;width:6px;height:146px;transform:skewY(11.31deg);background:linear-gradient(#deebf2,#f5eeea 4px,#f5ac8c 7px,#e8896c 9px,#df755d 11px,#de735b 13px,#eb9274 15px,#f0c8b7 16px,#a8ccdf 17px,#5fa5cd 18px,#428fc1 19px,#2e77b4 23px,#3d8cbf 26px,#579fca 27px,#a2cde2 28px,#f4b59a 29px,#e0785f 30px,#d55f4d 31px,#ca4741 34px,#d15749 37px,#e27b62 39px,#f2a280 40px,#f1f2f2 41px,#8fc3dd 42px,#67aacf 43px,#4795c4 45px,#4190c2 47px,#4c99c6 50px,#6cadd1 52px,#89bfdb 53px,#b7d8e9 54px,#fae8de 55px,#f6b292 56px,#ee9878 57px,#e48065 59px,#e17a61 61px,#e7876b 64px,#f4a582 66px,#f8bb9e 67px,#fae3d6 68px,#e1ebf0 69px,#a0cce2 71px,#86bdda 73px,#7db7d7 75px,#8fc3dd 80px,#a3cee3 82px,#d8e6ed 85px,#eee4df 87px,#fad4c0 90px,#f9c3a9 94px,#f3e6de 100px,#e1eaef 102px,#a4cee3 106px,#90c3dd 111px,#add3e6 116px,#ebf1f5 119px,#f8f1ed 120px,#fac9b0 123px,#f9c3a8 124px,#fac9b0 127px,#fbe1d2 129px,#edf2f5 131px,#abd2e5 134px,#97c8e0 136px,#91c4de 145px)"></b><b style="left:115px;top:395px;width:6px;height:143px;transform:skewY(11.31deg);background:linear-gradient(#f2f5f6,#f9ede6 1px,#f5ad8d 4px,#e47f65 8px,#e37e64 10px,#f09e7e 12px,#f7d5c5 13px,#a5cee3 14px,#64a8ce 15px,#4393c3 16px,#2e78b5 20px,#327db8 22px,#4996c5 24px,#83bbd8 25px,#f0c8b6 26px,#e27b62 27px,#d55f4d 28px,#ca4841 30px,#c94540 32px,#d45d4c 35px,#e8896c 37px,#f7b99b 38px,#d8e8f1 39px,#8dc2dc 40px,#6daed1 41px,#4f9ac7 44px,#569fca 47px,#6aacd0 49px,#abd2e5 52px,#dceaf2 53px,#f6e8e0 54px,#f9d0bc 55px,#f7bea4 56px,#f3ab8e 58px,#f2a585 62px,#f6b192 65px,#f9d4c1 68px,#d8e0e4 72px,#9ac9e0 77px,#8ac0db 81px,#91c4dd 84px,#a4cee3 86px,#e0ebf0 89px,#f4ede9 90px,#fbdfcf 91px,#f8ba9d 93px,#f5ab8a 96px,#f7b799 99px,#f7ebe3 102px,#e7eff3 103px,#abd1e5 105px,#9bc9e0 106px,#7fb9d7 110px,#87beda 113px,#9ac9e0 115px,#a9d1e5 116px,#e2edf3 118px,#f7f2ef 119px,#fce1d2 120px,#f8bfa3 122px,#f7b798 124px,#f9c5aa 127px,#f4f4f4 130px,#aed3e6 133px,#a2cde3 134px,#a0cce2 142px)"></b><b style="left:121px;top:398px;width:6px;height:140px;transform:skewY(11.31deg);background:linear-gradient(#fdddca,#f9c5aa 1px,#f5ab8a 3px,#ee9878 6px,#f19f7f 8px,#f5ae8e 9px,#fad1bc 10px,#dfecf3 11px,#96c7df 12px,#6fafd2 13px,#4895c4 15px,#3e8bbf 17px,#428fc1 19px,#5fa5cd 21px,#95c4de 22px,#eccabb 23px,#e68569 24px,#d25949 26px,#cd4e45 28px,#d55f4e 31px,#e48166 33px,#efa184 34px,#f2c8b5 35px,#dae1e5 36px,#a6cfe4 37px,#8cc1dc 38px,#7ab6d6 41px,#bbd9e9 48px,#b8d6e6 56px,#dae0e2 60px,#f9dbcb 62px,#f6b393 64px,#f09e7d 67px,#f4ac8e 71px,#f8d1be 73px,#f1e5de 74px,#d7e7f0 75px,#b0d4e6 76px,#87beda 78px,#6eaed2 82px,#89bfdb 86px,#b6d7e8 88px,#e0ecf3 89px,#faeae1 90px,#fac8af 91px,#f6b394 92px,#f29f7e 94px,#ef9a7a 96px,#f3a381 98px,#f8bc9f 100px,#f5f0ed 102px,#b0d4e6 104px,#9bcae1 105px,#7bb6d6 109px,#82bbd9 112px,#96c7df 114px,#b9d9e9 116px,#f2f2f2 118px,#fae8dd 119px,#fac8af 121px,#f8bda1 123px,#facbb2 126px,#f6f4f3 129px,#cce2ee 132px,#cce2ee 139px)"></b><b style="left:127px;top:401px;width:6px;height:137px;transform:skewY(11.31deg);background:linear-gradient(#fbceb6,#f8bb9e 3px,#f8bfa4 5px,#facab1 6px,#f8f1ee 8px,#dceaf2 9px,#b1d5e7 10px,#99c8e0 11px,#7db8d7 13px,#77b4d5 15px,#8abfdb 17px,#cedee5 19px,#f6d0bd 20px,#f09d7c 21px,#e48065 22px,#da6954 24px,#e37d63 27px,#e9b29f 29px,#bfccd3 31px,#a3cbe0 32px,#89beda 33px,#80bad8 35px,#9dcae1 37px,#c4ddea 38px,#ebcabb 40px,#f1af96 42px,#f1a68a 44px,#f5b69b 46px,#f9ceb8 47px,#f3ede9 48px,#c4deec 49px,#9ccae1 50px,#85bdd9 51px,#6badd1 53px,#65a8cf 55px,#6fafd2 57px,#8fc3dd 59px,#b2d5e7 60px,#e9edee 61px,#faccb4 62px,#f5a986 63px,#ed9475 64px,#e37e64 67px,#ed9575 71px,#f3a786 72px,#f9c6ad 73px,#f2ece9 74px,#97c8df 76px,#81bad8 77px,#69abd0 79px,#62a7ce 81px,#7bb7d6 85px,#a4cee3 87px,#cee3ee 88px,#f5eeea 89px,#facfb9 90px,#f7b596 91px,#f4a886 92px,#ef9979 95px,#f2a17f 97px,#f7b799 99px,#f9ece4 101px,#e4eef4 102px,#c0dceb 103px,#98c8e0 105px,#83bcd9 109px,#a2cde3 114px,#ddebf2 117px,#f5ede9 119px,#fbdbc9 123px,#f8f2ee 128px,#f6f2ef 136px)"></b><b style="left:133px;top:404px;width:6px;height:134px;transform:skewY(11.31deg);background:linear-gradient(#fbe3d6,#fbe5d9 2px,#f3f5f6 6px,#cde3ee 10px,#d0e4ef 12px,#e4eaed 14px,#f9dccd 16px,#f6ae8e 18px,#ec9374 21px,#f1a486 23px,#f3c3af 24px,#d7d5d4 25px,#a9cfe2 26px,#7db7d7 27px,#66a9cf 28px,#549ec9 30px,#6cadd1 33px,#8ac0db 34px,#cde3ee 35px,#f8c7af 36px,#ed9778 37px,#e37f65 38px,#d96853 41px,#e27d63 44px,#eb9173 45px,#f7b596 46px,#eef2f4 47px,#9bc9e0 48px,#76b3d4 49px,#549ec9 51px,#4997c5 53px,#57a0ca 56px,#7bb6d6 58px,#9ecbe1 59px,#e6eef2 60px,#f9c3a8 61px,#f19e7d 62px,#e8896c 63px,#e0765e 65px,#e0775f 68px,#f09d7c 71px,#f7b89a 72px,#f8e8df 73px,#c9e1ed 74px,#9ccae1 75px,#84bcd9 76px,#6bacd1 78px,#64a8ce 80px,#70b0d2 83px,#8ac0db 85px,#9ecbe1 86px,#e6eef2 88px,#f9e5da 89px,#f7b99c 91px,#f4a786 94px,#f8bb9f 98px,#f4f0ed 101px,#aad1e5 105px,#97c8df 109px,#a5cfe3 114px,#f4f1f0 123px,#f9eee8 133px)"></b><b style="left:139px;top:407px;width:6px;height:131px;transform:skewY(11.31deg);background:linear-gradient(#f3f4f5,#eaf1f5 4px,#f6f5f4 8px,#fbe4d6 11px,#f9c1a6 14px,#f6b191 17px,#f8bca0 19px,#fad4c0 20px,#eeecea 21px,#8bc1dc 23px,#6eaed2 24px,#519cc8 26px,#4a98c5 28px,#59a1ca 30px,#6cadd1 31px,#93c5de 32px,#f0f1f1 33px,#f4a684 34px,#e48066 35px,#d6604d 37px,#d15648 39px,#d55d4c 41px,#e17860 43px,#ed9676 44px,#fbd3be 45px,#aed3e6 46px,#7ab6d6 47px,#509bc7 49px,#4594c4 53px,#559ec9 55px,#7db8d7 57px,#a3cde3 58px,#eceff0 59px,#f9c1a6 60px,#f19f7e 61px,#e48066 63px,#e0785f 65px,#e68469 68px,#f2a07e 70px,#f7b799 71px,#fae0d1 72px,#e0ebf1 73px,#b4d6e8 74px,#89bfdb 76px,#75b3d4 80px,#99c9e0 85px,#d7e7f0 88px,#f8ddcf 91px,#f9c7ae 94px,#f9c3a8 96px,#fac9b0 98px,#f6e9e1 102px,#dbe9f0 105px,#abd2e5 109px,#98c8e0 114px,#abd2e5 119px,#d8e8f1 122px,#dceaf2 130px)"></b><b style="left:145px;top:410px;width:6px;height:128px;transform:skewY(11.73deg);background:linear-gradient(#e8f0f4,#f6f6f7 5px,#fac8af 11px,#f9c0a5 13px,#fbceb6 16px,#f7f2f0 18px,#d9e9f1 19px,#abd2e5 20px,#7ab6d6 22px,#60a6cd 24px,#5ca3cb 26px,#6bacd1 28px,#7fb9d8 29px,#a5cee3 30px,#f7f2ef 31px,#f5ad8c 32px,#e88a6d 33px,#da6954 35px,#d55e4c 37px,#da6a55 40px,#eb8f71 42px,#f7b99b 43px,#dceaf2 44px,#8fc3dd 45px,#6eaed2 46px,#519cc8 48px,#4997c5 50px,#58a0ca 53px,#74b2d4 55px,#aed3e6 57px,#e9eef1 58px,#fad6c3 59px,#f7b699 60px,#f2a484 61px,#eb8f71 65px,#f5aa88 69px,#f7b799 70px,#f8e3d7 72px,#d6e5ec 74px,#9ecbe1 78px,#91c4de 83px,#a7d0e4 88px,#eeeceb 93px,#f9c5ab 97px,#f8bb9e 100px,#facbb3 103px,#f9e5d9 105px,#e1ecf2 107px,#afd4e6 109px,#8ac0db 113px,#89bfdb 116px,#a1cce2 120px,#a1cce2 127px)"></b><b style="left:151px;top:414px;width:6px;height:124px;transform:skewY(16.13deg);background:linear-gradient(#eff3f6,#f8f5f3 3px,#fbd0b9 10px,#fcd5bf 12px,#f6f5f5 15px,#9ac9e0 19px,#84bcd9 21px,#7fb9d7 23px,#a2cde3 26px,#f6eee9 28px,#f9c0a5 29px,#f3a482 30px,#e68569 32px,#e17a61 34px,#e6856a 37px,#f3a787 39px,#f9cab2 40px,#eef0f1 41px,#afd4e6 42px,#90c4dd 43px,#71b0d3 45px,#68abd0 47px,#84bcd9 52px,#aed3e6 55px,#dbe8ef 57px,#f8cab4 63px,#f7b79a 66px,#f6b495 69px,#f8c2a7 72px,#f4ded3 75px,#dce8ee 77px,#9dcbe1 80px,#7fb9d7 85px,#8bc1dc 88px,#a4cee3 90px,#f6f1ee 93px,#f9c2a8 95px,#f7b596 96px,#f4a684 99px,#f6b293 102px,#fbd6c3 104px,#f8efe9 105px,#e2edf3 106px,#a4cee3 108px,#83bcd9 111px,#84bcd9 123px)"></b><b style="left:157px;top:417px;width:6px;height:121px;transform:skewY(20.35deg);background:linear-gradient(#f6f7f7,#fbe3d5 9px,#fbe5d9 11px,#f8f1ed 13px,#f2f5f6 14px,#afd4e6 18px,#a3cee3 20px,#b2d5e7 23px,#e3edf3 25px,#f7f0ec 26px,#f9c1a6 28px,#f6b394 29px,#f3a686 32px,#f7bba0 35px,#f7dccf 37px,#dfebf2 39px,#b4d6e8 41px,#afd4e6 42px,#cbe0eb 50px,#9ac9e0 55px,#90c3dd 58px,#a4cee3 61px,#efeeed 64px,#f8bea3 66px,#f5ae8d 67px,#ed9475 71px,#f09b7b 73px,#f6b293 75px,#facbb3 76px,#f8ece5 77px,#d8e8f1 78px,#abd2e5 79px,#84bcd9 81px,#6cadd1 85px,#89c0db 89px,#b5d7e8 91px,#e3edf3 92px,#fae9df 93px,#fac7ad 94px,#f6b394 95px,#f09d7c 98px,#f6b090 102px,#f8c0a4 103px,#f5f5f6 105px,#aed3e6 107px,#86bdda 110px,#7eb9d7 120px)"></b><b style="left:163px;top:419px;width:6px;height:119px;transform:skewY(24.35deg);background:linear-gradient(#f7f7f7,#f8f4f2 14px,#d7e8f1 21px,#f6f4f4 26px,#f9e1d4 30px,#e7edf0 35px,#d2e5f0 38px,#e3ecf1 41px,#f4e2d8 43px,#f8bea2 46px,#f7b799 48px,#facbb3 50px,#fae8dd 51px,#e4eef4 52px,#b2d5e7 53px,#80bad8 55px,#69abd0 57px,#63a7ce 59px,#6daed1 61px,#90c3dd 63px,#b0d4e7 64px,#f1f4f6 65px,#facab1 66px,#f5aa88 67px,#e88a6d 69px,#e48065 71px,#e88a6d 74px,#f5a886 76px,#f9c4a9 77px,#f8f3f1 78px,#c0dceb 79px,#9ac9e0 80px,#76b3d4 82px,#67aacf 84px,#6aacd0 87px,#7db8d7 89px,#a2cde3 91px,#f5f6f7 93px,#fddcc9 94px,#f8bc9f 95px,#f5ad8c 96px,#f19e7d 99px,#f4a583 101px,#f7ba9c 103px,#f9ece4 105px,#e7f0f4 106px,#abd2e5 108px,#95c6df 110px,#92c4de 118px)"></b><b style="left:169px;top:419px;width:6px;height:119px;transform:skewY(28.11deg);background:linear-gradient(#f7f7f7,#e6eff4 12px,#f7f3f1 19px,#f6f3f1 27px,#c4dfec 37px,#cde3ef 39px,#e7eff4 41px,#fae3d5 43px,#f7ba9d 45px,#f5ad8d 46px,#f19e7c 49px,#f5a987 51px,#f7b799 52px,#fad8c6 53px,#e6ecef 54px,#b1d5e7 55px,#76b3d5 57px,#5da3cc 59px,#559ec9 61px,#5da3cc 63px,#7ab6d6 65px,#98c8e0 66px,#d3e5ef 67px,#fad7c4 68px,#f4aa89 69px,#ec9374 70px,#e37d63 72px,#e17860 74px,#e48167 76px,#f09c7b 78px,#f6b394 79px,#fbdece 80px,#deebf2 81px,#a8d0e4 82px,#8ec3dd 83px,#71b0d3 85px,#68abd0 87px,#71b0d3 90px,#88beda 92px,#afd4e6 94px,#f8f4f1 96px,#fdddca 97px,#f9c2a7 98px,#f7b597 99px,#f5ab8a 102px,#f8bc9f 105px,#f8f1ed 108px,#eaf1f5 109px,#cde3ee 111px,#cce2ee 118px)"></b><b style="left:175px;top:418px;width:6px;height:120px;transform:skewY(31.63deg);background:linear-gradient(#f7f7f7,#f5f6f7 10px,#bfdceb 18px,#c6dfed 20px,#f7f7f7 24px,#fcdfce 28px,#fce1d1 30px,#f9eee7 32px,#f5f5f5 33px,#bad9e9 37px,#b0d4e7 39px,#b7d8e8 41px,#ecf1f3 44px,#f8ece4 45px,#f8c0a4 47px,#f6b191 48px,#f19e7c 51px,#f5ad8c 54px,#f8c0a5 55px,#f8ded0 56px,#dee8ed 57px,#b0d4e6 58px,#7ab6d6 60px,#61a6cd 62px,#5aa2cb 64px,#61a6cd 66px,#7cb7d6 68px,#96c6df 69px,#c6dfec 70px,#f5e2d8 71px,#f7b698 72px,#f09c7b 73px,#e58267 75px,#e27c63 77px,#ea8d70 80px,#f5ae8d 82px,#f4efec 84px,#a4cee3 86px,#92c5de 87px,#76b3d4 91px,#80bad8 94px,#a0cce2 97px,#e7eff4 100px,#f6f1ee 101px,#faceb7 104px,#f9c4aa 106px,#facab1 109px,#fbdfd0 112px,#fbe1d3 119px)"></b><b style="left:181px;top:418px;width:6px;height:120px;transform:skewY(34.9deg);background:linear-gradient(#f7f7f7,#f8f3f0 14px,#c5dfec 23px,#eef0f2 29px,#f5f0ee 34px,#c0dceb 41px,#c7e0ed 43px,#eff0f0 46px,#f9ebe3 47px,#f8bb9e 50px,#f6af8f 52px,#f7b495 55px,#fad2bd 57px,#f6e6dd 58px,#e2ebf0 59px,#9fcce2 61px,#8dc2dc 62px,#70afd2 66px,#8cc1dc 70px,#a0cce2 71px,#ebeeef 73px,#fbdac8 74px,#f7b89a 75px,#f4a785 76px,#eb9173 80px,#f5ae8e 84px,#f8bea2 85px,#f8f1ed 87px,#c3deec 89px,#a1cde2 91px,#8dc2dc 96px,#a8d0e4 102px,#e6eff4 106px,#f9ede7 108px,#fcd4bf 111px,#fbd1bb 119px)"></b><b style="left:187px;top:418px;width:6px;height:120px;transform:skewY(37.93deg);background:linear-gradient(#f7f7f7,#f7f6f6 11px,#fcdecc 18px,#f9efe8 22px,#f7f6f6 23px,#bedbeb 28px,#b9d9e9 30px,#e7eff4 38px,#f0f2f3 46px,#f7f0ec 48px,#facab1 54px,#fad2bc 57px,#fae5d9 59px,#ecf0f2 61px,#a6cfe4 65px,#97c7df 69px,#acd2e6 73px,#f3f3f4 77px,#f9c7ae 81px,#f7b596 85px,#f8c0a4 89px,#fae5d9 92px,#e9f0f4 94px,#bad9ea 96px,#9fcbe2 98px,#87beda 103px,#99c9e0 107px,#e9eff3 112px,#eaebec 119px)"></b><b style="left:193px;top:419px;width:6px;height:119px;transform:skewY(40.73deg);background:linear-gradient(#f7f7f7,#f2f4f5 15px,#fbe4d6 22px,#f8f0ec 27px,#eff3f5 29px,#c1ddeb 36px,#f6f3f2 46px,#fcdecd 52px,#fbe4d6 56px,#e7eff4 62px,#bbdaea 78px,#c7e0ed 81px,#f1f3f5 84px,#f9ede7 85px,#f8bb9e 88px,#f4a886 92px,#f8bb9e 95px,#f9ebe3 97px,#e5eef4 98px,#a5cee3 100px,#78b5d5 104px,#79b5d5 107px,#98c8e0 112px,#9ac9e0 118px)"></b><b style="left:199px;top:420px;width:6px;height:118px;transform:skewY(43.31deg);background:linear-gradient(#f7f7f7,#f5f6f7 10px,#e0ecf3 18px,#f3f5f6 22px,#fce2d2 28px,#faeae1 32px,#f7f5f4 34px,#cde3ef 41px,#eef3f5 48px,#f9efe9 51px,#fae9de 55px,#f4f5f5 60px,#e6eff4 65px,#f4f6f6 73px,#dfecf3 76px,#b0d4e6 80px,#a8d0e4 82px,#b8d8e9 85px,#e5eef3 87px,#f5eee9 88px,#f6b394 91px,#f19f7d 94px,#f5ac8b 97px,#f8bb9e 98px,#fad5c2 99px,#efe9e5 100px,#cee3ee 101px,#92c4de 103px,#78b5d5 105px,#6eaed2 108px,#73b2d3 117px)"></b><b style="left:205px;top:422px;width:6px;height:116px;transform:skewY(45deg);background:linear-gradient(#f7f7f7,#f5f6f7 13px,#e0ecf3 22px,#f5f6f6 27px,#fcdfce 34px,#faebe2 38px,#f6f5f5 40px,#c5dfec 47px,#f8f3f0 56px,#f9ebe3 60px,#f7f6f5 66px,#f7f6f5 73px,#edf2f5 76px,#b4d6e8 81px,#a8d0e4 84px,#b2d5e7 86px,#ebeeef 89px,#f8e7de 90px,#f8bda1 92px,#f3a280 95px,#f4a988 98px,#f9cbb5 100px,#f2e0d7 101px,#d8e4ea 102px,#97c7df 104px,#7bb6d6 106px,#70afd2 115px)"></b><b style="left:211px;top:423px;width:6px;height:115px;transform:skewY(45deg);background:linear-gradient(#f7f7f7,#f4f6f6 18px,#e7f0f4 26px,#f2f5f6 31px,#fae9df 38px,#f9efe9 42px,#f6f4f4 44px,#d6e7f1 52px,#f8f2ef 62px,#f8f1ed 74px,#eff3f5 77px,#b2d5e7 83px,#aad1e5 85px,#aed3e6 87px,#d8e7ee 90px,#eaeaea 91px,#f9d4c1 93px,#f6b495 95px,#f4a683 98px,#f5ae8e 100px,#f8cfbb 102px,#d9e3e8 104px,#a7d0e4 106px,#9ccae1 107px,#95c6de 114px)"></b><b style="left:217px;top:423px;width:6px;height:115px;transform:skewY(45deg);background:linear-gradient(#f7f7f7,#f7f4f2 25px,#ddebf2 34px,#f2f4f5 40px,#fbe3d5 46px,#fbe6d9 49px,#f6f6f6 53px,#d6e7f1 60px,#f8f4f2 68px,#fbe7db 72px,#faeae1 76px,#e6eff4 80px,#b8d8e9 84px,#afd4e6 86px,#bad9e9 89px,#e1eaef 92px,#f7e5db 94px,#f8bda0 97px,#f6b191 100px,#f7ba9d 102px,#edf1f3 107px,#deebf1 109px,#deebf1 114px)"></b><b style="left:223px;top:423px;width:6px;height:115px;transform:skewY(45deg);background:linear-gradient(#f7f7f7,#f8f4f3 16px,#e7eff4 24px,#f2f4f6 44px,#fae9de 52px,#f9ece4 56px,#f2f5f6 60px,#d8e8f1 67px,#f6f6f5 74px,#faeae2 77px,#faebe2 80px,#f3f5f6 83px,#bddbea 89px,#c2ddec 91px,#eff1f2 95px,#fbd0b8 99px,#f9c4a9 101px,#fac7ad 103px,#fbe6da 108px,#fae8dd 114px)"></b><b style="left:229px;top:423px;width:6px;height:115px;transform:skewY(45deg);background:linear-gradient(#f7f7f7,#f8f3f0 19px,#e7f0f4 27px,#f8f3f0 38px,#e7eff4 48px,#f4f6f7 53px,#faebe3 61px,#f7f6f5 65px,#dfecf3 72px,#f3f5f6 78px,#f8eee9 83px,#eef2f4 87px,#d4e6f0 93px,#ebf1f4 97px,#f9ece4 100px,#fcddcc 104px,#fbe4d7 114px)"></b><b style="left:235px;top:423px;width:6px;height:115px;transform:skewY(45deg);background:linear-gradient(#f7f7f7,#ecf2f5 14px,#f4f5f5 18px,#fae9de 24px,#f4f5f6 32px,#edf2f5 37px,#f5f6f6 47px,#e6eff4 55px,#f4f5f6 61px,#fbe6d9 68px,#f4f5f6 75px,#dceaf2 81px,#f3f3f4 91px,#f5f3f2 114px)"></b><b style="left:241px;top:423px;width:6px;height:115px;transform:skewY(45deg);background:linear-gradient(#f7f7f7,#ebf1f5 17px,#f5f6f6 22px,#faebe2 29px,#f3f5f6 38px,#f4f5f6 63px,#f9ece4 72px,#f4f5f6 79px,#e2edf3 86px,#f8f4f2 96px,#eff3f6 114px)"></b><b style="left:247px;top:423px;width:6px;height:115px;transform:skewY(45deg);background:linear-gradient(#f7f7f7,#f7f5f4 17px,#e4eef3 24px,#f7f6f6 31px,#f9ede6 35px,#f4f5f6 43px,#ebf1f5 48px,#f9f0eb 58px,#e7eff4 69px,#f0f4f6 74px,#faeae1 82px,#f5f6f7 88px,#e5eff4 94px,#f7f6f5 101px,#f7f6f5 114px)"></b><b style="left:253px;top:423px;width:6px;height:115px;transform:skewY(45deg);background:linear-gradient(#f7f7f7,#f7f5f3 22px,#e5eef4 32px,#f6f6f5 39px,#f9ebe3 46px,#f0f4f6 64px,#f5f6f6 79px,#f9ece3 88px,#f4f6f6 96px,#e5eef4 102px,#e6eff4 114px)"></b><b style="left:259px;top:424px;width:6px;height:114px;transform:skewY(22.21deg);background:linear-gradient(#f7f7f7,#f7f5f3 26px,#e7f0f4 34px,#f5f6f6 40px,#faebe2 47px,#f6f6f6 54px,#ebf1f5 59px,#f7f5f3 68px,#f6f6f7 84px,#f9ede6 91px,#f4f6f6 98px,#e6eff4 103px,#e6eff4 113px)"></b><b style="left:265px;top:424px;width:6px;height:114px;transform:skewY(-22.21deg);background:linear-gradient(#f7f7f7,#f6f7f7 27px,#f9ebe3 34px,#f5f6f7 41px,#e6eff4 47px,#f9f0eb 57px,#f7f6f5 84px,#eaf1f5 91px,#f6f6f6 97px,#faeae1 103px,#faebe2 113px)"></b><b style="left:271px;top:423px;width:6px;height:115px;transform:skewY(-45deg);background:linear-gradient(#f7f7f7,#f4f6f6 22px,#faeae0 31px,#f4f5f6 40px,#e7f0f4 46px,#f6f2ef 57px,#f8f5f3 78px,#e7f0f4 88px,#f6f6f6 95px,#faeae0 102px,#f9ece5 114px)"></b><b style="left:277px;top:423px;width:6px;height:115px;transform:skewY(-45deg);background:linear-gradient(#f7f7f7,#f4f6f6 17px,#fae9de 24px,#f6f6f6 31px,#e9f0f4 37px,#f9eee8 48px,#eff3f5 60px,#faebe2 70px,#f4f4f5 76px,#e6eff4 81px,#f4f6f6 87px,#faeae1 94px,#f5f6f6 101px,#e8f0f4 114px)"></b><b style="left:283px;top:423px;width:6px;height:115px;transform:skewY(-45deg);background:linear-gradient(#f7f7f7,#f9eee8 17px,#e6eff4 29px,#f8f1ed 40px,#f7f3f0 62px,#e8f0f4 72px,#f2f5f6 77px,#fae7dc 86px,#f4f5f6 95px,#f0f3f4 114px)"></b><b style="left:289px;top:423px;width:6px;height:115px;transform:skewY(-45deg);background:linear-gradient(#f7f7f7,#f9efe9 14px,#f8f3ef 17px,#e3eef3 25px,#f8f3f0 33px,#f7f6f5 46px,#faebe3 57px,#f4f5f6 62px,#dfecf3 68px,#f3f5f5 74px,#fbe3d5 81px,#f1f4f6 90px,#e8f0f4 94px,#f8f4f2 100px,#faeae0 105px,#fae9df 114px)"></b><b style="left:295px;top:423px;width:6px;height:115px;transform:skewY(-45deg);background:linear-gradient(#f7f7f7,#f4f5f6 20px,#f9ebe3 27px,#f3f5f6 39px,#faebe2 48px,#f5f6f7 54px,#e6eff4 59px,#f6f6f6 65px,#fbe5d8 72px,#f6f5f4 80px,#e3eef3 88px,#f2f4f5 94px,#fbd2bc 103px,#fcd6c1 114px)"></b><b style="left:301px;top:423px;width:6px;height:115px;transform:skewY(-45deg);background:linear-gradient(#f7f7f7,#f6f6f6 17px,#faebe3 24px,#f8f3f0 44px,#e3edf3 53px,#f1f4f6 58px,#fce0d0 67px,#f5f1ef 78px,#cde3ef 88px,#ddeaf0 92px,#efebe9 94px,#fadfd1 96px,#f8bca0 99px,#f6b393 101px,#f9c1a6 114px)"></b><b style="left:307px;top:423px;width:6px;height:115px;transform:skewY(-45deg);background:linear-gradient(#f7f7f7,#f8f1ee 16px,#f3f4f5 25px,#fbe4d6 34px,#f3f4f4 41px,#dbeaf2 47px,#f0f4f6 52px,#fcdfce 60px,#f6f6f5 68px,#fae9de 76px,#f9ece5 79px,#eaf0f3 82px,#b9d9e9 87px,#c0dceb 89px,#dae9f1 91px,#f4e8e1 93px,#fadccc 94px,#f5ad8c 97px,#f19d7c 100px,#f3a786 103px,#faddcd 108px,#f9dfd2 114px)"></b><b style="left:313px;top:423px;width:6px;height:115px;transform:skewY(-45deg);background:linear-gradient(#f7f7f7,#f7f5f4 18px,#f9ece3 26px,#e4eef3 38px,#f1f4f6 43px,#fcdecd 52px,#f8f4f2 59px,#ecf2f5 63px,#f4f5f6 67px,#fbe5d8 72px,#fbe4d7 75px,#eff2f4 79px,#c3deec 83px,#bad9e9 85px,#c7e0ed 87px,#e8eef2 89px,#fadccc 91px,#f7b496 93px,#f4a887 94px,#ed9475 98px,#f2a484 101px,#f8cab4 103px,#e5e9eb 105px,#bddbea 107px,#b5d7e8 108px,#b3d6e7 114px)"></b><b style="left:319px;top:422px;width:6px;height:116px;transform:skewY(-45deg);background:linear-gradient(#f7f7f7,#f7f5f4 13px,#fbe6da 21px,#f8f1ec 26px,#f2f5f6 28px,#d7e8f1 34px,#f6f5f5 40px,#fcd7c2 45px,#fbd1ba 47px,#f2f3f3 57px,#ebf1f5 61px,#f5f5f5 65px,#fae7db 71px,#f9f0ea 75px,#f1f3f4 77px,#c1ddec 83px,#e0ecf3 86px,#f8e9e0 88px,#f9c0a5 90px,#f3a483 92px,#eb9072 96px,#ee9878 98px,#f5b091 100px,#f2ded4 102px,#dae4e9 103px,#9ecbe1 105px,#88bfda 107px,#82bbd9 115px)"></b><b style="left:325px;top:420px;width:6px;height:118px;transform:skewY(-43.31deg);background:linear-gradient(#f7f7f7,#f7f5f4 10px,#fbe6da 18px,#f4f5f6 23px,#dae9f2 28px,#f5f6f6 34px,#fcd7c3 41px,#f5f3f1 49px,#faebe2 61px,#f7f5f5 73px,#d5e7f1 81px,#eff3f5 85px,#f8f0eb 86px,#facab2 88px,#f5ab8a 90px,#eb9072 94px,#f3a583 98px,#f7b496 99px,#f9cfba 100px,#f1e6e0 101px,#d4e5ee 102px,#9bc9e0 104px,#85bdda 106px,#88beda 117px)"></b><b style="left:331px;top:419px;width:6px;height:119px;transform:skewY(-40.73deg);background:linear-gradient(#f7f7f7,#f7f3f0 15px,#ddebf2 22px,#eef3f5 27px,#fbceb6 36px,#eff3f6 44px,#e6eff4 47px,#f4f6f6 50px,#fbddcc 56px,#fbdfcf 58px,#f5f5f5 63px,#e4eef4 68px,#f0f1f2 80px,#f8f0eb 82px,#f8bb9e 86px,#f4a886 88px,#ee9777 92px,#f6b090 96px,#f9c2a6 97px,#fbdfcf 98px,#efeeed 99px,#a0cce2 102px,#8bc0db 105px,#97c8df 108px,#c1ddeb 112px,#c3deeb 118px)"></b><b style="left:337px;top:418px;width:6px;height:120px;transform:skewY(-37.93deg);background:linear-gradient(#f7f7f7,#f6f7f7 11px,#d5e7f1 18px,#dbeaf2 20px,#f6f6f6 23px,#facbb2 28px,#f9c5ab 30px,#fbceb6 33px,#f7f5f4 37px,#cbe2ee 42px,#d1e5f0 44px,#f2f3f3 47px,#fac6ac 51px,#f8ba9d 54px,#facab2 57px,#ebeff1 61px,#b8d8e9 64px,#aad1e5 67px,#b8d8e9 70px,#edf0f2 74px,#fbe4d6 76px,#f9c5ac 78px,#f7b495 80px,#f3a380 86px,#f7b496 91px,#faccb4 93px,#f1f4f6 96px,#b5d7e8 99px,#a0cce2 103px,#b0d4e6 106px,#f2f4f6 109px,#faebe2 110px,#fad3bf 112px,#f9cfba 119px)"></b><b style="left:343px;top:418px;width:6px;height:120px;transform:skewY(-34.9deg);background:linear-gradient(#f7f7f7,#f1f4f6 14px,#fbcfb8 23px,#f3f3f3 32px,#c4dfec 39px,#cbe2ee 41px,#eaf1f5 44px,#fae9df 46px,#f8bc9f 49px,#f5ab89 53px,#f7ba9d 56px,#f8dccd 58px,#d6e6ef 60px,#9ecbe1 62px,#86beda 64px,#7eb9d7 66px,#91c3dd 69px,#a3cde3 70px,#e1e8eb 72px,#f8ded0 73px,#f8bc9f 74px,#f4a785 75px,#e6866a 79px,#e98b6e 82px,#f4a786 85px,#fac8af 87px,#f3f3f2 89px,#bad9e9 92px,#a7d0e4 96px,#bcdbea 100px,#ecf1f4 103px,#fae7dc 105px,#fac9b0 107px,#f6b090 110px,#f5ac8b 119px)"></b><b style="left:349px;top:418px;width:6px;height:120px;transform:skewY(-31.63deg);background:linear-gradient(#f7f7f7,#f7f5f4 10px,#faccb4 18px,#fbd1bb 20px,#f7f6f6 26px,#c6dfed 38px,#cae2ee 40px,#e9eff2 43px,#fae3d6 45px,#f5ae8d 48px,#ef9878 51px,#f2a180 54px,#f5ae8e 55px,#f9c5ac 56px,#f5e2d8 57px,#d5e5ee 58px,#a6cfe4 59px,#8bc0dc 60px,#6cadd1 62px,#63a7ce 64px,#6aacd0 66px,#8abfdb 68px,#acd2e5 69px,#e2e7ea 70px,#f9cbb4 71px,#f3a483 72px,#ea8e71 73px,#e17960 75px,#df755d 78px,#e98c6f 81px,#f5af8f 83px,#f6f2ef 85px,#abd2e5 87px,#91c4dd 89px,#89bfdb 91px,#a2cde3 95px,#b2d5e7 96px,#eaf1f5 98px,#f9eee7 99px,#f9c5ab 101px,#f5ab8a 104px,#f4a684 107px,#f6b394 113px,#f6b394 119px)"></b><b style="left:355px;top:419px;width:6px;height:119px;transform:skewY(-28.11deg);background:linear-gradient(#f7f7f7,#f7f7f6 5px,#faeae0 12px,#e8f0f4 20px,#faeae1 29px,#e7eef2 33px,#c5dfec 36px,#bcdaea 38px,#e3eef3 41px,#f4efec 42px,#f6af8f 45px,#ee9878 47px,#eb9072 49px,#f3a482 52px,#f7b99b 53px,#f9e2d5 54px,#d3e6ef 55px,#9fcce2 56px,#83bbd9 57px,#64a8ce 59px,#5ba2cb 61px,#65a8ce 63px,#89bfdb 65px,#b0d4e6 66px,#f3ece8 67px,#f7b99b 68px,#ef9a79 69px,#e27b62 71px,#dd715a 73px,#e0775f 76px,#f19f7e 79px,#f7b99b 80px,#fae7dc 81px,#d6e7f1 82px,#a7d0e4 83px,#83bcd9 85px,#77b4d5 87px,#7cb7d6 89px,#90c4dd 91px,#bddbea 93px,#e8f0f4 94px,#fbe7db 95px,#f9c5aa 96px,#f4a684 98px,#ed9576 102px,#f5a987 106px,#f9e5db 111px,#f7e4da 118px)"></b><b style="left:361px;top:419px;width:6px;height:119px;transform:skewY(-24.35deg);background:linear-gradient(#f7f7f7,#f9efe9 8px,#f8f4f2 11px,#d4e7f1 18px,#eff1f2 23px,#fcd7c3 29px,#e2ecf1 37px,#f1f4f6 40px,#f7efea 41px,#f8bfa4 44px,#f3a787 47px,#f7b799 50px,#fbceb7 51px,#f8f1ed 52px,#a4cee3 54px,#8dc1dc 55px,#72b1d3 57px,#6cadd1 59px,#8ac0db 62px,#a3cee3 63px,#dceaf2 64px,#fcdecd 65px,#f6b090 66px,#ef9979 67px,#e47f65 69px,#e0765e 71px,#e37f65 74px,#f5ab89 77px,#facab2 78px,#f3f5f6 79px,#bbdaea 80px,#9bcae1 81px,#7db7d7 83px,#74b2d4 85px,#7bb6d6 87px,#94c6df 89px,#a9d0e4 90px,#d5e7f1 91px,#f8f1ec 92px,#facab1 93px,#f6b191 94px,#ee9777 96px,#e98b6e 99px,#ed9676 102px,#f5ab89 104px,#f7ba9c 105px,#f9ece5 107px,#eaf1f5 108px,#c0dceb 110px,#bbdae9 118px)"></b><b style="left:367px;top:417px;width:6px;height:121px;transform:skewY(-20.35deg);background:linear-gradient(#f6f7f7,#fbe6da 9px,#f6f4f2 13px,#bddbea 18px,#afd4e6 21px,#bbdaea 23px,#e1ecf3 25px,#f5f1ef 26px,#f9c6ac 28px,#f7b698 29px,#f1a283 32px,#f2a687 34px,#f6b79b 36px,#f9ece5 39px,#eff3f5 40px,#cae1ed 43px,#d7dee1 48px,#dce8ef 51px,#b7d8e8 54px,#a4cee3 57px,#b2d5e7 60px,#d6e4eb 62px,#efe8e5 63px,#fad9c7 64px,#f8bb9e 65px,#f5aa88 66px,#ec9274 68px,#e7876b 71px,#ec9374 74px,#f5ae8d 76px,#f9c6ac 77px,#faebe3 78px,#ddebf2 79px,#b0d4e7 80px,#9ac9e0 81px,#83bbd9 83px,#7db8d7 85px,#87beda 87px,#a4cee3 89px,#eff3f5 91px,#fcdfcd 92px,#f8bb9e 93px,#f5a987 94px,#e88a6d 98px,#eb9072 101px,#f3a381 103px,#f9c5aa 105px,#fbe6d9 106px,#eef3f5 107px,#b3d6e7 109px,#9ecbe1 111px,#9ccae1 120px)"></b><b style="left:373px;top:414px;width:6px;height:124px;transform:skewY(-16.13deg);background:linear-gradient(#eff3f6,#f8f5f3 3px,#fbd0b9 10px,#fbd4be 12px,#f8f3f0 15px,#9ccae1 19px,#7eb8d7 22px,#8dc1dc 25px,#a1cce2 26px,#cae1ed 27px,#f9ede5 28px,#f7b99c 29px,#f19e7d 30px,#e37f65 32px,#df745c 34px,#e37e64 37px,#f09c7c 39px,#f7b89b 40px,#f9ece3 41px,#c4deec 42px,#9bc9e0 43px,#85bdda 44px,#71b0d3 46px,#70afd2 48px,#91c3dd 52px,#b2d5e7 54px,#e9eff2 56px,#f2e8e2 57px,#f6d1bf 59px,#f5b194 63px,#f2a17f 68px,#f5ae8f 73px,#f8c3aa 75px,#f7e1d5 77px,#dceaf2 79px,#add3e6 81px,#95c6df 85px,#a7d0e4 88px,#eeefef 91px,#fbe2d5 92px,#f9c5ab 93px,#f6b293 94px,#f09d7c 96px,#eb9072 99px,#ef9a79 102px,#f5ad8d 104px,#f8bda0 105px,#f8f1ed 107px,#e1edf3 108px,#add2e6 110px,#9ccae1 112px,#a4cee3 123px)"></b><b style="left:379px;top:410px;width:6px;height:128px;transform:skewY(-11.73deg);background:linear-gradient(#e8f0f4,#f6f6f7 5px,#fac8af 11px,#f9c0a5 13px,#fbccb4 16px,#f8f2ee 18px,#dbeaf2 19px,#acd2e5 20px,#7ab6d6 22px,#5ca3cc 25px,#62a7ce 27px,#86beda 29px,#b3d6e8 30px,#fbe3d4 31px,#f3a380 32px,#e58368 33px,#d86551 35px,#d35b4b 37px,#d96753 40px,#e88a6d 42px,#f6b090 43px,#eff3f5 44px,#99c8e0 45px,#74b2d4 46px,#559fc9 48px,#4e9ac7 50px,#5ea4cc 53px,#7fb9d8 55px,#9bcae1 56px,#cfe4ef 57px,#f9e6db 58px,#f8bca0 59px,#f2a484 60px,#e98c6f 62px,#e68469 65px,#f3a482 70px,#f9d7c5 73px,#d8e4ea 76px,#b8d8e9 79px,#aad1e5 82px,#b3d6e8 85px,#dfe8ec 89px,#f9dbcc 92px,#f7b495 95px,#f2a07f 100px,#f7b799 105px,#eff2f4 109px,#b4d6e8 112px,#a8d0e4 114px,#b3d6e7 117px,#dbe9f0 120px,#dbe9f0 127px)"></b><b style="left:385px;top:407px;width:6px;height:131px;transform:skewY(-11.31deg);background:linear-gradient(#f3f4f5,#eaf1f5 4px,#f6f5f4 8px,#fbe4d6 11px,#f9c1a6 14px,#f6b191 17px,#f8bda0 19px,#fad4c1 20px,#eeebea 21px,#8dc1dc 23px,#70b0d2 24px,#549ec9 26px,#4e9ac7 28px,#5da4cc 30px,#72b1d3 31px,#9ccae1 32px,#f8ebe4 33px,#f2a07f 34px,#e37d63 35px,#d55e4c 37px,#d15648 40px,#d86551 42px,#ea8f71 44px,#f9c0a5 45px,#c2deec 46px,#83bbd9 47px,#65a9cf 48px,#4b98c6 50px,#4695c4 52px,#509bc8 54px,#6eaed2 56px,#8bc0db 57px,#bedbea 58px,#fae2d4 59px,#f5ac8c 60px,#ec9273 61px,#e0785f 63px,#dd7059 65px,#e17a61 68px,#f3a381 71px,#f8bca0 72px,#f9e3d8 73px,#dde9ef 74px,#a0cce2 76px,#8bc0db 78px,#87beda 80px,#a7d0e4 84px,#d9e9f1 86px,#f8e3d8 88px,#f7b99b 91px,#f4a684 96px,#f7b698 101px,#f8e4d8 106px,#eaf0f4 109px,#cae1ee 114px,#eceef0 119px,#fae7db 121px,#fbd9c6 122px,#fad5c1 123px,#fad5c1 130px)"></b><b style="left:391px;top:404px;width:6px;height:134px;transform:skewY(-11.31deg);background:linear-gradient(#fbe3d6,#fbe5d9 2px,#f3f5f6 6px,#cde3ee 10px,#d0e4ef 12px,#e4eaed 14px,#f9dccd 16px,#f6ae8e 18px,#ec9374 21px,#f1a386 23px,#f3c2ad 24px,#d8d4d2 25px,#acd0e2 26px,#80b9d8 27px,#68abd0 28px,#569fca 30px,#5ea4cc 32px,#6fafd2 33px,#8fc3dd 34px,#d8e8f0 35px,#f8bfa4 36px,#ec9374 37px,#e27b62 38px,#d96853 40px,#d96753 42px,#e17860 44px,#f5aa89 46px,#f9ece5 47px,#a8d0e4 48px,#7fb9d7 49px,#59a1cb 51px,#4e9ac7 53px,#549ec9 55px,#6eaed2 57px,#88bfdb 58px,#b8d8e9 59px,#f9e7dc 60px,#f5ad8d 61px,#eb9172 62px,#df755d 64px,#db6c56 66px,#df765e 69px,#f3a382 72px,#f9c5aa 73px,#f1eeeb 74px,#bddbea 75px,#99c9e0 76px,#7ab6d6 78px,#71b0d3 80px,#78b5d5 82px,#90c4dd 84px,#a4cee3 85px,#eff0f0 87px,#fadac8 88px,#f8bda1 89px,#f5ab8b 90px,#ec9274 94px,#f5aa88 99px,#f9c4aa 101px,#f8e8df 103px,#e2ebf0 105px,#c7e0ed 108px,#c5dfed 110px,#edf1f3 115px,#fae4d8 118px,#f7b99c 124px,#f7b698 133px)"></b><b style="left:397px;top:401px;width:6px;height:137px;transform:skewY(-11.31deg);background:linear-gradient(#fbceb6,#f8bb9e 3px,#f8bfa4 5px,#facab1 6px,#f8f1ee 8px,#dceaf2 9px,#b1d5e7 10px,#99c8e0 11px,#7db8d7 13px,#77b4d5 15px,#8abfdb 17px,#cedee5 19px,#f6d0bd 20px,#f09d7c 21px,#e48065 22px,#da6954 24px,#e27c63 27px,#ea9378 28px,#eab09d 29px,#c1ccd1 31px,#a7ccdf 32px,#8dc1dc 33px,#84bcd9 35px,#a5cee3 37px,#cee0ea 38px,#e6d7cf 39px,#f0a78c 42px,#ee9c7f 44px,#f3aa8c 46px,#f8bea2 47px,#fae0d1 48px,#e2edf3 49px,#abd2e5 50px,#91c4dd 51px,#75b2d4 53px,#6eaed2 55px,#89bfdb 58px,#a4cee3 59px,#d2e4ed 60px,#f9e0d3 61px,#f6b293 62px,#ef9979 63px,#e37e64 65px,#df755d 67px,#e37e64 70px,#ed9676 72px,#f5ab8b 73px,#fad0ba 74px,#ebeff1 75px,#b4d6e8 76px,#96c7df 77px,#77b4d5 79px,#6fafd2 81px,#77b4d5 83px,#91c4dd 85px,#a7d0e4 86px,#d2e5f0 87px,#f7ece5 88px,#fac7ae 89px,#f5ad8d 90px,#ec9374 92px,#e8886c 94px,#ea8d70 97px,#f5ab89 100px,#f8bb9f 101px,#f6eeea 103px,#e0ecf3 104px,#b1d5e7 106px,#a1cce2 109px,#b4d6e8 112px,#f3f3f2 115px,#fae9df 116px,#f8bb9e 119px,#f5ad8c 122px,#f8ba9d 129px,#f8ba9d 136px)"></b><b style="left:403px;top:398px;width:6px;height:140px;transform:skewY(-11.31deg);background:linear-gradient(#fdddca,#f9c5aa 1px,#f5ab8a 3px,#ee9878 6px,#f19f7f 8px,#f5ae8e 9px,#fad1bc 10px,#dfecf3 11px,#96c7df 12px,#6fafd2 13px,#4895c4 15px,#3e8bbf 17px,#428fc1 19px,#5fa5cd 21px,#95c4de 22px,#eccabb 23px,#e68569 24px,#d25849 26px,#cd4e44 28px,#d55e4d 31px,#e37f65 33px,#ee9b7f 34px,#f3c3ae 35px,#e1e0df 36px,#b1d5e7 37px,#86bdda 39px,#81bad8 41px,#dceaf2 50px,#ccdde5 55px,#d6dadd 58px,#f7d3c1 61px,#f5ad8c 63px,#f3a27f 64px,#ea8e70 68px,#f2a485 72px,#f6b496 73px,#f6e6de 75px,#deebf2 76px,#b4d6e8 77px,#9dcbe1 78px,#86bdda 80px,#7fb9d8 82px,#88bfdb 84px,#a4cee3 86px,#e8edf0 88px,#fae0d1 89px,#f8bda1 90px,#f5aa88 91px,#e8896d 95px,#ea8f71 98px,#f2a17f 100px,#f9c3a8 102px,#fbe3d6 103px,#edf2f4 104px,#afd4e6 106px,#99c9e0 108px,#96c7df 110px,#add3e6 113px,#e3eef3 115px,#f8f0ec 116px,#f9c2a7 118px,#f6b394 119px,#f19e7c 123px,#f5aa88 127px,#fbdece 132px,#fbdece 139px)"></b><b style="left:409px;top:395px;width:6px;height:143px;transform:skewY(-11.31deg);background:linear-gradient(#f2f5f6,#f9ede6 1px,#f5ad8d 4px,#e47f65 8px,#e37e64 10px,#f09e7e 12px,#f7d5c5 13px,#a5cee3 14px,#64a8ce 15px,#4393c3 16px,#2e78b5 20px,#327db8 22px,#4996c5 24px,#84bbd9 25px,#f1c6b4 26px,#e27b61 27px,#d55e4d 28px,#ca4741 30px,#c84440 32px,#d45c4b 35px,#e68569 37px,#f5b091 38px,#e6edf1 39px,#95c6df 40px,#72b1d3 41px,#57a0ca 43px,#529dc8 45px,#65a8cf 48px,#85bdd9 50px,#9dcbe1 51px,#f5f2f0 53px,#fad3bf 54px,#f7bb9e 55px,#f1a283 57px,#ee9878 63px,#f5ad8d 67px,#f7cdb9 70px,#d6e5ec 75px,#aed3e6 78px,#a2cde3 81px,#b1d4e7 84px,#dfe7eb 87px,#faddce 89px,#f7b597 91px,#f5aa88 92px,#ed9676 97px,#f6af8f 101px,#f8bda1 102px,#f9ede5 104px,#e8f0f4 105px,#b2d5e7 107px,#9bcae1 110px,#a7d0e4 113px,#ebf1f4 116px,#faebe2 117px,#f8bb9e 119px,#f6ae8e 120px,#f19f7d 122px,#ef9979 125px,#f6b091 129px,#f8bca0 130px,#f6f2f0 133px,#e5eef3 135px,#e5eef3 142px)"></b><b style="left:415px;top:392px;width:6px;height:146px;transform:skewY(-11.31deg);background:linear-gradient(#deebf2,#f5eeea 4px,#f5ac8c 7px,#e8896c 9px,#df755d 11px,#de735b 13px,#eb9274 15px,#f0c8b7 16px,#a8ccdf 17px,#5fa5cd 18px,#428fc1 19px,#2e77b4 23px,#3e8cbf 26px,#57a0ca 27px,#a5cee3 28px,#f4b296 29px,#e0765e 30px,#d55e4d 31px,#c94741 34px,#d15548 37px,#e0775f 39px,#f09c7b 40px,#f9ece5 41px,#98c8e0 42px,#6daed1 43px,#4b98c6 45px,#4392c3 47px,#519cc8 50px,#74b2d4 52px,#97c7df 53px,#dceaf2 54px,#faccb4 55px,#f3a382 56px,#ea8d70 57px,#e0785f 59px,#de735c 62px,#e7876b 65px,#f4a785 67px,#f8c0a4 68px,#f8e3d8 69px,#dfe8ec 70px,#abd1e5 72px,#94c5de 74px,#8fc3dd 76px,#a7d0e4 80px,#e2ebef 83px,#f5dfd4 85px,#f7b799 89px,#f4a785 94px,#f7b89a 99px,#f9e3d7 103px,#edf1f3 105px,#c2ddec 108px,#b6d7e8 110px,#c1ddeb 113px,#ddeaf2 115px,#f8ede6 117px,#fac9b0 119px,#f6b090 121px,#f2a07e 126px,#f7b697 130px,#f6f5f4 134px,#c8e0ed 137px,#c5dfec 145px)"></b><b style="left:421px;top:389px;width:6px;height:149px;transform:skewY(-11.31deg);background:linear-gradient(#f6f0ec,#e7eff4 2px,#bddbea 5px,#c9dee9 8px,#d8dddf 9px,#f2c0aa 11px,#e8896d 13px,#dc6f58 15px,#db6c56 17px,#e0765e 18px,#ea9378 19px,#d8b6ac 20px,#a8bdc9 21px,#70aed2 22px,#4c96c5 23px,#3a87bd 26px,#4291c2 28px,#539dc8 29px,#77b4d5 30px,#cbdee7 31px,#f4b59b 32px,#e68469 33px,#d6614f 35px,#d2594a 37px,#d7624f 39px,#e48065 41px,#f2a17f 42px,#fae9df 43px,#a2cde3 44px,#76b3d5 45px,#519cc8 47px,#4795c4 49px,#4d99c6 51px,#66a9cf 53px,#80bad8 54px,#acd2e5 55px,#f9ebe3 56px,#f5ac8b 57px,#ea8e70 58px,#de725b 60px,#da6954 63px,#e27c62 66px,#f2a07f 68px,#f9c1a5 69px,#f2efed 70px,#bbdaea 71px,#97c8df 72px,#78b4d5 74px,#6fafd2 76px,#76b3d4 78px,#8dc2dc 80px,#a0cce2 81px,#ebf0f2 83px,#fae0d2 84px,#f9c2a8 85px,#f6af8f 86px,#f09b7b 88px,#ed9475 91px,#f5a886 95px,#f8bea2 97px,#f9e0d2 99px,#dfeaef 102px,#c8e0ed 106px,#eaeff1 112px,#f8e5db 115px,#f8bb9e 120px,#f6ae8e 125px,#f8bfa3 130px,#f6f5f4 135px,#d5e7f1 139px,#d4e6f0 148px)"></b><b style="left:427px;top:386px;width:6px;height:152px;transform:skewY(-11.31deg);background:linear-gradient(#f9c3a8,#faceb7 2px,#f6efeb 4px,#deebf2 5px,#b1d5e7 6px,#83bcd9 8px,#6bacd1 11px,#7fb8d7 13px,#a3c9dd 14px,#cdcbcb 15px,#eeb6a0 16px,#e6856a 17px,#db6b56 18px,#d05548 21px,#d96855 23px,#e58b74 24px,#d8a89c 25px,#a1bfd0 27px,#6bacd0 29px,#64a8ce 30px,#71b0d3 32px,#86beda 33px,#b2d5e6 34px,#d7d2cf 35px,#e8c1b2 36px,#ec9c82 38px,#e88b6f 40px,#ec9476 42px,#f2a383 43px,#f8bda1 44px,#f9efea 45px,#96c6df 47px,#70b0d2 49px,#65a8cf 51px,#6cadd1 53px,#8dc1dc 55px,#b2d5e7 56px,#eeeeed 57px,#f8bfa4 58px,#f19f7d 59px,#e37d63 61px,#dd715a 63px,#e0775f 66px,#f2a180 69px,#f9c1a6 70px,#f4efec 71px,#bad9e9 72px,#96c7df 73px,#74b2d4 75px,#6aacd0 77px,#70afd2 79px,#87beda 81px,#9ccae1 82px,#f1f0f0 84px,#fbd0ba 85px,#f6b191 86px,#f19f7e 87px,#e98b6e 89px,#e7876b 92px,#f4a684 96px,#f7b597 97px,#f9ebe4 99px,#e6eef2 100px,#b4d6e8 102px,#9fcce2 105px,#aed3e6 108px,#ecf2f5 111px,#fbdfcf 113px,#f7b89a 116px,#f5ac8b 120px,#f8ba9d 125px,#fae7dc 131px,#f4f4f3 135px,#f7ece5 151px)"></b><b style="left:433px;top:383px;width:6px;height:155px;transform:skewY(-11.31deg);background:linear-gradient(#f6b394,#f4a786 3px,#f6b394 5px,#fac9b1 6px,#f4ede8 7px,#89bfdb 9px,#69abd0 10px,#4594c4 12px,#3e8cbf 14px,#519bc7 17px,#78b3d5 18px,#c8c8ca 19px,#eb967a 20px,#d96652 21px,#ce5045 22px,#c6403e 24px,#cf5247 27px,#df755e 29px,#e7baaa 31px,#d2d3d4 32px,#a3cde2 33px,#82bbd8 34px,#6fafd2 36px,#82bad8 39px,#d2d9dd 44px,#f4f5f6 47px,#d0dadf 51px,#cad6db 53px,#eddad1 57px,#f9d3c0 58px,#f5ab89 60px,#e98c6f 64px,#ec9476 67px,#f3aa8b 69px,#f9daca 71px,#eceeef 72px,#a2cde3 74px,#85bdda 76px,#7bb6d6 78px,#80bad8 80px,#97c7df 82px,#d4e6f0 84px,#f6ece6 85px,#facab2 86px,#f6af8f 87px,#f29f7e 88px,#e98c6f 90px,#e7876b 93px,#f4a785 97px,#f7b89b 98px,#f5f1ef 100px,#b3d6e8 102px,#a2cde3 103px,#92c5de 106px,#a3cee3 109px,#b3d6e8 110px,#f0f3f4 112px,#fbe6d9 113px,#f7b79a 115px,#f09c7b 119px,#f5ad8c 124px,#f9c1a6 126px,#f7efea 129px,#e6eff3 131px,#d9e9f1 134px,#f7f5f4 139px,#fbd4bf 143px,#f9c0a5 146px,#f8c0a4 154px)"></b><b style="left:439px;top:380px;width:6px;height:158px;transform:skewY(-11.31deg);background:linear-gradient(#facab1,#f4a582 3px,#ed9676 5px,#f2a281 8px,#f8bc9f 9px,#ece4e0 10px,#a1cde2 11px,#6daed1 12px,#4e9ac7 13px,#3e8dc0 14px,#327db8 17px,#3c89be 20px,#529bc8 21px,#a3c6d9 22px,#eca993 23px,#da6955 24px,#ce5146 25px,#c53e3d 27px,#c53e3d 29px,#cc4d44 31px,#dc6f58 33px,#ea9072 34px,#f5cebc 35px,#afd4e6 36px,#78b4d5 37px,#529cc8 39px,#4997c5 41px,#57a0ca 44px,#75b3d4 46px,#b0d4e6 48px,#ebf1f5 49px,#fbd7c3 50px,#f7b698 51px,#f2a586 52px,#ec9577 54px,#eb9173 57px,#f4a582 62px,#f6d0bd 66px,#c8e0ec 72px,#afd4e6 74px,#a2cde3 77px,#afd4e6 80px,#d7e4ea 83px,#f6e1d7 85px,#f6ae8e 88px,#f19e7c 90px,#ed9576 93px,#f2a180 96px,#f7b697 98px,#f2f2f2 101px,#b9d9e9 103px,#a9d1e4 104px,#99c8e0 107px,#aad1e5 110px,#f3f2f1 113px,#f9c5ab 115px,#f6b495 116px,#f2a17f 118px,#ee9777 121px,#f3a380 124px,#f7b496 126px,#f9c3a8 127px,#f9ede6 129px,#eff3f5 130px,#c0dceb 133px,#b9d9e9 135px,#cae1ee 137px,#f7f5f4 140px,#fac8af 143px,#f6b090 146px,#f5ab8a 157px)"></b><b style="left:445px;top:377px;width:6px;height:161px;transform:skewY(-11.31deg);background:linear-gradient(#f3f3f3,#f9e8de 2px,#f7b596 5px,#eb9072 8px,#eb9173 11px,#f1a384 12px,#f0cbba 13px,#bed1db 14px,#7bb6d6 15px,#529cc8 16px,#3f8dc0 17px,#317bb6 20px,#337eb8 22px,#4b98c5 24px,#8fc1dc 25px,#e8bcac 26px,#e27b61 27px,#d45d4d 28px,#c94641 30px,#c84340 32px,#ce5146 34px,#df745c 36px,#ef9a7a 37px,#f0e6e0 38px,#90c3dd 39px,#66a9cf 40px,#4494c3 42px,#408fc1 44px,#4d99c6 47px,#74b2d4 49px,#9bc9e0 50px,#edf2f5 51px,#f7b99b 52px,#ee9777 53px,#e0775f 55px,#dc6f58 59px,#e7866a 62px,#f5ac8b 64px,#fad0b9 65px,#edecec 66px,#a6cfe4 68px,#94c5de 69px,#83bbd9 72px,#9ac9e0 76px,#a8d0e4 77px,#dceaf1 79px,#eeeae8 80px,#f8d2bf 82px,#f6b193 85px,#f4a683 90px,#f6b394 94px,#f9d8c8 98px,#eceff0 101px,#bad9e9 106px,#c2ddeb 109px,#e6edf0 112px,#fae6da 114px,#f7b697 117px,#f2a07e 122px,#f5a988 125px,#f7ba9d 127px,#f9eee7 130px,#f0f4f6 131px,#c1ddeb 134px,#b9d9e9 136px,#c7e0ed 138px,#e7eff4 140px,#f6f4f2 141px,#fae7dc 142px,#f9c2a7 144px,#f5aa88 147px,#f5aa89 160px)"></b><b style="left:451px;top:374px;width:6px;height:164px;transform:skewY(-11.31deg);background:linear-gradient(#eef3f5,#c1ddeb 4px,#d4dfe4 7px,#efcfc0 9px,#f6baa0 10px,#f09e7f 11px,#e47f65 13px,#e27b62 15px,#e6866c 16px,#e9a38d 17px,#d0b4ae 18px,#7eb2d1 20px,#549cc8 21px,#428ec1 22px,#3a87bd 24px,#4392c3 26px,#59a1ca 27px,#85bcd9 28px,#d1cdcc 29px,#edac96 30px,#e48268 31px,#dc6d58 32px,#d45d4d 35px,#e17960 38px,#ec9475 39px,#fac8af 40px,#c2ddeb 41px,#83bcd9 42px,#66a9cf 43px,#4c99c6 45px,#4896c5 47px,#559ec9 49px,#7cb7d6 51px,#a6cfe4 52px,#f8f0ec 53px,#f5ae8d 54px,#ea8e70 55px,#dd705a 57px,#d96752 59px,#dd7059 62px,#f2a07e 65px,#f9c4aa 66px,#edf1f3 67px,#abd2e5 68px,#8dc2dc 69px,#6fafd2 71px,#67aacf 73px,#6fafd2 75px,#88bfdb 77px,#9dcbe1 78px,#f1f1f1 80px,#fad4bf 81px,#f7b597 82px,#f3a483 83px,#e98c6f 87px,#f4a885 92px,#f9c5ab 94px,#f4eae4 96px,#d5e6ef 98px,#bedbea 100px,#b7d8e9 103px,#eaf0f3 108px,#f9e0d3 111px,#f8bfa4 115px,#f6b192 119px,#f8bc9f 125px,#f4f5f6 132px,#dae9f1 137px,#f4f1ef 141px,#f9c2a7 145px,#f5aa88 149px,#f5a987 152px,#f7b99b 156px,#f7b99b 163px)"></b><b style="left:457px;top:371px;width:6px;height:167px;transform:skewY(-11.31deg);background:linear-gradient(#fbd4bf,#f6f2ef 2px,#dfecf3 3px,#b6d7e8 4px,#89bfdb 6px,#6daed1 9px,#7ab5d6 11px,#c0d0d9 13px,#e9c5b6 14px,#ec9577 15px,#df745c 16px,#cf5246 19px,#d35b4d 21px,#db6e5b 22px,#dc8f7e 23px,#b4b8be 25px,#95bcd2 26px,#71b0d3 27px,#5ea4cc 29px,#6fafd2 31px,#abc9d9 33px,#d5beb7 35px,#f0a68b 39px,#f6b495 41px,#facbb3 42px,#f4eeeb 43px,#a7cfe3 45px,#90c2dd 46px,#79b5d5 49px,#97c6df 52px,#b5d7e8 53px,#e6ebee 54px,#fbd0ba 55px,#f5aa88 56px,#ed9475 57px,#e27c63 59px,#e0765e 62px,#e58267 64px,#f2a282 66px,#f9c1a6 67px,#f5efec 68px,#bcdaea 69px,#97c8df 70px,#74b2d4 72px,#69abd0 74px,#6eaed2 76px,#85bdd9 78px,#bddbea 80px,#f1f1f1 81px,#fbcfb7 82px,#f6ae8e 83px,#f09c7b 84px,#e7886b 86px,#e58368 89px,#f3a481 93px,#f7b496 94px,#f7efeb 96px,#dbeaf2 97px,#a5cfe4 99px,#94c6df 102px,#a4cee3 105px,#b3d6e8 106px,#ebf1f5 108px,#f9ece5 109px,#fbd6c3 110px,#f7b697 112px,#f3a482 116px,#f6af8e 120px,#f8bda0 122px,#f9e8de 126px,#ecf1f4 131px,#f6f1ee 137px,#f9c2a7 145px,#f7b596 149px,#f7ba9d 154px,#fbdac8 159px,#fbdac8 166px)"></b><b style="left:463px;top:368px;width:6px;height:170px;transform:skewY(-11.31deg);background:linear-gradient(#f6b393,#f8bea2 3px,#f4ede9 5px,#96c7df 7px,#5fa5cc 9px,#4593c3 11px,#418fc1 13px,#4f99c7 15px,#6bacd1 16px,#b4c9d5 17px,#ecad97 18px,#dc6e58 19px,#c7413f 21px,#c13639 23px,#c7423f 25px,#d5604f 27px,#e17b63 28px,#eba893 29px,#d4cac6 30px,#9cc9e0 31px,#70afd2 32px,#5da3cc 33px,#519cc8 35px,#6fafd2 39px,#99c7df 41px,#eeecea 44px,#fbe4d7 45px,#fad2be 46px,#f8cab5 47px,#eec2b0 51px,#f4c3ad 54px,#f5aa89 58px,#f1a283 61px,#f5b99f 65px,#f0e2da 68px,#e1eaef 69px,#a7d0e4 71px,#87beda 75px,#8cc1dc 77px,#a4cee3 79px,#dbe8ee 81px,#f6e9e1 82px,#f6b192 84px,#f3a380 85px,#e8896c 89px,#ec9274 92px,#f4a886 94px,#f7b89b 95px,#f6f1ef 97px,#d9e9f1 98px,#b3d6e8 99px,#a1cde2 100px,#8fc3dd 103px,#95c7df 105px,#add3e6 107px,#ebf1f5 109px,#fae8de 110px,#facbb3 111px,#f7b698 112px,#f2a17f 114px,#ee9677 117px,#f2a17f 120px,#f6b293 122px,#f3f2f2 126px,#cae2ee 129px,#c3deec 131px,#f5f6f6 136px,#f8bfa4 141px,#f6b192 146px,#f8bfa3 151px,#f9f0ea 160px,#f8f2ee 169px)"></b><b style="left:469px;top:365px;width:6px;height:173px;transform:skewY(-11.31deg);background:linear-gradient(#f9c3a8,#f5ab89 3px,#f4a886 5px,#f8bfa4 7px,#f5ded2 8px,#c9dee9 9px,#8fc2dd 10px,#4f9ac7 12px,#408fc1 13px,#3682ba 16px,#4894c4 19px,#78b3d4 20px,#cebbb6 21px,#e38068 22px,#d1574a 23px,#c2373a 26px,#c8433f 29px,#d7624f 31px,#e48066 32px,#f3bfa8 33px,#b5d6e7 34px,#70afd2 35px,#4594c4 37px,#3f8ec0 39px,#4795c4 42px,#66a9cf 44px,#82bbd8 45px,#b1d5e7 46px,#f9ece5 47px,#f6b292 48px,#ee9777 49px,#e37d64 51px,#e0765e 53px,#e37f65 56px,#f19d7c 59px,#f9c5aa 61px,#f7e1d5 62px,#cddfe8 64px,#a5cee3 67px,#9bc9e0 70px,#add3e6 74px,#d7e4ea 77px,#f6d4c3 81px,#f5ab8a 85px,#f1a07f 89px,#f3a888 92px,#f7b99c 94px,#eff1f2 98px,#b1d5e7 101px,#a2cde3 104px,#b4d6e8 107px,#ddebf2 109px,#f2f0ef 110px,#fbe4d6 111px,#facab1 112px,#f5ac8b 114px,#ef9878 118px,#f2a17f 121px,#f6b292 123px,#f1f4f6 127px,#bad9e9 130px,#b2d5e7 132px,#bbdaea 134px,#f0f4f6 137px,#fcdecc 139px,#f8bb9e 141px,#f5ac8b 143px,#f4a583 146px,#f7ba9d 151px,#faeae2 155px,#f2f2f3 157px,#e8f0f4 160px,#f7f6f5 164px,#f8f3f1 172px)"></b><b style="left:475px;top:361px;width:6px;height:177px;transform:skewY(-11.31deg);background:linear-gradient(#eef2f4,#f2e9e5 3px,#f7b798 7px,#f2a27f 9px,#f1a080 11px,#f3ae92 12px,#edc4b4 13px,#a4c3d5 15px,#539cc8 17px,#3a87bd 19px,#3682ba 21px,#3e8cbf 23px,#539dc9 24px,#9ec2d6 25px,#dcb4a8 26px,#e4826a 27px,#d76351 28px,#ca4942 31px,#ce5046 33px,#db6c56 35px,#e8896d 36px,#f8c9b3 37px,#b1d4e6 38px,#72b1d3 39px,#4896c4 41px,#408ec1 43px,#4997c5 46px,#70afd2 48px,#99c8e0 49px,#f1f2f3 50px,#f6b090 51px,#ea8d70 52px,#dc6e58 54px,#d86551 56px,#dc6d57 59px,#ef9979 62px,#f7b799 63px,#f8f0eb 64px,#bbdaea 65px,#95c6df 66px,#73b2d3 68px,#6aacd0 70px,#85bdd9 74px,#afd4e6 76px,#ddebf2 77px,#f8e9e0 78px,#f9cbb4 79px,#f3a787 81px,#ed9475 85px,#f5ac8b 90px,#fad5c2 93px,#efe6e1 95px,#d4e5ee 98px,#c2ddec 102px,#e8ebec 108px,#f9dfd1 111px,#f7b798 115px,#f5a988 119px,#f7b89a 124px,#f6f5f5 129px,#d1e5f0 132px,#c5dfed 134px,#cee3ef 136px,#f3f3f2 139px,#f8bb9e 143px,#f4a482 148px,#f7b99b 153px,#fbe5d8 156px,#f2f4f6 158px,#d8e8f1 162px,#f3f5f6 166px,#f8f1ec 167px,#fbe4d6 169px,#fbe4d6 176px)"></b><b style="left:481px;top:358px;width:6px;height:180px;transform:skewY(-11.31deg);background:linear-gradient(#eef3f5,#b5d7e8 3px,#a2cde3 5px,#a5cee3 7px,#c8dbe5 9px,#e0d8d5 10px,#f5c9b4 11px,#f2a484 12px,#e98b6e 13px,#de735c 15px,#e0775f 17px,#da9f92 19px,#7db0ce 22px,#569dc9 23px,#4491c2 25px,#519cc8 27px,#68aad0 28px,#97c2d9 29px,#c0c0c4 30px,#d6b2a8 31px,#e3a18f 32px,#e38067 34px,#e27b62 36px,#eb9072 38px,#f5ab89 39px,#f7ddcf 40px,#c5dde9 41px,#94c4de 42px,#78b4d5 43px,#5ca3cc 46px,#64a8ce 48px,#87beda 50px,#add3e6 51px,#f8f4f1 52px,#f7b597 53px,#ee9677 54px,#e0775f 56px,#db6c56 58px,#df755d 61px,#ea8f71 63px,#f4a887 64px,#fbd7c3 65px,#d8e8f1 66px,#9dcbe1 67px,#82bbd8 68px,#67aacf 70px,#61a6cd 72px,#6bacd1 74px,#88bfdb 76px,#a1cde2 77px,#d4e6f0 78px,#fae7dc 79px,#f8ba9d 80px,#f3a382 81px,#e88a6d 83px,#e48166 85px,#e8886c 88px,#f5aa89 91px,#f8bea2 92px,#fbdfcf 93px,#eff0f0 94px,#b6d7e8 96px,#a5cfe4 97px,#99c8e0 100px,#add2e6 103px,#f0f2f4 106px,#f8bb9f 110px,#f5aa89 114px,#f7b697 119px,#f7e9e1 126px,#f0f3f5 130px,#f6ece6 138px,#f8bc9f 144px,#f6ae8e 148px,#f6b191 151px,#f9c1a6 154px,#f6f7f7 159px,#dfebf3 163px,#f4f4f4 167px,#facab2 171px,#fac8ae 179px)"></b><b style="left:487px;top:355px;width:6px;height:183px;transform:skewY(-11.31deg);background:linear-gradient(#fbd2bc,#f7f0ec 2px,#e1edf3 3px,#b7d8e8 4px,#85bdd9 6px,#67aacf 8px,#5da3cc 10px,#6cadd1 12px,#8abedb 13px,#c2d1d8 14px,#efbaa5 15px,#e48166 16px,#d7634f 17px,#c94641 19px,#c6403e 21px,#cf5247 23px,#da6a57 24px,#de9180 25px,#ceb0aa 26px,#adc0cc 27px,#79b5d5 28px,#5da3cc 29px,#4e9ac7 31px,#63a7ce 34px,#8fbed8 36px,#e7d3c9 40px,#faccb4 42px,#d3ccc9 48px,#d4cfce 50px,#e6d7d0 52px,#f6dacb 53px,#f4a987 56px,#eb9375 60px,#f0a284 63px,#f8c6ad 65px,#f6e0d3 66px,#e3edf2 67px,#b4d6e8 68px,#9bcae1 69px,#80bad8 71px,#77b4d5 73px,#7eb8d7 75px,#97c7df 77px,#d9e8f0 79px,#fae9df 80px,#f8c0a4 81px,#f5a987 82px,#ea8e71 84px,#e58368 87px,#eb8f71 90px,#f5a988 92px,#f8bda1 93px,#fbe2d3 94px,#ecf2f5 95px,#a7d0e4 97px,#90c4dd 99px,#8ac0db 101px,#94c6df 103px,#b0d4e7 105px,#f3f4f4 107px,#f9c2a8 109px,#f6b192 110px,#ee9777 114px,#f5ac8b 119px,#f9c5aa 121px,#f9ece4 123px,#e4eef3 125px,#cee3ef 127px,#cae1ee 129px,#f6f5f4 134px,#f9c6ac 139px,#f7b697 143px,#f9c1a5 150px,#f7f6f5 161px,#f9ede6 167px,#f8bb9f 174px,#f8bb9e 182px)"></b><b style="left:493px;top:352px;width:6px;height:186px;transform:skewY(-11.31deg);background:linear-gradient(#f8bea1,#f9c2a7 3px,#f8e7dd 5px,#dfeaef 6px,#aed3e6 7px,#6daed2 9px,#4b98c6 11px,#408ec1 13px,#529cc8 16px,#78b3d5 17px,#c4c3c4 18px,#e99982 19px,#d66250 20px,#ca4842 21px,#bd2f36 24px,#c33a3b 26px,#d2584a 28px,#df765e 29px,#ecae99 30px,#c0ced6 31px,#74b2d4 32px,#539dc8 33px,#4393c3 34px,#3e8cbf 36px,#4694c3 39px,#62a6ce 41px,#7cb7d7 42px,#a8d0e4 43px,#e9e9e8 44px,#f8bda1 45px,#f19f7e 46px,#ea8e70 47px,#e37f65 49px,#e48066 52px,#f5ab89 57px,#fad1bc 59px,#f3ded4 60px,#e3dedb 61px,#bad6e5 65px,#a3cee3 69px,#a8d0e4 72px,#c4ddea 75px,#e4dedb 78px,#f7d5c3 80px,#f5ab8a 83px,#ef9979 88px,#f6b091 92px,#f8bfa3 93px,#f9eae1 95px,#ebf1f4 96px,#b4d6e8 98px,#a6cfe4 99px,#98c8e0 102px,#abd2e5 105px,#f3f1f0 108px,#f9c3a9 110px,#f6b393 111px,#ed9676 115px,#f5a987 120px,#f9c3a8 122px,#fcddcb 123px,#f8f0eb 124px,#e9f0f4 125px,#bfdceb 127px,#afd4e6 130px,#bbdaea 132px,#f4f5f6 135px,#f7b99c 139px,#f4a684 143px,#f7b496 148px,#f7f0eb 154px,#edf1f4 157px,#f8f4f2 162px,#fbcfb8 168px,#f8bea2 172px,#f8bea2 185px)"></b><b style="left:499px;top:349px;width:6px;height:189px;transform:skewY(-11.31deg);background:linear-gradient(#f8e9df,#f9c3a8 4px,#f7b799 6px,#f7b99c 7px,#f4d5c6 9px,#b7d2df 11px,#69abd0 13px,#529cc8 14px,#3b89be 17px,#4c98c6 20px,#7ab4d5 21px,#bbb7b9 22px,#de9786 23px,#d86755 24px,#ce5046 25px,#c53e3d 28px,#d25849 31px,#dc6d57 32px,#ec9577 33px,#dfd2cc 34px,#8cc0db 35px,#5ea4cc 36px,#4996c5 37px,#3d8abf 40px,#4090c1 42px,#5aa1cb 44px,#76b3d4 45px,#abd2e5 46px,#faded0 47px,#f2a07f 48px,#e58368 49px,#da6a54 51px,#d7634f 53px,#dd6f59 56px,#f3a280 59px,#f9c6ac 60px,#ebf1f4 61px,#acd2e5 62px,#8ec2dc 63px,#71b0d3 65px,#6aacd0 67px,#88bfdb 71px,#b4d6e8 73px,#e1edf3 74px,#f7e6dd 75px,#f9ccb6 76px,#f7b89b 77px,#f1a182 79px,#f09b7a 84px,#f5ab8a 87px,#f9cfba 90px,#e3e7e9 94px,#bedbea 99px,#dde8ee 105px,#f7e4da 108px,#f7b597 112px,#f3a583 117px,#f5ae8d 120px,#f8bea2 122px,#f1f4f6 126px,#c4deec 129px,#bbdaea 131px,#c6dfed 133px,#f2f3f3 136px,#f7b99b 140px,#f3a381 144px,#f6b191 149px,#f9c5ab 151px,#f8f3f0 154px,#eff3f5 155px,#d7e8f1 159px,#f4f6f6 163px,#f9c1a6 168px,#f6b191 172px,#f7b698 176px,#fbd4be 181px,#fbd4be 188px)"></b><b style="left:505px;top:346px;width:6px;height:192px;transform:skewY(-11.31deg);background:linear-gradient(#d0e4ef,#bfdbea 3px,#dbe3e7 6px,#f8d3c0 8px,#f7b597 9px,#f2a280 10px,#e98d70 12px,#ea9880 14px,#d0aea7 16px,#98b7ca 18px,#70aed1 19px,#509ac7 20px,#3e8cc0 22px,#4795c4 24px,#63a7ce 25px,#9abbce 26px,#d7a398 28px,#e07a64 30px,#da6b56 32px,#df755d 34px,#f2a180 36px,#f2d3c5 37px,#bed7e4 38px,#8bbfdb 39px,#5ea4cc 41px,#529cc8 43px,#5aa2cb 45px,#7db8d7 47px,#a3cee3 48px,#f5f4f3 49px,#f6b394 50px,#ec9274 51px,#de735b 53px,#da6853 56px,#de725b 58px,#ea8d70 60px,#f5a886 61px,#fcddcb 62px,#cde3ef 63px,#96c7df 64px,#7bb6d6 65px,#62a7ce 67px,#5da4cc 69px,#67aacf 71px,#86bdda 73px,#a0cce2 74px,#d6e7f1 75px,#fbe4d7 76px,#f7b799 77px,#f2a17f 78px,#e7886b 80px,#e48065 82px,#e7886c 85px,#f5ab89 88px,#f8bfa3 89px,#fbe0d1 90px,#edeff0 91px,#b5d7e8 93px,#a6cfe4 94px,#99c8e0 97px,#acd2e5 100px,#edf2f4 103px,#f8bfa4 107px,#f6b191 109px,#f5ab8a 112px,#f7b99c 117px,#f8e6dd 123px,#eef3f5 127px,#e7eff4 131px,#f3eeea 135px,#f8bc9f 141px,#f5ac8b 146px,#f8bfa4 151px,#f4f5f6 156px,#dbeaf2 160px,#f3f4f5 164px,#f8bea2 169px,#f5ac8b 174px,#f8bfa3 179px,#faebe3 183px,#f9ede7 191px)"></b><b style="left:511px;top:343px;width:6px;height:195px;transform:skewY(-11.31deg);background:linear-gradient(#e9f0f4,#9dcbe1 3px,#82bbd8 5px,#77b4d5 7px,#84bbd9 9px,#9fcae1 10px,#ccd9df 11px,#f2c6b2 12px,#ec9375 13px,#de735c 14px,#d05447 16px,#cc4b43 18px,#d35a4d 20px,#dd7361 21px,#d8988b 22px,#93b7cc 24px,#62a6cd 25px,#4c98c6 26px,#4392c3 28px,#519bc7 30px,#7cb5d5 32px,#dac3bb 36px,#f7bda2 38px,#f7b596 39px,#e8c8b9 42px,#c7cacd 46px,#ccd2d5 48px,#ebe0da 50px,#fadac9 51px,#f8bea2 52px,#f5ae8d 53px,#ee987a 55px,#ea9073 58px,#f3a98b 61px,#f7bda3 62px,#f7d9ca 63px,#e8eff3 64px,#b4d6e8 65px,#99c9e0 66px,#7cb7d6 68px,#72b1d3 70px,#78b5d5 72px,#90c3dd 74px,#a8d0e4 75px,#d1e5ef 76px,#f9ece5 77px,#f9c1a6 78px,#f5a987 79px,#e98c6f 81px,#e48066 84px,#e98d6f 87px,#f4a785 89px,#f8bb9e 90px,#fbe1d1 91px,#ebf1f5 92px,#bfdceb 93px,#a4cee3 94px,#8dc2dc 96px,#87beda 98px,#91c4de 100px,#acd2e5 102px,#f0f4f5 104px,#f9c3a9 106px,#f6b292 107px,#f19e7d 109px,#ed9676 112px,#f5ab89 116px,#f9c3a9 118px,#faebe3 120px,#e4edf3 122px,#cde3ee 124px,#c8e0ed 126px,#f5f5f6 131px,#f9c1a6 137px,#f7b596 142px,#f8bfa3 147px,#f8f4f3 157px,#f3f2f2 161px,#faeae0 165px,#f9c0a5 170px,#f6b293 175px,#f9c3a9 180px,#f5f6f7 186px,#f4f5f6 194px)"></b><b style="left:517px;top:340px;width:6px;height:198px;transform:skewY(-11.31deg);background:linear-gradient(#fcd5c0,#f8ede6 2px,#e9eff2 3px,#88bfdb 6px,#63a7ce 8px,#519cc8 10px,#529dc8 12px,#5fa5cd 13px,#7fb8d7 14px,#c1cacf 15px,#eaac97 16px,#de725b 17px,#d05448 18px,#c13639 20px,#be2f36 22px,#c53e3d 24px,#dc6e59 26px,#e3a491 27px,#bcc3c8 28px,#73b1d3 29px,#4e9ac7 30px,#3b88bd 33px,#4290c2 36px,#5da4cc 38px,#79b5d5 39px,#aad0e4 40px,#e5dfdc 41px,#f7b99c 42px,#ef9979 43px,#e7886c 44px,#e27b61 48px,#e98b6f 51px,#f5ae8e 54px,#fad9c7 56px,#f0e3dc 57px,#c6d7df 60px,#a2cde3 66px,#a6cfe4 69px,#c2dce9 72px,#f6d6c6 77px,#f5ac8b 80px,#ee9878 85px,#f5ae8f 89px,#facfba 91px,#f9e7dd 92px,#ecf1f4 93px,#b3d6e7 95px,#a4cee3 96px,#95c6df 99px,#a6cfe4 102px,#eff1f2 105px,#fbe4d7 106px,#fac6ac 107px,#f6b495 108px,#f19f7d 110px,#ec9475 113px,#f19e7d 116px,#f6b191 118px,#f8c0a4 119px,#f9efe9 121px,#e9f1f5 122px,#bcdaea 124px,#abd2e5 127px,#b6d7e8 129px,#eff3f6 132px,#fcddcb 134px,#f8ba9d 136px,#f5ac8b 138px,#f4a583 141px,#f6b394 145px,#f9c4a9 147px,#fae9e0 150px,#eef1f3 153px,#f7f5f4 159px,#facab1 166px,#f8bb9e 172px,#f9c4a9 177px,#f8f2ef 187px,#f7f3f1 197px)"></b><b style="left:523px;top:337px;width:6px;height:201px;transform:skewY(-11.31deg);background:linear-gradient(#fbe2d4,#fbcfb8 3px,#fbcfb7 4px,#f7ddd0 6px,#e8e0dc 7px,#afd2e3 9px,#5ba2cb 12px,#4292c2 15px,#4f9ac7 17px,#6bacd1 18px,#a9bcc7 19px,#d0a69d 20px,#e1826f 21px,#d2594c 22px,#c43c3c 24px,#c7413e 27px,#d55e4d 29px,#e37d63 30px,#eab9a6 31px,#afcddc 32px,#6aabd0 33px,#4d99c6 34px,#418fc1 35px,#3b88bd 37px,#4291c2 40px,#67aacf 42px,#93c4de 43px,#e8e5e4 44px,#f4ab8b 45px,#e7876b 46px,#df745c 47px,#d7634f 49px,#d86450 52px,#df755d 54px,#ef9a7a 56px,#f8bc9f 57px,#f5f6f6 58px,#aed3e6 59px,#8dc2dc 60px,#6daed1 62px,#65a8cf 64px,#80bad8 68px,#aad1e5 70px,#d8e8f1 71px,#f6eae3 72px,#f9cdb7 73px,#f7b799 74px,#f09e7f 76px,#ee9777 81px,#f5a988 84px,#f9d0bb 87px,#dde5e8 91px,#b9d9e9 96px,#d3e5ee 101px,#efe7e2 104px,#fadac9 106px,#f7b697 109px,#f3a583 114px,#f8bda1 119px,#f3f5f6 123px,#c4deec 126px,#b9d9e9 128px,#c2ddeb 130px,#eef2f4 133px,#f9efe9 134px,#f8bb9e 137px,#f5ab89 139px,#f3a27f 142px,#f7b799 147px,#f8f1ed 151px,#f0f4f6 152px,#d4e6f1 156px,#f0f4f6 160px,#f8f3ef 161px,#f9c2a7 165px,#f6b090 169px,#f7b99c 174px,#f9ede6 181px,#f6f3f1 184px,#f8f3f1 187px,#fbdfcf 193px,#fbdfcf 200px)"></b><b style="left:529px;top:336px;width:7px;height:202px;transform:skewY(-11.31deg);background:linear-gradient(#edf2f5,#f6f7f7 1px,#f9c1a6 5px,#f7b596 7px,#f9c2a7 9px,#fbe3d5 10px,#ddebf2 11px,#9ccae1 12px,#77b4d5 13px,#4c99c6 15px,#408fc1 17px,#4695c4 19px,#59a1cb 20px,#86beda 21px,#fce0cf 22px,#e68469 23px,#d96651 24px,#cd4f45 26px,#ce5045 28px,#d86450 30px,#e17a61 31px,#f3a481 32px,#e7eff4 33px,#85bcd9 34px,#60a5cd 35px,#4292c3 37px,#408fc1 39px,#4a97c5 41px,#72b1d3 43px,#9fcbe2 44px,#f9ece4 45px,#f4a582 46px,#de725b 48px,#d6604d 51px,#db6c56 54px,#e88b6e 56px,#f5a987 57px,#fbe4d6 58px,#b9d9e9 59px,#8dc2dc 60px,#64a8ce 62px,#59a1ca 64px,#64a8ce 67px,#84bcd9 69px,#9fcce2 70px,#d6e7f1 71px,#fbe4d7 72px,#f7b698 73px,#f2a17f 74px,#e8896c 76px,#e48166 78px,#e8896d 81px,#f5aa89 84px,#f8bc9f 85px,#f8f3f1 87px,#e0ecf3 88px,#b0d4e7 90px,#a0cce2 93px,#bad9e9 97px,#f3f5f6 100px,#f9c4aa 104px,#f6ae8e 110px,#f8bda0 116px,#facbb3 118px,#f8f4f2 122px,#f1f4f6 123px,#d7e8f1 128px,#f2f5f6 132px,#fbe6db 134px,#f8bca0 137px,#f4a684 142px,#f7b99c 147px,#f8f1ed 151px,#f0f4f6 152px,#d3e6f0 156px,#f8f3f0 161px,#f8bea2 165px,#f5ac8b 169px,#f6ae8e 172px,#f8bea2 175px,#f7f7f7 181px,#ecf2f5 184px,#f6f7f7 187px,#faccb3 193px,#facab1 201px)"></b></div><i style="left:0px;width:1px;transform:skewY(-14.72deg);background:linear-gradient(#f7f7f7,#f7f7f7 232px,#f4f5f6 234px,#ecf2f5 238px,#f7f6f6 241px,#fbe4d7 243px,#f8bda1 245px,#f5a886 247px,#f6b191 250px,#f9c0a5 251px,#fbe4d6 252px,#e3edf3 253px,#aad1e5 254px,#77b4d5 256px,#63a7ce 258px,#5fa5cd 260px,#7cb7d7 263px,#99c8e0 264px,#d9e9f2 265px,#fac8af 266px,#f19d7c 267px,#e58468 268px,#da6a54 270px,#d6604d 272px,#d86450 274px,#e17960 276px,#ea8f71 277px,#f7b89a 278px,#d7e8f1 279px,#85bdda 280px,#61a6cd 281px,#4191c2 283px,#3b89be 286px,#4795c4 289px,#5ba2cb 290px,#83bbd9 291px,#f0f3f6 292px,#f09c7b 293px,#df745c 294px,#d55f4c 295px,#c7433f 298px,#ca4842 301px,#d7624f 303px,#e37d64 304px,#f8bc9f 305px,#96c7df 306px,#59a1ca 307px,#408fc1 308px,#2f78b5 312px,#3682ba 315px,#4f9bc7 317px,#84bcd9 318px,#fac8af 319px,#e27b62 320px,#d45d4b 321px,#cb4a43 322px,#c2383a 324px,#c3393b 327px,#cd4d44 329px,#d6614e 330px,#e68469 331px,#f7f6f5 332px,#69abd0 333px,#4191c2 334px,#3884bb 335px,#307ab6 339px,#4997c5 342px,#81bad8 343px,#f7ba9d 344px,#de725b 345px,#d05448 346px,#c33a3b 348px,#c13639 350px,#d05447 353px,#dd705afc 354px,#f7b597f7 355px,#84bcd9f0 356px,#4a98c5e7 357px,#3a88bddd 358px,#2f78b5b6 361px,#4190c178 365px,#67aacf68 366px,#f0f4f658 367px,#e5836849 368px,#d45d4c3b 369px,#c135390f 373px,#0000 376px,#0000 545px)"></i><i style="left:1px;width:6px;transform:skewY(-14.69deg);background:linear-gradient(#f7f7f7,#f7f7f7 231px,#ebf1f5 237px,#f3f5f6 240px,#fae8dd 242px,#f6af8f 245px,#f4a582 247px,#f5aa89 249px,#f7b597 250px,#fbcfb7 251px,#f5f1ef 252px,#97c8df 254px,#7eb8d7 255px,#63a8ce 257px,#5da3cc 259px,#66a9cf 261px,#8cc1dc 263px,#bad9e9 264px,#fbe2d3 265px,#f4a684 266px,#e0765e 268px,#d76350 270px,#da6954 274px,#e8896d 276px,#f6af8f 277px,#e5eef4 278px,#8ac0db 279px,#63a7ce 280px,#4190c2 282px,#3b88bd 285px,#4594c4 288px,#5ba2cb 289px,#83bcd9 290px,#f3f3f3 291px,#ee9878 292px,#de715a 293px,#d45c4b 294px,#c94641 296px,#c7423f 299px,#d86551 302px,#e68569 303px,#f9dccc 304px,#82bbd9 305px,#4f9bc7 306px,#3d8bbf 307px,#2f79b6 310px,#337db8 313px,#408fc1 315px,#5da4cc 316px,#b5d7e7 317px,#f0a081 318px,#db6c56 319px,#d05347 320px,#c33b3b 322px,#c03438 324px,#c43c3c 326px,#d15648 328px,#dd715a 329px,#f3b196 330px,#a5cde2 331px,#559ec9 332px,#3d8bbf 333px,#3580ba 334px,#2f78b5 337px,#3d8cbf 340px,#58a1ca 341px,#b8d7e7 342px,#ed9678 343px,#d86451 344px,#cc4c44 345px,#c03438 348px,#ca4842 351px,#d45c4b 352px,#e58368 353px,#dddad8 354px,#67aacffd 355px,#4190c1f9 356px,#3783bbf4 357px,#307ab6cd 361px,#4b98c6a3 364px,#89bedb94 365px,#f5b89e84 366px,#dc6f5874 367px,#c7423f55 369px,#c8444017 374px,#0000 379px,#0000 545px)"></i><i style="left:7px;width:6px;transform:skewY(-14.64deg);background:linear-gradient(#f7f7f7,#f7f7f7 229px,#e6eff4 237px,#f2f4f6 239px,#f8f2ee 240px,#fbe5d8 241px,#f7b698 243px,#f5a988 244px,#f19f7d 246px,#f6af8f 249px,#f9c6ac 250px,#f7f0eb 251px,#94c6df 253px,#7ab6d6 254px,#5ea4cc 256px,#57a0ca 258px,#62a6cd 260px,#8cc1dc 262px,#c6dfed 263px,#fbceb7 264px,#ef9b7a 265px,#e47f65 266px,#d86450 268px,#d35b4b 270px,#d6604d 272px,#e0775f 274px,#ec9274 275px,#fbceb6 276px,#a8d0e4 277px,#6fafd2 278px,#529cc8 279px,#4291c2 280px,#3985bc 283px,#408fc1 286px,#4e9ac7 287px,#6fafd2 288px,#c3deec 289px,#f3a482 290px,#df745d 291px,#cc4d44 293px,#c43c3c 296px,#c84440 298px,#d6604d 300px,#e47f65 301px,#fad9c8 302px,#7db7d7 303px,#4a97c5 304px,#3b88bd 305px,#2d76b4 308px,#317cb7 311px,#4090c1 313px,#65a9cf 314px,#dce2e4 315px,#e7876b 316px,#d55f4d 317px,#cb4942 318px,#be3137 321px,#c03438 323px,#ca4842 325px,#d55d4c 326px,#e68569 327px,#dbd7d5 328px,#6aacd0 329px,#4391c2 330px,#317cb7 332px,#2d75b4 334px,#307ab6 336px,#3f8ec0 338px,#66a9cf 339px,#e3d9d3 340px,#e27d63 341px,#d25749 342px,#c2383a 344px,#be3037 346px,#c43b3c 348px,#d7614f 350px,#ed9577 351px,#acd2e5 352px,#529cc8 353px,#3b89be 354px,#2d76b4 357px,#3b89beed 361px,#539dc8e5 362px,#b1d4e6da 363px,#ec9375ce 364px,#d6614ec1 365px,#ca4842b3 366px,#bf333895 368px,#d2584948 373px,#d8dcde2d 375px,#5fa5cd22 376px,#2c74b302 381px,#0000 545px)"></i><i style="left:13px;width:6px;transform:skewY(-14.58deg);background:linear-gradient(#f7f7f7,#f7f7f7 227px,#f2f4f6 230px,#e1edf3 235px,#f0f4f6 238px,#f8f1ed 239px,#fce0cf 240px,#f9c0a5 241px,#f5ae8d 242px,#ee9777 245px,#f4a887 248px,#f8bea2 249px,#f8eee7 250px,#bad9e9 251px,#8ec3dd 252px,#73b1d3 253px,#569fca 255px,#4f9bc7 257px,#6bacd1 260px,#8bc1dc 261px,#d4e6f0 262px,#f7ba9d 263px,#ea8d70 264px,#d86651 266px,#d05448 269px,#d96752 272px,#e17a61 273px,#f19e7d 274px,#f2f4f5 275px,#83bcd9 276px,#59a1ca 277px,#4292c2 278px,#3682ba 281px,#4190c2 285px,#59a1ca 286px,#93c5de 287px,#f8bc9f 288px,#e17960 289px,#d45c4b 290px,#c53f3d 292px,#c13639 294px,#c43c3c 296px,#d15648 298px,#de745c 299px,#f8c0a4 300px,#7db8d7 301px,#4694c4 302px,#317bb7 304px,#2b73b3 308px,#3f8dc0 311px,#65a9cf 312px,#eeded6 313px,#e17860 314px,#d05447 315px,#c6403e 316px,#bc2d35 318px,#be2f36 321px,#ca4741 323px,#d6614e 324px,#ee9879 325px,#a3cce2 326px,#4e9ac7 327px,#327cb7 329px,#2b73b3 333px,#3f8ec1 336px,#71b0d3 337px,#f5c2ab 338px,#da6a55 339px,#cb4b43 340px,#c3393b 341px,#bb2b34 343px,#bd2e36 345px,#ca4741 347px,#d86450 348px,#f3aa8c 349px,#81bad8 350px,#4492c2 351px,#2f78b5 353px,#2a71b2 355px,#2d75b4 357px,#3b88bd 359px,#58a0ca 360px,#d5dcdffd 361px,#e27c63fa 362px,#d05347f5 363px,#c53e3dee 364px,#bb2a33cf 367px,#d2584996 371px,#e7886c86 372px,#b2d4e576 373px,#4e9ac767 374px,#3985bc57 375px,#2b74b318 380px,#0000 385px,#0000 545px)"></i><i style="left:19px;width:6px;transform:skewY(-14.51deg);background:linear-gradient(#f7f7f7,#f7f7f7 225px,#f3f5f6 228px,#dae9f2 234px,#eef3f5 237px,#f9efe8 238px,#f7b698 240px,#f4a785 241px,#ea8f71 244px,#f2a17f 247px,#f7b89a 248px,#f8ede7 249px,#b1d5e7 250px,#85bdda 251px,#6aabd0 252px,#4e9ac7 254px,#4795c4 256px,#549ec9 258px,#67aacf 259px,#8bc1dc 260px,#e7eff3 261px,#f5a987 262px,#e48066 263px,#da6a54 264px,#cf5347 266px,#cd4d44 268px,#d86551 271px,#e37d63 272px,#f6b090 273px,#add3e6 274px,#66a9cf 275px,#4594c4 276px,#327cb7 280px,#3581ba 282px,#4393c3 284px,#6bacd1 285px,#f0f4f6 286px,#e68569 287px,#d55e4c 288px,#ca4842 289px,#bd2f36 292px,#bf3237 294px,#cb4a42 296px,#d86450 297px,#f2a07f 298px,#88bfdb 299px,#4593c3 300px,#2971b2 303px,#276eb0 306px,#3b88bd 309px,#5ca3cc 310px,#f1ded4 311px,#dd7059 312px,#cc4b43 313px,#c2373a 314px,#b82531 316px,#ba2933 319px,#c8433f 321px,#d6614e 322px,#f3a88a 323px,#7ab6d6 324px,#408fc1 325px,#2c75b4 327px,#266daf 330px,#2b74b3 332px,#3e8dc0 334px,#79b5d6 335px,#f0a183 336px,#d45c4c 337px,#c6403e 338px,#b92732 340px,#ba2832 343px,#c8433f 345px,#d76350 346px,#f6bfa7 347px,#68aad0 348px,#3c89be 349px,#2b73b2 351px,#276eb0 354px,#3986bc 357px,#5aa1cb 358px,#ebd4c9 359px,#db6c56 360px,#ca4841 361px,#bb2933 363px,#b92631f5 366px,#c43c3ce6 368px,#d15648db 369px,#ea8e70d0 370px,#8fc2dcc3 371px,#4291c2b5 372px,#2c75b396 374px,#3581ba3c 380px,#bad9e923 382px,#e27a6119 383px,#0000 388px,#0000 545px)"></i><i style="left:25px;width:6px;transform:skewY(-14.44deg);background:linear-gradient(#f7f7f7,#f7f7f6 224px,#f4f6f7 226px,#d4e6f1 233px,#ddebf2 235px,#edf2f5 236px,#faeae1 237px,#f9c6ac 238px,#f6af8e 239px,#ec9274 241px,#e7866b 243px,#ef9a7a 246px,#f6b495 247px,#f7efeb 248px,#a6cfe4 249px,#7ab6d6 250px,#4f9bc7 252px,#4191c2 254px,#4493c3 256px,#64a8ce 258px,#8ec2dd 259px,#f7ede8 260px,#ee9878 261px,#de735c 262px,#d65f4d 263px,#cb4a43 265px,#cc4b43 268px,#d86551 270px,#e58368 271px,#fbd7c4 272px,#82bbd9 273px,#4e9ac7 274px,#3c8abf 275px,#2f78b5 278px,#347fb9 281px,#4c99c6 283px,#91c4de 284px,#f2a07e 285px,#d86450 286px,#ca4842 287px,#ba2833 290px,#bb2933 292px,#c43d3c 294px,#d05347 295px,#e48066 296px,#aad1e5 297px,#4795c4 298px,#2c75b3 300px,#2268ad 303px,#2c75b4 306px,#3681ba 307px,#4d99c6 308px,#e4e7e9 309px,#dc6d57 310px,#c94641 311px,#be3137 312px,#b51e2e 314px,#b41c2d 316px,#c53d3d 319px,#d45c4b 320px,#f4ae90 321px,#68aad0 322px,#3a88bd 323px,#246aae 326px,#256bae 329px,#3d8abf 332px,#7cb7d7 333px,#ea8e71 334px,#cf5146 335px,#c13639 336px,#b51f2e 338px,#b7212f 341px,#c53e3d 343px,#d6604e 344px,#f4cab6 345px,#58a0ca 346px,#3783bb 347px,#276db0 349px,#2369ae 352px,#3783bb 355px,#58a0ca 356px,#f4c7b2 357px,#d6604e 358px,#c53e3d 359px,#b7212f 361px,#b51f2e 364px,#c13639 366px,#cf5146fd 367px,#eb9072fa 368px,#7bb6d6f6 369px,#3c8abeef 370px,#2870b1dc 372px,#256cafa7 376px,#4493c378 379px,#c2dbe868 380px,#dd715a59 381px,#c946414a 382px,#b41c2d10 387px,#e27c6201 391px,#0000 545px)"></i><i style="left:31px;width:6px;transform:skewY(-14.36deg);background:linear-gradient(#f7f7f7,#f6f7f7 224px,#f3f5f6 225px,#c8e1ed 232px,#cbe2ee 233px,#eef3f5 235px,#fbe3d5 236px,#f8bca0 237px,#f4a784 238px,#e88a6d 240px,#e37f65 242px,#e7866a 244px,#ed9576 245px,#f6b395 246px,#f1f2f2 247px,#9ac9e0 248px,#6fafd2 249px,#4695c4 251px,#3e8cc0 253px,#408fc1 255px,#4a98c5 256px,#63a7ce 257px,#96c7df 258px,#fbd3be 259px,#e7886b 260px,#d15648 262px,#c8433f 264px,#c7423f 266px,#d05347 268px,#d96753 269px,#eb9072 270px,#d5e7f0 271px,#63a7ce 272px,#408fc1 273px,#2c74b3 277px,#2f78b5 279px,#3d8bbf 281px,#5fa5cd 282px,#f8f1ec 283px,#de735c 284px,#cd4d44 285px,#c2383a 286px,#b7212f 289px,#bf3137 292px,#c84440 293px,#d96652 294px,#fbdecd 295px,#539dc9 296px,#3682ba 297px,#2b74b3 298px,#2064a9 301px,#286fb1 304px,#408fc1 306px,#a7cfe4 307px,#de725b 308px,#c84440 309px,#b6202f 311px,#b41b2d 315px,#c13639 317px,#d05447 318px,#f1a182 319px,#63a7ce 320px,#3884bb 321px,#256caf 323px,#2064a9 325px,#266db0 328px,#3b89be 330px,#7bb6d6 331px,#e7866a 332px,#cb4b43 333px,#be3036 334px,#b2192c 336px,#b0172b 338px,#b92632 340px,#c2393a 341px,#d45b4b 342px,#f5cbb7 343px,#509bc7 344px,#347fb9 345px,#2165ab 348px,#246aae 351px,#3580b9 353px,#539dc8 354px,#f6c1aa 355px,#d2594a 356px,#c2383a 357px,#b41b2d 359px,#b3192c 362px,#be3137 364px,#cc4c44 365px,#e98b6e 366px,#72b1d3 367px,#3986bc 368px,#2d75b4 369px,#2267acfa 371px,#2368ade7 374px,#4190c1c4 377px,#bedae8b6 378px,#db6c56a8 379px,#c6403e98 380px,#b51e2e79 382px,#dd70591a 389px,#3e8cbf0a 391px,#2167ac01 394px,#0000 545px)"></i><i style="left:37px;width:6px;transform:skewY(-14.27deg);background:linear-gradient(#f7f7f7,#f7f6f6 222px,#f5f6f7 223px,#b9d9e9 231px,#bddbea 232px,#f2f5f6 234px,#fcdac7 235px,#f6b495 236px,#ea8e70 238px,#e27c62 240px,#e27b62 242px,#ed9475 244px,#f7b89b 245px,#e1edf3 246px,#8cc1dc 247px,#65a9cf 248px,#4191c2 250px,#3c89be 252px,#4a97c5 255px,#66a9cf 256px,#a6cfe4 257px,#f7b495 258px,#e27b61 259px,#d65f4d 260px,#c84440 262px,#c53d3d 264px,#d15548 267px,#dc6e58 268px,#f4a987 269px,#93c5de 270px,#4e9ac7 271px,#3a87bd 272px,#2b73b3 275px,#2f78b5 278px,#4292c2 280px,#86bdda 281px,#ee9677 282px,#d35a4a 283px,#c53e3d 284px,#b82431 286px,#b51e2e 288px,#c2383a 291px,#cf5246 292px,#ea8f71 293px,#73b1d3 294px,#3a87bd 295px,#256caf 297px,#1f62a6 299px,#256baf 302px,#3986bc 304px,#73b1d3 305px,#e68569 306px,#cb4942 307px,#bd2f36 308px,#b1182b 310px,#b1182b 313px,#be3036 315px,#cc4b43 316px,#e98b6e 317px,#6daed1 318px,#3885bc 319px,#2065ab 322px,#2165ab 325px,#3986bc 328px,#75b3d4 329px,#e6856a 330px,#cb4942 331px,#bd2e36 332px,#b0172b 334px,#b2182b 337px,#c03438 339px,#d15548 340px,#f6bba0 341px,#519cc8 342px,#337eb8 343px,#2970b1 344px,#2063a8 348px,#286fb1 350px,#327db8 351px,#4b98c6 352px,#f5ccb8 353px,#d2594a 354px,#c13639 355px,#b2192b 357px,#ac162a 359px,#b51e2e 361px,#bc2d35 362px,#c94741 363px,#e58167 364px,#76b4d5 365px,#3986bc 366px,#246aae 368px,#1f62a6 370px,#266caffd 373px,#3d8cbff6 375px,#a6cee3f0 376px,#dc6d57e7 377px,#c63f3edd 378px,#ba2933d2 379px,#b41c2dc5 380px,#ae172a99 383px,#d967525b 387px,#c0dae74c 388px,#408ec13e 389px,#2063a911 393px,#2f79b601 397px,#0000 545px)"></i><i style="left:43px;width:6px;transform:skewY(-14.18deg);background:linear-gradient(#f7f7f7,#f7f7f7 216px,#f7f5f3 220px,#f4f5f6 222px,#b7d8e9 228px,#afd4e6 230px,#b5d7e8 231px,#f8f4f1 233px,#facab1 234px,#f5ab8a 235px,#e7876b 237px,#e0775f 239px,#e17860 241px,#ee9878 243px,#f9c4aa 244px,#c4deec 245px,#7fb9d7 246px,#5ca3cc 247px,#4896c5 248px,#3b88bd 251px,#408fc1 253px,#4d9ac7 254px,#6fafd2 255px,#c9e1ed 256px,#f2a07e 257px,#dd715a 258px,#cb4a43 260px,#c43d3c 263px,#cb4a43 265px,#d45b4b 266px,#e27b62 267px,#fbdfcf 268px,#70afd2 269px,#4191c2 270px,#3682ba 271px,#2a72b2 275px,#3a87bd 278px,#569fca 279px,#eff3f6 280px,#de715a 281px,#cb4a43 282px,#ba2832 284px,#b51d2e 286px,#b82431 288px,#c8433f 290px,#db6b55 291px,#d7e8f1 292px,#4393c3 293px,#317cb7 294px,#2267ad 296px,#1f61a6 298px,#2368ad 300px,#337eb9 302px,#519cc8 303px,#f7b799 304px,#d15648 305px,#c03539 306px,#b2182b 308px,#ac162a 310px,#b41d2d 312px,#c7433f 314px,#df745c 315px,#8fc3dd 316px,#3c8abe 317px,#256caf 319px,#1f62a7 321px,#246aae 324px,#3783bb 326px,#65a9cf 327px,#ec9274 328px,#cc4d44 329px,#be3036 330px,#b1182b 332px,#ac162a 334px,#b6202f 336px,#be3137 337px,#cd4f45 338px,#f09d7d 339px,#5ca3cc 340px,#3581ba 341px,#2064a9 344px,#276eb0 348px,#4392c3 350px,#e5e2e0 351px,#d6604d 352px,#c3393b 353px,#b82531 354px,#ad162a 356px,#af172a 358px,#bb2a33 360px,#c7423f 361px,#df745d 362px,#8cc1dc 363px,#3b89be 364px,#2d76b4 365px,#2165ab 367px,#2065ab 370px,#3a88bd 373px,#84bcd9 374px,#e0785f 375px,#c84340fd 376px,#bb2b34fb 377px,#af172af0 379px,#b82431c6 383px,#d55e4ca9 385px,#ede1da9a 386px,#4593c38b 387px,#317bb77b 388px,#2064a94d 391px,#2d76b41b 395px,#c53e3d01 400px,#0000 545px)"></i><i style="left:49px;width:6px;transform:skewY(-14.08deg);background:linear-gradient(#f7f7f7,#f7f7f7 214px,#f8f4f3 216px,#f8f5f3 219px,#f7f7f7 220px,#f2f5f6 221px,#a5cfe4 228px,#b2d5e7 230px,#dceaf2 231px,#faeae1 232px,#f8bda0 233px,#f3a280 234px,#e48066 236px,#de735b 238px,#e0785f 240px,#f29f7e 242px,#fcdecd 243px,#a7cfe4 244px,#71b0d3 245px,#4292c3 247px,#3b88bd 249px,#4191c2 252px,#539dc9 253px,#7cb7d7 254px,#f5f1ee 255px,#ea8d70 256px,#d96853 257px,#c94641 259px,#c43d3c 262px,#cd4e45 264px,#d76350 265px,#ea8f71 266px,#bbdaea 267px,#58a0ca 268px,#3c8abe 269px,#2b73b2 272px,#2e77b5 275px,#408fc1 277px,#79b5d5 278px,#f29f7e 279px,#d45c4b 280px,#c53e3d 281px,#b82330 283px,#b51d2d 285px,#c2383a 288px,#d05447 289px,#ef9a79 290px,#66a9cf 291px,#3884bb 292px,#246aae 294px,#1f62a6 296px,#266daf 299px,#3e8dc0 301px,#a6cfe4 302px,#db6b56 303px,#c53f3d 304px,#b41b2d 306px,#ac162a 308px,#b31a2c 310px,#c3393b 312px,#d6604d 313px,#f0edeb 314px,#4393c3 315px,#276eb0 317px,#1f63a7 319px,#2970b1 323px,#337eb8 324px,#509bc7 325px,#f7ba9d 326px,#d15648 327px,#c03539 328px,#b2182b 330px,#af172b 333px,#bc2d35 335px,#c94741 336px,#e48166 337px,#75b2d4 338px,#3985bc 339px,#246aae 341px,#1f62a6 343px,#266caf 346px,#3d8bbf 348px,#a1cce2 349px,#dc6d57 350px,#c63f3d 351px,#b41b2d 353px,#ac162a 355px,#b31a2c 357px,#c43c3c 359px,#d86551 360px,#cae1ed 361px,#408fc1 362px,#2f79b6 363px,#2166ac 365px,#1f62a6 367px,#2469ae 369px,#3783bb 371px,#66a9cf 372px,#ea8e71 373px,#cc4b43 374px,#bd2f36 375px,#b0172b 377px,#b1182bfb 380px,#bf3338f1 382px,#cf5347e9 383px,#f5ad8ddf 384px,#539dc9d3 385px,#347fb9c7 386px,#2064a99b 389px,#3681ba4e 394px,#539dc940 395px,#f9d9c732 396px,#d9665126 397px,#bb29330b 400px,#bc2b3401 403px,#0000 545px)"></i><i style="left:55px;width:6px;transform:skewY(-13.97deg);background:linear-gradient(#f7f7f7,#f7f7f7 212px,#f8f4f1 214px,#f7f5f3 218px,#f5f6f7 219px,#d7e8f1 222px,#a7d0e4 225px,#9bcae1 227px,#a2cde2 228px,#b8d8e9 229px,#e8f0f4 230px,#fdddca 231px,#f6b090 232px,#ee9878 233px,#e17a61 235px,#dd6f59 237px,#e17960 239px,#e8896d 240px,#f5aa88 241px,#f4f4f4 242px,#91c4de 243px,#64a8ce 244px,#408fc1 246px,#3a87bd 248px,#4393c3 251px,#5ca3cc 252px,#93c5de 253px,#f9c3a8 254px,#e37d63 255px,#d65f4d 256px,#c43c3c 259px,#c53e3d 261px,#d05447 263px,#dc6f58 264px,#f6b090 265px,#84bcd9 266px,#4695c4 267px,#307ab6 269px,#2a71b2 271px,#307ab6 274px,#4e9ac7 276px,#c9e1ee 277px,#e0775f 278px,#cc4c44 279px,#c13539 280px,#b41d2d 283px,#bd2f36 286px,#c8433f 287px,#db6c56 288px,#c6dfed 289px,#4291c2 290px,#276eb0 292px,#1f62a7 294px,#2369ae 297px,#3682ba 299px,#5fa5cd 300px,#ed9676 301px,#cd4e44 302px,#be3036 303px,#b6202f 304px,#ac162a 306px,#b1182b 308px,#be3036 310px,#cd4d44 311px,#ed9676 312px,#60a5cd 313px,#3682ba 314px,#2369ae 316px,#1f62a7 319px,#266db0 321px,#408fc1 323px,#c2ddec 324px,#d96652 325px,#c43c3c 326px,#b92732 327px,#ae172a 329px,#b31b2c 332px,#ba2732 333px,#c53d3d 334px,#da6954 335px,#b1d5e7 336px,#3f8dc0 337px,#266daf 339px,#1f62a7 341px,#246aae 344px,#3884bb 346px,#6cadd1 347px,#e7876b 348px,#ca4942 349px,#bd2e35 350px,#b51e2e 351px,#ac162a 353px,#b2182b 355px,#c03438 357px,#d15548 358px,#f7b89b 359px,#4f9bc7 360px,#337eb8 361px,#1f63a8 364px,#2268ad 367px,#327db8 369px,#4b98c6 370px,#f9c8af 371px,#d25849 372px,#c13539 373px,#b2182b 375px,#ac162a 377px,#b51e2e 379px,#c94741 381px,#e58167fe 382px,#73b1d3fb 383px,#3885bcf7 384px,#2065abdf 387px,#2369adba 390px,#4292c28c 393px,#add3e67d 394px,#e0775f6d 395px,#cc4c445e 396px,#bc2c3440 398px,#ba29331c 401px,#c7e0ed01 406px,#0000 545px)"></i><i style="left:61px;width:6px;transform:skewY(-13.85deg);background:linear-gradient(#f7f7f7,#f7f7f7 209px,#f7f7f7 210px,#f8f1ec 214px,#f7f6f5 217px,#f2f5f6 218px,#dbeaf2 220px,#a6cfe4 223px,#94c6df 225px,#a5cee3 227px,#c5dfed 228px,#f7f5f4 229px,#f9c4a9 230px,#f4a482 231px,#e37e64 233px,#dc6e57 235px,#de715a 237px,#eb9172 239px,#f8bb9e 240px,#c6e0ed 241px,#7bb7d6 242px,#58a0ca 243px,#4393c3 244px,#3986bc 247px,#4997c5 250px,#69abd0 251px,#bad9e9 252px,#f2a17f 253px,#dd6f59 254px,#ca4842 256px,#c33b3b 258px,#c63f3d 260px,#d45c4b 262px,#e47f65 263px,#f5f4f4 264px,#63a7ce 265px,#3e8dc0 266px,#2e77b5 268px,#2a71b2 271px,#3d8cbf 274px,#6cadd1 275px,#f6af8f 276px,#d6604d 277px,#c6403e 278px,#b82430 280px,#b41d2d 282px,#c1373a 285px,#cf5247 286px,#ee9677 287px,#67aacf 288px,#3884bb 289px,#246aae 291px,#1f62a7 294px,#266db0 296px,#408fc1 298px,#c6e0ed 299px,#d86551 300px,#c43c3c 301px,#b92732 302px,#ae172a 304px,#ae172a 306px,#ba2833 308px,#c53e3d 309px,#db6b55 310px,#a6cfe4 311px,#3e8cc0 312px,#266caf 314px,#1f62a6 317px,#246aae 319px,#3884bb 321px,#6cadd1 322px,#e7876b 323px,#ca4942 324px,#bd2e35 325px,#b51e2e 326px,#ac162a 328px,#b2182b 330px,#c03438 332px,#d05447 333px,#f6b394 334px,#509cc8 335px,#337eb8 336px,#2970b1 337px,#1f61a6 340px,#286fb1 343px,#4a97c5 345px,#facdb6 346px,#d2594a 347px,#c13639 348px,#b2182b 350px,#ac162a 352px,#b51e2e 354px,#bc2c35 355px,#c94641 356px,#e47f65 357px,#75b3d4 358px,#3986bc 359px,#246aae 361px,#1f62a6 363px,#256caf 366px,#3d8bbf 368px,#9ccae1 369px,#dc6e57 370px,#c63f3e 371px,#ba2833 372px,#ae172a 374px,#ae172a 376px,#b92632 378px,#c43b3c 379px,#d86450 380px,#cde3ee 381px,#408fc1 382px,#266db0 384px,#2064a9f8 387px,#3b88bdd5 391px,#6fafd2c8 392px,#ef9a7abb 393px,#d25849ac 394px,#be2f368d 396px,#b927325f 399px,#f9c2a71d 404px,#4494c30c 406px,#327cb701 409px,#0000 545px)"></i><i style="left:67px;width:12px;transform:skewY(-13.66deg);background:linear-gradient(#f7f7f7,#f7f7f7 206px,#f9efe9 212px,#f7f6f5 215px,#e2edf3 217px,#97c8df 221px,#8cc1dc 223px,#a3cee3 225px,#f9f0eb 227px,#f8bb9e 228px,#f09d7b 229px,#dc6e58 232px,#db6a55 234px,#e27b62 236px,#ec9273 237px,#f9c2a7 238px,#b3d6e7 239px,#73b1d3 240px,#529cc8 241px,#4190c2 242px,#3986bc 244px,#3f8dc0 247px,#4b98c6 248px,#6eaed2 249px,#d6e7f1 250px,#ee9777 251px,#db6b55 252px,#d05447 253px,#c3393b 256px,#cb4a43 259px,#d55e4c 260px,#e7866a 261px,#d4e6f0 262px,#5aa2cb 263px,#3c8abe 264px,#2a72b2 267px,#2d76b4 270px,#408fc1 272px,#7cb7d6 273px,#ef9978 274px,#d25949 275px,#c43c3c 276px,#b51d2d 279px,#b6212f 281px,#c33a3b 283px,#d35a4a 284px,#f7b596 285px,#559ec9 286px,#3580b9 287px,#2971b2 288px,#1f61a6 291px,#286fb1 294px,#4997c5 296px,#fbd0b9 297px,#d3594a 298px,#c13639 299px,#b2182b 301px,#ac162a 303px,#b51d2e 305px,#bc2c34 306px,#c94641 307px,#e37e64 308px,#77b4d5 309px,#3986bc 310px,#246aae 312px,#1f62a6 314px,#256caf 317px,#3d8bbf 319px,#99c9e0 320px,#dc6e58 321px,#c6403e 322px,#b41c2d 324px,#ac162a 326px,#b31a2c 328px,#c33b3b 330px,#d76350 331px,#d7e8f1 332px,#4190c1 333px,#266db0 335px,#1f61a6 338px,#2369ae 340px,#3682ba 342px,#62a7ce 343px,#eb9173 344px,#cc4c44 345px,#be2f36 346px,#b0172b 348px,#b1182b 351px,#bf3237 353px,#cf5146 354px,#f4a684 355px,#569fc9 356px,#347fb9 357px,#2368ad 359px,#1f63a7 362px,#276eb0 364px,#4594c4 366px,#fae7db 367px,#d45c4b 368px,#c2373a 369px,#b82431 370px,#ad162a 372px,#af172b 374px,#bc2b34 376px,#c84440 377px,#e17960 378px,#80b9d8 379px,#3a87bd 380px,#2165ab 383px,#2368ad 386px,#408fc1fc 389px,#99c8e0f9 390px,#e37e64f6 391px,#cd4f45f0 392px,#c2393aea 393px,#b92531cd 396px,#d0544796 400px,#e27c6287 401px,#f0f4f678 402px,#63a8ce68 403px,#408fc15a 404px,#3986bc15 410px,#e6856901 415px,#0000 545px)"></i><i style="left:79px;width:12px;transform:skewY(-12.25deg);background:linear-gradient(#f7f7f7,#f7f7f7 202px,#f7f6f6 203px,#f9ede5 208px,#f8f4f2 212px,#e0ecf3 214px,#9ac9e0 217px,#83bcd9 219px,#99c9e0 222px,#b4d6e8 223px,#f2f5f6 224px,#f9c2a7 225px,#f19e7d 226px,#df765e 228px,#d96753 230px,#db6b55 232px,#e7886c 234px,#f6b090 235px,#d6e8f1 236px,#7bb7d6 237px,#559fc9 238px,#4191c2 239px,#3986bc 241px,#4494c3 245px,#62a6cd 246px,#a7cfe4 247px,#f5a987 248px,#de715a 249px,#ca4741 251px,#c2393b 253px,#c43d3c 255px,#d25749 257px,#e17860 258px,#fbe4d7 259px,#68abd0 260px,#3f8dc0 261px,#2a72b2 264px,#2c74b3 267px,#3c89be 269px,#64a8ce 270px,#f8bb9e 271px,#d7624f 272px,#c7413e 273px,#b82330 275px,#b41c2d 277px,#c13539 280px,#ce5045 281px,#eb8f71 282px,#6cadd1 283px,#3885bc 284px,#246aae 286px,#1f62a7 289px,#266daf 291px,#3f8ec0 293px,#bbdaea 294px,#d96652 295px,#c43c3c 296px,#b92732 297px,#ae172a 299px,#b41b2c 302px,#ba2832 303px,#c53e3d 304px,#db6b55 305px,#a4cee3 306px,#3e8cbf 307px,#266caf 309px,#1f62a6 312px,#246aae 314px,#3885bc 316px,#71b0d3 317px,#e58368 318px,#ca4741 319px,#bc2d35 320px,#b51e2e 321px,#ac162a 323px,#b2182b 325px,#c03539 327px,#d15749 328px,#f9c0a5 329px,#4c99c6 330px,#327db8 331px,#286fb1 332px,#1f61a6 335px,#2870b1 338px,#337db8 339px,#4e9ac7 340px,#f8ba9d 341px,#d15648 342px,#c03438 343px,#b2182b 345px,#ac162a 347px,#b51e2e 349px,#bd2d35 350px,#ca4842 351px,#e68569 352px,#6eaed2 353px,#3884bb 354px,#246aae 356px,#1f62a6 358px,#266caf 361px,#3e8dc0 363px,#aad1e5 364px,#da6a54 365px,#c53e3d 366px,#ba2732 367px,#b31b2c 368px,#ae172a 371px,#ba2732 373px,#c43d3c 374px,#d96853 375px,#b3d6e7 376px,#3f8dc0 377px,#2f78b5 378px,#2166ac 380px,#2267ad 383px,#3b89be 386px,#76b3d4 387px,#ec9374 388px,#d15648 389px,#c43c3c 390px,#ba2732 392px,#ba2732 394px,#c33a3bfa 396px,#dd7059f2 398px,#facab2eb 399px,#73b1d3e3 400px,#4393c3d9 401px,#3986bcce 402px,#3e8dc079 408px,#83bbd95b 410px,#fae8dd4d 411px,#ea8e7040 412px,#dc6e5833 413px,#d054470f 417px,#ee977701 421px,#0000 545px)"></i><i style="left:91px;width:12px;transform:skewY(-10.68deg);background:linear-gradient(#f7f7f7,#f7f7f7 198px,#f7f6f5 200px,#fae8de 207px,#f7f7f7 210px,#e6eff4 211px,#96c7df 214px,#86bdda 215px,#7db8d7 217px,#8bc1dc 219px,#9ecbe1 220px,#cce2ef 221px,#fbe5d8 222px,#f5ac8b 223px,#ea8e70 224px,#e17a61 225px,#d96752 227px,#d86551 229px,#e17960 231px,#ec9374 232px,#fcd5bf 233px,#9dcbe1 234px,#65a9cf 235px,#4896c5 236px,#3884bb 239px,#3f8dc0 242px,#4d9ac7 243px,#76b3d4 244px,#f7f5f4 245px,#e8896d 246px,#d76350 247px,#c7413f 249px,#c2373a 251px,#c53f3d 253px,#d7624f 255px,#ec9274 256px,#a3cee3 257px,#4e9ac7 258px,#3986bc 259px,#2970b1 262px,#2e77b5 265px,#4393c3 267px,#96c7df 268px,#e68469 269px,#ce5146 270px,#ba2833 272px,#b41c2d 274px,#bc2b34 277px,#c53e3d 278px,#d7634f 279px,#f8f2ef 280px,#4695c4 281px,#327cb7 282px,#2267ac 284px,#2063a8 287px,#3580b9 290px,#59a1ca 291px,#f2a07e 292px,#ce5045 293px,#bf3137 294px,#b6202f 295px,#ac162a 297px,#b0172b 299px,#be3036 301px,#cd4d44 302px,#ee9677 303px,#5ea4cc 304px,#3681ba 305px,#2064a9 308px,#2166ac 311px,#307ab6 313px,#4191c2 314px,#e5eff4 315px,#d7614e 316px,#c33a3b 317px,#b92531 318px,#ad162a 320px,#b41c2d 323px,#c6413e 325px,#dd715a 326px,#91c4de 327px,#3c89be 328px,#2d76b4 329px,#2165ab 331px,#2065aa 334px,#3a87bd 337px,#7db8d7 338px,#e17a61 339px,#c84440 340px,#b41d2d 342px,#ac162a 344px,#b2192b 346px,#c1373a 348px,#d45b4b 349px,#fbe2d3 350px,#4695c4 351px,#276fb0 353px,#2063a8 357px,#347fb9 360px,#549ec9 361px,#f5a987 362px,#cf5246 363px,#bf3237 364px,#b1182b 366px,#b0172b 369px,#bd2f36 371px,#cc4b43 372px,#ea8f71 373px,#64a8ce 374px,#3682ba 375px,#2369ae 377px,#1f63a8 379px,#2971b2 382px,#4795c4 384px,#d7e8f1 385px,#dd7059 386px,#ca4942 387px,#bb2b34 389px,#bb2933 392px,#c7413e 394px,#d35a4a 395px,#e8896c 396px,#b6d7e8 397px,#59a1ca 398px,#3e8cc0 399px,#3783bb 400px,#327db8f7 403px,#4292c3e5 406px,#62a7cedb 407px,#a9d1e5d0 408px,#f6b090c4 409px,#e37d63b6 410px,#d96652a8 411px,#d053478a 413px,#e6856a41 418px,#f9efea29 420px,#abd2e51e 421px,#75b3d401 427px,#0000 545px)"></i><i style="left:103px;width:12px;transform:skewY(-9.02deg);background:linear-gradient(#f7f7f7,#f7f7f7 196px,#f7f5f3 198px,#fbe5d8 205px,#f5f6f7 208px,#e0ecf3 209px,#9fcce2 211px,#8bc1dc 212px,#7ab6d6 214px,#7db7d7 216px,#9ccae1 218px,#d0e5f0 219px,#fcdfcd 220px,#f4a784 221px,#e7886c 222px,#da6a55 224px,#d7614e 226px,#da6a55 228px,#ed9475 230px,#fcdfce 231px,#95c7df 232px,#60a5cd 233px,#4594c4 234px,#3783bb 237px,#3f8dc0 240px,#4f9ac7 241px,#7ab6d6 242px,#faeae0 243px,#e58468 244px,#d6604d 245px,#cc4c43 246px,#c13639 249px,#cc4c44 252px,#d86450 253px,#ef9979 254px,#96c7df 255px,#4997c5 256px,#3079b6 258px,#2870b1 260px,#2e77b5 263px,#4595c4 265px,#a4cee3 266px,#e37d63 267px,#cd4d44 268px,#b92732 270px,#b41b2d 272px,#bc2c35 275px,#c6403e 276px,#d96753 277px,#dceaf2 278px,#4292c2 279px,#307ab6 280px,#2166ac 282px,#2064a9 285px,#3682ba 288px,#61a6cd 289px,#ec9274 290px,#cc4c44 291px,#be2f36 292px,#b61f2e 293px,#ac162a 295px,#b1182b 297px,#bf3237 299px,#ce5146 300px,#f4a482 301px,#569fca 302px,#347fb9 303px,#2063a8 306px,#2267ac 309px,#317bb7 311px,#4494c3 312px,#faeae0 313px,#d45c4b 314px,#c2373a 315px,#b2192b 317px,#ab162a 319px,#b41c2d 321px,#c8433f 323px,#e0785f 324px,#81bad8 325px,#3a87bd 326px,#2065aa 329px,#2065ab 332px,#2d76b4 334px,#3b89be 335px,#8cc1dc 336px,#de735b 337px,#c7413e 338px,#b41c2d 340px,#ab162a 342px,#b3192c 344px,#c2393b 346px,#d6604d 347px,#eff3f5 348px,#4291c2 349px,#276eb0 351px,#1f61a5 354px,#2369ad 356px,#3581ba 358px,#5ca3cb 359px,#ef9a79 360px,#cd4e45 361px,#be3036 362px,#b0172b 364px,#ac162a 366px,#b6202f 368px,#be3137 369px,#cd4e45 370px,#f09c7b 371px,#5ba2cb 372px,#3580b9 373px,#2369ad 375px,#1f63a8 377px,#2a72b2 380px,#4c98c6 382px,#f4f5f5 383px,#db6b55 384px,#c94741 385px,#c03438 386px,#b92531 388px,#bf3338 391px,#d45d4b 393px,#eb8f71 394px,#a7cfe4 395px,#549ec9 396px,#3d8bbf 397px,#317cb7 400px,#4493c3 404px,#66a9cf 405px,#b4d6e8 406px,#f5aa88fd 407px,#e17a61fb 408px,#d86551f8 409px,#cf5246e6 412px,#dd705ac6 415px,#f5ad8daa 417px,#f7f5f39b 418px,#a7d0e48c 419px,#75b2d46e 421px,#96c7df1f 427px,#f9c0a503 432px,#0000 545px)"></i><i style="left:115px;width:12px;transform:skewY(-7.27deg);background:linear-gradient(#f7f7f7,#f7f7f7 194px,#f8f5f3 196px,#fce1d2 203px,#f7f5f3 206px,#e3eef3 207px,#9dcbe1 209px,#7fb9d7 211px,#75b2d4 213px,#80b9d8 215px,#92c5de 216px,#b5d7e8 217px,#f9eee7 218px,#f5ae8d 219px,#e98c6f 220px,#d7634f 223px,#d6604d 225px,#de715a 227px,#e7886c 228px,#f8ba9d 229px,#abd2e5 230px,#69abd0 231px,#4a97c5 232px,#3783bb 235px,#3885bc 237px,#4695c4 239px,#69abd0 240px,#d1e5f0 241px,#ec9374 242px,#d96752 243px,#ce5045 244px,#c13639 247px,#c94741 250px,#d35b4b 251px,#e58368 252px,#d2e6f0 253px,#569fca 254px,#3a88bd 255px,#2b74b3 257px,#276fb0 259px,#2c75b4 261px,#3f8dc0 263px,#79b5d6 264px,#ee9777 265px,#d15749 266px,#c33a3b 267px,#b6202f 269px,#b51f2e 272px,#c2393a 274px,#d25849 275px,#f6b495 276px,#539dc9 277px,#347fb9 278px,#1f63a7 281px,#2267ac 284px,#327cb7 286px,#4996c5 287px,#fbceb6 288px,#d25849 289px,#c13539 290px,#b2182b 292px,#ab162a 294px,#b41d2d 296px,#c94540 298px,#e37e64 299px,#75b3d4 300px,#3985bc 301px,#246aae 303px,#1f61a6 306px,#256baf 308px,#3c8abf 310px,#9ac9e0 311px,#dc6d57 312px,#c53f3d 313px,#ba2832 314px,#ad172a 316px,#b3192c 319px,#b92531 320px,#c33a3b 321px,#d76350 322px,#d0e4ef 323px,#408fc1 324px,#266daf 326px,#2063a8 330px,#3682ba 333px,#63a7ce 334px,#ea8f71 335px,#cb4b43 336px,#bd2e36 337px,#af172b 339px,#b0182b 342px,#bf3237 344px,#cf5146 345px,#f4a885 346px,#549ec9 347px,#347fb9 348px,#2268ad 350px,#1f62a7 353px,#276eb0 355px,#4594c4 357px,#fbe3d5 358px,#d35b4b 359px,#c13639 360px,#b2182b 362px,#ab162a 364px,#b41c2d 366px,#c84440 368px,#e17960 369px,#7db8d7 370px,#3986bd 371px,#246aae 373px,#2064a9 376px,#286fb1 378px,#408fc1 380px,#9ac9e0 381px,#e27c63 382px,#cd4e44 383px,#bc2c34 385px,#b82531 387px,#be2f36 389px,#d05347 391px,#e27c62 392px,#edf2f5 393px,#62a7ce 394px,#408fc1 395px,#337eb8 397px,#327cb7 399px,#408fc1 402px,#5aa1cb 403px,#96c7df 404px,#f9c2a7 405px,#e58368 406px,#da6954 407px,#d05447 409px,#d55e4c 412px,#e48065fc 414px,#f2a17ff9 415px,#fce2d3f5 416px,#b6d8e8ef 417px,#8dc2dce7 418px,#6eaed2d3 420px,#73b2d3ac 423px,#f7f7f660 428px,#f9c4aa44 430px,#f7b99b37 431px,#f7b79917 434px,#faeae003 438px,#0000 545px)"></i><i style="left:127px;width:12px;transform:skewY(-5.39deg);background:linear-gradient(#f7f7f7,#f7f7f7 193px,#f7f6f5 194px,#fcdecb 201px,#fbe3d4 203px,#f3f5f6 205px,#a8d0e4 207px,#82bbd9 209px,#72b1d3 211px,#81bad8 214px,#98c8e0 215px,#cfe4ef 216px,#fcd5c0 217px,#f19e7d 218px,#dd715a 220px,#d65f4d 222px,#d96752 225px,#df755d 226px,#ec9274 227px,#fbe3d5 228px,#8dc2dc 229px,#5ba2cb 230px,#4292c2 231px,#3682ba 234px,#3e8cc0 237px,#4e9ac7 238px,#7cb7d6 239px,#fce1d1 240px,#e37f65 241px,#d45d4b 242px,#ca4942 243px,#c13639 245px,#c13639 247px,#cb4b43 249px,#d86450 250px,#f09c7b 251px,#8ec2dd 252px,#4594c4 253px,#2e78b5 255px,#276eb0 257px,#2d77b4 260px,#4695c4 262px,#afd4e6 263px,#e0785f 264px,#cb4a43 265px,#bf3338 266px,#b31a2c 269px,#bc2c34 272px,#c6403e 273px,#da6954 274px,#c0ddeb 275px,#408fc1 276px,#266caf 278px,#1e60a4 281px,#2369ad 283px,#3682ba 285px,#65a9cf 286px,#e88a6d 287px,#ca4942 288px,#bd2d35 289px,#ae172a 291px,#b0172b 294px,#bf3237 296px,#cf5246 297px,#f5ad8c 298px,#519cc8 299px,#337eb8 300px,#286fb1 301px,#1e60a4 304px,#276eb0 307px,#4795c4 309px,#fcd5c0 310px,#d25849 311px,#c03539 312px,#b1182b 314px,#aa162a 316px,#b41c2d 318px,#bb2a34 319px,#c84440 320px,#e27c62 321px,#77b4d5 322px,#3985bc 323px,#246aae 325px,#1e61a4 327px,#256bae 330px,#3c89be 332px,#96c7df 333px,#dc6e57 334px,#c53f3d 335px,#b31a2c 337px,#aa152a 339px,#b2182b 341px,#c3393b 343px,#d7624e 344px,#d8e8f1 345px,#408fc1 346px,#266caf 348px,#1f63a8 352px,#3581ba 355px,#60a5cd 356px,#eb9172 357px,#cb4b43 358px,#bd2e35 359px,#af172a 361px,#b0172b 364px,#be3137 366px,#ce5045 367px,#f3a482 368px,#559ec9 369px,#347fb9 370px,#2870b1 371px,#1f62a7 374px,#2a72b2 377px,#3480b9 378px,#4e9ac7 379px,#faebe2 380px,#d96753 381px,#c84440 382px,#bf3237 383px,#b82431 386px,#bf3338 388px,#d55d4c 390px,#ec9374 391px,#9ecbe1 392px,#519cc8 393px,#3c8abe 394px,#327db8 398px,#4494c3 401px,#68aad0 402px,#bbdaea 403px,#f4a683 404px,#e0785f 405px,#d7634f 406px,#cf5246 408px,#d15749 410px,#dd715a 412px,#e8886c 413px,#f6af8f 414px,#f5f6f7 415px,#a4cee3 416px,#84bcd9 417px,#73b2d3 418px,#6aacd0fc 420px,#76b3d4f6 422px,#b0d4e7e0 425px,#deebf2d5 426px,#f9eee8c9 427px,#f8bfa3ae 429px,#f6b39490 431px,#f2f5f620 439px,#f5f6f702 444px,#0000 545px)"></i><i style="left:139px;width:12px;transform:skewY(-3.31deg);background:linear-gradient(#f7f7f7,#f6f7f7 192px,#f7f5f4 193px,#fdd9c5 200px,#fcdecd 202px,#f5f6f7 204px,#a5cfe3 206px,#90c4dd 207px,#74b2d4 209px,#6dadd1 211px,#7bb7d6 213px,#92c5de 214px,#c0dceb 215px,#fddcc8 216px,#f19f7d 217px,#e48166 218px,#d86450 220px,#d35b4a 222px,#d76350 224px,#e98c6f 226px,#fcd7c2 227px,#92c5de 228px,#5ca3cc 229px,#4292c2 230px,#3581ba 233px,#3884bb 235px,#4a97c5 237px,#74b2d4 238px,#f9ede7 239px,#e58267 240px,#d55d4c 241px,#ca4942 242px,#bf3338 245px,#c33b3b 247px,#d65f4d 249px,#ec9374 250px,#97c8e0 251px,#4796c4 252px,#2e77b5 254px,#276eb0 256px,#2c75b4 259px,#4292c2 261px,#9ccae1 262px,#e27d63 263px,#cc4b43 264px,#b82431 266px,#b2192b 268px,#bb2933 271px,#c43c3c 272px,#d7634f 273px,#e8f0f4 274px,#4191c2 275px,#266caf 277px,#1e60a4 279px,#2267ad 282px,#347fb9 284px,#5ba2cb 285px,#ed9575 286px,#cb4b43 287px,#bd2e35 288px,#ae172a 290px,#a9152a 292px,#b51e2e 294px,#bd2f36 295px,#cc4d44 296px,#f09d7c 297px,#579fca 298px,#337eb9 299px,#1f62a6 302px,#266caf 306px,#4291c2 308px,#f7f1ee 309px,#d45c4b 310px,#c13639 311px,#b0182b 313px,#a9152a 315px,#b31a2c 317px,#c6403e 319px,#de735c 320px,#84bcd9 321px,#3a86bd 322px,#1f63a8 325px,#1f63a8 328px,#3a86bd 331px,#84bcd9 332px,#de735c 333px,#c6403e 334px,#b31a2c 336px,#a9152a 338px,#b0182b 340px,#c13639 342px,#d45c4b 343px,#f7f2ef 344px,#4291c2 345px,#2f79b6 346px,#2165ab 348px,#1f62a6 351px,#337eb9 354px,#569fca 355px,#f09d7c 356px,#cd4d44 357px,#bd2f36 358px,#ae172a 360px,#a9152a 362px,#b51d2d 364px,#bd2e35 365px,#cb4b43 366px,#ed9475 367px,#5ba2cb 368px,#3480b9 369px,#1f62a7 372px,#2368ad 375px,#337db8 377px,#4796c4 378px,#e9f0f4 379px,#db6b55 380px,#c94540 381px,#ba2833 383px,#ba2732 386px,#c6403e 388px,#d3594a 389px,#e98b6e 390px,#aad1e5 391px,#549ec9 392px,#3c8abf 393px,#317cb7 397px,#4292c2 400px,#63a7ce 401px,#aed3e6 402px,#f5ab89 403px,#e17961 404px,#d76350 405px,#cf5146 407px,#d05548 409px,#dc6e58 411px,#e68569 412px,#f5ab89 413px,#f8f3f0 414px,#a7d0e4 415px,#85bdda 416px,#6badd1 418px,#6dadd1 420px,#81bbd8 422px,#add3e6 424px,#dbeaf2 425px,#f8f0ebfd 426px,#fcd7c2fb 427px,#f8c0a4f7 428px,#f6b293ea 430px,#f7b89bd7 432px,#fcd5bfbe 434px,#f8f4f292 437px,#f5f6f71f 443px,#f7f7f702 447px,#0000 545px)"></i><i style="left:151px;width:12px;transform:skewY(-0.74deg);background:linear-gradient(#f7f7f7,#f7f7f7 187px,#f4f6f6 190px,#f7f7f6 192px,#f8f4f1 193px,#fbcfb8 200px,#fbd2bb 201px,#f9ece5 203px,#e3eef3 204px,#b2d5e7 205px,#97c8df 206px,#75b3d4 208px,#68aad0 210px,#6fafd2 212px,#7eb9d7 213px,#9ccae1 214px,#e9f0f4 215px,#f7b596 216px,#ea8d6f 217px,#df755d 218px,#d25849 221px,#d86551 224px,#e0785f 225px,#f19f7e 226px,#dbeaf2 227px,#72b1d3 228px,#4c99c6 229px,#3e8cbf 230px,#347fb9 233px,#3f8ec0 236px,#559fc9 237px,#97c8df 238px,#f5a987 239px,#db6c57 240px,#ce5146 241px,#c13639 243px,#c03438 246px,#cd4e44 248px,#dc6d57 249px,#facbb3 250px,#66a9cf 251px,#3c8abf 252px,#2b73b3 254px,#256caf 256px,#2970b1 258px,#3884bb 260px,#58a0ca 261px,#facab2 262px,#d6604d 263px,#c43d3c 264px,#b51e2e 266px,#b2192b 269px,#bd2e35 271px,#ca4741 272px,#e58167 273px,#70afd2 274px,#3783bb 275px,#2267ad 277px,#1d5ea1 279px,#2369ae 282px,#3b89be 284px,#9fcbe2 285px,#d96752 286px,#c33a3b 287px,#b0182b 289px,#a71429 291px,#b0172b 293px,#c2373a 295px,#d7624e 296px,#badaea 297px,#3d8bbf 298px,#246aae 300px,#1d5fa2 302px,#2167ac 305px,#3580b9 307px,#62a7ce 308px,#e7876b 309px,#c94641 310px,#bb2a33 311px,#ab162a 313px,#ad162a 316px,#bd2f36 318px,#cd4f45 319px,#f5ab89 320px,#4d99c6 321px,#317cb7 322px,#1e60a3 325px,#266caf 329px,#4393c3 331px,#fbd2bd 332px,#d15548 333px,#bf3237 334px,#ae172a 336px,#a71429 338px,#b2192b 340px,#c6413e 342px,#e17960 343px,#73b2d4 344px,#3783bb 345px,#1f61a5 348px,#1f62a6 351px,#2b74b3 353px,#3a87bd 354px,#93c5de 355px,#db6b55 356px,#c43b3c 357px,#b82431 358px,#b1182b 359px,#a9152a 362px,#b7212f 364px,#c13639 365px,#d55f4c 366px,#d5e7f1 367px,#3e8dc0 368px,#246aae 370px,#1e60a4 373px,#246aae 375px,#3885bc 377px,#68aad0 378px,#ef9979 379px,#d05548 380px,#c33a3b 381px,#b82330 383px,#b72330 385px,#ca4841 388px,#da6853 389px,#f7b99b 390px,#75b2d4 391px,#4292c2 392px,#337db8 394px,#307ab6 396px,#3c8abe 399px,#4b98c6 400px,#79b5d5 401px,#f8f1ec 402px,#ea8e70 403px,#db6d57 404px,#cf5247 406px,#ce5045 408px,#df755e 411px,#ec9273 412px,#f9c2a7 413px,#d5e7f1 414px,#95c6df 415px,#7ab6d6 416px,#69abd0 419px,#78b5d5 421px,#9dcae1 423px,#bcdaea 424px,#ecf2f5 425px,#fbe5d9 426px,#fac8af 427px,#f8ba9d 428px,#f6b394 431px,#fac9affb 433px,#fdddcaf8 434px,#f7f7f7e3 437px,#ecf2f5bd 439px,#f7f7f731 444px,#f7f7f70f 446px,#f7f7f701 448px,#0000 545px)"></i><i style="left:163px;width:12px;background:linear-gradient(#f7f7f7,#f7f7f7 186px,#f3f5f6 189px,#f7f6f6 192px,#f9c5ab 200px,#fac8ae 201px,#fcd6c0 202px,#faebe3 203px,#dfecf3 204px,#add3e6 205px,#92c5de 206px,#6fafd2 208px,#62a7ce 210px,#6aacd0 212px,#7ab6d6 213px,#99c9e0 214px,#ecf2f5 215px,#f6b090 216px,#e7886c 217px,#dd715a 218px,#d05447 221px,#d7624f 224px,#df755d 225px,#f19e7d 226px,#d2e5f0 227px,#6dadd1 228px,#4796c4 229px,#337eb8 232px,#3783bb 235px,#3e8cbf 236px,#549ec9 237px,#98c8e0 238px,#f3a280 239px,#d96853 240px,#c43c3c 242px,#bd2e35 244px,#bf3137 246px,#cc4c43 248px,#db6c56 249px,#fcd6c1 250px,#5fa5cd 251px,#3a87bd 252px,#256caf 255px,#276eb0 258px,#3783bb 260px,#57a0ca 261px,#f8bc9f 262px,#d45b4b 263px,#c2393b 264px,#b31b2c 266px,#ad162a 268px,#b51d2e 270px,#bc2c34 271px,#c94641 272px,#e58368 273px,#67aacf 274px,#3580b9 275px,#2065aa 277px,#1c5c9e 279px,#2268ad 282px,#3b88be 284px,#a7d0e4 285px,#d7614e 286px,#c13639 287px,#b6202f 288px,#a41329 291px,#b6202f 294px,#c13639 295px,#d7614e 296px,#a7d0e4 297px,#3b88be 298px,#2268ad 300px,#1c5c9e 303px,#2065aa 305px,#347fb9 307px,#64a8ce 308px,#e47f65 309px,#c7413e 310px,#b92632 311px,#a81529 313px,#aa152a 316px,#bc2d35 318px,#cd4e44 319px,#f6b191 320px,#4795c4 321px,#2f79b6 322px,#256baf 323px,#1d5da0 325px,#1c5da0 327px,#246bae 329px,#4393c3 331px,#f8bfa3 332px,#ce5045 333px,#bd2e35 334px,#b41b2d 335px,#a41429 338px,#b0172b 340px,#c63f3e 342px,#e17a61 343px,#6aacd0 344px,#3580b9 345px,#2165ab 347px,#1c5c9f 350px,#2267ad 352px,#3a87bd 354px,#9ac9e0 355px,#d86551 356px,#c2373a 357px,#b6212f 358px,#a41329 361px,#b51f2e 364px,#c03438 365px,#d55e4c 366px,#bad9e9 367px,#3c8abe 368px,#2368ad 370px,#1d5ea1 373px,#2369ad 375px,#3784bb 377px,#69abd0 378px,#eb9172 379px,#ce5146 380px,#c13639 381px,#b6202f 383px,#b6202f 385px,#c94641 388px,#d96853 389px,#f8bea2 390px,#6eaed2 391px,#4090c1 392px,#317cb7 394px,#2f78b5 396px,#3480b9 398px,#4a97c5 400px,#79b5d6 401px,#faebe2 402px,#e88a6d 403px,#da6954 404px,#d2594a 405px,#cd4e44 408px,#d7624f 410px,#eb9173 412px,#f9c3a9 413px,#d0e4f0 414px,#92c5de 415px,#78b4d5 416px,#67aacf 419px,#77b4d5 421px,#9ccae1 423px,#bcdaea 424px,#edf2f5 425px,#fbe4d6 426px,#fac7ad 427px,#f7b99b 428px,#f6b393 431px,#fac8af 433px,#fdddca 434px,#f6f7f7 437px,#eff3f6f8 438px,#ebf1f5cf 440px,#f7f7f74f 444px,#f7f7f71c 446px,#0000 449px,#0000 545px)"></i><i style="left:175px;width:6px;background:linear-gradient(#f7f7f7,#f7f7f7 185px,#f1f4f6 189px,#f7f6f6 192px,#f9ede6 194px,#fac9b0 198px,#f8bfa3 200px,#faccb4 202px,#fae9de 203px,#deebf2 204px,#aad1e5 205px,#8ec2dd 206px,#6bacd1 208px,#5ea4cc 210px,#65a9cf 212px,#75b2d4 213px,#95c6df 214px,#e9f0f4 215px,#f6ae8e 216px,#e6856a 217px,#dc6e58 218px,#ce5146 221px,#d55e4c 224px,#dd715a 225px,#f09b7a 226px,#d2e5f0 227px,#6aacd0 228px,#4494c3 229px,#327db8 232px,#3681ba 235px,#509bc7 237px,#95c7df 238px,#f2a07e 239px,#d86551 240px,#c33a3b 242px,#bb2b34 244px,#bd2e36 246px,#ca4942 248px,#da6954 249px,#fcd3bd 250px,#5ca3cc 251px,#3986bc 252px,#246aae 255px,#266daf 258px,#3681ba 260px,#549ec9 261px,#f7ba9c 262px,#d25849 263px,#c13639 264px,#b2182b 266px,#aa152a 268px,#b31a2c 270px,#ba2933 271px,#c7433f 272px,#e48066 273px,#63a8ce 274px,#337eb8 275px,#1f63a7 277px,#1b5a9b 279px,#2166ac 282px,#3a86bd 284px,#a5cfe3 285px,#d55f4c 286px,#bf3338 287px,#b41d2d 288px,#a11228 291px,#b41d2d 294px,#bf3338 295px,#d55f4c 296px,#a5cfe3 297px,#3a86bd 298px,#2166ac 300px,#1b5a9b 303px,#1f63a7 305px,#337db8 307px,#60a6cd 308px,#e27d63 309px,#c53e3d 310px,#b82330 311px,#a51429 313px,#a21328 315px,#b2182b 317px,#bb2a33 318px,#cb4b43 319px,#f6af8f 320px,#4393c3 321px,#2e77b5 322px,#2369ae 323px,#1b5b9d 325px,#1b5b9d 327px,#2d76b4 330px,#4291c2 331px,#f8bca0 332px,#cd4d44 333px,#bb2b34 334px,#b2182b 335px,#a11328 338px,#b72230 341px,#c43c3c 342px,#e0775f 343px,#67aacf 344px,#347eb9 345px,#2063a8 347px,#1b5a9c 350px,#2165ab 352px,#3885bc 354px,#97c8df 355px,#d7624f 356px,#c03438 357px,#b51e2e 358px,#a11228 361px,#b41c2d 364px,#bf3137 365px,#d45b4b 366px,#b8d8e9 367px,#3b88bd 368px,#2166ac 370px,#1c5c9e 373px,#2267ac 375px,#3682ba 377px,#66a9cf 378px,#ea8e70 379px,#cd4e44 380px,#c03338 381px,#b51e2e 383px,#b51d2d 385px,#c8433f 388px,#d86551 389px,#f8bc9f 390px,#6badd1 391px,#3f8ec0 392px,#307ab6 394px,#2e77b4 396px,#337eb8 398px,#4796c4 400px,#77b4d5 401px,#faeae1 402px,#e7876b 403px,#d96752 404px,#d15648 405px,#cb4a43 407px,#d6604d 410px,#eb8f71 412px,#f9c2a7 413px,#cee3ef 414px,#8fc3dd 415px,#75b3d4 416px,#65a9cf 419px,#75b3d4 421px,#9bcae1 423px,#bbdaea 424px,#edf2f5 425px,#fbe3d5 426px,#f9c6ac 427px,#f7b89a 428px,#f6b292 431px,#fac8ae 433px,#fddcc9 434px,#f6f7f7 437px,#eff3f6f9 438px,#ebf1f5d5 440px,#f7f7f724 446px,#f7f7f704 448px,#0000 449px,#0000 545px)"></i><i style="left:181px;width:6px;transform:skewY(0.5deg);background:linear-gradient(#f7f7f7,#f7f7f7 185px,#f1f4f6 188px,#f3f5f6 191px,#f7f7f7 192px,#f8bb9e 200px,#f9c3a8 202px,#fcdfcf 203px,#eaf1f5 204px,#b2d5e7 205px,#92c5de 206px,#6aacd0 208px,#5ba2cb 210px,#6cadd1 213px,#86beda 214px,#c7e0ed 215px,#f8bea2 216px,#e98c6f 217px,#dd705a 218px,#d15548 220px,#cd4d44 222px,#d25949 224px,#da6954 225px,#e98b6e 226px,#f3ece7 227px,#75b3d4 228px,#4896c5 229px,#3580b9 231px,#307ab6 233px,#347fb9 235px,#4795c4 237px,#7fb9d8 238px,#f6b495 239px,#da6a55 240px,#cc4b43 241px,#bd2f36 243px,#ba2833 245px,#c8433f 248px,#d6614e 249px,#f6b294 250px,#65a8cf 251px,#3a87bd 252px,#276eb0 254px,#2267ac 256px,#2a72b2 259px,#337eb8 260px,#4b98c6 261px,#f8d5c3 262px,#d35a4a 263px,#c13639 264px,#b72230 265px,#a71529 268px,#b1182b 270px,#b92531 271px,#c53e3d 272px,#e0785f 273px,#69abd0 274px,#337eb8 275px,#1f61a6 277px,#1a5899 279px,#2064a9 282px,#3884bb 284px,#9ac9e0 285px,#d55e4c 286px,#bf3137 287px,#b31b2c 288px,#9e1228 291px,#b31a2c 294px,#be3036 295px,#d45b4b 296px,#a8d0e4 297px,#3985bc 298px,#2064aa 300px,#1a5999 302px,#1e61a5 305px,#317cb7 307px,#5da4cc 308px,#e27b62 309px,#c43c3c 310px,#b6212f 311px,#9f1228 314px,#af172b 317px,#ba2732 318px,#ca4842 319px,#f5ad8c 320px,#4292c2 321px,#2d76b4 322px,#2268ad 323px,#1a5898 326px,#2267ad 329px,#4090c1 331px,#f8bb9e 332px,#cb4b43 333px,#ba2833 334px,#b0172b 335px,#9e1228 338px,#b6202f 341px,#c33a3b 342px,#df755d 343px,#64a8ce 344px,#327db8 345px,#1f61a6 347px,#1a5899 349px,#2064a9 352px,#3784bb 354px,#95c7df 355px,#d6604d 356px,#bf3237 357px,#b41b2d 358px,#9e1228 361px,#b31a2c 364px,#be2f36 365px,#d2594a 366px,#b6d7e8 367px,#3a87bd 368px,#2065aa 370px,#1b5a9b 372px,#2165ab 375px,#3580ba 377px,#64a8ce 378px,#e98c6f 379px,#cc4c43 380px,#bf3137 381px,#b3192c 384px,#b7212f 386px,#c7413e 388px,#d7634f 389px,#f8ba9d 390px,#69abd0 391px,#3e8dc0 392px,#2f79b6 394px,#2d75b4 396px,#327db8 398px,#4594c4 400px,#74b2d4 401px,#faeae1 402px,#e6866a 403px,#d86551 404px,#d05548 405px,#ca4842 407px,#d55e4c 410px,#ea8e70 412px,#f9c0a5 413px,#cce2ef 414px,#8ec2dd 415px,#74b2d4 416px,#64a8ce 419px,#73b2d4 421px,#9ac9e0 423px,#bad9e9 424px,#ecf2f5 425px,#fbe3d5 426px,#f9c5aa 427px,#f7b799 428px,#f6b191 431px,#fac7ad 433px,#fddcc8 434px,#f6f7f7 437px,#eff3f6f9 438px,#ebf1f5d5 440px,#f7f7f725 446px,#f7f7f704 448px,#0000 449px,#0000 545px)"></i><i style="left:187px;width:6px;transform:skewY(6.28deg);background:linear-gradient(#f7f7f7,#f7f7f7 185px,#f1f4f6 188px,#f1f4f6 191px,#f7f6f5 193px,#fce1d2 196px,#f8bea3 199px,#f7b597 201px,#f9c5ab 203px,#f9ece4 204px,#d4e6f0 205px,#9fcce2 206px,#83bcd9 207px,#62a7ce 209px,#569fca 211px,#60a5cd 213px,#71b0d3 214px,#96c7df 215px,#f7f6f5 216px,#f3a380 217px,#e27c62 218px,#d86651 219px,#ce4f45 221px,#cc4b43 223px,#d45b4b 225px,#de725a 226px,#f4a583 227px,#a6cfe4 228px,#5ba2cb 229px,#3f8ec0 230px,#2f79b6 233px,#317bb7 235px,#3c8abf 237px,#569fca 238px,#bbdaea 239px,#e68569 240px,#d25749 241px,#c63f3e 242px,#b92531 245px,#c1373a 248px,#cc4c43 249px,#e0775e 250px,#afd4e6 251px,#4292c2 252px,#2971b1 254px,#2166ac 256px,#256caf 259px,#3986bd 261px,#7ab6d6 262px,#e17a61 263px,#c7423f 264px,#ba2832 265px,#b2182b 266px,#a51429 268px,#b41b2c 271px,#bd2e35 272px,#d05347 273px,#f5f3f1 274px,#3c8abe 275px,#2064a9 277px,#195696 280px,#1d5ea1 282px,#2f78b5 284px,#519cc8 285px,#e58267 286px,#c43c3c 287px,#b6202f 288px,#9c1127 291px,#ac162a 294px,#b82431 295px,#c94540 296px,#f5a988 297px,#4190c2 298px,#2c74b3 299px,#1c5d9f 301px,#195798 304px,#2c74b3 307px,#4191c2 308px,#f4a785 309px,#c84540 310px,#b82431 311px,#a11328 313px,#9c1127 315px,#b6202f 318px,#c43c3c 319px,#e58368 320px,#509bc8 321px,#2f78b5 322px,#1d5ea1 324px,#195797 327px,#2064a9 329px,#3b88be 331px,#e8e3e0 332px,#ce5045 333px,#bb2933 334px,#af172b 335px,#a31329 336px,#9c1127 338px,#a71429 340px,#b41b2d 341px,#c03438 342px,#da6a55 343px,#71b0d3 344px,#337db8 345px,#256baf 346px,#195696 349px,#1f61a5 352px,#3581ba 354px,#8cc0db 355px,#d6614f 356px,#be3137 357px,#b21a2c 358px,#9e1228 360px,#9d1128 362px,#b1182b 364px,#bc2c34 365px,#d15648 366px,#bdcad2 367px,#3986bc 368px,#1f63a8 370px,#1a5899 373px,#2063a8 375px,#347fb9 377px,#64a8ce 378px,#e98f73 379px,#cb4a42 380px,#bd2f36 381px,#b2192c 383px,#b2192b 385px,#bc2b34 387px,#c53f3d 388px,#d6614f 389px,#f3c0aa 390px,#69abd0 391px,#3d8bbf 392px,#2e77b5 394px,#2c74b3 396px,#317cb7 398px,#4493c3 400px,#73b2d4 401px,#efdcd2 402px,#e68469 403px,#d76350 404px,#cf5347 405px,#c94641 407px,#d45c4b 410px,#e98c6f 412px,#f9c2a7 413px,#cae1ed 414px,#8cc1dc 415px,#72b1d3 416px,#62a7ce 419px,#72b1d3 421px,#99c8e0 423px,#b9d9e9 424px,#ecf2f5 425px,#fbe2d4 426px,#f9c4aa 427px,#f7b698 428px,#f6b090 431px,#fac6ad 433px,#fbe6da 435px,#f6f6f6 437px,#eff3f6f9 438px,#ebf1f5d5 440px,#f7f7f726 446px,#f7f7f704 448px,#0000 449px,#0000 545px)"></i><i style="left:193px;width:6px;transform:skewY(9.95deg);background:linear-gradient(#f7f7f7,#f7f7f7 185px,#f2f5f6 188px,#f1f4f6 192px,#f5f6f7 193px,#f8f5f3 194px,#fcddcb 197px,#f9c1a6 199px,#f6b090 202px,#f7b596 203px,#fac9b0 204px,#f8f3f0 205px,#c0dceb 206px,#96c7df 207px,#7bb6d6 208px,#5ca3cc 210px,#529dc8 212px,#5ea4cc 214px,#72b1d3 215px,#9ecbe1 216px,#fbe3d5 217px,#ed9576 218px,#de735c 219px,#d65f4d 220px,#cb4b43 222px,#ca4842 224px,#d45b4b 226px,#df755d 227px,#f6b495 228px,#8fc3dd 229px,#509bc7 230px,#3c89be 231px,#2e77b5 234px,#307ab6 236px,#3d8bbf 238px,#5da3cc 239px,#eef2f4 240px,#e0775e 241px,#ce4f45 242px,#c33a3b 243px,#b92531 245px,#b82431 247px,#c13739 249px,#cd4e44 250px,#e48066 251px,#8cc1dc 252px,#3d8cbf 253px,#276db0 255px,#2063a8 257px,#256baf 260px,#3b88be 262px,#94c6de 263px,#da6a55 264px,#c33a3b 265px,#ae172a 267px,#a31329 270px,#b31a2c 272px,#bd2f36 273px,#d2594a 274px,#a8d0e4 275px,#3783bb 276px,#1e60a4 278px,#185493 280px,#1c5da0 283px,#3079b6 285px,#5ea4cc 286px,#dc6f58 287px,#c03438 288px,#b31a2c 289px,#991027 292px,#ab162a 295px,#b82531 296px,#cb4942 297px,#fcdfce 298px,#3b89be 299px,#1f62a7 301px,#175493 304px,#2166ac 307px,#2d75b4 308px,#4997c5 309px,#e7866a 310px,#c43b3c 311px,#b51e2e 312px,#9d1128 314px,#9e1228 317px,#b6202f 319px,#c6413e 320px,#f19f7d 321px,#4190c1 322px,#2b73b2 323px,#2064aa 324px,#175492 327px,#2064a9 330px,#3f8ec1 332px,#f4a785 333px,#c7423f 334px,#b7212f 335px,#a9152a 336px,#991027 339px,#b51d2d 342px,#c33a3b 343px,#e58368 344px,#4b98c6 345px,#2d76b4 346px,#2166ac 347px,#175493 350px,#1f62a7 353px,#3b89be 355px,#fad9c8 356px,#ca4942 357px,#b82431 358px,#ab162a 359px,#991027 362px,#b31b2c 365px,#c13539 366px,#de735c 367px,#59a1ca 368px,#2f78b5 369px,#1c5d9f 371px,#185695 373px,#2166ac 376px,#3d8bbf 378px,#dae9f1 379px,#d45c4b 380px,#c13639 381px,#b82330 382px,#ae172a 385px,#b72330 387px,#cd4e45 389px,#e6866a 390px,#8dc2dc 391px,#4291c2 392px,#2b73b3 395px,#2f78b5 398px,#3e8cbf 400px,#5ca3cc 401px,#c1ddeb 402px,#ec9475 403px,#da6954 404px,#cb4942 406px,#c84440 408px,#d15548 410px,#e37f65 412px,#f5aa88 413px,#ecf1f4 414px,#97c7df 415px,#76b3d4 416px,#66a9cf 417px,#5fa5cd 419px,#6cadd1 421px,#90c4dd 423px,#abd2e5 424px,#deebf2 425px,#faebe2 426px,#facab1 427px,#f7b89b 428px,#f5ae8d 431px,#f9c1a6 433px,#fbe3d5 435px,#f7f5f4 437px,#f1f4f6fc 438px,#eaf1f5dc 440px,#f7f7f72d 446px,#f7f7f707 448px,#0000 449px,#0000 545px)"></i><i style="left:199px;width:6px;transform:skewY(11.57deg);background:linear-gradient(#f7f7f7,#f7f7f7 186px,#f3f5f6 188px,#f5f6f7 194px,#f8f4f1 195px,#fddac6 198px,#f8bb9f 200px,#f5ab8a 203px,#f6b191 204px,#fac9b0 205px,#f6f4f3 206px,#b7d8e9 207px,#75b3d4 209px,#57a0ca 211px,#4e9ac7 213px,#5ba2cb 215px,#71b0d3 216px,#a1cde2 217px,#fbd7c4 218px,#ea8f71 219px,#dc6e58 220px,#cd4e45 222px,#c84440 224px,#d3594a 227px,#df755d 228px,#f7b89a 229px,#87beda 230px,#4b98c6 231px,#3a87bd 232px,#2c75b4 235px,#2e78b5 237px,#3c8abe 239px,#5ba2cb 240px,#efeeee 241px,#de735c 242px,#cc4c43 243px,#bb2933 245px,#b61f2e 247px,#b92732 249px,#cb4a43 251px,#e27c63 252px,#8bc0dc 253px,#3c8abe 254px,#2e77b5 255px,#2065ab 257px,#1f63a8 260px,#2b73b3 262px,#3985bc 263px,#86bdda 264px,#db6b56 265px,#c2393a 266px,#b6202f 267px,#9e1228 270px,#b0172b 273px,#bb2933 274px,#ce5046 275px,#d7e7f1 276px,#3884bb 277px,#266daf 278px,#195696 280px,#185493 283px,#2c75b3 286px,#4b98c6 287px,#e27b62 288px,#c13639 289px,#b3192c 290px,#960f26 293px,#9b1127 295px,#b51d2e 297px,#c53e3d 298px,#f09d7c 299px,#3f8ec0 300px,#2971b2 301px,#1f62a6 302px,#175392 304px,#175391 306px,#1e61a5 308px,#3c8abe 310px,#f6b495 311px,#c7423f 312px,#b61f2f 313px,#a71429 314px,#950f26 317px,#b1182b 320px,#bf3338 321px,#de725b 322px,#549ec9 323px,#2d76b4 324px,#1b5a9c 326px,#175290 329px,#1d5ea1 331px,#3581ba 333px,#b5d7e8 334px,#ce5046 335px,#b92632 336px,#9e1228 338px,#981027 341px,#ad162a 343px,#bb2b34 344px,#d45b4b 345px,#81bad8 346px,#327cb7 347px,#185595 350px,#185594 353px,#307ab6 356px,#70b0d3 357px,#d7624f 358px,#bd2d35 359px,#af172a 360px,#981027 362px,#970f27 364px,#a9152a 366px,#b82431 367px,#cc4d44 368px,#c7cccf 369px,#3783bb 370px,#1d5fa2 372px,#185493 375px,#1d5fa2 377px,#317cb7 379px,#5fa5cd 380px,#e6866b 381px,#c7433f 382px,#ba2833 383px,#ad162a 385px,#b31a2c 388px,#c43c3c 390px,#d6614f 391px,#eac8ba 392px,#5aa2cb 393px,#3986bc 394px,#2b73b3 396px,#2971b2 398px,#3079b6 400px,#4593c3 402px,#7ab6d6 403px,#f3cbb8 404px,#e17960 405px,#d45c4b 406px,#c84440 408px,#c84440 410px,#dc6e58 413px,#ea8e70 414px,#f9cdb6 415px,#b9d9e9 416px,#83bbd9 417px,#6badd1 418px,#5da3cc 420px,#65a8cf 422px,#81bad8 424px,#9ac9e0 425px,#f0f2f3 427px,#fcddcb 428px,#f8bfa3 429px,#f6b394 430px,#f5ac8b 432px,#f7b99c 434px,#fae7dc 437px,#f5f6f6 439px,#eef3f5f7 440px,#ebf1f5d1 442px,#f7f7f722 448px,#f7f7f703 450px,#0000 451px,#0000 545px)"></i><i style="left:205px;width:6px;transform:skewY(11.21deg);background:linear-gradient(#f7f7f7,#f7f7f7 186px,#f1f4f6 189px,#f5f6f7 195px,#fce2d3 198px,#f7b697 201px,#f4a683 204px,#f6af8f 205px,#fac9b0 206px,#f4f5f5 207px,#b1d5e7 208px,#70afd2 210px,#539dc8 212px,#4a97c5 214px,#58a0ca 216px,#6fafd2 217px,#a2cde3 218px,#fbceb7 219px,#e8896d 220px,#da6a55 221px,#cb4b43 223px,#c6403e 225px,#ca4842 227px,#d15749 228px,#de735b 229px,#f7b89b 230px,#82bbd8 231px,#4795c4 232px,#317bb7 234px,#2b73b3 236px,#2d76b4 238px,#3a87bd 240px,#569fca 241px,#eceef0 242px,#dd715a 243px,#cb4942 244px,#c03438 245px,#b41c2d 248px,#be2f36 251px,#c94540 252px,#df745d 253px,#93c5de 254px,#3c8abe 255px,#246aae 257px,#1d5ea1 260px,#2166ac 262px,#3581ba 264px,#70afd2 265px,#dd715a 266px,#c2393b 267px,#b51f2e 268px,#9b1127 271px,#a01228 273px,#b72330 275px,#c84540 276px,#f9c5aa 277px,#3b88bd 278px,#1d5ea1 280px,#154f8c 283px,#1e5fa3 286px,#3d8bbf 288px,#f19e7c 289px,#c43b3c 290px,#b31b2c 291px,#981027 293px,#920e26 295px,#af172a 298px,#be3036 299px,#dd6f59 300px,#509bc8 301px,#2c74b3 302px,#1a5898 304px,#154f8c 306px,#1b5b9d 309px,#327db8 311px,#93c5de 312px,#cf5146 313px,#b82531 314px,#a81529 315px,#920e26 318px,#a71529 321px,#b82330 322px,#cd4e44 323px,#abd2e5 324px,#347fb9 325px,#1c5c9e 327px,#15508d 329px,#195798 332px,#2b73b3 334px,#4a97c5 335px,#e0785f 336px,#bf3238 337px,#b0172b 338px,#920e26 341px,#970f27 343px,#b21a2c 345px,#c2383a 346px,#ea9073 347px,#408fc1 348px,#2970b1 349px,#1e60a4 350px,#16518f 352px,#185494 355px,#256baf 357px,#3784bb 358px,#d9cec9 359px,#c94641 360px,#b6202f 361px,#991027 363px,#950f26 366px,#ab162a 368px,#ba2933 369px,#d45c4c 370px,#7ab5d6 371px,#307ab6 372px,#1b5a9b 374px,#16518e 376px,#1d5ea1 379px,#327db8 381px,#71b0d3 382px,#df745c 383px,#c43b3c 384px,#b82330 385px,#a71529 388px,#b1192b 390px,#c3393b 392px,#d55e4e 393px,#e6c2b3 394px,#58a0ca 395px,#3885bc 396px,#2a72b2 398px,#286fb1 400px,#2e77b5 402px,#4290c2 404px,#73b1d3 405px,#f2d1c1 406px,#e17960 407px,#d35a4a 408px,#cb4a43 409px,#c53f3d 411px,#cb4942 413px,#db6b55 415px,#e88a6d 416px,#f9c6ad 417px,#bcdbea 418px,#82bbd9 419px,#6aacd0 420px,#5ba2cb 422px,#62a7ce 424px,#7eb8d7 426px,#bad9e9 428px,#eef2f4 429px,#fcddcc 430px,#f8bfa3 431px,#f6b293 432px,#f5ab8a 434px,#f7b89a 436px,#fae7db 439px,#f5f6f6 441px,#eef3f5f8 442px,#ebf1f5d2 444px,#f7f7f723 450px,#f7f7f704 452px,#0000 453px,#0000 545px)"></i><i style="left:211px;width:6px;transform:skewY(8.84deg);background:linear-gradient(#f7f7f7,#f7f7f7 187px,#f3f5f6 189px,#ebf2f5 193px,#f6f6f7 196px,#fcdfcd 199px,#f8bb9e 201px,#f4a684 203px,#f2a17f 205px,#f6ae8e 206px,#faccb4 207px,#edf2f5 208px,#a7d0e4 209px,#69abd0 211px,#4d99c6 213px,#4695c4 215px,#569fca 217px,#70b0d2 218px,#aad1e5 219px,#f8bb9e 220px,#e48166 221px,#cf5246 223px,#c63f3d 225px,#c53f3d 227px,#d15648 229px,#df745c 230px,#f9c5ab 231px,#75b2d4 232px,#4291c2 233px,#2f79b6 235px,#2971b2 237px,#2c74b3 239px,#3a86bd 241px,#57a0ca 242px,#f9ede5 243px,#da6a55 244px,#c84440 245px,#be2f36 246px,#b41b2d 248px,#b6202f 251px,#c8433f 253px,#df745d 254px,#88beda 255px,#3a87bd 256px,#2268ad 258px,#1b5b9d 261px,#2064a9 263px,#347fb9 265px,#6daed1 266px,#dc6d57 267px,#c13539 268px,#b41b2d 269px,#981027 272px,#9c1128 274px,#b51e2e 276px,#c6403e 277px,#f7b697 278px,#3a87bd 279px,#256caf 280px,#175391 282px,#144c88 284px,#175391 286px,#256baf 288px,#3986bd 289px,#f5ad8d 290px,#c43b3c 291px,#b2192c 292px,#950f26 294px,#8e0d25 296px,#a9152a 299px,#ba2933 300px,#d6614e 301px,#5ba2cb 302px,#2c75b4 303px,#195696 305px,#144d89 308px,#195797 310px,#2e77b5 312px,#6aacd0 313px,#d35a4a 314px,#b92632 315px,#a81529 316px,#8e0d25 319px,#a11328 322px,#b31b2c 323px,#c63f3d 324px,#facfb9 325px,#3783bb 326px,#246aae 327px,#175291 329px,#154e8b 332px,#1c5d9f 334px,#3b88bd 336px,#f2a280 337px,#c3393b 338px,#b2182b 339px,#9f1228 340px,#8e0d25 343px,#aa152a 346px,#bb2a33 347px,#d86450 348px,#58a0ca 349px,#2c74b3 350px,#195696 352px,#144d89 355px,#195797 357px,#2e77b5 359px,#6cadd1 360px,#d2594a 361px,#b92632 362px,#a81529 363px,#8e0d25 366px,#a11328 369px,#b31b2c 370px,#c53f3d 371px,#f9cdb7 372px,#3784bb 373px,#1c5b9d 375px,#154e8b 378px,#1f62a7 381px,#3f8ec1 383px,#f6b192 384px,#ca4842 385px,#ba2833 386px,#b1182b 387px,#a41429 389px,#b31b2c 392px,#ca4741 394px,#e48166 395px,#81bad8 396px,#3d8bbf 397px,#2a72b2 399px,#266daf 401px,#3986bc 405px,#519cc8 406px,#b2d5e7 407px,#ea8e71 408px,#d7624f 409px,#c7423f 411px,#c43c3c 413px,#d55e4c 416px,#e0775f 417px,#f3a280 418px,#eff3f5 419px,#92c5de 420px,#70afd2 421px,#60a5cd 422px,#58a0ca 424px,#65a9cf 426px,#89bfdb 428px,#a5cfe3 429px,#dae9f2 430px,#faebe2 431px,#fac7ae 432px,#f7b597 433px,#f5ab89 436px,#f8bea2 438px,#fce2d3 440px,#f7f5f3 442px,#f1f4f6fc 443px,#eaf1f5dd 445px,#f7f7f72e 451px,#f7f7f708 453px,#0000 454px,#0000 545px)"></i><i style="left:217px;width:6px;transform:skewY(4.4deg);background:linear-gradient(#f7f7f7,#f7f7f7 187px,#eaf1f5 193px,#f1f4f6 196px,#f7f6f5 197px,#fbe4d7 199px,#f6b192 202px,#ef9978 205px,#f6b293 207px,#fcdecc 208px,#d6e7f1 209px,#96c7df 210px,#74b2d4 211px,#509bc7 213px,#4292c3 215px,#4896c5 217px,#59a1ca 218px,#79b5d5 219px,#d5e7f1 220px,#f3a27f 221px,#de735b 222px,#cb4a43 224px,#c3393b 227px,#c94641 229px,#d35a4a 230px,#e37f65 231px,#e8f0f4 232px,#5ca3cc 233px,#3c8abe 234px,#2c75b4 236px,#276fb0 238px,#2b73b3 240px,#3c8abe 242px,#6aabd0 243px,#f4a684 244px,#d2594a 245px,#c3393b 246px,#b1182b 249px,#b2182b 251px,#bd2e36 253px,#cb4a43 254px,#ea8f71 255px,#5ba2cb 256px,#337db8 257px,#1c5c9e 260px,#1c5c9f 263px,#286fb1 265px,#3884bc 266px,#b2d5e7 267px,#d05447 268px,#ba2933 269px,#ac162a 270px,#970f27 272px,#950f26 274px,#a71429 276px,#b72230 277px,#cc4d44 278px,#96c7df 279px,#317bb6 280px,#195696 282px,#134a86 284px,#144c88 286px,#1d5da0 288px,#286fb1 289px,#4493c3 290px,#dc6f58 291px,#bc2b34 292px,#a9152a 293px,#8b0b25 296px,#900d26 298px,#ac162a 300px,#bf3137 301px,#e6866a 302px,#3d8bbf 303px,#256caf 304px,#134c87 307px,#134b86 309px,#1a5898 311px,#337eb8 313px,#e9e6e5 314px,#c6403e 315px,#b21a2c 316px,#9e1228 317px,#8c0c25 319px,#8d0c25 321px,#a31329 323px,#b7212f 324px,#cf5347 325px,#70afd2 326px,#2d76b4 327px,#1f62a6 328px,#144d8a 330px,#144d89 333px,#2a72b2 336px,#58a0ca 337px,#d55f4d 338px,#b92631 339px,#a61429 340px,#8e0c25 342px,#8c0c25 344px,#9d1128 346px,#b0172b 347px,#c3393b 348px,#ecb9a4 349px,#3783bb 350px,#1a599a 352px,#134b86 354px,#16508e 357px,#246aae 359px,#3a87bd 360px,#efa489 361px,#c13539 362px,#ae172a 363px,#910d26 365px,#8b0b25 367px,#a81529 370px,#bb2933 371px,#da6a55 372px,#4d98c6 373px,#2970b1 374px,#144d89 377px,#144d8a 379px,#1c5b9d 381px,#3580b9 383px,#aacde0 384px,#d25849 385px,#bc2d35 386px,#b2192c 387px,#a21328 389px,#ae172a 392px,#c43b3c 394px,#da6954 395px,#b9d7e6 396px,#4190c1 397px,#2a72b2 399px,#256caf 402px,#2d76b4 404px,#4493c3 406px,#8abfdb 407px,#f2a283 408px,#d96752 409px,#cd4e45 410px,#c33b3b 412px,#c53e3d 414px,#d15749 416px,#dc6d57 417px,#ec9274 418px,#fae3d7 419px,#9dcae1 420px,#73b2d3 421px,#60a6cd 422px,#569fc9 424px,#60a6cd 426px,#81bad8 428px,#9ccae1 429px,#f8f2ee 431px,#fbcfb7 432px,#f7b799 433px,#f5a987 436px,#f7ba9c 438px,#faeae0 441px,#f3f5f6fe 443px,#eaf1f5e2 445px,#f4f6f68f 448px,#f7f7f734 451px,#f7f7f70b 453px,#f7f7f701 454px,#0000 545px)"></i><i style="left:223px;width:6px;background:linear-gradient(#f7f7f7,#f7f7f7 187px,#e9f0f4 193px,#f5f6f7 197px,#fae7dc 199px,#f6b192 202px,#ec9374 205px,#f4a784 207px,#f9c1a6 208px,#f3f5f6 209px,#a5cfe3 210px,#7db7d7 211px,#519cc8 213px,#4191c2 215px,#4292c2 217px,#65a8cf 219px,#9bc9e1 220px,#f9c1a6 221px,#e37e64 222px,#d65f4d 223px,#c6403e 225px,#c13639 227px,#c53e3d 229px,#cd4e44 230px,#da6a55 231px,#f6b293 232px,#76b3d4 233px,#408fc1 234px,#2d75b4 236px,#266db0 238px,#2d76b4 241px,#4b98c6 243px,#ebeef0 244px,#d96753 245px,#c63f3d 246px,#bb2933 247px,#af172a 249px,#b2192c 252px,#c43b3c 254px,#db6b55 255px,#88bfdb 256px,#3783bb 257px,#1b5b9d 260px,#1a5999 263px,#307ab6 266px,#65a9cf 267px,#d96752 268px,#bd2e36 269px,#ae172a 270px,#950f26 272px,#900d26 274px,#a01228 276px,#b2192b 277px,#c43b3c 278px,#f9c3a8 279px,#3581ba 280px,#195696 282px,#124883 284px,#154e8b 287px,#2369ad 289px,#3986bc 290px,#e98d6f 291px,#be3036 292px,#a9152a 293px,#8d0c25 295px,#870a24 297px,#a51429 300px,#ba2732 301px,#db6b55 302px,#4191c2 303px,#266daf 304px,#1b5b9c 305px,#124a85 307px,#114882 309px,#185493 311px,#2f79b5 313px,#a2cde3 314px,#c7423f 315px,#b2192b 316px,#900d26 318px,#870a24 320px,#910d26 322px,#b41b2d 324px,#cb4942 325px,#7db8d7 326px,#2d76b4 327px,#1e60a4 328px,#134b87 330px,#124a85 333px,#286fb1 336px,#4c99c6 337px,#d65f4d 338px,#b82430 339px,#a31329 340px,#870a24 343px,#991027 346px,#ac162a 347px,#c03438 348px,#f5aa88 349px,#3682ba 350px,#195797 352px,#124883 354px,#124983 356px,#195798 358px,#3784bb 360px,#ef9a79 361px,#bf3237 362px,#ab162a 363px,#981027 364px,#870a24 367px,#a41329 370px,#b92531 371px,#d86551 372px,#4594c4 373px,#276eb0 374px,#1c5b9d 375px,#16508e 376px,#124984 378px,#1a599a 381px,#337eb8 383px,#9ac9e0 384px,#d05447 385px,#bb2933 386px,#af172b 387px,#9e1228 389px,#a21328 391px,#b6202f 393px,#c2383a 394px,#d86651 395px,#add3e6 396px,#3f8ec0 397px,#2970b1 399px,#2369ae 401px,#2c74b3 404px,#4191c2 406px,#85bdda 407px,#f19f7d 408px,#d86450 409px,#cc4b43 410px,#c2383a 412px,#c33b3b 414px,#d05447 416px,#db6b55 417px,#eb9072 418px,#fbe4d7 419px,#9ac9e0 420px,#71b0d3 421px,#5ea4cc 422px,#539dc9 424px,#5ea4cc 426px,#7eb9d7 428px,#9ac9e0 429px,#f8f2ef 431px,#faccb4 432px,#f7b698 433px,#f4a886 436px,#f7b99b 438px,#fae9e0 441px,#f3f5f6fe 443px,#eaf1f5e2 445px,#f4f6f68f 448px,#f7f7f734 451px,#f7f7f70b 453px,#f7f7f701 454px,#0000 545px)"></i><i style="left:229px;width:12px;background:linear-gradient(#f7f7f7,#f7f7f7 186px,#f5f6f7 188px,#e7f0f4 193px,#f3f5f6 197px,#fbe6da 199px,#f5ab89 202px,#e98c6f 205px,#f2a07e 207px,#f7b99c 208px,#f7f5f3 209px,#a5cfe3 210px,#79b5d6 211px,#4c98c6 213px,#3f8dc0 215px,#4695c4 218px,#5da3cc 219px,#8fc3dd 220px,#fac8af 221px,#e27d63 222px,#d45c4b 223px,#c43b3c 225px,#be3137 227px,#ca4842 230px,#d7634f 231px,#f4a785 232px,#76b4d5 233px,#3f8dc0 234px,#2b73b3 236px,#246aae 238px,#2b73b2 241px,#4494c3 243px,#deebf2 244px,#d86551 245px,#c43c3c 246px,#b2192b 248px,#a71429 250px,#ae172a 252px,#c13639 254px,#d86450 255px,#88bfdb 256px,#3581ba 257px,#1e60a4 259px,#175391 262px,#1b5b9d 264px,#2e77b5 266px,#5ea4cc 267px,#d76350 268px,#bb2a34 269px,#a9152a 270px,#8b0c25 273px,#900d26 275px,#ad172a 277px,#c13639 278px,#f8bca0 279px,#337eb8 280px,#1f63a8 281px,#124a85 283px,#0f437c 285px,#185594 288px,#3783bb 290px,#e8886c 291px,#bc2b34 292px,#a51429 293px,#880b24 295px,#820923 297px,#900d26 299px,#b72330 301px,#d96652 302px,#3f8ec0 303px,#246aae 304px,#195797 305px,#104680 307px,#10447d 309px,#16508e 311px,#2d76b4 313px,#9ecbe1 314px,#c53e3d 315px,#ae172a 316px,#981027 317px,#840924 319px,#8c0c25 322px,#b1182b 324px,#c84540 325px,#78b5d5 326px,#2b73b2 327px,#1c5d9f 328px,#154f8d 329px,#0f447d 331px,#144d89 334px,#266caf 336px,#4795c4 337px,#d35b4a 338px,#b61f2e 339px,#9e1228 340px,#820923 343px,#940e26 346px,#a71429 347px,#be3036 348px,#f4a684 349px,#347fb9 350px,#175392 352px,#10457e 354px,#10457e 356px,#185493 358px,#3581ba 360px,#ed9576 361px,#bd2d35 362px,#a61429 363px,#930e26 364px,#820923 367px,#9f1228 370px,#b6212f 371px,#d6604d 372px,#4291c2 373px,#256baf 374px,#144d89 376px,#114781 379px,#185595 381px,#317bb7 383px,#96c7df 384px,#ce4f45 385px,#b82531 386px,#aa162a 387px,#991027 390px,#b41b2d 393px,#c03438 394px,#d7624e 395px,#a9d1e5 396px,#3d8bbf 397px,#276db0 399px,#2267ad 402px,#2a72b2 404px,#408fc1 406px,#81bad8 407px,#f09b7b 408px,#d6614e 409px,#ca4842 410px,#c03438 412px,#c2373a 414px,#ce5146 416px,#d96853 417px,#e98c6f 418px,#fbe3d5 419px,#97c8e0 420px,#6daed1 421px,#5aa2cb 422px,#509bc8 424px,#5ba2cb 426px,#7cb7d6 428px,#98c8e0 429px,#f8f2ee 431px,#facab1 432px,#f7b495 433px,#f4a684 436px,#f7b79a 438px,#fae9df 441px,#f3f5f6fe 443px,#ecf2f5f4 444px,#ebf1f5cb 446px,#f7f7f71d 452px,#f7f7f701 454px,#0000 545px)"></i><i style="left:241px;width:12px;background:linear-gradient(#f7f7f7,#f7f7f7 185px,#f6f6f7 187px,#e5eef4 193px,#f3f5f6 197px,#f8f0eb 198px,#fce1d2 199px,#f6b090 201px,#e68569 204px,#e98c6e 206px,#ef9a79 207px,#f7b496 208px,#f8f5f3 209px,#9fcce2 210px,#72b1d3 211px,#4494c3 213px,#3b89be 215px,#4291c2 218px,#569fca 219px,#89bfdb 220px,#f9c4aa 221px,#e0775f 222px,#d15648 223px,#c13639 225px,#bb2b34 227px,#c8433f 230px,#d55e4c 231px,#f3a381 232px,#71b0d3 233px,#3c8abe 234px,#2870b1 236px,#2267ad 238px,#2870b1 241px,#4191c2 243px,#dceaf2 244px,#d6604d 245px,#c13739 246px,#ad162a 248px,#a21328 250px,#a9152a 252px,#b41b2c 253px,#be3137 254px,#d6604d 255px,#82bbd9 256px,#337eb8 257px,#1c5d9f 259px,#154f8c 262px,#195798 264px,#2c74b3 266px,#59a1cb 267px,#d55f4c 268px,#b92531 269px,#a41429 270px,#860a24 273px,#8b0c25 275px,#a81529 277px,#bf3137 278px,#f7b89b 279px,#317bb7 280px,#154f8c 282px,#0e4179 284px,#0e427a 286px,#16518f 288px,#3580b9 290px,#e58468 291px,#b92632 292px,#9f1228 293px,#8d0c25 294px,#7d0723 297px,#8b0b25 299px,#b51e2e 301px,#d7624e 302px,#3d8bbf 303px,#2267ac 304px,#175492 305px,#0f427b 307px,#0e4178 309px,#144d89 311px,#2b73b2 313px,#9ac9e0 314px,#c2393b 315px,#a9152a 316px,#930e26 317px,#7f0823 319px,#870a24 322px,#ac162a 324px,#c6403e 325px,#73b1d3 326px,#2870b1 327px,#1a599a 328px,#134c88 329px,#0e4078 331px,#124984 334px,#2369ae 336px,#4292c3 337px,#d15648 338px,#b31a2c 339px,#991027 340px,#7d0723 343px,#8f0d25 346px,#a21328 347px,#bb2b34 348px,#f3a280 349px,#317cb7 350px,#15508d 352px,#0e4179 354px,#0e4279 356px,#16508e 358px,#337eb8 360px,#eb9172 361px,#ba2833 362px,#a11228 363px,#8e0c25 364px,#7d0723 367px,#9a1027 370px,#b41c2d 371px,#d45b4b 372px,#3f8ec1 373px,#2268ad 374px,#124984 376px,#0f447c 379px,#175290 381px,#2e78b5 383px,#92c5de 384px,#cb4a43 385px,#b6202f 386px,#a61429 387px,#940f26 390px,#b1182b 393px,#be2f36 394px,#d55d4c 395px,#a6cfe4 396px,#3b88be 397px,#256bae 399px,#2065aa 402px,#286fb1 404px,#3e8cbf 406px,#7db8d7 407px,#ee9778 408px,#d45d4b 409px,#c84440 410px,#be3137 412px,#c03438 414px,#cd4d44 416px,#d86450 417px,#e8896d 418px,#fce2d3 419px,#94c6df 420px,#6aabd0 421px,#57a0ca 422px,#4d99c6 424px,#58a0ca 426px,#79b5d5 428px,#c0dceb 430px,#f8f2ee 431px,#fac8af 432px,#f6b393 433px,#f4a582 436px,#f7b698 438px,#fae9df 441px,#f3f5f6fe 443px,#ecf2f5f4 444px,#eaf1f5cb 446px,#f7f7f71d 452px,#f7f7f701 454px,#0000 545px)"></i><i style="left:253px;width:12px;background:linear-gradient(#f7f7f7,#f7f7f7 185px,#f5f6f7 187px,#dfecf3 194px,#f2f5f6 197px,#f9eee8 198px,#f8bb9e 200px,#f4a684 201px,#e58368 203px,#e47f65 204px,#e7866a 206px,#ed9475 207px,#f6b090 208px,#f8f4f2 209px,#9ac9e0 210px,#6cadd1 211px,#4190c2 213px,#3986bc 215px,#408fc1 218px,#529cc8 219px,#85bdd9 220px,#f9c1a6 221px,#de735c 222px,#c53e3d 224px,#bb2a33 226px,#bb2a33 228px,#c6403e 230px,#d45b4b 231px,#f2a07e 232px,#6eaed2 233px,#3b88be 234px,#276eb0 236px,#2165ab 238px,#276eb0 241px,#408fc1 243px,#dbeaf2 244px,#d55d4c 245px,#c03438 246px,#b51d2e 247px,#aa152a 248px,#a01228 251px,#b2182b 253px,#bd2e35 254px,#d45d4b 255px,#7fb9d8 256px,#327cb7 257px,#1b5a9c 259px,#144d89 262px,#185595 264px,#2a72b2 266px,#569fc9 267px,#d45c4b 268px,#b72230 269px,#910e26 271px,#830924 273px,#920e26 276px,#a51429 277px,#bd2e36 278px,#f7b698 279px,#2f79b6 280px,#144d89 282px,#0d3f76 284px,#0d4077 286px,#154f8c 288px,#337eb8 290px,#e48166 291px,#b82430 292px,#8a0b25 294px,#7b0622 297px,#880b24 299px,#b41b2d 301px,#d65f4d 302px,#3c89be 303px,#2065ab 304px,#165290 305px,#0e4078 307px,#0d3f75 309px,#134b86 311px,#2971b2 313px,#97c8df 314px,#c13639 315px,#a61429 316px,#900d26 317px,#7c0722 319px,#840924 322px,#a9152a 324px,#c53d3d 325px,#70afd2 326px,#276eb0 327px,#195797 328px,#124a85 329px,#0c3e75 331px,#114782 334px,#2267ad 336px,#4190c2 337px,#d05347 338px,#b1182b 339px,#960f27 340px,#7e0723 342px,#810823 345px,#9f1228 347px,#ba2833 348px,#f2a07e 349px,#307ab6 350px,#1d5ea1 351px,#10447d 353px,#0d4077 356px,#154e8b 358px,#327cb7 360px,#ea8e71 361px,#b92632 362px,#9e1228 363px,#8b0c25 364px,#7a0622 367px,#970f27 370px,#b3192c 371px,#d2594a 372px,#3e8dc0 373px,#2166ac 374px,#114781 376px,#0e427a 379px,#16508d 381px,#2d76b4 383px,#8fc3dd 384px,#ca4842 385px,#b51e2e 386px,#920e26 389px,#960f26 391px,#ae172a 393px,#bc2d35 394px,#d35b4b 395px,#a4cee3 396px,#3a87bd 397px,#2469ae 399px,#1f63a8 402px,#276eb0 404px,#3d8bbf 406px,#7ab6d6 407px,#ed9576 408px,#d35a4a 409px,#c7423f 410px,#bd2e36 412px,#bf3137 414px,#cc4b43 416px,#d7624f 417px,#e7876b 418px,#fce1d2 419px,#93c5de 420px,#68aad0 421px,#559ec9 422px,#4b98c6 424px,#569fca 426px,#77b4d5 428px,#bedceb 430px,#f8f2ee 431px,#fac7ae 432px,#f6b292 433px,#f3a481 436px,#f7b597 438px,#fae9df 441px,#f3f5f6fe 443px,#ecf2f5f4 444px,#eaf1f5cb 446px,#f7f7f71d 452px,#f7f7f701 454px,#0000 545px)"></i><i style="left:265px;width:12px;background:linear-gradient(#f7f7f7,#f7f7f7 185px,#f5f6f7 187px,#dfecf3 194px,#f2f5f6 197px,#f9eee8 198px,#f8bb9e 200px,#f4a684 201px,#e58368 203px,#e47f65 204px,#e7866a 206px,#ed9475 207px,#f6b090 208px,#f8f4f2 209px,#9ac9e0 210px,#6cadd1 211px,#4190c2 213px,#3986bc 215px,#408fc1 218px,#529cc8 219px,#85bdd9 220px,#f9c1a6 221px,#de735c 222px,#c53e3d 224px,#bb2a33 226px,#bb2a33 228px,#c6403e 230px,#d45b4b 231px,#f2a07e 232px,#6eaed2 233px,#3b88be 234px,#276eb0 236px,#2165ab 238px,#276eb0 241px,#408fc1 243px,#dbeaf2 244px,#d55d4c 245px,#c03438 246px,#b51d2e 247px,#aa152a 248px,#a01228 251px,#b2182b 253px,#bd2e35 254px,#d45d4b 255px,#7fb9d8 256px,#327cb7 257px,#1b5a9c 259px,#144d89 262px,#185595 264px,#2a72b2 266px,#569fc9 267px,#d45c4b 268px,#b72230 269px,#910e26 271px,#830924 273px,#920e26 276px,#a51429 277px,#bd2e36 278px,#f7b698 279px,#2f79b6 280px,#144d89 282px,#0d3f76 284px,#0d4077 286px,#154f8c 288px,#337eb8 290px,#e48166 291px,#b82430 292px,#8a0b25 294px,#7b0622 297px,#880b24 299px,#b41b2d 301px,#d65f4d 302px,#3c89be 303px,#2065ab 304px,#165290 305px,#0e4078 307px,#0d3f75 309px,#134b86 311px,#2971b2 313px,#97c8df 314px,#c13639 315px,#a61429 316px,#900d26 317px,#7c0722 319px,#840924 322px,#a9152a 324px,#c53d3d 325px,#70afd2 326px,#276eb0 327px,#195797 328px,#124a85 329px,#0c3e75 331px,#114782 334px,#2267ad 336px,#4190c2 337px,#d05347 338px,#b1182b 339px,#960f27 340px,#7e0723 342px,#810823 345px,#9f1228 347px,#ba2833 348px,#f2a07e 349px,#307ab6 350px,#1d5ea1 351px,#10447d 353px,#0d4077 356px,#154e8b 358px,#327cb7 360px,#ea8e71 361px,#b92632 362px,#9e1228 363px,#8b0c25 364px,#7a0622 367px,#970f27 370px,#b3192c 371px,#d2594a 372px,#3e8dc0 373px,#2166ac 374px,#114781 376px,#0e427a 379px,#16508d 381px,#2d76b4 383px,#8fc3dd 384px,#ca4842 385px,#b51e2e 386px,#920e26 389px,#960f26 391px,#ae172a 393px,#bc2d35 394px,#d35b4b 395px,#a4cee3 396px,#3a87bd 397px,#2469ae 399px,#1f63a8 402px,#276eb0 404px,#3d8bbf 406px,#7ab6d6 407px,#ed9576 408px,#d35a4a 409px,#c7423f 410px,#bd2e36 412px,#bf3137 414px,#cc4b43 416px,#d7624f 417px,#e7876b 418px,#fce1d2 419px,#93c5de 420px,#68aad0 421px,#559ec9 422px,#4b98c6 424px,#569fca 426px,#77b4d5 428px,#bedceb 430px,#f8f2ee 431px,#fac7ae 432px,#f6b292 433px,#f3a481 436px,#f7b597 438px,#fae9df 441px,#f3f5f6fe 443px,#ecf2f5f4 444px,#eaf1f5cb 446px,#f7f7f71d 452px,#f7f7f701 454px,#0000 545px)"></i><i style="left:277px;width:12px;background:linear-gradient(#f7f7f7,#f7f7f7 185px,#f6f6f7 187px,#e5eef4 193px,#f3f5f6 197px,#f8f0eb 198px,#fce1d2 199px,#f6b090 201px,#e68569 204px,#e98c6e 206px,#ef9a79 207px,#f7b496 208px,#f8f5f3 209px,#9fcce2 210px,#72b1d3 211px,#4494c3 213px,#3b89be 215px,#4291c2 218px,#569fca 219px,#89bfdb 220px,#f9c4aa 221px,#e0775f 222px,#d15648 223px,#c13639 225px,#bb2b34 227px,#c8433f 230px,#d55e4c 231px,#f3a381 232px,#71b0d3 233px,#3c8abe 234px,#2870b1 236px,#2267ad 238px,#2870b1 241px,#4191c2 243px,#dceaf2 244px,#d6604d 245px,#c13739 246px,#ad162a 248px,#a21328 250px,#a9152a 252px,#b41b2c 253px,#be3137 254px,#d6604d 255px,#82bbd9 256px,#337eb8 257px,#1c5d9f 259px,#154f8c 262px,#195798 264px,#2c74b3 266px,#59a1cb 267px,#d55f4c 268px,#b92531 269px,#a41429 270px,#860a24 273px,#8b0c25 275px,#a81529 277px,#bf3137 278px,#f7b89b 279px,#317bb7 280px,#154f8c 282px,#0e4179 284px,#0e427a 286px,#16518f 288px,#3580b9 290px,#e58468 291px,#b92632 292px,#9f1228 293px,#8d0c25 294px,#7d0723 297px,#8b0b25 299px,#b51e2e 301px,#d7624e 302px,#3d8bbf 303px,#2267ac 304px,#175492 305px,#0f427b 307px,#0e4178 309px,#144d89 311px,#2b73b2 313px,#9ac9e0 314px,#c2393b 315px,#a9152a 316px,#930e26 317px,#7f0823 319px,#870a24 322px,#ac162a 324px,#c6403e 325px,#73b1d3 326px,#2870b1 327px,#1a599a 328px,#134c88 329px,#0e4078 331px,#124984 334px,#2369ae 336px,#4292c3 337px,#d15648 338px,#b31a2c 339px,#991027 340px,#7d0723 343px,#8f0d25 346px,#a21328 347px,#bb2b34 348px,#f3a280 349px,#317cb7 350px,#15508d 352px,#0e4179 354px,#0e4279 356px,#16508e 358px,#337eb8 360px,#eb9172 361px,#ba2833 362px,#a11228 363px,#8e0c25 364px,#7d0723 367px,#9a1027 370px,#b41c2d 371px,#d45b4b 372px,#3f8ec1 373px,#2268ad 374px,#124984 376px,#0f447c 379px,#175290 381px,#2e78b5 383px,#92c5de 384px,#cb4a43 385px,#b6202f 386px,#a61429 387px,#940f26 390px,#b1182b 393px,#be2f36 394px,#d55d4c 395px,#a6cfe4 396px,#3b88be 397px,#256bae 399px,#2065aa 402px,#286fb1 404px,#3e8cbf 406px,#7db8d7 407px,#ee9778 408px,#d45d4b 409px,#c84440 410px,#be3137 412px,#c03438 414px,#cd4d44 416px,#d86450 417px,#e8896d 418px,#fce2d3 419px,#94c6df 420px,#6aabd0 421px,#57a0ca 422px,#4d99c6 424px,#58a0ca 426px,#79b5d5 428px,#c0dceb 430px,#f8f2ee 431px,#fac8af 432px,#f6b393 433px,#f4a582 436px,#f7b698 438px,#fae9df 441px,#f3f5f6fe 443px,#ecf2f5f4 444px,#eaf1f5cb 446px,#f7f7f71d 452px,#f7f7f701 454px,#0000 545px)"></i><i style="left:289px;width:12px;background:linear-gradient(#f7f7f7,#f7f7f7 186px,#f5f6f7 188px,#e7f0f4 193px,#f3f5f6 197px,#fbe6da 199px,#f5ab89 202px,#e98c6f 205px,#f2a07e 207px,#f7b99c 208px,#f7f5f3 209px,#a5cfe3 210px,#79b5d6 211px,#4c98c6 213px,#3f8dc0 215px,#4695c4 218px,#5da3cc 219px,#8fc3dd 220px,#fac8af 221px,#e27d63 222px,#d45c4b 223px,#c43b3c 225px,#be3137 227px,#ca4842 230px,#d7634f 231px,#f4a785 232px,#76b4d5 233px,#3f8dc0 234px,#2b73b3 236px,#246aae 238px,#2b73b2 241px,#4494c3 243px,#deebf2 244px,#d86551 245px,#c43c3c 246px,#b2192b 248px,#a71429 250px,#ae172a 252px,#c13639 254px,#d86450 255px,#88bfdb 256px,#3581ba 257px,#1e60a4 259px,#175391 262px,#1b5b9d 264px,#2e77b5 266px,#5ea4cc 267px,#d76350 268px,#bb2a34 269px,#a9152a 270px,#8b0c25 273px,#900d26 275px,#ad172a 277px,#c13639 278px,#f8bca0 279px,#337eb8 280px,#1f63a8 281px,#124a85 283px,#0f437c 285px,#185594 288px,#3783bb 290px,#e8886c 291px,#bc2b34 292px,#a51429 293px,#880b24 295px,#820923 297px,#900d26 299px,#b72330 301px,#d96652 302px,#3f8ec0 303px,#246aae 304px,#195797 305px,#104680 307px,#10447d 309px,#16508e 311px,#2d76b4 313px,#9ecbe1 314px,#c53e3d 315px,#ae172a 316px,#981027 317px,#840924 319px,#8c0c25 322px,#b1182b 324px,#c84540 325px,#78b5d5 326px,#2b73b2 327px,#1c5d9f 328px,#154f8d 329px,#0f447d 331px,#144d89 334px,#266caf 336px,#4795c4 337px,#d35b4a 338px,#b61f2e 339px,#9e1228 340px,#820923 343px,#940e26 346px,#a71429 347px,#be3036 348px,#f4a684 349px,#347fb9 350px,#175392 352px,#10457e 354px,#10457e 356px,#185493 358px,#3581ba 360px,#ed9576 361px,#bd2d35 362px,#a61429 363px,#930e26 364px,#820923 367px,#9f1228 370px,#b6212f 371px,#d6604d 372px,#4291c2 373px,#256baf 374px,#144d89 376px,#114781 379px,#185595 381px,#317bb7 383px,#96c7df 384px,#ce4f45 385px,#b82531 386px,#aa162a 387px,#991027 390px,#b41b2d 393px,#c03438 394px,#d7624e 395px,#a9d1e5 396px,#3d8bbf 397px,#276db0 399px,#2267ad 402px,#2a72b2 404px,#408fc1 406px,#81bad8 407px,#f09b7b 408px,#d6614e 409px,#ca4842 410px,#c03438 412px,#c2373a 414px,#ce5146 416px,#d96853 417px,#e98c6f 418px,#fbe3d5 419px,#97c8e0 420px,#6daed1 421px,#5aa2cb 422px,#509bc8 424px,#5ba2cb 426px,#7cb7d6 428px,#98c8e0 429px,#f8f2ee 431px,#facab1 432px,#f7b495 433px,#f4a684 436px,#f7b79a 438px,#fae9df 441px,#f3f5f6fe 443px,#ecf2f5f4 444px,#ebf1f5cb 446px,#f7f7f71d 452px,#f7f7f701 454px,#0000 545px)"></i><i style="left:301px;width:6px;background:linear-gradient(#f7f7f7,#f7f7f7 187px,#e9f0f4 193px,#f5f6f7 197px,#fae7dc 199px,#f6b192 202px,#ec9374 205px,#f4a784 207px,#f9c1a6 208px,#f3f5f6 209px,#a5cfe3 210px,#7db7d7 211px,#519cc8 213px,#4191c2 215px,#4292c2 217px,#65a8cf 219px,#9bc9e1 220px,#f9c1a6 221px,#e37e64 222px,#d65f4d 223px,#c6403e 225px,#c13639 227px,#c53e3d 229px,#cd4e44 230px,#da6a55 231px,#f6b293 232px,#76b3d4 233px,#408fc1 234px,#2d75b4 236px,#266db0 238px,#2d76b4 241px,#4b98c6 243px,#ebeef0 244px,#d96753 245px,#c63f3d 246px,#bb2933 247px,#af172a 249px,#b2192c 252px,#c43b3c 254px,#db6b55 255px,#88bfdb 256px,#3783bb 257px,#1b5b9d 260px,#1a5999 263px,#307ab6 266px,#65a9cf 267px,#d96752 268px,#bd2e36 269px,#ae172a 270px,#950f26 272px,#900d26 274px,#a01228 276px,#b2192b 277px,#c43b3c 278px,#f9c3a8 279px,#3581ba 280px,#195696 282px,#124883 284px,#154e8b 287px,#2369ad 289px,#3986bc 290px,#e98d6f 291px,#be3036 292px,#a9152a 293px,#8d0c25 295px,#870a24 297px,#a51429 300px,#ba2732 301px,#db6b55 302px,#4191c2 303px,#266daf 304px,#1b5b9c 305px,#124a85 307px,#114882 309px,#185493 311px,#2f79b5 313px,#a2cde3 314px,#c7423f 315px,#b2192b 316px,#900d26 318px,#870a24 320px,#910d26 322px,#b41b2d 324px,#cb4942 325px,#7db8d7 326px,#2d76b4 327px,#1e60a4 328px,#134b87 330px,#124a85 333px,#286fb1 336px,#4c99c6 337px,#d65f4d 338px,#b82430 339px,#a31329 340px,#870a24 343px,#991027 346px,#ac162a 347px,#c03438 348px,#f5aa88 349px,#3682ba 350px,#195797 352px,#124883 354px,#124983 356px,#195798 358px,#3784bb 360px,#ef9a79 361px,#bf3237 362px,#ab162a 363px,#981027 364px,#870a24 367px,#a41329 370px,#b92531 371px,#d86551 372px,#4594c4 373px,#276eb0 374px,#1c5b9d 375px,#16508e 376px,#124984 378px,#1a599a 381px,#337eb8 383px,#9ac9e0 384px,#d05447 385px,#bb2933 386px,#af172b 387px,#9e1228 389px,#a21328 391px,#b6202f 393px,#c2383a 394px,#d86651 395px,#add3e6 396px,#3f8ec0 397px,#2970b1 399px,#2369ae 401px,#2c74b3 404px,#4191c2 406px,#85bdda 407px,#f19f7d 408px,#d86450 409px,#cc4b43 410px,#c2383a 412px,#c33b3b 414px,#d05447 416px,#db6b55 417px,#eb9072 418px,#fbe4d7 419px,#9ac9e0 420px,#71b0d3 421px,#5ea4cc 422px,#539dc9 424px,#5ea4cc 426px,#7eb9d7 428px,#9ac9e0 429px,#f8f2ef 431px,#faccb4 432px,#f7b698 433px,#f4a886 436px,#f7b99b 438px,#fae9e0 441px,#f3f5f6fe 443px,#eaf1f5e2 445px,#f4f6f68f 448px,#f7f7f734 451px,#f7f7f70b 453px,#f7f7f701 454px,#0000 545px)"></i><i style="left:307px;width:6px;transform:skewY(-4.4deg);background:linear-gradient(#f7f7f7,#f7f7f7 187px,#eaf1f5 193px,#f1f4f6 196px,#f7f6f5 197px,#fbe4d7 199px,#f6b192 202px,#ef9978 205px,#f6b293 207px,#fcdecc 208px,#d6e7f1 209px,#96c7df 210px,#74b2d4 211px,#509bc7 213px,#4292c3 215px,#4896c5 217px,#59a1ca 218px,#79b5d5 219px,#d5e7f1 220px,#f3a27f 221px,#de735b 222px,#cb4a43 224px,#c3393b 227px,#c94641 229px,#d35a4a 230px,#e37f65 231px,#e8f0f4 232px,#5ca3cc 233px,#3c8abe 234px,#2c75b4 236px,#276fb0 238px,#2b73b3 240px,#3c8abe 242px,#6aabd0 243px,#f4a684 244px,#d2594a 245px,#c3393b 246px,#b1182b 249px,#b2182b 251px,#bd2e36 253px,#cb4a43 254px,#ea8f71 255px,#5ba2cb 256px,#337db8 257px,#1c5c9e 260px,#1c5c9f 263px,#286fb1 265px,#3884bc 266px,#b2d5e7 267px,#d05447 268px,#ba2933 269px,#ac162a 270px,#970f27 272px,#950f26 274px,#a71429 276px,#b72230 277px,#cc4d44 278px,#96c7df 279px,#317bb6 280px,#195696 282px,#134a86 284px,#144c88 286px,#1d5da0 288px,#286fb1 289px,#4493c3 290px,#dc6f58 291px,#bc2b34 292px,#a9152a 293px,#8b0b25 296px,#900d26 298px,#ac162a 300px,#bf3137 301px,#e6866a 302px,#3d8bbf 303px,#256caf 304px,#134c87 307px,#134b86 309px,#1a5898 311px,#337eb8 313px,#e9e6e5 314px,#c6403e 315px,#b21a2c 316px,#9e1228 317px,#8c0c25 319px,#8d0c25 321px,#a31329 323px,#b7212f 324px,#cf5347 325px,#70afd2 326px,#2d76b4 327px,#1f62a6 328px,#144d8a 330px,#144d89 333px,#2a72b2 336px,#58a0ca 337px,#d55f4d 338px,#b92631 339px,#a61429 340px,#8e0c25 342px,#8c0c25 344px,#9d1128 346px,#b0172b 347px,#c3393b 348px,#ecb9a4 349px,#3783bb 350px,#1a599a 352px,#134b86 354px,#16508e 357px,#246aae 359px,#3a87bd 360px,#efa489 361px,#c13539 362px,#ae172a 363px,#910d26 365px,#8b0b25 367px,#a81529 370px,#bb2933 371px,#da6a55 372px,#4d98c6 373px,#2970b1 374px,#144d89 377px,#144d8a 379px,#1c5b9d 381px,#3580b9 383px,#aacde0 384px,#d25849 385px,#bc2d35 386px,#b2192c 387px,#a21328 389px,#ae172a 392px,#c43b3c 394px,#da6954 395px,#b9d7e6 396px,#4190c1 397px,#2a72b2 399px,#256caf 402px,#2d76b4 404px,#4493c3 406px,#8abfdb 407px,#f2a283 408px,#d96752 409px,#cd4e45 410px,#c33b3b 412px,#c53e3d 414px,#d15749 416px,#dc6d57 417px,#ec9274 418px,#fae3d7 419px,#9dcae1 420px,#73b2d3 421px,#60a6cd 422px,#569fc9 424px,#60a6cd 426px,#81bad8 428px,#9ccae1 429px,#f8f2ee 431px,#fbcfb7 432px,#f7b799 433px,#f5a987 436px,#f7ba9c 438px,#faeae0 441px,#f3f5f6fe 443px,#eaf1f5e2 445px,#f4f6f68f 448px,#f7f7f734 451px,#f7f7f70b 453px,#f7f7f701 454px,#0000 545px)"></i><i style="left:313px;width:6px;transform:skewY(-8.84deg);background:linear-gradient(#f7f7f7,#f7f7f7 187px,#f3f5f6 189px,#ebf2f5 193px,#f6f6f7 196px,#fcdfcd 199px,#f8bb9e 201px,#f4a684 203px,#f2a17f 205px,#f6ae8e 206px,#faccb4 207px,#edf2f5 208px,#a7d0e4 209px,#69abd0 211px,#4d99c6 213px,#4695c4 215px,#569fca 217px,#70b0d2 218px,#aad1e5 219px,#f8bb9e 220px,#e48166 221px,#cf5246 223px,#c63f3d 225px,#c53f3d 227px,#d15648 229px,#df745c 230px,#f9c5ab 231px,#75b2d4 232px,#4291c2 233px,#2f79b6 235px,#2971b2 237px,#2c74b3 239px,#3a86bd 241px,#57a0ca 242px,#f9ede5 243px,#da6a55 244px,#c84440 245px,#be2f36 246px,#b41b2d 248px,#b6202f 251px,#c8433f 253px,#df745d 254px,#88beda 255px,#3a87bd 256px,#2268ad 258px,#1b5b9d 261px,#2064a9 263px,#347fb9 265px,#6daed1 266px,#dc6d57 267px,#c13539 268px,#b41b2d 269px,#981027 272px,#9c1128 274px,#b51e2e 276px,#c6403e 277px,#f7b697 278px,#3a87bd 279px,#256caf 280px,#175391 282px,#144c88 284px,#175391 286px,#256baf 288px,#3986bd 289px,#f5ad8d 290px,#c43b3c 291px,#b2192c 292px,#950f26 294px,#8e0d25 296px,#a9152a 299px,#ba2933 300px,#d6614e 301px,#5ba2cb 302px,#2c75b4 303px,#195696 305px,#144d89 308px,#195797 310px,#2e77b5 312px,#6aacd0 313px,#d35a4a 314px,#b92632 315px,#a81529 316px,#8e0d25 319px,#a11328 322px,#b31b2c 323px,#c63f3d 324px,#facfb9 325px,#3783bb 326px,#246aae 327px,#175291 329px,#154e8b 332px,#1c5d9f 334px,#3b88bd 336px,#f2a280 337px,#c3393b 338px,#b2182b 339px,#9f1228 340px,#8e0d25 343px,#aa152a 346px,#bb2a33 347px,#d86450 348px,#58a0ca 349px,#2c74b3 350px,#195696 352px,#144d89 355px,#195797 357px,#2e77b5 359px,#6cadd1 360px,#d2594a 361px,#b92632 362px,#a81529 363px,#8e0d25 366px,#a11328 369px,#b31b2c 370px,#c53f3d 371px,#f9cdb7 372px,#3784bb 373px,#1c5b9d 375px,#154e8b 378px,#1f62a7 381px,#3f8ec1 383px,#f6b192 384px,#ca4842 385px,#ba2833 386px,#b1182b 387px,#a41429 389px,#b31b2c 392px,#ca4741 394px,#e48166 395px,#81bad8 396px,#3d8bbf 397px,#2a72b2 399px,#266daf 401px,#3986bc 405px,#519cc8 406px,#b2d5e7 407px,#ea8e71 408px,#d7624f 409px,#c7423f 411px,#c43c3c 413px,#d55e4c 416px,#e0775f 417px,#f3a280 418px,#eff3f5 419px,#92c5de 420px,#70afd2 421px,#60a5cd 422px,#58a0ca 424px,#65a9cf 426px,#89bfdb 428px,#a5cfe3 429px,#dae9f2 430px,#faebe2 431px,#fac7ae 432px,#f7b597 433px,#f5ab89 436px,#f8bea2 438px,#fce2d3 440px,#f7f5f3 442px,#f1f4f6fc 443px,#eaf1f5dd 445px,#f7f7f72e 451px,#f7f7f708 453px,#0000 454px,#0000 545px)"></i><i style="left:319px;width:6px;transform:skewY(-11.21deg);background:linear-gradient(#f7f7f7,#f7f7f7 186px,#f1f4f6 189px,#f5f6f7 195px,#fce2d3 198px,#f7b697 201px,#f4a683 204px,#f6af8f 205px,#fac9b0 206px,#f4f5f5 207px,#b1d5e7 208px,#70afd2 210px,#539dc8 212px,#4a97c5 214px,#58a0ca 216px,#6fafd2 217px,#a2cde3 218px,#fbceb7 219px,#e8896d 220px,#da6a55 221px,#cb4b43 223px,#c6403e 225px,#ca4842 227px,#d15749 228px,#de735b 229px,#f7b89b 230px,#82bbd8 231px,#4795c4 232px,#317bb7 234px,#2b73b3 236px,#2d76b4 238px,#3a87bd 240px,#569fca 241px,#eceef0 242px,#dd715a 243px,#cb4942 244px,#c03438 245px,#b41c2d 248px,#be2f36 251px,#c94540 252px,#df745d 253px,#93c5de 254px,#3c8abe 255px,#246aae 257px,#1d5ea1 260px,#2166ac 262px,#3581ba 264px,#70afd2 265px,#dd715a 266px,#c2393b 267px,#b51f2e 268px,#9b1127 271px,#a01228 273px,#b72330 275px,#c84540 276px,#f9c5aa 277px,#3b88bd 278px,#1d5ea1 280px,#154f8c 283px,#1e5fa3 286px,#3d8bbf 288px,#f19e7c 289px,#c43b3c 290px,#b31b2c 291px,#981027 293px,#920e26 295px,#af172a 298px,#be3036 299px,#dd6f59 300px,#509bc8 301px,#2c74b3 302px,#1a5898 304px,#154f8c 306px,#1b5b9d 309px,#327db8 311px,#93c5de 312px,#cf5146 313px,#b82531 314px,#a81529 315px,#920e26 318px,#a71529 321px,#b82330 322px,#cd4e44 323px,#abd2e5 324px,#347fb9 325px,#1c5c9e 327px,#15508d 329px,#195798 332px,#2b73b3 334px,#4a97c5 335px,#e0785f 336px,#bf3238 337px,#b0172b 338px,#920e26 341px,#970f27 343px,#b21a2c 345px,#c2383a 346px,#ea9073 347px,#408fc1 348px,#2970b1 349px,#1e60a4 350px,#16518f 352px,#185494 355px,#256baf 357px,#3784bb 358px,#d9cec9 359px,#c94641 360px,#b6202f 361px,#991027 363px,#950f26 366px,#ab162a 368px,#ba2933 369px,#d45c4c 370px,#7ab5d6 371px,#307ab6 372px,#1b5a9b 374px,#16518e 376px,#1d5ea1 379px,#327db8 381px,#71b0d3 382px,#df745c 383px,#c43b3c 384px,#b82330 385px,#a71529 388px,#b1192b 390px,#c3393b 392px,#d55e4e 393px,#e6c2b3 394px,#58a0ca 395px,#3885bc 396px,#2a72b2 398px,#286fb1 400px,#2e77b5 402px,#4290c2 404px,#73b1d3 405px,#f2d1c1 406px,#e17960 407px,#d35a4a 408px,#cb4a43 409px,#c53f3d 411px,#cb4942 413px,#db6b55 415px,#e88a6d 416px,#f9c6ad 417px,#bcdbea 418px,#82bbd9 419px,#6aacd0 420px,#5ba2cb 422px,#62a7ce 424px,#7eb8d7 426px,#bad9e9 428px,#eef2f4 429px,#fcddcc 430px,#f8bfa3 431px,#f6b293 432px,#f5ab8a 434px,#f7b89a 436px,#fae7db 439px,#f5f6f6 441px,#eef3f5f8 442px,#ebf1f5d2 444px,#f7f7f723 450px,#f7f7f704 452px,#0000 453px,#0000 545px)"></i><i style="left:325px;width:6px;transform:skewY(-11.57deg);background:linear-gradient(#f7f7f7,#f7f7f7 186px,#f3f5f6 188px,#f5f6f7 194px,#f8f4f1 195px,#fddac6 198px,#f8bb9f 200px,#f5ab8a 203px,#f6b191 204px,#fac9b0 205px,#f6f4f3 206px,#b7d8e9 207px,#75b3d4 209px,#57a0ca 211px,#4e9ac7 213px,#5ba2cb 215px,#71b0d3 216px,#a1cde2 217px,#fbd7c4 218px,#ea8f71 219px,#dc6e58 220px,#cd4e45 222px,#c84440 224px,#d3594a 227px,#df755d 228px,#f7b89a 229px,#87beda 230px,#4b98c6 231px,#3a87bd 232px,#2c75b4 235px,#2e78b5 237px,#3c8abe 239px,#5ba2cb 240px,#efeeee 241px,#de735c 242px,#cc4c43 243px,#bb2933 245px,#b61f2e 247px,#b92732 249px,#cb4a43 251px,#e27c63 252px,#8bc0dc 253px,#3c8abe 254px,#2e77b5 255px,#2065ab 257px,#1f63a8 260px,#2b73b3 262px,#3985bc 263px,#86bdda 264px,#db6b56 265px,#c2393a 266px,#b6202f 267px,#9e1228 270px,#b0172b 273px,#bb2933 274px,#ce5046 275px,#d7e7f1 276px,#3884bb 277px,#266daf 278px,#195696 280px,#185493 283px,#2c75b3 286px,#4b98c6 287px,#e27b62 288px,#c13639 289px,#b3192c 290px,#960f26 293px,#9b1127 295px,#b51d2e 297px,#c53e3d 298px,#f09d7c 299px,#3f8ec0 300px,#2971b2 301px,#1f62a6 302px,#175392 304px,#175391 306px,#1e61a5 308px,#3c8abe 310px,#f6b495 311px,#c7423f 312px,#b61f2f 313px,#a71429 314px,#950f26 317px,#b1182b 320px,#bf3338 321px,#de725b 322px,#549ec9 323px,#2d76b4 324px,#1b5a9c 326px,#175290 329px,#1d5ea1 331px,#3581ba 333px,#b5d7e8 334px,#ce5046 335px,#b92632 336px,#9e1228 338px,#981027 341px,#ad162a 343px,#bb2b34 344px,#d45b4b 345px,#81bad8 346px,#327cb7 347px,#185595 350px,#185594 353px,#307ab6 356px,#70b0d3 357px,#d7624f 358px,#bd2d35 359px,#af172a 360px,#981027 362px,#970f27 364px,#a9152a 366px,#b82431 367px,#cc4d44 368px,#c7cccf 369px,#3783bb 370px,#1d5fa2 372px,#185493 375px,#1d5fa2 377px,#317cb7 379px,#5fa5cd 380px,#e6866b 381px,#c7433f 382px,#ba2833 383px,#ad162a 385px,#b31a2c 388px,#c43c3c 390px,#d6614f 391px,#eac8ba 392px,#5aa2cb 393px,#3986bc 394px,#2b73b3 396px,#2971b2 398px,#3079b6 400px,#4593c3 402px,#7ab6d6 403px,#f3cbb8 404px,#e17960 405px,#d45c4b 406px,#c84440 408px,#c84440 410px,#dc6e58 413px,#ea8e70 414px,#f9cdb6 415px,#b9d9e9 416px,#83bbd9 417px,#6badd1 418px,#5da3cc 420px,#65a8cf 422px,#81bad8 424px,#9ac9e0 425px,#f0f2f3 427px,#fcddcb 428px,#f8bfa3 429px,#f6b394 430px,#f5ac8b 432px,#f7b99c 434px,#fae7dc 437px,#f5f6f6 439px,#eef3f5f7 440px,#ebf1f5d1 442px,#f7f7f722 448px,#f7f7f703 450px,#0000 451px,#0000 545px)"></i><i style="left:331px;width:6px;transform:skewY(-9.95deg);background:linear-gradient(#f7f7f7,#f7f7f7 185px,#f2f5f6 188px,#f1f4f6 192px,#f5f6f7 193px,#f8f5f3 194px,#fcddcb 197px,#f9c1a6 199px,#f6b090 202px,#f7b596 203px,#fac9b0 204px,#f8f3f0 205px,#c0dceb 206px,#96c7df 207px,#7bb6d6 208px,#5ca3cc 210px,#529dc8 212px,#5ea4cc 214px,#72b1d3 215px,#9ecbe1 216px,#fbe3d5 217px,#ed9576 218px,#de735c 219px,#d65f4d 220px,#cb4b43 222px,#ca4842 224px,#d45b4b 226px,#df755d 227px,#f6b495 228px,#8fc3dd 229px,#509bc7 230px,#3c89be 231px,#2e77b5 234px,#307ab6 236px,#3d8bbf 238px,#5da3cc 239px,#eef2f4 240px,#e0775e 241px,#ce4f45 242px,#c33a3b 243px,#b92531 245px,#b82431 247px,#c13739 249px,#cd4e44 250px,#e48066 251px,#8cc1dc 252px,#3d8cbf 253px,#276db0 255px,#2063a8 257px,#256baf 260px,#3b88be 262px,#94c6de 263px,#da6a55 264px,#c33a3b 265px,#ae172a 267px,#a31329 270px,#b31a2c 272px,#bd2f36 273px,#d2594a 274px,#a8d0e4 275px,#3783bb 276px,#1e60a4 278px,#185493 280px,#1c5da0 283px,#3079b6 285px,#5ea4cc 286px,#dc6f58 287px,#c03438 288px,#b31a2c 289px,#991027 292px,#ab162a 295px,#b82531 296px,#cb4942 297px,#fcdfce 298px,#3b89be 299px,#1f62a7 301px,#175493 304px,#2166ac 307px,#2d75b4 308px,#4997c5 309px,#e7866a 310px,#c43b3c 311px,#b51e2e 312px,#9d1128 314px,#9e1228 317px,#b6202f 319px,#c6413e 320px,#f19f7d 321px,#4190c1 322px,#2b73b2 323px,#2064aa 324px,#175492 327px,#2064a9 330px,#3f8ec1 332px,#f4a785 333px,#c7423f 334px,#b7212f 335px,#a9152a 336px,#991027 339px,#b51d2d 342px,#c33a3b 343px,#e58368 344px,#4b98c6 345px,#2d76b4 346px,#2166ac 347px,#175493 350px,#1f62a7 353px,#3b89be 355px,#fad9c8 356px,#ca4942 357px,#b82431 358px,#ab162a 359px,#991027 362px,#b31b2c 365px,#c13539 366px,#de735c 367px,#59a1ca 368px,#2f78b5 369px,#1c5d9f 371px,#185695 373px,#2166ac 376px,#3d8bbf 378px,#dae9f1 379px,#d45c4b 380px,#c13639 381px,#b82330 382px,#ae172a 385px,#b72330 387px,#cd4e45 389px,#e6866a 390px,#8dc2dc 391px,#4291c2 392px,#2b73b3 395px,#2f78b5 398px,#3e8cbf 400px,#5ca3cc 401px,#c1ddeb 402px,#ec9475 403px,#da6954 404px,#cb4942 406px,#c84440 408px,#d15548 410px,#e37f65 412px,#f5aa88 413px,#ecf1f4 414px,#97c7df 415px,#76b3d4 416px,#66a9cf 417px,#5fa5cd 419px,#6cadd1 421px,#90c4dd 423px,#abd2e5 424px,#deebf2 425px,#faebe2 426px,#facab1 427px,#f7b89b 428px,#f5ae8d 431px,#f9c1a6 433px,#fbe3d5 435px,#f7f5f4 437px,#f1f4f6fc 438px,#eaf1f5dc 440px,#f7f7f72d 446px,#f7f7f707 448px,#0000 449px,#0000 545px)"></i><i style="left:337px;width:6px;transform:skewY(-6.28deg);background:linear-gradient(#f7f7f7,#f7f7f7 185px,#f1f4f6 188px,#f1f4f6 191px,#f7f6f5 193px,#fce1d2 196px,#f8bea3 199px,#f7b597 201px,#f9c5ab 203px,#f9ece4 204px,#d4e6f0 205px,#9fcce2 206px,#83bcd9 207px,#62a7ce 209px,#569fca 211px,#60a5cd 213px,#71b0d3 214px,#96c7df 215px,#f7f6f5 216px,#f3a380 217px,#e27c62 218px,#d86651 219px,#ce4f45 221px,#cc4b43 223px,#d45b4b 225px,#de725a 226px,#f4a583 227px,#a6cfe4 228px,#5ba2cb 229px,#3f8ec0 230px,#2f79b6 233px,#317bb7 235px,#3c8abf 237px,#569fca 238px,#bbdaea 239px,#e68569 240px,#d25749 241px,#c63f3e 242px,#b92531 245px,#c1373a 248px,#cc4c43 249px,#e0775e 250px,#afd4e6 251px,#4292c2 252px,#2971b1 254px,#2166ac 256px,#256caf 259px,#3986bd 261px,#7ab6d6 262px,#e17a61 263px,#c7423f 264px,#ba2832 265px,#b2182b 266px,#a51429 268px,#b41b2c 271px,#bd2e35 272px,#d05347 273px,#f5f3f1 274px,#3c8abe 275px,#2064a9 277px,#195696 280px,#1d5ea1 282px,#2f78b5 284px,#519cc8 285px,#e58267 286px,#c43c3c 287px,#b6202f 288px,#9c1127 291px,#ac162a 294px,#b82431 295px,#c94540 296px,#f5a988 297px,#4190c2 298px,#2c74b3 299px,#1c5d9f 301px,#195798 304px,#2c74b3 307px,#4191c2 308px,#f4a785 309px,#c84540 310px,#b82431 311px,#a11328 313px,#9c1127 315px,#b6202f 318px,#c43c3c 319px,#e58368 320px,#509bc8 321px,#2f78b5 322px,#1d5ea1 324px,#195797 327px,#2064a9 329px,#3b88be 331px,#e8e3e0 332px,#ce5045 333px,#bb2933 334px,#af172b 335px,#a31329 336px,#9c1127 338px,#a71429 340px,#b41b2d 341px,#c03438 342px,#da6a55 343px,#71b0d3 344px,#337db8 345px,#256baf 346px,#195696 349px,#1f61a5 352px,#3581ba 354px,#8cc0db 355px,#d6614f 356px,#be3137 357px,#b21a2c 358px,#9e1228 360px,#9d1128 362px,#b1182b 364px,#bc2c34 365px,#d15648 366px,#bdcad2 367px,#3986bc 368px,#1f63a8 370px,#1a5899 373px,#2063a8 375px,#347fb9 377px,#64a8ce 378px,#e98f73 379px,#cb4a42 380px,#bd2f36 381px,#b2192c 383px,#b2192b 385px,#bc2b34 387px,#c53f3d 388px,#d6614f 389px,#f3c0aa 390px,#69abd0 391px,#3d8bbf 392px,#2e77b5 394px,#2c74b3 396px,#317cb7 398px,#4493c3 400px,#73b2d4 401px,#efdcd2 402px,#e68469 403px,#d76350 404px,#cf5347 405px,#c94641 407px,#d45c4b 410px,#e98c6f 412px,#f9c2a7 413px,#cae1ed 414px,#8cc1dc 415px,#72b1d3 416px,#62a7ce 419px,#72b1d3 421px,#99c8e0 423px,#b9d9e9 424px,#ecf2f5 425px,#fbe2d4 426px,#f9c4aa 427px,#f7b698 428px,#f6b090 431px,#fac6ad 433px,#fbe6da 435px,#f6f6f6 437px,#eff3f6f9 438px,#ebf1f5d5 440px,#f7f7f726 446px,#f7f7f704 448px,#0000 449px,#0000 545px)"></i><i style="left:343px;width:6px;transform:skewY(-0.5deg);background:linear-gradient(#f7f7f7,#f7f7f7 185px,#f1f4f6 188px,#f3f5f6 191px,#f7f7f7 192px,#f8bb9e 200px,#f9c3a8 202px,#fcdfcf 203px,#eaf1f5 204px,#b2d5e7 205px,#92c5de 206px,#6aacd0 208px,#5ba2cb 210px,#6cadd1 213px,#86beda 214px,#c7e0ed 215px,#f8bea2 216px,#e98c6f 217px,#dd705a 218px,#d15548 220px,#cd4d44 222px,#d25949 224px,#da6954 225px,#e98b6e 226px,#f3ece7 227px,#75b3d4 228px,#4896c5 229px,#3580b9 231px,#307ab6 233px,#347fb9 235px,#4795c4 237px,#7fb9d8 238px,#f6b495 239px,#da6a55 240px,#cc4b43 241px,#bd2f36 243px,#ba2833 245px,#c8433f 248px,#d6614e 249px,#f6b294 250px,#65a8cf 251px,#3a87bd 252px,#276eb0 254px,#2267ac 256px,#2a72b2 259px,#337eb8 260px,#4b98c6 261px,#f8d5c3 262px,#d35a4a 263px,#c13639 264px,#b72230 265px,#a71529 268px,#b1182b 270px,#b92531 271px,#c53e3d 272px,#e0785f 273px,#69abd0 274px,#337eb8 275px,#1f61a6 277px,#1a5899 279px,#2064a9 282px,#3884bb 284px,#9ac9e0 285px,#d55e4c 286px,#bf3137 287px,#b31b2c 288px,#9e1228 291px,#b31a2c 294px,#be3036 295px,#d45b4b 296px,#a8d0e4 297px,#3985bc 298px,#2064aa 300px,#1a5999 302px,#1e61a5 305px,#317cb7 307px,#5da4cc 308px,#e27b62 309px,#c43c3c 310px,#b6212f 311px,#9f1228 314px,#af172b 317px,#ba2732 318px,#ca4842 319px,#f5ad8c 320px,#4292c2 321px,#2d76b4 322px,#2268ad 323px,#1a5898 326px,#2267ad 329px,#4090c1 331px,#f8bb9e 332px,#cb4b43 333px,#ba2833 334px,#b0172b 335px,#9e1228 338px,#b6202f 341px,#c33a3b 342px,#df755d 343px,#64a8ce 344px,#327db8 345px,#1f61a6 347px,#1a5899 349px,#2064a9 352px,#3784bb 354px,#95c7df 355px,#d6604d 356px,#bf3237 357px,#b41b2d 358px,#9e1228 361px,#b31a2c 364px,#be2f36 365px,#d2594a 366px,#b6d7e8 367px,#3a87bd 368px,#2065aa 370px,#1b5a9b 372px,#2165ab 375px,#3580ba 377px,#64a8ce 378px,#e98c6f 379px,#cc4c43 380px,#bf3137 381px,#b3192c 384px,#b7212f 386px,#c7413e 388px,#d7634f 389px,#f8ba9d 390px,#69abd0 391px,#3e8dc0 392px,#2f79b6 394px,#2d75b4 396px,#327db8 398px,#4594c4 400px,#74b2d4 401px,#faeae1 402px,#e6866a 403px,#d86551 404px,#d05548 405px,#ca4842 407px,#d55e4c 410px,#ea8e70 412px,#f9c0a5 413px,#cce2ef 414px,#8ec2dd 415px,#74b2d4 416px,#64a8ce 419px,#73b2d4 421px,#9ac9e0 423px,#bad9e9 424px,#ecf2f5 425px,#fbe3d5 426px,#f9c5aa 427px,#f7b799 428px,#f6b191 431px,#fac7ad 433px,#fddcc8 434px,#f6f7f7 437px,#eff3f6f9 438px,#ebf1f5d5 440px,#f7f7f725 446px,#f7f7f704 448px,#0000 449px,#0000 545px)"></i><i style="left:349px;width:6px;background:linear-gradient(#f7f7f7,#f7f7f7 185px,#f1f4f6 189px,#f7f6f6 192px,#f9ede6 194px,#fac9b0 198px,#f8bfa3 200px,#faccb4 202px,#fae9de 203px,#deebf2 204px,#aad1e5 205px,#8ec2dd 206px,#6bacd1 208px,#5ea4cc 210px,#65a9cf 212px,#75b2d4 213px,#95c6df 214px,#e9f0f4 215px,#f6ae8e 216px,#e6856a 217px,#dc6e58 218px,#ce5146 221px,#d55e4c 224px,#dd715a 225px,#f09b7a 226px,#d2e5f0 227px,#6aacd0 228px,#4494c3 229px,#327db8 232px,#3681ba 235px,#509bc7 237px,#95c7df 238px,#f2a07e 239px,#d86551 240px,#c33a3b 242px,#bb2b34 244px,#bd2e36 246px,#ca4942 248px,#da6954 249px,#fcd3bd 250px,#5ca3cc 251px,#3986bc 252px,#246aae 255px,#266daf 258px,#3681ba 260px,#549ec9 261px,#f7ba9c 262px,#d25849 263px,#c13639 264px,#b2182b 266px,#aa152a 268px,#b31a2c 270px,#ba2933 271px,#c7433f 272px,#e48066 273px,#63a8ce 274px,#337eb8 275px,#1f63a7 277px,#1b5a9b 279px,#2166ac 282px,#3a86bd 284px,#a5cfe3 285px,#d55f4c 286px,#bf3338 287px,#b41d2d 288px,#a11228 291px,#b41d2d 294px,#bf3338 295px,#d55f4c 296px,#a5cfe3 297px,#3a86bd 298px,#2166ac 300px,#1b5a9b 303px,#1f63a7 305px,#337db8 307px,#60a6cd 308px,#e27d63 309px,#c53e3d 310px,#b82330 311px,#a51429 313px,#a21328 315px,#b2182b 317px,#bb2a33 318px,#cb4b43 319px,#f6af8f 320px,#4393c3 321px,#2e77b5 322px,#2369ae 323px,#1b5b9d 325px,#1b5b9d 327px,#2d76b4 330px,#4291c2 331px,#f8bca0 332px,#cd4d44 333px,#bb2b34 334px,#b2182b 335px,#a11328 338px,#b72230 341px,#c43c3c 342px,#e0775f 343px,#67aacf 344px,#347eb9 345px,#2063a8 347px,#1b5a9c 350px,#2165ab 352px,#3885bc 354px,#97c8df 355px,#d7624f 356px,#c03438 357px,#b51e2e 358px,#a11228 361px,#b41c2d 364px,#bf3137 365px,#d45b4b 366px,#b8d8e9 367px,#3b88bd 368px,#2166ac 370px,#1c5c9e 373px,#2267ac 375px,#3682ba 377px,#66a9cf 378px,#ea8e70 379px,#cd4e44 380px,#c03338 381px,#b51e2e 383px,#b51d2d 385px,#c8433f 388px,#d86551 389px,#f8bc9f 390px,#6badd1 391px,#3f8ec0 392px,#307ab6 394px,#2e77b4 396px,#337eb8 398px,#4796c4 400px,#77b4d5 401px,#faeae1 402px,#e7876b 403px,#d96752 404px,#d15648 405px,#cb4a43 407px,#d6604d 410px,#eb8f71 412px,#f9c2a7 413px,#cee3ef 414px,#8fc3dd 415px,#75b3d4 416px,#65a9cf 419px,#75b3d4 421px,#9bcae1 423px,#bbdaea 424px,#edf2f5 425px,#fbe3d5 426px,#f9c6ac 427px,#f7b89a 428px,#f6b292 431px,#fac8ae 433px,#fddcc9 434px,#f6f7f7 437px,#eff3f6f9 438px,#ebf1f5d5 440px,#f7f7f724 446px,#f7f7f704 448px,#0000 449px,#0000 545px)"></i><i style="left:355px;width:12px;background:linear-gradient(#f7f7f7,#f7f7f7 186px,#f3f5f6 189px,#f7f6f6 192px,#f9c5ab 200px,#fac8ae 201px,#fcd6c0 202px,#faebe3 203px,#dfecf3 204px,#add3e6 205px,#92c5de 206px,#6fafd2 208px,#62a7ce 210px,#6aacd0 212px,#7ab6d6 213px,#99c9e0 214px,#ecf2f5 215px,#f6b090 216px,#e7886c 217px,#dd715a 218px,#d05447 221px,#d7624f 224px,#df755d 225px,#f19e7d 226px,#d2e5f0 227px,#6dadd1 228px,#4796c4 229px,#337eb8 232px,#3783bb 235px,#3e8cbf 236px,#549ec9 237px,#98c8e0 238px,#f3a280 239px,#d96853 240px,#c43c3c 242px,#bd2e35 244px,#bf3137 246px,#cc4c43 248px,#db6c56 249px,#fcd6c1 250px,#5fa5cd 251px,#3a87bd 252px,#256caf 255px,#276eb0 258px,#3783bb 260px,#57a0ca 261px,#f8bc9f 262px,#d45b4b 263px,#c2393b 264px,#b31b2c 266px,#ad162a 268px,#b51d2e 270px,#bc2c34 271px,#c94641 272px,#e58368 273px,#67aacf 274px,#3580b9 275px,#2065aa 277px,#1c5c9e 279px,#2268ad 282px,#3b88be 284px,#a7d0e4 285px,#d7614e 286px,#c13639 287px,#b6202f 288px,#a41329 291px,#b6202f 294px,#c13639 295px,#d7614e 296px,#a7d0e4 297px,#3b88be 298px,#2268ad 300px,#1c5c9e 303px,#2065aa 305px,#347fb9 307px,#64a8ce 308px,#e47f65 309px,#c7413e 310px,#b92632 311px,#a81529 313px,#aa152a 316px,#bc2d35 318px,#cd4e44 319px,#f6b191 320px,#4795c4 321px,#2f79b6 322px,#256baf 323px,#1d5da0 325px,#1c5da0 327px,#246bae 329px,#4393c3 331px,#f8bfa3 332px,#ce5045 333px,#bd2e35 334px,#b41b2d 335px,#a41429 338px,#b0172b 340px,#c63f3e 342px,#e17a61 343px,#6aacd0 344px,#3580b9 345px,#2165ab 347px,#1c5c9f 350px,#2267ad 352px,#3a87bd 354px,#9ac9e0 355px,#d86551 356px,#c2373a 357px,#b6212f 358px,#a41329 361px,#b51f2e 364px,#c03438 365px,#d55e4c 366px,#bad9e9 367px,#3c8abe 368px,#2368ad 370px,#1d5ea1 373px,#2369ad 375px,#3784bb 377px,#69abd0 378px,#eb9172 379px,#ce5146 380px,#c13639 381px,#b6202f 383px,#b6202f 385px,#c94641 388px,#d96853 389px,#f8bea2 390px,#6eaed2 391px,#4090c1 392px,#317cb7 394px,#2f78b5 396px,#3480b9 398px,#4a97c5 400px,#79b5d6 401px,#faebe2 402px,#e88a6d 403px,#da6954 404px,#d2594a 405px,#cd4e44 408px,#d7624f 410px,#eb9173 412px,#f9c3a9 413px,#d0e4f0 414px,#92c5de 415px,#78b4d5 416px,#67aacf 419px,#77b4d5 421px,#9ccae1 423px,#bcdaea 424px,#edf2f5 425px,#fbe4d6 426px,#fac7ad 427px,#f7b99b 428px,#f6b393 431px,#fac8af 433px,#fdddca 434px,#f6f7f7 437px,#eff3f6f8 438px,#ebf1f5cf 440px,#f7f7f74f 444px,#f7f7f71c 446px,#0000 449px,#0000 545px)"></i><i style="left:367px;width:12px;transform:skewY(0.74deg);background:linear-gradient(#f7f7f7,#f7f7f7 187px,#f4f6f6 190px,#f7f7f6 192px,#f8f4f1 193px,#fbcfb8 200px,#fbd2bb 201px,#f9ece5 203px,#e3eef3 204px,#b2d5e7 205px,#97c8df 206px,#75b3d4 208px,#68aad0 210px,#6fafd2 212px,#7eb9d7 213px,#9ccae1 214px,#e9f0f4 215px,#f7b596 216px,#ea8d6f 217px,#df755d 218px,#d25849 221px,#d86551 224px,#e0785f 225px,#f19f7e 226px,#dbeaf2 227px,#72b1d3 228px,#4c99c6 229px,#3e8cbf 230px,#347fb9 233px,#3f8ec0 236px,#559fc9 237px,#97c8df 238px,#f5a987 239px,#db6c57 240px,#ce5146 241px,#c13639 243px,#c03438 246px,#cd4e44 248px,#dc6d57 249px,#facbb3 250px,#66a9cf 251px,#3c8abf 252px,#2b73b3 254px,#256caf 256px,#2970b1 258px,#3884bb 260px,#58a0ca 261px,#facab2 262px,#d6604d 263px,#c43d3c 264px,#b51e2e 266px,#b2192b 269px,#bd2e35 271px,#ca4741 272px,#e58167 273px,#70afd2 274px,#3783bb 275px,#2267ad 277px,#1d5ea1 279px,#2369ae 282px,#3b89be 284px,#9fcbe2 285px,#d96752 286px,#c33a3b 287px,#b0182b 289px,#a71429 291px,#b0172b 293px,#c2373a 295px,#d7624e 296px,#badaea 297px,#3d8bbf 298px,#246aae 300px,#1d5fa2 302px,#2167ac 305px,#3580b9 307px,#62a7ce 308px,#e7876b 309px,#c94641 310px,#bb2a33 311px,#ab162a 313px,#ad162a 316px,#bd2f36 318px,#cd4f45 319px,#f5ab89 320px,#4d99c6 321px,#317cb7 322px,#1e60a3 325px,#266caf 329px,#4393c3 331px,#fbd2bd 332px,#d15548 333px,#bf3237 334px,#ae172a 336px,#a71429 338px,#b2192b 340px,#c6413e 342px,#e17960 343px,#73b2d4 344px,#3783bb 345px,#1f61a5 348px,#1f62a6 351px,#2b74b3 353px,#3a87bd 354px,#93c5de 355px,#db6b55 356px,#c43b3c 357px,#b82431 358px,#b1182b 359px,#a9152a 362px,#b7212f 364px,#c13639 365px,#d55f4c 366px,#d5e7f1 367px,#3e8dc0 368px,#246aae 370px,#1e60a4 373px,#246aae 375px,#3885bc 377px,#68aad0 378px,#ef9979 379px,#d05548 380px,#c33a3b 381px,#b82330 383px,#b72330 385px,#ca4841 388px,#da6853 389px,#f7b99b 390px,#75b2d4 391px,#4292c2 392px,#337db8 394px,#307ab6 396px,#3c8abe 399px,#4b98c6 400px,#79b5d5 401px,#f8f1ec 402px,#ea8e70 403px,#db6d57 404px,#cf5247 406px,#ce5045 408px,#df755e 411px,#ec9273 412px,#f9c2a7 413px,#d5e7f1 414px,#95c6df 415px,#7ab6d6 416px,#69abd0 419px,#78b5d5 421px,#9dcae1 423px,#bcdaea 424px,#ecf2f5 425px,#fbe5d9 426px,#fac8af 427px,#f8ba9d 428px,#f6b394 431px,#fac9affb 433px,#fdddcaf8 434px,#f7f7f7e3 437px,#ecf2f5bd 439px,#f7f7f731 444px,#f7f7f70f 446px,#f7f7f701 448px,#0000 545px)"></i><i style="left:379px;width:12px;transform:skewY(3.31deg);background:linear-gradient(#f7f7f7,#f6f7f7 192px,#f7f5f4 193px,#fdd9c5 200px,#fcdecd 202px,#f5f6f7 204px,#a5cfe3 206px,#90c4dd 207px,#74b2d4 209px,#6dadd1 211px,#7bb7d6 213px,#92c5de 214px,#c0dceb 215px,#fddcc8 216px,#f19f7d 217px,#e48166 218px,#d86450 220px,#d35b4a 222px,#d76350 224px,#e98c6f 226px,#fcd7c2 227px,#92c5de 228px,#5ca3cc 229px,#4292c2 230px,#3581ba 233px,#3884bb 235px,#4a97c5 237px,#74b2d4 238px,#f9ede7 239px,#e58267 240px,#d55d4c 241px,#ca4942 242px,#bf3338 245px,#c33b3b 247px,#d65f4d 249px,#ec9374 250px,#97c8e0 251px,#4796c4 252px,#2e77b5 254px,#276eb0 256px,#2c75b4 259px,#4292c2 261px,#9ccae1 262px,#e27d63 263px,#cc4b43 264px,#b82431 266px,#b2192b 268px,#bb2933 271px,#c43c3c 272px,#d7634f 273px,#e8f0f4 274px,#4191c2 275px,#266caf 277px,#1e60a4 279px,#2267ad 282px,#347fb9 284px,#5ba2cb 285px,#ed9575 286px,#cb4b43 287px,#bd2e35 288px,#ae172a 290px,#a9152a 292px,#b51e2e 294px,#bd2f36 295px,#cc4d44 296px,#f09d7c 297px,#579fca 298px,#337eb9 299px,#1f62a6 302px,#266caf 306px,#4291c2 308px,#f7f1ee 309px,#d45c4b 310px,#c13639 311px,#b0182b 313px,#a9152a 315px,#b31a2c 317px,#c6403e 319px,#de735c 320px,#84bcd9 321px,#3a86bd 322px,#1f63a8 325px,#1f63a8 328px,#3a86bd 331px,#84bcd9 332px,#de735c 333px,#c6403e 334px,#b31a2c 336px,#a9152a 338px,#b0182b 340px,#c13639 342px,#d45c4b 343px,#f7f2ef 344px,#4291c2 345px,#2f79b6 346px,#2165ab 348px,#1f62a6 351px,#337eb9 354px,#569fca 355px,#f09d7c 356px,#cd4d44 357px,#bd2f36 358px,#ae172a 360px,#a9152a 362px,#b51d2d 364px,#bd2e35 365px,#cb4b43 366px,#ed9475 367px,#5ba2cb 368px,#3480b9 369px,#1f62a7 372px,#2368ad 375px,#337db8 377px,#4796c4 378px,#e9f0f4 379px,#db6b55 380px,#c94540 381px,#ba2833 383px,#ba2732 386px,#c6403e 388px,#d3594a 389px,#e98b6e 390px,#aad1e5 391px,#549ec9 392px,#3c8abf 393px,#317cb7 397px,#4292c2 400px,#63a7ce 401px,#aed3e6 402px,#f5ab89 403px,#e17961 404px,#d76350 405px,#cf5146 407px,#d05548 409px,#dc6e58 411px,#e68569 412px,#f5ab89 413px,#f8f3f0 414px,#a7d0e4 415px,#85bdda 416px,#6badd1 418px,#6dadd1 420px,#81bbd8 422px,#add3e6 424px,#dbeaf2 425px,#f8f0ebfd 426px,#fcd7c2fb 427px,#f8c0a4f7 428px,#f6b293ea 430px,#f7b89bd7 432px,#fcd5bfbe 434px,#f8f4f292 437px,#f5f6f71f 443px,#f7f7f702 447px,#0000 545px)"></i><i style="left:391px;width:12px;transform:skewY(5.39deg);background:linear-gradient(#f7f7f7,#f7f7f7 193px,#f7f6f5 194px,#fcdecb 201px,#fbe3d4 203px,#f3f5f6 205px,#a8d0e4 207px,#82bbd9 209px,#72b1d3 211px,#81bad8 214px,#98c8e0 215px,#cfe4ef 216px,#fcd5c0 217px,#f19e7d 218px,#dd715a 220px,#d65f4d 222px,#d96752 225px,#df755d 226px,#ec9274 227px,#fbe3d5 228px,#8dc2dc 229px,#5ba2cb 230px,#4292c2 231px,#3682ba 234px,#3e8cc0 237px,#4e9ac7 238px,#7cb7d6 239px,#fce1d1 240px,#e37f65 241px,#d45d4b 242px,#ca4942 243px,#c13639 245px,#c13639 247px,#cb4b43 249px,#d86450 250px,#f09c7b 251px,#8ec2dd 252px,#4594c4 253px,#2e78b5 255px,#276eb0 257px,#2d77b4 260px,#4695c4 262px,#afd4e6 263px,#e0785f 264px,#cb4a43 265px,#bf3338 266px,#b31a2c 269px,#bc2c34 272px,#c6403e 273px,#da6954 274px,#c0ddeb 275px,#408fc1 276px,#266caf 278px,#1e60a4 281px,#2369ad 283px,#3682ba 285px,#65a9cf 286px,#e88a6d 287px,#ca4942 288px,#bd2d35 289px,#ae172a 291px,#b0172b 294px,#bf3237 296px,#cf5246 297px,#f5ad8c 298px,#519cc8 299px,#337eb8 300px,#286fb1 301px,#1e60a4 304px,#276eb0 307px,#4795c4 309px,#fcd5c0 310px,#d25849 311px,#c03539 312px,#b1182b 314px,#aa162a 316px,#b41c2d 318px,#bb2a34 319px,#c84440 320px,#e27c62 321px,#77b4d5 322px,#3985bc 323px,#246aae 325px,#1e61a4 327px,#256bae 330px,#3c89be 332px,#96c7df 333px,#dc6e57 334px,#c53f3d 335px,#b31a2c 337px,#aa152a 339px,#b2182b 341px,#c3393b 343px,#d7624e 344px,#d8e8f1 345px,#408fc1 346px,#266caf 348px,#1f63a8 352px,#3581ba 355px,#60a5cd 356px,#eb9172 357px,#cb4b43 358px,#bd2e35 359px,#af172a 361px,#b0172b 364px,#be3137 366px,#ce5045 367px,#f3a482 368px,#559ec9 369px,#347fb9 370px,#2870b1 371px,#1f62a7 374px,#2a72b2 377px,#3480b9 378px,#4e9ac7 379px,#faebe2 380px,#d96753 381px,#c84440 382px,#bf3237 383px,#b82431 386px,#bf3338 388px,#d55d4c 390px,#ec9374 391px,#9ecbe1 392px,#519cc8 393px,#3c8abe 394px,#327db8 398px,#4494c3 401px,#68aad0 402px,#bbdaea 403px,#f4a683 404px,#e0785f 405px,#d7634f 406px,#cf5246 408px,#d15749 410px,#dd715a 412px,#e8886c 413px,#f6af8f 414px,#f5f6f7 415px,#a4cee3 416px,#84bcd9 417px,#73b2d3 418px,#6aacd0fc 420px,#76b3d4f6 422px,#b0d4e7e0 425px,#deebf2d5 426px,#f9eee8c9 427px,#f8bfa3ae 429px,#f6b39490 431px,#f2f5f620 439px,#f5f6f702 444px,#0000 545px)"></i><i style="left:403px;width:12px;transform:skewY(7.27deg);background:linear-gradient(#f7f7f7,#f7f7f7 194px,#f8f5f3 196px,#fce1d2 203px,#f7f5f3 206px,#e3eef3 207px,#9dcbe1 209px,#7fb9d7 211px,#75b2d4 213px,#80b9d8 215px,#92c5de 216px,#b5d7e8 217px,#f9eee7 218px,#f5ae8d 219px,#e98c6f 220px,#d7634f 223px,#d6604d 225px,#de715a 227px,#e7886c 228px,#f8ba9d 229px,#abd2e5 230px,#69abd0 231px,#4a97c5 232px,#3783bb 235px,#3885bc 237px,#4695c4 239px,#69abd0 240px,#d1e5f0 241px,#ec9374 242px,#d96752 243px,#ce5045 244px,#c13639 247px,#c94741 250px,#d35b4b 251px,#e58368 252px,#d2e6f0 253px,#569fca 254px,#3a88bd 255px,#2b74b3 257px,#276fb0 259px,#2c75b4 261px,#3f8dc0 263px,#79b5d6 264px,#ee9777 265px,#d15749 266px,#c33a3b 267px,#b6202f 269px,#b51f2e 272px,#c2393a 274px,#d25849 275px,#f6b495 276px,#539dc9 277px,#347fb9 278px,#1f63a7 281px,#2267ac 284px,#327cb7 286px,#4996c5 287px,#fbceb6 288px,#d25849 289px,#c13539 290px,#b2182b 292px,#ab162a 294px,#b41d2d 296px,#c94540 298px,#e37e64 299px,#75b3d4 300px,#3985bc 301px,#246aae 303px,#1f61a6 306px,#256baf 308px,#3c8abf 310px,#9ac9e0 311px,#dc6d57 312px,#c53f3d 313px,#ba2832 314px,#ad172a 316px,#b3192c 319px,#b92531 320px,#c33a3b 321px,#d76350 322px,#d0e4ef 323px,#408fc1 324px,#266daf 326px,#2063a8 330px,#3682ba 333px,#63a7ce 334px,#ea8f71 335px,#cb4b43 336px,#bd2e36 337px,#af172b 339px,#b0182b 342px,#bf3237 344px,#cf5146 345px,#f4a885 346px,#549ec9 347px,#347fb9 348px,#2268ad 350px,#1f62a7 353px,#276eb0 355px,#4594c4 357px,#fbe3d5 358px,#d35b4b 359px,#c13639 360px,#b2182b 362px,#ab162a 364px,#b41c2d 366px,#c84440 368px,#e17960 369px,#7db8d7 370px,#3986bd 371px,#246aae 373px,#2064a9 376px,#286fb1 378px,#408fc1 380px,#9ac9e0 381px,#e27c63 382px,#cd4e44 383px,#bc2c34 385px,#b82531 387px,#be2f36 389px,#d05347 391px,#e27c62 392px,#edf2f5 393px,#62a7ce 394px,#408fc1 395px,#337eb8 397px,#327cb7 399px,#408fc1 402px,#5aa1cb 403px,#96c7df 404px,#f9c2a7 405px,#e58368 406px,#da6954 407px,#d05447 409px,#d55e4c 412px,#e48065fc 414px,#f2a17ff9 415px,#fce2d3f5 416px,#b6d8e8ef 417px,#8dc2dce7 418px,#6eaed2d3 420px,#73b2d3ac 423px,#f7f7f660 428px,#f9c4aa44 430px,#f7b99b37 431px,#f7b79917 434px,#faeae003 438px,#0000 545px)"></i><i style="left:415px;width:12px;transform:skewY(9.02deg);background:linear-gradient(#f7f7f7,#f7f7f7 196px,#f7f5f3 198px,#fbe5d8 205px,#f5f6f7 208px,#e0ecf3 209px,#9fcce2 211px,#8bc1dc 212px,#7ab6d6 214px,#7db7d7 216px,#9ccae1 218px,#d0e5f0 219px,#fcdfcd 220px,#f4a784 221px,#e7886c 222px,#da6a55 224px,#d7614e 226px,#da6a55 228px,#ed9475 230px,#fcdfce 231px,#95c7df 232px,#60a5cd 233px,#4594c4 234px,#3783bb 237px,#3f8dc0 240px,#4f9ac7 241px,#7ab6d6 242px,#faeae0 243px,#e58468 244px,#d6604d 245px,#cc4c43 246px,#c13639 249px,#cc4c44 252px,#d86450 253px,#ef9979 254px,#96c7df 255px,#4997c5 256px,#3079b6 258px,#2870b1 260px,#2e77b5 263px,#4595c4 265px,#a4cee3 266px,#e37d63 267px,#cd4d44 268px,#b92732 270px,#b41b2d 272px,#bc2c35 275px,#c6403e 276px,#d96753 277px,#dceaf2 278px,#4292c2 279px,#307ab6 280px,#2166ac 282px,#2064a9 285px,#3682ba 288px,#61a6cd 289px,#ec9274 290px,#cc4c44 291px,#be2f36 292px,#b61f2e 293px,#ac162a 295px,#b1182b 297px,#bf3237 299px,#ce5146 300px,#f4a482 301px,#569fca 302px,#347fb9 303px,#2063a8 306px,#2267ac 309px,#317bb7 311px,#4494c3 312px,#faeae0 313px,#d45c4b 314px,#c2373a 315px,#b2192b 317px,#ab162a 319px,#b41c2d 321px,#c8433f 323px,#e0785f 324px,#81bad8 325px,#3a87bd 326px,#2065aa 329px,#2065ab 332px,#2d76b4 334px,#3b89be 335px,#8cc1dc 336px,#de735b 337px,#c7413e 338px,#b41c2d 340px,#ab162a 342px,#b3192c 344px,#c2393b 346px,#d6604d 347px,#eff3f5 348px,#4291c2 349px,#276eb0 351px,#1f61a5 354px,#2369ad 356px,#3581ba 358px,#5ca3cb 359px,#ef9a79 360px,#cd4e45 361px,#be3036 362px,#b0172b 364px,#ac162a 366px,#b6202f 368px,#be3137 369px,#cd4e45 370px,#f09c7b 371px,#5ba2cb 372px,#3580b9 373px,#2369ad 375px,#1f63a8 377px,#2a72b2 380px,#4c98c6 382px,#f4f5f5 383px,#db6b55 384px,#c94741 385px,#c03438 386px,#b92531 388px,#bf3338 391px,#d45d4b 393px,#eb8f71 394px,#a7cfe4 395px,#549ec9 396px,#3d8bbf 397px,#317cb7 400px,#4493c3 404px,#66a9cf 405px,#b4d6e8 406px,#f5aa88fd 407px,#e17a61fb 408px,#d86551f8 409px,#cf5246e6 412px,#dd705ac6 415px,#f5ad8daa 417px,#f7f5f39b 418px,#a7d0e48c 419px,#75b2d46e 421px,#96c7df1f 427px,#f9c0a503 432px,#0000 545px)"></i><i style="left:427px;width:12px;transform:skewY(10.68deg);background:linear-gradient(#f7f7f7,#f7f7f7 198px,#f7f6f5 200px,#fae8de 207px,#f7f7f7 210px,#e6eff4 211px,#96c7df 214px,#86bdda 215px,#7db8d7 217px,#8bc1dc 219px,#9ecbe1 220px,#cce2ef 221px,#fbe5d8 222px,#f5ac8b 223px,#ea8e70 224px,#e17a61 225px,#d96752 227px,#d86551 229px,#e17960 231px,#ec9374 232px,#fcd5bf 233px,#9dcbe1 234px,#65a9cf 235px,#4896c5 236px,#3884bb 239px,#3f8dc0 242px,#4d9ac7 243px,#76b3d4 244px,#f7f5f4 245px,#e8896d 246px,#d76350 247px,#c7413f 249px,#c2373a 251px,#c53f3d 253px,#d7624f 255px,#ec9274 256px,#a3cee3 257px,#4e9ac7 258px,#3986bc 259px,#2970b1 262px,#2e77b5 265px,#4393c3 267px,#96c7df 268px,#e68469 269px,#ce5146 270px,#ba2833 272px,#b41c2d 274px,#bc2b34 277px,#c53e3d 278px,#d7634f 279px,#f8f2ef 280px,#4695c4 281px,#327cb7 282px,#2267ac 284px,#2063a8 287px,#3580b9 290px,#59a1ca 291px,#f2a07e 292px,#ce5045 293px,#bf3137 294px,#b6202f 295px,#ac162a 297px,#b0172b 299px,#be3036 301px,#cd4d44 302px,#ee9677 303px,#5ea4cc 304px,#3681ba 305px,#2064a9 308px,#2166ac 311px,#307ab6 313px,#4191c2 314px,#e5eff4 315px,#d7614e 316px,#c33a3b 317px,#b92531 318px,#ad162a 320px,#b41c2d 323px,#c6413e 325px,#dd715a 326px,#91c4de 327px,#3c89be 328px,#2d76b4 329px,#2165ab 331px,#2065aa 334px,#3a87bd 337px,#7db8d7 338px,#e17a61 339px,#c84440 340px,#b41d2d 342px,#ac162a 344px,#b2192b 346px,#c1373a 348px,#d45b4b 349px,#fbe2d3 350px,#4695c4 351px,#276fb0 353px,#2063a8 357px,#347fb9 360px,#549ec9 361px,#f5a987 362px,#cf5246 363px,#bf3237 364px,#b1182b 366px,#b0172b 369px,#bd2f36 371px,#cc4b43 372px,#ea8f71 373px,#64a8ce 374px,#3682ba 375px,#2369ae 377px,#1f63a8 379px,#2971b2 382px,#4795c4 384px,#d7e8f1 385px,#dd7059 386px,#ca4942 387px,#bb2b34 389px,#bb2933 392px,#c7413e 394px,#d35a4a 395px,#e8896c 396px,#b6d7e8 397px,#59a1ca 398px,#3e8cc0 399px,#3783bb 400px,#327db8f7 403px,#4292c3e5 406px,#62a7cedb 407px,#a9d1e5d0 408px,#f6b090c4 409px,#e37d63b6 410px,#d96652a8 411px,#d053478a 413px,#e6856a41 418px,#f9efea29 420px,#abd2e51e 421px,#75b3d401 427px,#0000 545px)"></i><i style="left:439px;width:12px;transform:skewY(12.25deg);background:linear-gradient(#f7f7f7,#f7f7f7 202px,#f7f6f6 203px,#f9ede5 208px,#f8f4f2 212px,#e0ecf3 214px,#9ac9e0 217px,#83bcd9 219px,#99c9e0 222px,#b4d6e8 223px,#f2f5f6 224px,#f9c2a7 225px,#f19e7d 226px,#df765e 228px,#d96753 230px,#db6b55 232px,#e7886c 234px,#f6b090 235px,#d6e8f1 236px,#7bb7d6 237px,#559fc9 238px,#4191c2 239px,#3986bc 241px,#4494c3 245px,#62a6cd 246px,#a7cfe4 247px,#f5a987 248px,#de715a 249px,#ca4741 251px,#c2393b 253px,#c43d3c 255px,#d25749 257px,#e17860 258px,#fbe4d7 259px,#68abd0 260px,#3f8dc0 261px,#2a72b2 264px,#2c74b3 267px,#3c89be 269px,#64a8ce 270px,#f8bb9e 271px,#d7624f 272px,#c7413e 273px,#b82330 275px,#b41c2d 277px,#c13539 280px,#ce5045 281px,#eb8f71 282px,#6cadd1 283px,#3885bc 284px,#246aae 286px,#1f62a7 289px,#266daf 291px,#3f8ec0 293px,#bbdaea 294px,#d96652 295px,#c43c3c 296px,#b92732 297px,#ae172a 299px,#b41b2c 302px,#ba2832 303px,#c53e3d 304px,#db6b55 305px,#a4cee3 306px,#3e8cbf 307px,#266caf 309px,#1f62a6 312px,#246aae 314px,#3885bc 316px,#71b0d3 317px,#e58368 318px,#ca4741 319px,#bc2d35 320px,#b51e2e 321px,#ac162a 323px,#b2182b 325px,#c03539 327px,#d15749 328px,#f9c0a5 329px,#4c99c6 330px,#327db8 331px,#286fb1 332px,#1f61a6 335px,#2870b1 338px,#337db8 339px,#4e9ac7 340px,#f8ba9d 341px,#d15648 342px,#c03438 343px,#b2182b 345px,#ac162a 347px,#b51e2e 349px,#bd2d35 350px,#ca4842 351px,#e68569 352px,#6eaed2 353px,#3884bb 354px,#246aae 356px,#1f62a6 358px,#266caf 361px,#3e8dc0 363px,#aad1e5 364px,#da6a54 365px,#c53e3d 366px,#ba2732 367px,#b31b2c 368px,#ae172a 371px,#ba2732 373px,#c43d3c 374px,#d96853 375px,#b3d6e7 376px,#3f8dc0 377px,#2f78b5 378px,#2166ac 380px,#2267ad 383px,#3b89be 386px,#76b3d4 387px,#ec9374 388px,#d15648 389px,#c43c3c 390px,#ba2732 392px,#ba2732 394px,#c33a3bfa 396px,#dd7059f2 398px,#facab2eb 399px,#73b1d3e3 400px,#4393c3d9 401px,#3986bcce 402px,#3e8dc079 408px,#83bbd95b 410px,#fae8dd4d 411px,#ea8e7040 412px,#dc6e5833 413px,#d054470f 417px,#ee977701 421px,#0000 545px)"></i><i style="left:451px;width:12px;transform:skewY(13.66deg);background:linear-gradient(#f7f7f7,#f7f7f7 206px,#f9efe9 212px,#f7f6f5 215px,#e2edf3 217px,#97c8df 221px,#8cc1dc 223px,#a3cee3 225px,#f9f0eb 227px,#f8bb9e 228px,#f09d7b 229px,#dc6e58 232px,#db6a55 234px,#e27b62 236px,#ec9273 237px,#f9c2a7 238px,#b3d6e7 239px,#73b1d3 240px,#529cc8 241px,#4190c2 242px,#3986bc 244px,#3f8dc0 247px,#4b98c6 248px,#6eaed2 249px,#d6e7f1 250px,#ee9777 251px,#db6b55 252px,#d05447 253px,#c3393b 256px,#cb4a43 259px,#d55e4c 260px,#e7866a 261px,#d4e6f0 262px,#5aa2cb 263px,#3c8abe 264px,#2a72b2 267px,#2d76b4 270px,#408fc1 272px,#7cb7d6 273px,#ef9978 274px,#d25949 275px,#c43c3c 276px,#b51d2d 279px,#b6212f 281px,#c33a3b 283px,#d35a4a 284px,#f7b596 285px,#559ec9 286px,#3580b9 287px,#2971b2 288px,#1f61a6 291px,#286fb1 294px,#4997c5 296px,#fbd0b9 297px,#d3594a 298px,#c13639 299px,#b2182b 301px,#ac162a 303px,#b51d2e 305px,#bc2c34 306px,#c94641 307px,#e37e64 308px,#77b4d5 309px,#3986bc 310px,#246aae 312px,#1f62a6 314px,#256caf 317px,#3d8bbf 319px,#99c9e0 320px,#dc6e58 321px,#c6403e 322px,#b41c2d 324px,#ac162a 326px,#b31a2c 328px,#c33b3b 330px,#d76350 331px,#d7e8f1 332px,#4190c1 333px,#266db0 335px,#1f61a6 338px,#2369ae 340px,#3682ba 342px,#62a7ce 343px,#eb9173 344px,#cc4c44 345px,#be2f36 346px,#b0172b 348px,#b1182b 351px,#bf3237 353px,#cf5146 354px,#f4a684 355px,#569fc9 356px,#347fb9 357px,#2368ad 359px,#1f63a7 362px,#276eb0 364px,#4594c4 366px,#fae7db 367px,#d45c4b 368px,#c2373a 369px,#b82431 370px,#ad162a 372px,#af172b 374px,#bc2b34 376px,#c84440 377px,#e17960 378px,#80b9d8 379px,#3a87bd 380px,#2165ab 383px,#2368ad 386px,#408fc1fc 389px,#99c8e0f9 390px,#e37e64f6 391px,#cd4f45f0 392px,#c2393aea 393px,#b92531cd 396px,#d0544796 400px,#e27c6287 401px,#f0f4f678 402px,#63a8ce68 403px,#408fc15a 404px,#3986bc15 410px,#e6856901 415px,#0000 545px)"></i><i style="left:463px;width:6px;transform:skewY(13.85deg);background:linear-gradient(#f7f7f7,#f7f7f7 209px,#f7f7f7 210px,#f8f1ec 214px,#f7f6f5 217px,#f2f5f6 218px,#dbeaf2 220px,#a6cfe4 223px,#94c6df 225px,#a5cee3 227px,#c5dfed 228px,#f7f5f4 229px,#f9c4a9 230px,#f4a482 231px,#e37e64 233px,#dc6e57 235px,#de715a 237px,#eb9172 239px,#f8bb9e 240px,#c6e0ed 241px,#7bb7d6 242px,#58a0ca 243px,#4393c3 244px,#3986bc 247px,#4997c5 250px,#69abd0 251px,#bad9e9 252px,#f2a17f 253px,#dd6f59 254px,#ca4842 256px,#c33b3b 258px,#c63f3d 260px,#d45c4b 262px,#e47f65 263px,#f5f4f4 264px,#63a7ce 265px,#3e8dc0 266px,#2e77b5 268px,#2a71b2 271px,#3d8cbf 274px,#6cadd1 275px,#f6af8f 276px,#d6604d 277px,#c6403e 278px,#b82430 280px,#b41d2d 282px,#c1373a 285px,#cf5247 286px,#ee9677 287px,#67aacf 288px,#3884bb 289px,#246aae 291px,#1f62a7 294px,#266db0 296px,#408fc1 298px,#c6e0ed 299px,#d86551 300px,#c43c3c 301px,#b92732 302px,#ae172a 304px,#ae172a 306px,#ba2833 308px,#c53e3d 309px,#db6b55 310px,#a6cfe4 311px,#3e8cc0 312px,#266caf 314px,#1f62a6 317px,#246aae 319px,#3884bb 321px,#6cadd1 322px,#e7876b 323px,#ca4942 324px,#bd2e35 325px,#b51e2e 326px,#ac162a 328px,#b2182b 330px,#c03438 332px,#d05447 333px,#f6b394 334px,#509cc8 335px,#337eb8 336px,#2970b1 337px,#1f61a6 340px,#286fb1 343px,#4a97c5 345px,#facdb6 346px,#d2594a 347px,#c13639 348px,#b2182b 350px,#ac162a 352px,#b51e2e 354px,#bc2c35 355px,#c94641 356px,#e47f65 357px,#75b3d4 358px,#3986bc 359px,#246aae 361px,#1f62a6 363px,#256caf 366px,#3d8bbf 368px,#9ccae1 369px,#dc6e57 370px,#c63f3e 371px,#ba2833 372px,#ae172a 374px,#ae172a 376px,#b92632 378px,#c43b3c 379px,#d86450 380px,#cde3ee 381px,#408fc1 382px,#266db0 384px,#2064a9f8 387px,#3b88bdd5 391px,#6fafd2c8 392px,#ef9a7abb 393px,#d25849ac 394px,#be2f368d 396px,#b927325f 399px,#f9c2a71d 404px,#4494c30c 406px,#327cb701 409px,#0000 545px)"></i><i style="left:469px;width:6px;transform:skewY(13.97deg);background:linear-gradient(#f7f7f7,#f7f7f7 212px,#f8f4f1 214px,#f7f5f3 218px,#f5f6f7 219px,#d7e8f1 222px,#a7d0e4 225px,#9bcae1 227px,#a2cde2 228px,#b8d8e9 229px,#e8f0f4 230px,#fdddca 231px,#f6b090 232px,#ee9878 233px,#e17a61 235px,#dd6f59 237px,#e17960 239px,#e8896d 240px,#f5aa88 241px,#f4f4f4 242px,#91c4de 243px,#64a8ce 244px,#408fc1 246px,#3a87bd 248px,#4393c3 251px,#5ca3cc 252px,#93c5de 253px,#f9c3a8 254px,#e37d63 255px,#d65f4d 256px,#c43c3c 259px,#c53e3d 261px,#d05447 263px,#dc6f58 264px,#f6b090 265px,#84bcd9 266px,#4695c4 267px,#307ab6 269px,#2a71b2 271px,#307ab6 274px,#4e9ac7 276px,#c9e1ee 277px,#e0775f 278px,#cc4c44 279px,#c13539 280px,#b41d2d 283px,#bd2f36 286px,#c8433f 287px,#db6c56 288px,#c6dfed 289px,#4291c2 290px,#276eb0 292px,#1f62a7 294px,#2369ae 297px,#3682ba 299px,#5fa5cd 300px,#ed9676 301px,#cd4e44 302px,#be3036 303px,#b6202f 304px,#ac162a 306px,#b1182b 308px,#be3036 310px,#cd4d44 311px,#ed9676 312px,#60a5cd 313px,#3682ba 314px,#2369ae 316px,#1f62a7 319px,#266db0 321px,#408fc1 323px,#c2ddec 324px,#d96652 325px,#c43c3c 326px,#b92732 327px,#ae172a 329px,#b31b2c 332px,#ba2732 333px,#c53d3d 334px,#da6954 335px,#b1d5e7 336px,#3f8dc0 337px,#266daf 339px,#1f62a7 341px,#246aae 344px,#3884bb 346px,#6cadd1 347px,#e7876b 348px,#ca4942 349px,#bd2e35 350px,#b51e2e 351px,#ac162a 353px,#b2182b 355px,#c03438 357px,#d15548 358px,#f7b89b 359px,#4f9bc7 360px,#337eb8 361px,#1f63a8 364px,#2268ad 367px,#327db8 369px,#4b98c6 370px,#f9c8af 371px,#d25849 372px,#c13539 373px,#b2182b 375px,#ac162a 377px,#b51e2e 379px,#c94741 381px,#e58167fe 382px,#73b1d3fb 383px,#3885bcf7 384px,#2065abdf 387px,#2369adba 390px,#4292c28c 393px,#add3e67d 394px,#e0775f6d 395px,#cc4c445e 396px,#bc2c3440 398px,#ba29331c 401px,#c7e0ed01 406px,#0000 545px)"></i><i style="left:475px;width:6px;transform:skewY(14.08deg);background:linear-gradient(#f7f7f7,#f7f7f7 214px,#f8f4f3 216px,#f8f5f3 219px,#f7f7f7 220px,#f2f5f6 221px,#a5cfe4 228px,#b2d5e7 230px,#dceaf2 231px,#faeae1 232px,#f8bda0 233px,#f3a280 234px,#e48066 236px,#de735b 238px,#e0785f 240px,#f29f7e 242px,#fcdecd 243px,#a7cfe4 244px,#71b0d3 245px,#4292c3 247px,#3b88bd 249px,#4191c2 252px,#539dc9 253px,#7cb7d7 254px,#f5f1ee 255px,#ea8d70 256px,#d96853 257px,#c94641 259px,#c43d3c 262px,#cd4e45 264px,#d76350 265px,#ea8f71 266px,#bbdaea 267px,#58a0ca 268px,#3c8abe 269px,#2b73b2 272px,#2e77b5 275px,#408fc1 277px,#79b5d5 278px,#f29f7e 279px,#d45c4b 280px,#c53e3d 281px,#b82330 283px,#b51d2d 285px,#c2383a 288px,#d05447 289px,#ef9a79 290px,#66a9cf 291px,#3884bb 292px,#246aae 294px,#1f62a6 296px,#266daf 299px,#3e8dc0 301px,#a6cfe4 302px,#db6b56 303px,#c53f3d 304px,#b41b2d 306px,#ac162a 308px,#b31a2c 310px,#c3393b 312px,#d6604d 313px,#f0edeb 314px,#4393c3 315px,#276eb0 317px,#1f63a7 319px,#2970b1 323px,#337eb8 324px,#509bc7 325px,#f7ba9d 326px,#d15648 327px,#c03539 328px,#b2182b 330px,#af172b 333px,#bc2d35 335px,#c94741 336px,#e48166 337px,#75b2d4 338px,#3985bc 339px,#246aae 341px,#1f62a6 343px,#266caf 346px,#3d8bbf 348px,#a1cce2 349px,#dc6d57 350px,#c63f3d 351px,#b41b2d 353px,#ac162a 355px,#b31a2c 357px,#c43c3c 359px,#d86551 360px,#cae1ed 361px,#408fc1 362px,#2f79b6 363px,#2166ac 365px,#1f62a6 367px,#2469ae 369px,#3783bb 371px,#66a9cf 372px,#ea8e71 373px,#cc4b43 374px,#bd2f36 375px,#b0172b 377px,#b1182bfb 380px,#bf3338f1 382px,#cf5347e9 383px,#f5ad8ddf 384px,#539dc9d3 385px,#347fb9c7 386px,#2064a99b 389px,#3681ba4e 394px,#539dc940 395px,#f9d9c732 396px,#d9665126 397px,#bb29330b 400px,#bc2b3401 403px,#0000 545px)"></i><i style="left:481px;width:6px;transform:skewY(14.18deg);background:linear-gradient(#f7f7f7,#f7f7f7 216px,#f7f5f3 220px,#f4f5f6 222px,#b7d8e9 228px,#afd4e6 230px,#b5d7e8 231px,#f8f4f1 233px,#facab1 234px,#f5ab8a 235px,#e7876b 237px,#e0775f 239px,#e17860 241px,#ee9878 243px,#f9c4aa 244px,#c4deec 245px,#7fb9d7 246px,#5ca3cc 247px,#4896c5 248px,#3b88bd 251px,#408fc1 253px,#4d9ac7 254px,#6fafd2 255px,#c9e1ed 256px,#f2a07e 257px,#dd715a 258px,#cb4a43 260px,#c43d3c 263px,#cb4a43 265px,#d45b4b 266px,#e27b62 267px,#fbdfcf 268px,#70afd2 269px,#4191c2 270px,#3682ba 271px,#2a72b2 275px,#3a87bd 278px,#569fca 279px,#eff3f6 280px,#de715a 281px,#cb4a43 282px,#ba2832 284px,#b51d2e 286px,#b82431 288px,#c8433f 290px,#db6b55 291px,#d7e8f1 292px,#4393c3 293px,#317cb7 294px,#2267ad 296px,#1f61a6 298px,#2368ad 300px,#337eb9 302px,#519cc8 303px,#f7b799 304px,#d15648 305px,#c03539 306px,#b2182b 308px,#ac162a 310px,#b41d2d 312px,#c7433f 314px,#df745c 315px,#8fc3dd 316px,#3c8abe 317px,#256caf 319px,#1f62a7 321px,#246aae 324px,#3783bb 326px,#65a9cf 327px,#ec9274 328px,#cc4d44 329px,#be3036 330px,#b1182b 332px,#ac162a 334px,#b6202f 336px,#be3137 337px,#cd4f45 338px,#f09d7d 339px,#5ca3cc 340px,#3581ba 341px,#2064a9 344px,#276eb0 348px,#4392c3 350px,#e5e2e0 351px,#d6604d 352px,#c3393b 353px,#b82531 354px,#ad162a 356px,#af172a 358px,#bb2a33 360px,#c7423f 361px,#df745d 362px,#8cc1dc 363px,#3b89be 364px,#2d76b4 365px,#2165ab 367px,#2065ab 370px,#3a88bd 373px,#84bcd9 374px,#e0785f 375px,#c84340fd 376px,#bb2b34fb 377px,#af172af0 379px,#b82431c6 383px,#d55e4ca9 385px,#ede1da9a 386px,#4593c38b 387px,#317bb77b 388px,#2064a94d 391px,#2d76b41b 395px,#c53e3d01 400px,#0000 545px)"></i><i style="left:487px;width:6px;transform:skewY(14.27deg);background:linear-gradient(#f7f7f7,#f7f6f6 222px,#f5f6f7 223px,#b9d9e9 231px,#bddbea 232px,#f2f5f6 234px,#fcdac7 235px,#f6b495 236px,#ea8e70 238px,#e27c62 240px,#e27b62 242px,#ed9475 244px,#f7b89b 245px,#e1edf3 246px,#8cc1dc 247px,#65a9cf 248px,#4191c2 250px,#3c89be 252px,#4a97c5 255px,#66a9cf 256px,#a6cfe4 257px,#f7b495 258px,#e27b61 259px,#d65f4d 260px,#c84440 262px,#c53d3d 264px,#d15548 267px,#dc6e58 268px,#f4a987 269px,#93c5de 270px,#4e9ac7 271px,#3a87bd 272px,#2b73b3 275px,#2f78b5 278px,#4292c2 280px,#86bdda 281px,#ee9677 282px,#d35a4a 283px,#c53e3d 284px,#b82431 286px,#b51e2e 288px,#c2383a 291px,#cf5246 292px,#ea8f71 293px,#73b1d3 294px,#3a87bd 295px,#256caf 297px,#1f62a6 299px,#256baf 302px,#3986bc 304px,#73b1d3 305px,#e68569 306px,#cb4942 307px,#bd2f36 308px,#b1182b 310px,#b1182b 313px,#be3036 315px,#cc4b43 316px,#e98b6e 317px,#6daed1 318px,#3885bc 319px,#2065ab 322px,#2165ab 325px,#3986bc 328px,#75b3d4 329px,#e6856a 330px,#cb4942 331px,#bd2e36 332px,#b0172b 334px,#b2182b 337px,#c03438 339px,#d15548 340px,#f6bba0 341px,#519cc8 342px,#337eb8 343px,#2970b1 344px,#2063a8 348px,#286fb1 350px,#327db8 351px,#4b98c6 352px,#f5ccb8 353px,#d2594a 354px,#c13639 355px,#b2192b 357px,#ac162a 359px,#b51e2e 361px,#bc2d35 362px,#c94741 363px,#e58167 364px,#76b4d5 365px,#3986bc 366px,#246aae 368px,#1f62a6 370px,#266caffd 373px,#3d8cbff6 375px,#a6cee3f0 376px,#dc6d57e7 377px,#c63f3edd 378px,#ba2933d2 379px,#b41c2dc5 380px,#ae172a99 383px,#d967525b 387px,#c0dae74c 388px,#408ec13e 389px,#2063a911 393px,#2f79b601 397px,#0000 545px)"></i><i style="left:493px;width:6px;transform:skewY(14.36deg);background:linear-gradient(#f7f7f7,#f6f7f7 224px,#f3f5f6 225px,#c8e1ed 232px,#cbe2ee 233px,#eef3f5 235px,#fbe3d5 236px,#f8bca0 237px,#f4a784 238px,#e88a6d 240px,#e37f65 242px,#e7866a 244px,#ed9576 245px,#f6b395 246px,#f1f2f2 247px,#9ac9e0 248px,#6fafd2 249px,#4695c4 251px,#3e8cc0 253px,#408fc1 255px,#4a98c5 256px,#63a7ce 257px,#96c7df 258px,#fbd3be 259px,#e7886b 260px,#d15648 262px,#c8433f 264px,#c7423f 266px,#d05347 268px,#d96753 269px,#eb9072 270px,#d5e7f0 271px,#63a7ce 272px,#408fc1 273px,#2c74b3 277px,#2f78b5 279px,#3d8bbf 281px,#5fa5cd 282px,#f8f1ec 283px,#de735c 284px,#cd4d44 285px,#c2383a 286px,#b7212f 289px,#bf3137 292px,#c84440 293px,#d96652 294px,#fbdecd 295px,#539dc9 296px,#3682ba 297px,#2b74b3 298px,#2064a9 301px,#286fb1 304px,#408fc1 306px,#a7cfe4 307px,#de725b 308px,#c84440 309px,#b6202f 311px,#b41b2d 315px,#c13639 317px,#d05447 318px,#f1a182 319px,#63a7ce 320px,#3884bb 321px,#256caf 323px,#2064a9 325px,#266db0 328px,#3b89be 330px,#7bb6d6 331px,#e7866a 332px,#cb4b43 333px,#be3036 334px,#b2192c 336px,#b0172b 338px,#b92632 340px,#c2393a 341px,#d45b4b 342px,#f5cbb7 343px,#509bc7 344px,#347fb9 345px,#2165ab 348px,#246aae 351px,#3580b9 353px,#539dc8 354px,#f6c1aa 355px,#d2594a 356px,#c2383a 357px,#b41b2d 359px,#b3192c 362px,#be3137 364px,#cc4c44 365px,#e98b6e 366px,#72b1d3 367px,#3986bc 368px,#2d75b4 369px,#2267acfa 371px,#2368ade7 374px,#4190c1c4 377px,#bedae8b6 378px,#db6c56a8 379px,#c6403e98 380px,#b51e2e79 382px,#dd70591a 389px,#3e8cbf0a 391px,#2167ac01 394px,#0000 545px)"></i><i style="left:499px;width:6px;transform:skewY(14.44deg);background:linear-gradient(#f7f7f7,#f7f7f6 224px,#f4f6f7 226px,#d4e6f1 233px,#ddebf2 235px,#edf2f5 236px,#faeae1 237px,#f9c6ac 238px,#f6af8e 239px,#ec9274 241px,#e7866b 243px,#ef9a7a 246px,#f6b495 247px,#f7efeb 248px,#a6cfe4 249px,#7ab6d6 250px,#4f9bc7 252px,#4191c2 254px,#4493c3 256px,#64a8ce 258px,#8ec2dd 259px,#f7ede8 260px,#ee9878 261px,#de735c 262px,#d65f4d 263px,#cb4a43 265px,#cc4b43 268px,#d86551 270px,#e58368 271px,#fbd7c4 272px,#82bbd9 273px,#4e9ac7 274px,#3c8abf 275px,#2f78b5 278px,#347fb9 281px,#4c99c6 283px,#91c4de 284px,#f2a07e 285px,#d86450 286px,#ca4842 287px,#ba2833 290px,#bb2933 292px,#c43d3c 294px,#d05347 295px,#e48066 296px,#aad1e5 297px,#4795c4 298px,#2c75b3 300px,#2268ad 303px,#2c75b4 306px,#3681ba 307px,#4d99c6 308px,#e4e7e9 309px,#dc6d57 310px,#c94641 311px,#be3137 312px,#b51e2e 314px,#b41c2d 316px,#c53d3d 319px,#d45c4b 320px,#f4ae90 321px,#68aad0 322px,#3a88bd 323px,#246aae 326px,#256bae 329px,#3d8abf 332px,#7cb7d7 333px,#ea8e71 334px,#cf5146 335px,#c13639 336px,#b51f2e 338px,#b7212f 341px,#c53e3d 343px,#d6604e 344px,#f4cab6 345px,#58a0ca 346px,#3783bb 347px,#276db0 349px,#2369ae 352px,#3783bb 355px,#58a0ca 356px,#f4c7b2 357px,#d6604e 358px,#c53e3d 359px,#b7212f 361px,#b51f2e 364px,#c13639 366px,#cf5146fd 367px,#eb9072fa 368px,#7bb6d6f6 369px,#3c8abeef 370px,#2870b1dc 372px,#256cafa7 376px,#4493c378 379px,#c2dbe868 380px,#dd715a59 381px,#c946414a 382px,#b41c2d10 387px,#e27c6201 391px,#0000 545px)"></i><i style="left:505px;width:6px;transform:skewY(14.51deg);background:linear-gradient(#f7f7f7,#f7f7f7 225px,#f3f5f6 228px,#dae9f2 234px,#eef3f5 237px,#f9efe8 238px,#f7b698 240px,#f4a785 241px,#ea8f71 244px,#f2a17f 247px,#f7b89a 248px,#f8ede7 249px,#b1d5e7 250px,#85bdda 251px,#6aabd0 252px,#4e9ac7 254px,#4795c4 256px,#549ec9 258px,#67aacf 259px,#8bc1dc 260px,#e7eff3 261px,#f5a987 262px,#e48066 263px,#da6a54 264px,#cf5347 266px,#cd4d44 268px,#d86551 271px,#e37d63 272px,#f6b090 273px,#add3e6 274px,#66a9cf 275px,#4594c4 276px,#327cb7 280px,#3581ba 282px,#4393c3 284px,#6bacd1 285px,#f0f4f6 286px,#e68569 287px,#d55e4c 288px,#ca4842 289px,#bd2f36 292px,#bf3237 294px,#cb4a42 296px,#d86450 297px,#f2a07f 298px,#88bfdb 299px,#4593c3 300px,#2971b2 303px,#276eb0 306px,#3b88bd 309px,#5ca3cc 310px,#f1ded4 311px,#dd7059 312px,#cc4b43 313px,#c2373a 314px,#b82531 316px,#ba2933 319px,#c8433f 321px,#d6614e 322px,#f3a88a 323px,#7ab6d6 324px,#408fc1 325px,#2c75b4 327px,#266daf 330px,#2b74b3 332px,#3e8dc0 334px,#79b5d6 335px,#f0a183 336px,#d45c4c 337px,#c6403e 338px,#b92732 340px,#ba2832 343px,#c8433f 345px,#d76350 346px,#f6bfa7 347px,#68aad0 348px,#3c89be 349px,#2b73b2 351px,#276eb0 354px,#3986bc 357px,#5aa1cb 358px,#ebd4c9 359px,#db6c56 360px,#ca4841 361px,#bb2933 363px,#b92631f5 366px,#c43c3ce6 368px,#d15648db 369px,#ea8e70d0 370px,#8fc2dcc3 371px,#4291c2b5 372px,#2c75b396 374px,#3581ba3c 380px,#bad9e923 382px,#e27a6119 383px,#0000 388px,#0000 545px)"></i><i style="left:511px;width:6px;transform:skewY(14.58deg);background:linear-gradient(#f7f7f7,#f7f7f7 227px,#f2f4f6 230px,#e1edf3 235px,#f0f4f6 238px,#f8f1ed 239px,#fce0cf 240px,#f9c0a5 241px,#f5ae8d 242px,#ee9777 245px,#f4a887 248px,#f8bea2 249px,#f8eee7 250px,#bad9e9 251px,#8ec3dd 252px,#73b1d3 253px,#569fca 255px,#4f9bc7 257px,#6bacd1 260px,#8bc1dc 261px,#d4e6f0 262px,#f7ba9d 263px,#ea8d70 264px,#d86651 266px,#d05448 269px,#d96752 272px,#e17a61 273px,#f19e7d 274px,#f2f4f5 275px,#83bcd9 276px,#59a1ca 277px,#4292c2 278px,#3682ba 281px,#4190c2 285px,#59a1ca 286px,#93c5de 287px,#f8bc9f 288px,#e17960 289px,#d45c4b 290px,#c53f3d 292px,#c13639 294px,#c43c3c 296px,#d15648 298px,#de745c 299px,#f8c0a4 300px,#7db8d7 301px,#4694c4 302px,#317bb7 304px,#2b73b3 308px,#3f8dc0 311px,#65a9cf 312px,#eeded6 313px,#e17860 314px,#d05447 315px,#c6403e 316px,#bc2d35 318px,#be2f36 321px,#ca4741 323px,#d6614e 324px,#ee9879 325px,#a3cce2 326px,#4e9ac7 327px,#327cb7 329px,#2b73b3 333px,#3f8ec1 336px,#71b0d3 337px,#f5c2ab 338px,#da6a55 339px,#cb4b43 340px,#c3393b 341px,#bb2b34 343px,#bd2e36 345px,#ca4741 347px,#d86450 348px,#f3aa8c 349px,#81bad8 350px,#4492c2 351px,#2f78b5 353px,#2a71b2 355px,#2d75b4 357px,#3b88bd 359px,#58a0ca 360px,#d5dcdffd 361px,#e27c63fa 362px,#d05347f5 363px,#c53e3dee 364px,#bb2a33cf 367px,#d2584996 371px,#e7886c86 372px,#b2d4e576 373px,#4e9ac767 374px,#3985bc57 375px,#2b74b318 380px,#0000 385px,#0000 545px)"></i><i style="left:517px;width:6px;transform:skewY(14.64deg);background:linear-gradient(#f7f7f7,#f7f7f7 229px,#e6eff4 237px,#f2f4f6 239px,#f8f2ee 240px,#fbe5d8 241px,#f7b698 243px,#f5a988 244px,#f19f7d 246px,#f6af8f 249px,#f9c6ac 250px,#f7f0eb 251px,#94c6df 253px,#7ab6d6 254px,#5ea4cc 256px,#57a0ca 258px,#62a6cd 260px,#8cc1dc 262px,#c6dfed 263px,#fbceb7 264px,#ef9b7a 265px,#e47f65 266px,#d86450 268px,#d35b4b 270px,#d6604d 272px,#e0775f 274px,#ec9274 275px,#fbceb6 276px,#a8d0e4 277px,#6fafd2 278px,#529cc8 279px,#4291c2 280px,#3985bc 283px,#408fc1 286px,#4e9ac7 287px,#6fafd2 288px,#c3deec 289px,#f3a482 290px,#df745d 291px,#cc4d44 293px,#c43c3c 296px,#c84440 298px,#d6604d 300px,#e47f65 301px,#fad9c8 302px,#7db7d7 303px,#4a97c5 304px,#3b88bd 305px,#2d76b4 308px,#317cb7 311px,#4090c1 313px,#65a9cf 314px,#dce2e4 315px,#e7876b 316px,#d55f4d 317px,#cb4942 318px,#be3137 321px,#c03438 323px,#ca4842 325px,#d55d4c 326px,#e68569 327px,#dbd7d5 328px,#6aacd0 329px,#4391c2 330px,#317cb7 332px,#2d75b4 334px,#307ab6 336px,#3f8ec0 338px,#66a9cf 339px,#e3d9d3 340px,#e27d63 341px,#d25749 342px,#c2383a 344px,#be3037 346px,#c43b3c 348px,#d7614f 350px,#ed9577 351px,#acd2e5 352px,#529cc8 353px,#3b89be 354px,#2d76b4 357px,#3b89beed 361px,#539dc8e5 362px,#b1d4e6da 363px,#ec9375ce 364px,#d6614ec1 365px,#ca4842b3 366px,#bf333895 368px,#d2584948 373px,#d8dcde2d 375px,#5fa5cd22 376px,#2c74b302 381px,#0000 545px)"></i><i style="left:523px;width:6px;transform:skewY(14.69deg);background:linear-gradient(#f7f7f7,#f7f7f7 231px,#ebf1f5 237px,#f3f5f6 240px,#fae8dd 242px,#f6af8f 245px,#f4a582 247px,#f5aa89 249px,#f7b597 250px,#fbcfb7 251px,#f5f1ef 252px,#97c8df 254px,#7eb8d7 255px,#63a8ce 257px,#5da3cc 259px,#66a9cf 261px,#8cc1dc 263px,#bad9e9 264px,#fbe2d3 265px,#f4a684 266px,#e0765e 268px,#d76350 270px,#da6954 274px,#e8896d 276px,#f6af8f 277px,#e5eef4 278px,#8ac0db 279px,#63a7ce 280px,#4190c2 282px,#3b88bd 285px,#4594c4 288px,#5ba2cb 289px,#83bcd9 290px,#f3f3f3 291px,#ee9878 292px,#de715a 293px,#d45c4b 294px,#c94641 296px,#c7423f 299px,#d86551 302px,#e68569 303px,#f9dccc 304px,#82bbd9 305px,#4f9bc7 306px,#3d8bbf 307px,#2f79b6 310px,#337db8 313px,#408fc1 315px,#5da4cc 316px,#b5d7e7 317px,#f0a081 318px,#db6c56 319px,#d05347 320px,#c33b3b 322px,#c03438 324px,#c43c3c 326px,#d15648 328px,#dd715a 329px,#f3b196 330px,#a5cde2 331px,#559ec9 332px,#3d8bbf 333px,#3580ba 334px,#2f78b5 337px,#3d8cbf 340px,#58a1ca 341px,#b8d7e7 342px,#ed9678 343px,#d86451 344px,#cc4c44 345px,#c03438 348px,#ca4842 351px,#d45c4b 352px,#e58368 353px,#dddad8 354px,#67aacffd 355px,#4190c1f9 356px,#3783bbf4 357px,#307ab6cd 361px,#4b98c6a3 364px,#89bedb94 365px,#f5b89e84 366px,#dc6f5874 367px,#c7423f55 369px,#c8444017 374px,#0000 379px,#0000 545px)"></i><i style="left:529px;width:1px;transform:skewY(14.72deg);background:linear-gradient(#f7f7f7,#f7f7f7 232px,#f4f5f6 234px,#ecf2f5 238px,#f7f6f6 241px,#fbe4d7 243px,#f8bda1 245px,#f5a886 247px,#f6b191 250px,#f9c0a5 251px,#fbe4d6 252px,#e3edf3 253px,#aad1e5 254px,#77b4d5 256px,#63a7ce 258px,#5fa5cd 260px,#7cb7d7 263px,#99c8e0 264px,#d9e9f2 265px,#fac8af 266px,#f19d7c 267px,#e58468 268px,#da6a54 270px,#d6604d 272px,#d86450 274px,#e17960 276px,#ea8f71 277px,#f7b89a 278px,#d7e8f1 279px,#85bdda 280px,#61a6cd 281px,#4191c2 283px,#3b89be 286px,#4795c4 289px,#5ba2cb 290px,#83bbd9 291px,#f0f3f6 292px,#f09c7b 293px,#df745c 294px,#d55f4c 295px,#c7433f 298px,#ca4842 301px,#d7624f 303px,#e37d64 304px,#f8bc9f 305px,#96c7df 306px,#59a1ca 307px,#408fc1 308px,#2f78b5 312px,#3682ba 315px,#4f9bc7 317px,#84bcd9 318px,#fac8af 319px,#e27b62 320px,#d45d4b 321px,#cb4a43 322px,#c2383a 324px,#c3393b 327px,#cd4d44 329px,#d6614e 330px,#e68469 331px,#f7f6f5 332px,#69abd0 333px,#4191c2 334px,#3884bb 335px,#307ab6 339px,#4997c5 342px,#81bad8 343px,#f7ba9d 344px,#de725b 345px,#d05448 346px,#c33a3b 348px,#c13639 350px,#d05447 353px,#dd705afc 354px,#f7b597f7 355px,#84bcd9f0 356px,#4a98c5e7 357px,#3a88bddd 358px,#2f78b5b6 361px,#4190c178 365px,#67aacf68 366px,#f0f4f658 367px,#e5836849 368px,#d45d4c3b 369px,#c135390f 373px,#0000 376px,#0000 545px)"></i></div>
<div class="hm" style="left:2159px"></div>
<svg width="3000" height="1050" viewBox="0 0 3000 1050">
<defs><linearGradient id="cb" x1="0" y1="0" x2="0" y2="1"><stop offset="0" stop-color="#053061"/><stop offset="0.1" stop-color="#2166ac"/><stop offset="0.2" stop-color="#4393c3"/><stop offset="0.3" stop-color="#92c5de"/><stop offset="0.4" stop-color="#d1e5f0"/><stop offset="0.5" stop-color="#f7f7f7"/><stop offset="0.6" stop-color="#fddbc7"/><stop offset="0.7" stop-color="#f4a582"/><stop offset="0.8" stop-color="#d6604d"/><stop offset="0.9" stop-color="#b2182b"/><stop offset="1" stop-color="#67001f"/></linearGradient></defs>
<g><path d="M195.49 801v8.33" stroke="#000" stroke-width="2.5"/><path d="M224.88 801v14.6" stroke="#000" stroke-width="3.33"/><path d="M254.27 801v8.33" stroke="#000" stroke-width="2.5"/><path d="M283.66 801v14.6" stroke="#000" stroke-width="3.33"/><path d="M313.05 801v8.33" stroke="#000" stroke-width="2.5"/><path d="M342.44 801v14.6" stroke="#000" stroke-width="3.33"/><path d="M371.83 801v8.33" stroke="#000" stroke-width="2.5"/><path d="M401.22 801v14.6" stroke="#000" stroke-width="3.33"/><path d="M430.61 801v8.33" stroke="#000" stroke-width="2.5"/><path d="M460 801v14.6" stroke="#000" stroke-width="3.33"/><path d="M489.39 801v8.33" stroke="#000" stroke-width="2.5"/><path d="M518.78 801v14.6" stroke="#000" stroke-width="3.33"/><path d="M548.17 801v8.33" stroke="#000" stroke-width="2.5"/><path d="M577.56 801v14.6" stroke="#000" stroke-width="3.33"/><path d="M606.95 801v8.33" stroke="#000" stroke-width="2.5"/><path d="M636.34 801v14.6" stroke="#000" stroke-width="3.33"/><path d="M665.73 801v8.33" stroke="#000" stroke-width="2.5"/><path d="M695.12 801v14.6" stroke="#000" stroke-width="3.33"/><path d="M724.51 801v8.33" stroke="#000" stroke-width="2.5"/><path d="M195.5 780.3h-14.6" stroke="#000" stroke-width="3.33"/><path d="M195.5 750.88h-8.33" stroke="#000" stroke-width="2.5"/><path d="M195.5 721.45h-14.6" stroke="#000" stroke-width="3.33"/><path d="M195.5 692.02h-8.33" stroke="#000" stroke-width="2.5"/><path d="M195.5 662.6h-14.6" stroke="#000" stroke-width="3.33"/><path d="M195.5 633.17h-8.33" stroke="#000" stroke-width="2.5"/><path d="M195.5 603.75h-14.6" stroke="#000" stroke-width="3.33"/><path d="M195.5 574.32h-8.33" stroke="#000" stroke-width="2.5"/><path d="M195.5 544.9h-14.6" stroke="#000" stroke-width="3.33"/><path d="M195.5 515.47h-8.33" stroke="#000" stroke-width="2.5"/><path d="M195.5 486.05h-14.6" stroke="#000" stroke-width="3.33"/><path d="M195.5 456.62h-8.33" stroke="#000" stroke-width="2.5"/><path d="M195.5 427.2h-14.6" stroke="#000" stroke-width="3.33"/><path d="M195.5 397.77h-8.33" stroke="#000" stroke-width="2.5"/><path d="M195.5 368.35h-14.6" stroke="#000" stroke-width="3.33"/><path d="M195.5 338.92h-8.33" stroke="#000" stroke-width="2.5"/><path d="M195.5 309.5h-14.6" stroke="#000" stroke-width="3.33"/><path d="M195.5 280.07h-8.33" stroke="#000" stroke-width="2.5"/><rect x="195.5" y="271.5" width="529" height="529.5" fill="none" stroke="#000" stroke-width="3.33"/><text x="111.6" y="797.8" font-size="50">16</text><text x="111.6" y="738.95" font-size="50">18</text><text x="113.8" y="680.1" font-size="50">20</text><text x="113.8" y="621.25" font-size="50">22</text><text x="113.8" y="562.4" font-size="50">24</text><text x="113.8" y="503.55" font-size="50">26</text><text x="113.8" y="444.7" font-size="50">28</text><text x="113.6" y="385.85" font-size="50">30</text><text x="113.6" y="327" font-size="50">32</text><text transform="translate(189.66,875.2) scale(1.31,1)" font-size="50">−</text><text x="227.08" y="871.8" font-size="50">8</text><text transform="translate(248.44,875.2) scale(1.31,1)" font-size="50">−</text><text x="285.86" y="871.8" font-size="50">6</text><text transform="translate(307.22,875.2) scale(1.31,1)" font-size="50">−</text><text x="344.64" y="871.8" font-size="50">4</text><text transform="translate(366,875.2) scale(1.31,1)" font-size="50">−</text><text x="403.42" y="871.8" font-size="50">2</text><text x="445.6" y="867.1" font-size="50">0</text><text x="504.08" y="867.1" font-size="50">2</text><text x="564.06" y="867.1" font-size="50">4</text><text x="621.69" y="867.1" font-size="50">6</text><text x="680.72" y="867.1" font-size="50">8</text><text x="460" y="931.7" font-size="50" text-anchor="middle">x [micron]</text><text transform="translate(88.4,536) rotate(-90)" font-size="50" text-anchor="middle">y [micron]</text><rect x="739.5" y="271.5" width="26.45" height="529.5" fill="url(#cb)" stroke="#000" stroke-width="3.33"/><path d="M765.95 536.35h14.6M765.95 468.66h14.6M765.95 604.04h14.6M765.95 439h14.6M765.95 633.7h14.6M765.95 421.65h14.6M765.95 651.05h14.6M765.95 409.34h14.6M765.95 663.36h14.6M765.95 399.79h14.6M765.95 672.91h14.6M765.95 391.99h14.6M765.95 680.71h14.6M765.95 385.39h14.6M765.95 687.31h14.6M765.95 379.68h14.6M765.95 693.02h14.6M765.95 374.64h14.6M765.95 698.06h14.6M765.95 370.13h14.6M765.95 702.57h14.6M765.95 340.47h14.6M765.95 732.23h14.6M765.95 323.12h14.6M765.95 749.58h14.6M765.95 310.81h14.6M765.95 761.89h14.6M765.95 301.26h14.6M765.95 771.44h14.6M765.95 293.46h14.6M765.95 779.24h14.6M765.95 286.86h14.6M765.95 785.84h14.6M765.95 281.15h14.6M765.95 791.55h14.6M765.95 276.11h14.6M765.95 796.59h14.6M765.95 271.6h14.6M765.95 801.1h14.6" stroke="#000" stroke-width="3.33" fill="none"/><text x="789.7" y="289.8" font-size="50">10<tspan dy="-18" font-size="36.5">13</tspan></text><text x="789.7" y="388.33" font-size="50">10<tspan dy="-18" font-size="36.5">12</tspan></text><text x="789.7" y="486.86" font-size="50">10<tspan dy="-18" font-size="36.5">11</tspan></text><text x="792.2" y="554.05" font-size="50">0</text><text transform="translate(791.03,629.24) scale(1.31,1)" font-size="50">−</text><text x="830" y="625.34" font-size="50">10<tspan dy="-18" font-size="36.5">11</tspan></text><text transform="translate(791.03,727.77) scale(1.31,1)" font-size="50">−</text><text x="830" y="723.87" font-size="50">10<tspan dy="-18" font-size="36.5">12</tspan></text><text transform="translate(791.03,826.3) scale(1.31,1)" font-size="50">−</text><text x="830" y="822.4" font-size="50">10<tspan dy="-18" font-size="36.5">13</tspan></text><text transform="translate(974.1,535.5) rotate(-90)" font-size="50" text-anchor="middle">Electric Field/Ex</text></g>
<g><path d="M1177.59 801v8.33" stroke="#000" stroke-width="2.5"/><path d="M1206.98 801v14.6" stroke="#000" stroke-width="3.33"/><path d="M1236.37 801v8.33" stroke="#000" stroke-width="2.5"/><path d="M1265.76 801v14.6" stroke="#000" stroke-width="3.33"/><path d="M1295.15 801v8.33" stroke="#000" stroke-width="2.5"/><path d="M1324.54 801v14.6" stroke="#000" stroke-width="3.33"/><path d="M1353.93 801v8.33" stroke="#000" stroke-width="2.5"/><path d="M1383.32 801v14.6" stroke="#000" stroke-width="3.33"/><path d="M1412.71 801v8.33" stroke="#000" stroke-width="2.5"/><path d="M1442.1 801v14.6" stroke="#000" stroke-width="3.33"/><path d="M1471.49 801v8.33" stroke="#000" stroke-width="2.5"/><path d="M1500.88 801v14.6" stroke="#000" stroke-width="3.33"/><path d="M1530.27 801v8.33" stroke="#000" stroke-width="2.5"/><path d="M1559.66 801v14.6" stroke="#000" stroke-width="3.33"/><path d="M1589.05 801v8.33" stroke="#000" stroke-width="2.5"/><path d="M1618.44 801v14.6" stroke="#000" stroke-width="3.33"/><path d="M1647.83 801v8.33" stroke="#000" stroke-width="2.5"/><path d="M1677.22 801v14.6" stroke="#000" stroke-width="3.33"/><path d="M1706.61 801v8.33" stroke="#000" stroke-width="2.5"/><path d="M1177.6 780.3h-14.6" stroke="#000" stroke-width="3.33"/><path d="M1177.6 750.88h-8.33" stroke="#000" stroke-width="2.5"/><path d="M1177.6 721.45h-14.6" stroke="#000" stroke-width="3.33"/><path d="M1177.6 692.02h-8.33" stroke="#000" stroke-width="2.5"/><path d="M1177.6 662.6h-14.6" stroke="#000" stroke-width="3.33"/><path d="M1177.6 633.17h-8.33" stroke="#000" stroke-width="2.5"/><path d="M1177.6 603.75h-14.6" stroke="#000" stroke-width="3.33"/><path d="M1177.6 574.32h-8.33" stroke="#000" stroke-width="2.5"/><path d="M1177.6 544.9h-14.6" stroke="#000" stroke-width="3.33"/><path d="M1177.6 515.47h-8.33" stroke="#000" stroke-width="2.5"/><path d="M1177.6 486.05h-14.6" stroke="#000" stroke-width="3.33"/><path d="M1177.6 456.62h-8.33" stroke="#000" stroke-width="2.5"/><path d="M1177.6 427.2h-14.6" stroke="#000" stroke-width="3.33"/><path d="M1177.6 397.77h-8.33" stroke="#000" stroke-width="2.5"/><path d="M1177.6 368.35h-14.6" stroke="#000" stroke-width="3.33"/><path d="M1177.6 338.92h-8.33" stroke="#000" stroke-width="2.5"/><path d="M1177.6 309.5h-14.6" stroke="#000" stroke-width="3.33"/><path d="M1177.6 280.07h-8.33" stroke="#000" stroke-width="2.5"/><rect x="1177.6" y="271.5" width="529" height="529.5" fill="none" stroke="#000" stroke-width="3.33"/><text x="1093.7" y="797.8" font-size="50">16</text><text x="1093.7" y="738.95" font-size="50">18</text><text x="1095.9" y="680.1" font-size="50">20</text><text x="1095.9" y="621.25" font-size="50">22</text><text x="1095.9" y="562.4" font-size="50">24</text><text x="1095.9" y="503.55" font-size="50">26</text><text x="1095.9" y="444.7" font-size="50">28</text><text x="1095.7" y="385.85" font-size="50">30</text><text x="1095.7" y="327" font-size="50">32</text><text transform="translate(1171.76,875.2) scale(1.31,1)" font-size="50">−</text><text x="1209.18" y="871.8" font-size="50">8</text><text transform="translate(1230.54,875.2) scale(1.31,1)" font-size="50">−</text><text x="1267.96" y="871.8" font-size="50">6</text><text transform="translate(1289.32,875.2) scale(1.31,1)" font-size="50">−</text><text x="1326.74" y="871.8" font-size="50">4</text><text transform="translate(1348.1,875.2) scale(1.31,1)" font-size="50">−</text><text x="1385.52" y="871.8" font-size="50">2</text><text x="1427.7" y="867.1" font-size="50">0</text><text x="1486.18" y="867.1" font-size="50">2</text><text x="1546.16" y="867.1" font-size="50">4</text><text x="1603.79" y="867.1" font-size="50">6</text><text x="1662.82" y="867.1" font-size="50">8</text><text x="1442.1" y="931.7" font-size="50" text-anchor="middle">x [micron]</text><text transform="translate(1070.5,536) rotate(-90)" font-size="50" text-anchor="middle">y [micron]</text><rect x="1721.6" y="271.5" width="26.45" height="529.5" fill="url(#cb)" stroke="#000" stroke-width="3.33"/><path d="M1748.05 536.35h14.6M1748.05 468.66h14.6M1748.05 604.04h14.6M1748.05 439h14.6M1748.05 633.7h14.6M1748.05 421.65h14.6M1748.05 651.05h14.6M1748.05 409.34h14.6M1748.05 663.36h14.6M1748.05 399.79h14.6M1748.05 672.91h14.6M1748.05 391.99h14.6M1748.05 680.71h14.6M1748.05 385.39h14.6M1748.05 687.31h14.6M1748.05 379.68h14.6M1748.05 693.02h14.6M1748.05 374.64h14.6M1748.05 698.06h14.6M1748.05 370.13h14.6M1748.05 702.57h14.6M1748.05 340.47h14.6M1748.05 732.23h14.6M1748.05 323.12h14.6M1748.05 749.58h14.6M1748.05 310.81h14.6M1748.05 761.89h14.6M1748.05 301.26h14.6M1748.05 771.44h14.6M1748.05 293.46h14.6M1748.05 779.24h14.6M1748.05 286.86h14.6M1748.05 785.84h14.6M1748.05 281.15h14.6M1748.05 791.55h14.6M1748.05 276.11h14.6M1748.05 796.59h14.6M1748.05 271.6h14.6M1748.05 801.1h14.6" stroke="#000" stroke-width="3.33" fill="none"/><text x="1771.8" y="289.8" font-size="50">10<tspan dy="-18" font-size="36.5">13</tspan></text><text x="1771.8" y="388.33" font-size="50">10<tspan dy="-18" font-size="36.5">12</tspan></text><text x="1771.8" y="486.86" font-size="50">10<tspan dy="-18" font-size="36.5">11</tspan></text><text x="1774.3" y="554.05" font-size="50">0</text><text transform="translate(1773.13,629.24) scale(1.31,1)" font-size="50">−</text><text x="1812.1" y="625.34" font-size="50">10<tspan dy="-18" font-size="36.5">11</tspan></text><text transform="translate(1773.13,727.77) scale(1.31,1)" font-size="50">−</text><text x="1812.1" y="723.87" font-size="50">10<tspan dy="-18" font-size="36.5">12</tspan></text><text transform="translate(1773.13,826.3) scale(1.31,1)" font-size="50">−</text><text x="1812.1" y="822.4" font-size="50">10<tspan dy="-18" font-size="36.5">13</tspan></text><text transform="translate(1956.2,535.5) rotate(-90)" font-size="50" text-anchor="middle">Electric Field/Ey</text></g>
<g><path d="M2159.59 801v8.33" stroke="#000" stroke-width="2.5"/><path d="M2188.98 801v14.6" stroke="#000" stroke-width="3.33"/><path d="M2218.37 801v8.33" stroke="#000" stroke-width="2.5"/><path d="M2247.76 801v14.6" stroke="#000" stroke-width="3.33"/><path d="M2277.15 801v8.33" stroke="#000" stroke-width="2.5"/><path d="M2306.54 801v14.6" stroke="#000" stroke-width="3.33"/><path d="M2335.93 801v8.33" stroke="#000" stroke-width="2.5"/><path d="M2365.32 801v14.6" stroke="#000" stroke-width="3.33"/><path d="M2394.71 801v8.33" stroke="#000" stroke-width="2.5"/><path d="M2424.1 801v14.6" stroke="#000" stroke-width="3.33"/><path d="M2453.49 801v8.33" stroke="#000" stroke-width="2.5"/><path d="M2482.88 801v14.6" stroke="#000" stroke-width="3.33"/><path d="M2512.27 801v8.33" stroke="#000" stroke-width="2.5"/><path d="M2541.66 801v14.6" stroke="#000" stroke-width="3.33"/><path d="M2571.05 801v8.33" stroke="#000" stroke-width="2.5"/><path d="M2600.44 801v14.6" stroke="#000" stroke-width="3.33"/><path d="M2629.83 801v8.33" stroke="#000" stroke-width="2.5"/><path d="M2659.22 801v14.6" stroke="#000" stroke-width="3.33"/><path d="M2688.61 801v8.33" stroke="#000" stroke-width="2.5"/><path d="M2159.6 780.3h-14.6" stroke="#000" stroke-width="3.33"/><path d="M2159.6 750.88h-8.33" stroke="#000" stroke-width="2.5"/><path d="M2159.6 721.45h-14.6" stroke="#000" stroke-width="3.33"/><path d="M2159.6 692.02h-8.33" stroke="#000" stroke-width="2.5"/><path d="M2159.6 662.6h-14.6" stroke="#000" stroke-width="3.33"/><path d="M2159.6 633.17h-8.33" stroke="#000" stroke-width="2.5"/><path d="M2159.6 603.75h-14.6" stroke="#000" stroke-width="3.33"/><path d="M2159.6 574.32h-8.33" stroke="#000" stroke-width="2.5"/><path d="M2159.6 544.9h-14.6" stroke="#000" stroke-width="3.33"/><path d="M2159.6 515.47h-8.33" stroke="#000" stroke-width="2.5"/><path d="M2159.6 486.05h-14.6" stroke="#000" stroke-width="3.33"/><path d="M2159.6 456.62h-8.33" stroke="#000" stroke-width="2.5"/><path d="M2159.6 427.2h-14.6" stroke="#000" stroke-width="3.33"/><path d="M2159.6 397.77h-8.33" stroke="#000" stroke-width="2.5"/><path d="M2159.6 368.35h-14.6" stroke="#000" stroke-width="3.33"/><path d="M2159.6 338.92h-8.33" stroke="#000" stroke-width="2.5"/><path d="M2159.6 309.5h-14.6" stroke="#000" stroke-width="3.33"/><path d="M2159.6 280.07h-8.33" stroke="#000" stroke-width="2.5"/><rect x="2159.6" y="271.5" width="529" height="529.5" fill="none" stroke="#000" stroke-width="3.33"/><text x="2075.7" y="797.8" font-size="50">16</text><text x="2075.7" y="738.95" font-size="50">18</text><text x="2077.9" y="680.1" font-size="50">20</text><text x="2077.9" y="621.25" font-size="50">22</text><text x="2077.9" y="562.4" font-size="50">24</text><text x="2077.9" y="503.55" font-size="50">26</text><text x="2077.9" y="444.7" font-size="50">28</text><text x="2077.7" y="385.85" font-size="50">30</text><text x="2077.7" y="327" font-size="50">32</text><text transform="translate(2153.76,875.2) scale(1.31,1)" font-size="50">−</text><text x="2191.18" y="871.8" font-size="50">8</text><text transform="translate(2212.54,875.2) scale(1.31,1)" font-size="50">−</text><text x="2249.96" y="871.8" font-size="50">6</text><text transform="translate(2271.32,875.2) scale(1.31,1)" font-size="50">−</text><text x="2308.74" y="871.8" font-size="50">4</text><text transform="translate(2330.1,875.2) scale(1.31,1)" font-size="50">−</text><text x="2367.52" y="871.8" font-size="50">2</text><text x="2409.7" y="867.1" font-size="50">0</text><text x="2468.18" y="867.1" font-size="50">2</text><text x="2528.16" y="867.1" font-size="50">4</text><text x="2585.79" y="867.1" font-size="50">6</text><text x="2644.82" y="867.1" font-size="50">8</text><text x="2424.1" y="931.7" font-size="50" text-anchor="middle">x [micron]</text><text transform="translate(2052.5,536) rotate(-90)" font-size="50" text-anchor="middle">y [micron]</text><rect x="2703.6" y="271.5" width="26.45" height="529.5" fill="url(#cb)" stroke="#000" stroke-width="3.33"/><path d="M2730.05 536.35h14.6M2730.05 468.66h14.6M2730.05 604.04h14.6M2730.05 439h14.6M2730.05 633.7h14.6M2730.05 421.65h14.6M2730.05 651.05h14.6M2730.05 409.34h14.6M2730.05 663.36h14.6M2730.05 399.79h14.6M2730.05 672.91h14.6M2730.05 391.99h14.6M2730.05 680.71h14.6M2730.05 385.39h14.6M2730.05 687.31h14.6M2730.05 379.68h14.6M2730.05 693.02h14.6M2730.05 374.64h14.6M2730.05 698.06h14.6M2730.05 370.13h14.6M2730.05 702.57h14.6M2730.05 340.47h14.6M2730.05 732.23h14.6M2730.05 323.12h14.6M2730.05 749.58h14.6M2730.05 310.81h14.6M2730.05 761.89h14.6M2730.05 301.26h14.6M2730.05 771.44h14.6M2730.05 293.46h14.6M2730.05 779.24h14.6M2730.05 286.86h14.6M2730.05 785.84h14.6M2730.05 281.15h14.6M2730.05 791.55h14.6M2730.05 276.11h14.6M2730.05 796.59h14.6M2730.05 271.6h14.6M2730.05 801.1h14.6" stroke="#000" stroke-width="3.33" fill="none"/><text x="2753.8" y="289.8" font-size="50">10<tspan dy="-18" font-size="36.5">13</tspan></text><text x="2753.8" y="388.33" font-size="50">10<tspan dy="-18" font-size="36.5">12</tspan></text><text x="2753.8" y="486.86" font-size="50">10<tspan dy="-18" font-size="36.5">11</tspan></text><text x="2756.3" y="554.05" font-size="50">0</text><text transform="translate(2755.13,629.24) scale(1.31,1)" font-size="50">−</text><text x="2794.1" y="625.34" font-size="50">10<tspan dy="-18" font-size="36.5">11</tspan></text><text transform="translate(2755.13,727.77) scale(1.31,1)" font-size="50">−</text><text x="2794.1" y="723.87" font-size="50">10<tspan dy="-18" font-size="36.5">12</tspan></text><text transform="translate(2755.13,826.3) scale(1.31,1)" font-size="50">−</text><text x="2794.1" y="822.4" font-size="50">10<tspan dy="-18" font-size="36.5">13</tspan></text><text transform="translate(2938.2,535.5) rotate(-90)" font-size="50" text-anchor="middle">Electric Field/Ez</text></g>
<g font-size="60"><text x="1154.2" y="65.6">Simulation time</text><text x="1552.6" y="65.6" font-style="italic">t</text><text transform="translate(1586.01,70.3) scale(1.43,1)">=</text><text x="1649" y="65.6">111.0</text><text x="1796.7" y="65.6">fs</text></g>
</svg>
</div>
</body></html>
